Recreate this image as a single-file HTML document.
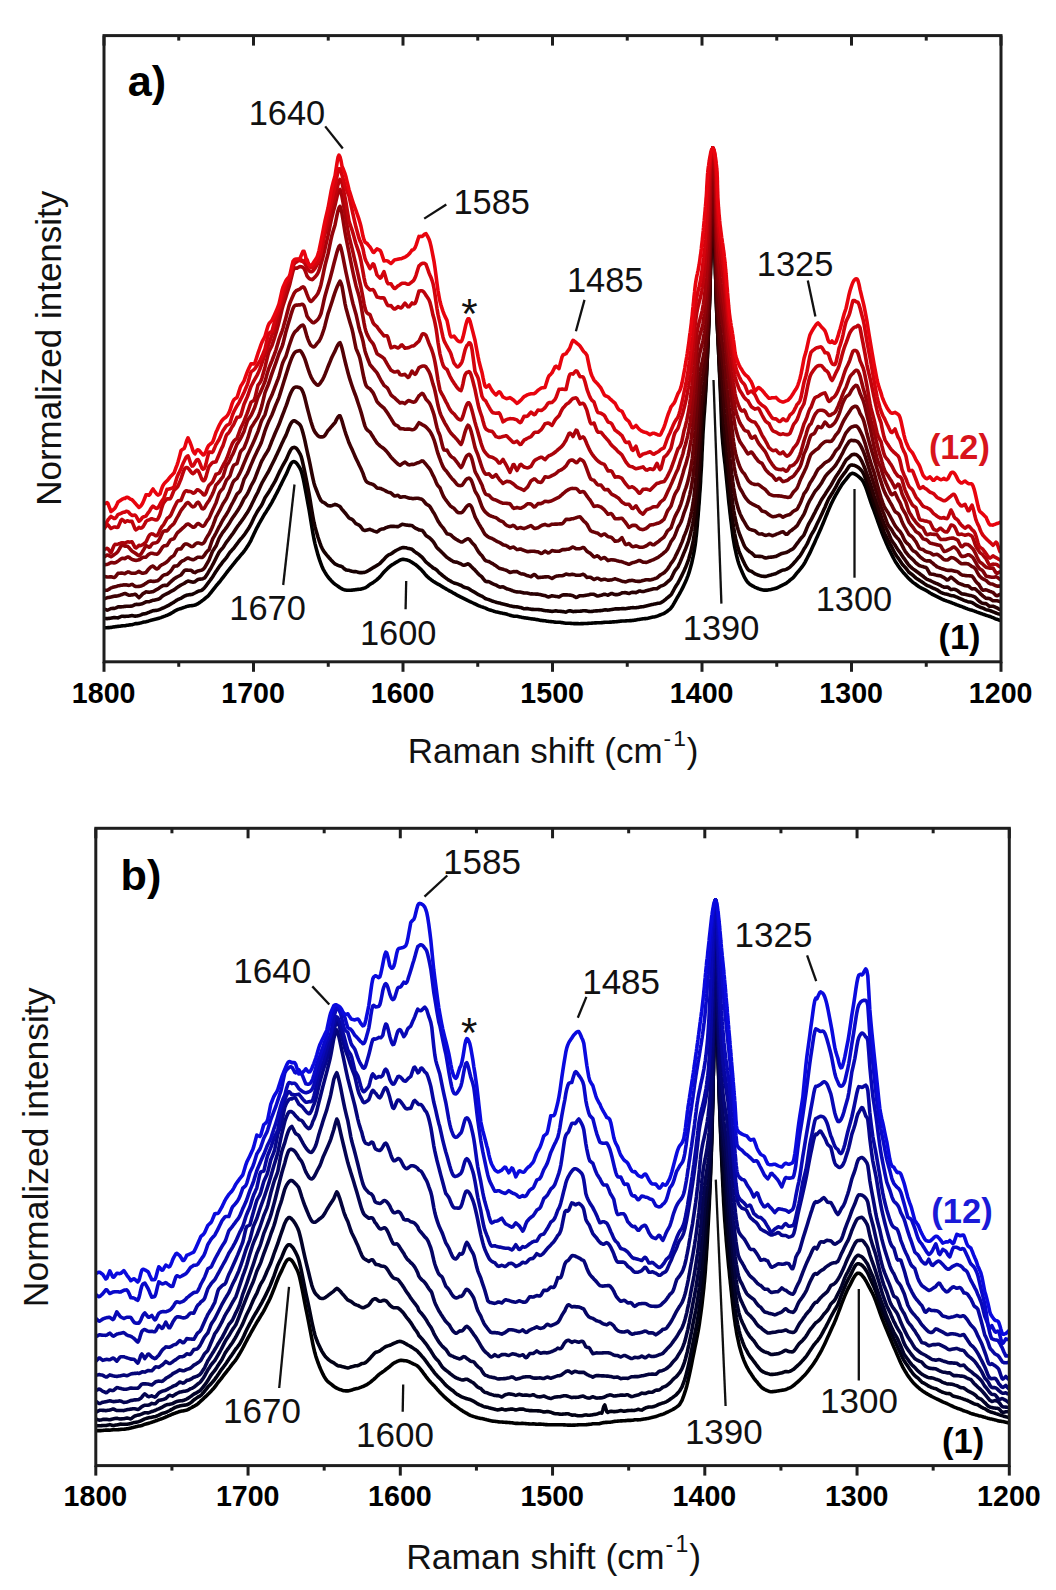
<!DOCTYPE html>
<html><head><meta charset="utf-8"><style>
html,body{margin:0;padding:0;background:#fff;}
svg{display:block;font-family:'Liberation Sans',sans-serif}
</style></head><body>
<svg width="1056" height="1590" viewBox="0 0 1056 1590">
<defs>
<clipPath id="ca"><rect x="104.0" y="35.6" width="897.0" height="626.2"/></clipPath>
<clipPath id="cb"><rect x="95.8" y="828.3" width="913.5" height="637.3"/></clipPath>
</defs>
<rect width="100%" height="100%" fill="#fff"/>
<g>
<g clip-path="url(#ca)" fill="none" stroke-width="3.60" stroke-linejoin="round" stroke-linecap="round">
<path d="M104.0 627.7L105.0 627.7L106.0 627.7L107.0 627.7L108.0 627.6L109.0 627.6L110.0 627.5L111.0 627.4L112.0 627.2L113.0 627.0L114.0 626.9L115.0 626.7L116.0 626.6L117.0 626.5L118.0 626.4L119.0 626.3L120.0 626.2L121.0 626.0L122.0 625.9L123.0 625.8L124.0 625.7L125.0 625.7L126.0 625.5L127.0 625.3L128.0 625.2L129.0 625.0L130.0 624.9L131.0 624.8L132.0 624.7L133.0 624.4L134.0 624.1L135.0 623.8L136.0 623.6L137.0 623.6L138.0 623.5L139.0 623.4L140.0 623.1L141.0 622.9L142.0 622.6L143.0 622.3L144.0 622.1L145.0 621.9L146.0 621.7L147.0 621.4L148.0 621.2L149.0 620.9L150.0 620.6L151.0 620.3L152.0 620.1L153.0 619.8L154.0 619.6L155.0 619.3L156.0 619.1L157.0 618.8L158.0 618.5L159.0 618.2L160.0 617.9L161.0 617.6L162.0 617.2L163.0 616.8L164.0 616.4L165.0 616.1L166.0 615.7L167.0 615.3L168.0 614.9L169.0 614.4L170.0 614.0L171.0 613.4L172.0 612.8L173.0 612.2L174.0 611.5L175.0 610.9L176.0 610.4L177.0 609.9L178.0 609.4L179.0 609.1L180.0 608.8L181.0 608.5L182.0 608.1L183.0 607.8L184.0 607.4L185.0 607.1L186.0 606.7L187.0 606.4L188.0 606.1L189.0 606.0L190.0 605.8L191.0 605.7L192.0 605.6L193.0 605.5L194.0 605.3L195.0 605.0L196.0 604.7L197.0 604.2L198.0 603.6L199.0 603.0L200.0 602.3L201.0 601.6L202.0 600.8L203.0 600.1L204.0 599.3L205.0 598.5L206.0 597.7L207.0 596.9L208.0 595.9L209.0 594.9L210.0 593.7L211.0 592.5L212.0 591.2L213.0 589.9L214.0 588.6L215.0 587.3L216.0 586.0L217.0 584.8L218.0 583.7L219.0 582.5L220.0 581.3L221.0 580.0L222.0 578.7L223.0 577.5L224.0 576.2L225.0 574.8L226.0 573.5L227.0 572.2L228.0 570.9L229.0 569.7L230.0 568.4L231.0 567.1L232.0 565.9L233.0 564.6L234.0 563.4L235.0 562.1L236.0 560.9L237.0 559.7L238.0 558.5L239.0 557.3L240.0 556.1L241.0 554.9L242.0 553.8L243.0 552.6L244.0 551.3L245.0 550.0L246.0 548.6L247.0 547.1L248.0 545.6L249.0 543.9L250.0 542.2L251.0 540.3L252.0 538.1L253.0 536.0L254.0 533.8L255.0 531.7L256.0 529.6L257.0 527.7L258.0 525.8L259.0 523.9L260.0 522.2L261.0 520.4L262.0 518.7L263.0 516.9L264.0 515.2L265.0 513.5L266.0 512.0L267.0 510.4L268.0 508.8L269.0 507.2L270.0 505.5L271.0 503.8L272.0 502.1L273.0 500.2L274.0 498.4L275.0 496.4L276.0 494.5L277.0 492.6L278.0 490.7L279.0 488.7L280.0 486.6L281.0 484.6L282.0 482.5L283.0 480.5L284.0 478.5L285.0 476.5L286.0 474.6L287.0 472.4L288.0 470.1L289.0 467.7L290.0 465.6L291.0 463.7L292.0 462.4L293.0 461.7L294.0 461.6L295.0 462.0L296.0 462.6L297.0 463.7L298.0 465.1L299.0 466.7L300.0 468.4L301.0 470.4L302.0 473.6L303.0 477.7L304.0 482.4L305.0 487.6L306.0 493.0L307.0 498.4L308.0 503.8L309.0 509.2L310.0 515.2L311.0 521.5L312.0 527.7L313.0 533.7L314.0 539.0L315.0 543.6L316.0 547.6L317.0 551.3L318.0 554.9L319.0 558.1L320.0 561.2L321.0 563.9L322.0 566.5L323.0 568.8L324.0 570.7L325.0 572.4L326.0 574.0L327.0 575.5L328.0 576.9L329.0 578.2L330.0 579.3L331.0 580.4L332.0 581.4L333.0 582.5L334.0 583.4L335.0 584.2L336.0 584.9L337.0 585.6L338.0 586.3L339.0 587.0L340.0 587.7L341.0 588.3L342.0 588.9L343.0 589.3L344.0 589.7L345.0 589.9L346.0 590.1L347.0 590.2L348.0 590.3L349.0 590.3L350.0 590.3L351.0 590.2L352.0 590.1L353.0 590.0L354.0 589.9L355.0 589.7L356.0 589.6L357.0 589.5L358.0 589.4L359.0 589.3L360.0 589.2L361.0 589.1L362.0 588.8L363.0 588.6L364.0 588.2L365.0 587.8L366.0 587.3L367.0 586.7L368.0 586.0L369.0 585.2L370.0 584.4L371.0 583.8L372.0 583.2L373.0 582.6L374.0 581.9L375.0 581.1L376.0 580.4L377.0 579.6L378.0 578.7L379.0 577.8L380.0 576.7L381.0 575.6L382.0 574.4L383.0 573.2L384.0 572.0L385.0 571.0L386.0 570.0L387.0 569.1L388.0 568.1L389.0 567.2L390.0 566.3L391.0 565.5L392.0 564.9L393.0 564.3L394.0 563.7L395.0 563.0L396.0 562.4L397.0 561.9L398.0 561.3L399.0 560.7L400.0 560.2L401.0 559.7L402.0 559.4L403.0 559.4L404.0 559.4L405.0 559.6L406.0 559.7L407.0 559.9L408.0 560.3L409.0 560.7L410.0 561.2L411.0 561.8L412.0 562.4L413.0 563.0L414.0 563.7L415.0 564.3L416.0 565.0L417.0 565.8L418.0 566.7L419.0 567.7L420.0 568.6L421.0 569.6L422.0 570.6L423.0 571.7L424.0 572.9L425.0 574.1L426.0 575.2L427.0 576.3L428.0 577.2L429.0 578.1L430.0 578.9L431.0 579.7L432.0 580.4L433.0 581.2L434.0 581.8L435.0 582.4L436.0 583.0L437.0 583.6L438.0 584.1L439.0 584.7L440.0 585.2L441.0 585.9L442.0 586.5L443.0 587.1L444.0 587.7L445.0 588.3L446.0 588.9L447.0 589.5L448.0 590.0L449.0 590.6L450.0 591.2L451.0 591.7L452.0 592.2L453.0 592.8L454.0 593.3L455.0 593.9L456.0 594.5L457.0 595.1L458.0 595.6L459.0 596.1L460.0 596.6L461.0 597.2L462.0 597.7L463.0 598.2L464.0 598.7L465.0 599.2L466.0 599.7L467.0 600.2L468.0 600.7L469.0 601.1L470.0 601.6L471.0 602.0L472.0 602.5L473.0 603.0L474.0 603.5L475.0 603.9L476.0 604.4L477.0 604.9L478.0 605.4L479.0 605.8L480.0 606.2L481.0 606.6L482.0 606.9L483.0 607.2L484.0 607.6L485.0 607.9L486.0 608.3L487.0 608.8L488.0 609.3L489.0 609.7L490.0 610.0L491.0 610.3L492.0 610.6L493.0 610.9L494.0 611.3L495.0 611.6L496.0 611.9L497.0 612.1L498.0 612.3L499.0 612.5L500.0 612.7L501.0 612.9L502.0 613.1L503.0 613.4L504.0 613.6L505.0 613.8L506.0 613.9L507.0 614.2L508.0 614.6L509.0 614.9L510.0 615.2L511.0 615.5L512.0 615.8L513.0 616.0L514.0 616.2L515.0 616.2L516.0 616.3L517.0 616.3L518.0 616.5L519.0 616.7L520.0 616.9L521.0 617.1L522.0 617.4L523.0 617.6L524.0 617.8L525.0 617.9L526.0 618.0L527.0 618.1L528.0 618.2L529.0 618.4L530.0 618.6L531.0 618.7L532.0 618.9L533.0 619.0L534.0 619.1L535.0 619.3L536.0 619.5L537.0 619.6L538.0 619.8L539.0 620.0L540.0 620.2L541.0 620.4L542.0 620.5L543.0 620.6L544.0 620.7L545.0 620.8L546.0 621.0L547.0 621.2L548.0 621.3L549.0 621.5L550.0 621.5L551.0 621.6L552.0 621.7L553.0 621.8L554.0 622.0L555.0 622.1L556.0 622.2L557.0 622.2L558.0 622.2L559.0 622.2L560.0 622.3L561.0 622.5L562.0 622.6L563.0 622.7L564.0 622.9L565.0 623.1L566.0 623.2L567.0 623.3L568.0 623.3L569.0 623.2L570.0 623.3L571.0 623.4L572.0 623.5L573.0 623.5L574.0 623.6L575.0 623.6L576.0 623.6L577.0 623.6L578.0 623.6L579.0 623.7L580.0 623.7L581.0 623.6L582.0 623.6L583.0 623.6L584.0 623.5L585.0 623.5L586.0 623.5L587.0 623.5L588.0 623.4L589.0 623.3L590.0 623.3L591.0 623.2L592.0 623.1L593.0 623.0L594.0 623.0L595.0 622.9L596.0 622.9L597.0 622.8L598.0 622.8L599.0 622.7L600.0 622.7L601.0 622.7L602.0 622.6L603.0 622.5L604.0 622.4L605.0 622.3L606.0 622.3L607.0 622.2L608.0 622.2L609.0 622.2L610.0 622.1L611.0 622.1L612.0 622.0L613.0 621.9L614.0 621.9L615.0 621.8L616.0 621.7L617.0 621.6L618.0 621.5L619.0 621.4L620.0 621.3L621.0 621.1L622.0 621.0L623.0 621.0L624.0 621.0L625.0 621.0L626.0 620.9L627.0 620.8L628.0 620.8L629.0 620.7L630.0 620.6L631.0 620.6L632.0 620.5L633.0 620.4L634.0 620.2L635.0 620.1L636.0 620.0L637.0 619.8L638.0 619.6L639.0 619.4L640.0 619.2L641.0 619.1L642.0 618.9L643.0 618.7L644.0 618.7L645.0 618.6L646.0 618.6L647.0 618.4L648.0 618.2L649.0 617.9L650.0 617.7L651.0 617.5L652.0 617.3L653.0 617.1L654.0 616.9L655.0 616.7L656.0 616.4L657.0 616.2L658.0 615.8L659.0 615.4L660.0 615.0L661.0 614.6L662.0 614.2L663.0 613.8L664.0 613.3L665.0 612.8L666.0 612.1L667.0 611.5L668.0 610.7L669.0 609.9L670.0 609.1L671.0 608.0L672.0 606.7L673.0 605.1L674.0 603.4L675.0 601.6L676.0 599.8L677.0 598.0L678.0 596.3L679.0 594.6L680.0 592.8L681.0 591.0L682.0 589.1L683.0 587.1L684.0 585.0L685.4 581.9L686.8 578.7L688.0 575.6L689.1 572.4L690.0 569.3L690.9 566.1L691.7 563.0L692.4 559.8L693.1 556.7L693.7 553.6L694.3 550.4L694.8 547.3L695.3 544.1L695.7 541.0L696.0 537.8L696.4 534.7L696.7 531.6L697.0 528.4L697.3 525.3L697.5 522.1L697.8 519.0L698.1 515.8L698.3 512.7L698.6 509.5L698.8 506.4L699.1 503.3L699.3 500.1L699.5 497.0L699.7 493.8L700.0 490.7L700.2 487.5L700.4 484.4L700.6 481.3L700.7 478.1L700.9 475.0L701.1 471.8L701.3 468.7L701.5 465.5L701.6 462.4L701.8 459.2L701.9 456.1L702.0 453.0L702.2 449.8L702.3 446.7L702.5 443.5L702.6 440.4L702.8 437.2L702.9 434.1L703.1 430.9L703.3 427.8L703.5 424.7L703.7 421.5L703.9 418.4L704.1 415.2L704.4 412.1L704.6 408.9L704.8 405.8L705.0 402.7L705.2 399.5L705.4 396.4L705.6 393.2L705.8 390.1L705.9 386.9L706.1 383.8L706.3 380.6L706.4 377.5L706.6 374.4L706.7 371.2L706.9 368.1L707.0 364.9L707.2 361.8L707.3 358.6L707.5 355.5L707.6 352.4L707.7 349.2L707.9 346.1L708.0 342.9L708.1 339.8L708.3 336.6L708.4 333.5L708.5 330.3L708.6 327.2L708.8 324.1L708.9 320.9L709.0 317.8L709.1 314.6L709.2 311.5L709.3 308.3L709.4 305.2L709.5 302.1L709.6 298.9L709.7 295.8L709.8 292.6L709.9 289.5L710.0 286.3L710.1 283.2L710.2 280.0L710.3 276.9L710.4 273.8L710.4 270.6L710.5 267.5L710.6 264.3L710.7 261.2L710.8 258.0L710.8 254.9L710.9 251.7L711.0 248.6L711.1 245.5L711.1 242.3L711.2 239.2L711.3 236.0L711.4 232.9L711.4 229.7L711.5 226.6L711.6 223.5L711.6 220.3L711.7 217.2L711.8 214.0L711.8 210.9L711.9 207.7L711.9 204.6L712.0 201.4L712.1 198.3L712.1 195.2L712.2 192.0L712.2 188.9L712.3 185.7L712.3 182.6L712.3 179.4L712.4 176.3L712.4 173.2L712.4 170.0L712.5 166.9L712.5 163.7L712.5 160.6L712.6 157.4L712.6 154.3L712.7 151.1L712.8 148.0L713.0 151.0L713.0 154.0L713.1 157.0L713.1 160.1L713.2 163.1L713.2 166.1L713.3 169.1L713.3 172.1L713.4 175.1L713.4 178.1L713.4 181.2L713.5 184.2L713.5 187.2L713.6 190.2L713.7 193.2L713.7 196.2L713.8 199.2L713.9 202.3L713.9 205.3L714.0 208.3L714.1 211.3L714.2 214.3L714.2 217.3L714.3 220.3L714.4 223.4L714.5 226.4L714.5 229.4L714.6 232.4L714.7 235.4L714.8 238.4L714.8 241.4L714.9 244.5L715.0 247.5L715.0 250.5L715.1 253.5L715.2 256.5L715.3 259.5L715.3 262.5L715.4 265.6L715.5 268.6L715.5 271.6L715.6 274.6L715.7 277.6L715.8 280.6L715.8 283.6L715.9 286.7L716.0 289.7L716.1 292.7L716.2 295.7L716.3 298.7L716.4 301.7L716.5 304.7L716.6 307.8L716.7 310.8L716.8 313.8L716.9 316.8L717.1 319.8L717.2 322.8L717.4 325.8L717.5 328.9L717.6 331.9L717.8 334.9L717.9 337.9L718.1 340.9L718.2 343.9L718.4 346.9L718.5 350.0L718.6 353.0L718.8 356.0L718.9 359.0L719.0 362.0L719.2 365.0L719.3 368.1L719.4 371.1L719.6 374.1L719.7 377.1L719.9 380.1L720.0 383.1L720.1 386.1L720.3 389.2L720.4 392.2L720.5 395.2L720.6 398.2L720.7 401.2L720.9 404.2L721.0 407.2L721.1 410.3L721.2 413.3L721.3 416.3L721.4 419.3L721.5 422.3L721.6 425.3L721.8 428.3L721.9 431.4L722.1 434.4L722.3 437.4L722.6 440.4L722.8 443.4L723.1 446.4L723.4 449.4L723.7 452.5L724.0 455.5L724.4 458.5L724.7 461.5L725.1 464.5L725.4 467.5L725.7 470.5L726.0 473.6L726.3 476.6L726.6 479.6L726.9 482.6L727.2 485.6L727.5 488.6L727.8 491.6L728.1 494.7L728.4 497.7L728.7 500.7L729.0 503.7L729.4 506.7L729.7 509.7L730.0 512.7L730.4 515.8L730.7 518.8L731.1 521.8L731.5 524.8L731.8 527.8L732.2 530.8L732.6 533.8L733.0 536.9L733.5 539.9L734.0 542.9L734.5 545.9L735.1 548.9L735.8 551.9L736.4 554.9L737.2 558.0L738.0 561.0L738.9 564.0L740.0 567.0L741.0 569.4L742.0 571.8L743.0 574.1L744.0 576.2L745.0 578.2L746.0 579.9L747.0 581.3L748.0 582.6L749.0 583.6L750.0 584.4L751.0 585.0L752.0 585.6L753.0 586.2L754.0 586.7L755.0 587.3L756.0 587.7L757.0 588.1L758.0 588.5L759.0 588.9L760.0 589.2L761.0 589.6L762.0 589.8L763.0 590.0L764.0 590.1L765.0 590.1L766.0 590.1L767.0 590.1L768.0 590.0L769.0 589.8L770.0 589.7L771.0 589.5L772.0 589.2L773.0 589.0L774.0 588.8L775.0 588.5L776.0 588.3L777.0 587.8L778.0 587.3L779.0 586.9L780.0 586.4L781.0 585.8L782.0 585.3L783.0 584.8L784.0 584.4L785.0 583.9L786.0 583.4L787.0 582.7L788.0 581.9L789.0 581.1L790.0 580.2L791.0 579.4L792.0 578.6L793.0 577.8L794.0 576.7L795.0 575.5L796.0 574.2L797.0 572.9L798.0 571.8L799.0 570.6L800.0 569.4L801.0 568.2L802.0 566.9L803.0 565.5L804.0 564.0L805.0 562.3L806.0 560.4L807.0 558.5L808.0 556.5L809.0 554.6L810.0 552.6L811.0 550.5L812.0 548.3L813.0 546.1L814.0 543.9L815.0 541.7L816.0 539.4L817.0 537.2L818.0 535.0L819.0 532.8L820.0 530.6L821.0 528.2L822.0 525.9L823.0 523.5L824.0 521.1L825.0 518.6L826.0 516.1L827.0 513.7L828.0 511.2L829.0 508.9L830.0 506.6L831.0 504.3L832.0 502.2L833.0 500.2L834.0 498.2L835.0 496.3L836.0 494.5L837.0 492.8L838.0 491.1L839.0 489.4L840.0 487.7L841.0 486.1L842.0 484.5L843.0 483.1L844.0 481.8L845.0 480.6L846.0 479.5L847.0 478.2L848.0 476.9L849.0 475.6L850.0 474.5L851.0 473.8L852.0 473.4L853.0 473.4L854.0 473.7L855.0 474.1L856.0 474.7L857.0 475.4L858.0 476.1L859.0 477.0L860.0 477.9L861.0 478.8L862.0 479.9L863.0 481.3L864.0 483.2L865.0 485.4L866.0 487.9L867.0 490.6L868.0 493.6L869.0 496.7L870.0 499.7L871.0 502.7L872.0 505.5L873.0 508.1L874.0 510.6L875.0 513.4L876.0 516.1L877.0 519.0L878.0 521.8L879.0 524.6L880.0 527.4L881.0 530.2L882.0 532.8L883.0 535.3L884.0 537.7L885.0 540.1L886.0 542.5L887.0 544.8L888.0 547.1L889.0 549.1L890.0 551.2L891.0 553.1L892.0 555.1L893.0 557.1L894.0 559.0L895.0 560.8L896.0 562.5L897.0 564.1L898.0 565.6L899.0 567.0L900.0 568.4L901.0 569.7L902.0 570.9L903.0 572.1L904.0 573.3L905.0 574.4L906.0 575.5L907.0 576.6L908.0 577.7L909.0 578.7L910.0 579.7L911.0 580.6L912.0 581.5L913.0 582.4L914.0 583.1L915.0 583.8L916.0 584.5L917.0 585.3L918.0 586.0L919.0 586.7L920.0 587.3L921.0 587.9L922.0 588.4L923.0 588.9L924.0 589.4L925.0 589.9L926.0 590.4L927.0 591.0L928.0 591.6L929.0 592.3L930.0 593.0L931.0 593.5L932.0 594.1L933.0 594.7L934.0 595.2L935.0 595.7L936.0 596.2L937.0 596.7L938.0 597.2L939.0 597.7L940.0 598.2L941.0 598.7L942.0 599.2L943.0 599.6L944.0 600.0L945.0 600.4L946.0 600.7L947.0 601.1L948.0 601.4L949.0 601.8L950.0 602.1L951.0 602.5L952.0 602.9L953.0 603.3L954.0 603.7L955.0 604.1L956.0 604.5L957.0 604.9L958.0 605.2L959.0 605.6L960.0 606.0L961.0 606.3L962.0 606.7L963.0 607.1L964.0 607.5L965.0 607.9L966.0 608.3L967.0 608.7L968.0 609.1L969.0 609.4L970.0 609.7L971.0 609.9L972.0 610.2L973.0 610.6L974.0 610.9L975.0 611.3L976.0 611.7L977.0 612.1L978.0 612.4L979.0 612.8L980.0 613.1L981.0 613.5L982.0 613.8L983.0 614.2L984.0 614.5L985.0 614.9L986.0 615.3L987.0 615.6L988.0 615.9L989.0 616.2L990.0 616.5L991.0 616.9L992.0 617.3L993.0 617.7L994.0 618.1L995.0 618.6L996.0 619.0L997.0 619.3L998.0 619.6L999.0 620.0L1000.0 620.3L1001.0 620.6" stroke="#000000"/>
<path d="M104.0 618.4L105.0 618.5L106.0 618.5L107.0 618.6L108.0 618.5L109.0 618.4L110.0 618.2L111.0 618.1L112.0 617.9L113.0 617.8L114.0 617.6L115.0 617.6L116.0 617.7L117.0 617.8L118.0 617.9L119.0 617.4L120.0 617.0L121.0 616.5L122.0 616.3L123.0 616.3L124.0 616.4L125.0 616.5L126.0 616.3L127.0 616.2L128.0 616.2L129.0 616.1L130.0 615.9L131.0 615.8L132.0 615.6L133.0 615.8L134.0 616.0L135.0 616.1L136.0 616.1L137.0 615.9L138.0 615.7L139.0 615.5L140.0 615.2L141.0 614.8L142.0 614.3L143.0 614.0L144.0 613.9L145.0 613.8L146.0 613.6L147.0 613.2L148.0 612.7L149.0 612.3L150.0 611.9L151.0 611.5L152.0 611.1L153.0 610.7L154.0 610.6L155.0 610.5L156.0 610.4L157.0 610.2L158.0 610.0L159.0 609.7L160.0 609.3L161.0 608.9L162.0 608.4L163.0 608.0L164.0 607.6L165.0 607.1L166.0 606.7L167.0 606.2L168.0 605.7L169.0 605.1L170.0 604.5L171.0 603.9L172.0 603.3L173.0 602.7L174.0 602.1L175.0 601.4L176.0 600.7L177.0 600.0L178.0 599.5L179.0 599.1L180.0 598.7L181.0 598.3L182.0 597.6L183.0 597.0L184.0 596.4L185.0 595.9L186.0 595.5L187.0 595.1L188.0 594.9L189.0 594.7L190.0 594.6L191.0 594.6L192.0 594.4L193.0 594.0L194.0 593.5L195.0 593.0L196.0 592.5L197.0 591.9L198.0 591.4L199.0 591.0L200.0 590.8L201.0 590.5L202.0 590.1L203.0 589.2L204.0 588.2L205.0 587.1L206.0 585.9L207.0 584.5L208.0 583.2L209.0 581.8L210.0 580.5L211.0 579.1L212.0 577.7L213.0 576.2L214.0 574.6L215.0 573.0L216.0 571.4L217.0 570.0L218.0 568.5L219.0 567.0L220.0 565.7L221.0 564.4L222.0 563.0L223.0 561.6L224.0 560.5L225.0 559.3L226.0 558.1L227.0 556.8L228.0 555.3L229.0 553.8L230.0 552.3L231.0 551.2L232.0 550.1L233.0 549.1L234.0 547.9L235.0 546.5L236.0 545.2L237.0 543.8L238.0 542.5L239.0 541.2L240.0 539.9L241.0 538.7L242.0 537.6L243.0 536.4L244.0 535.2L245.0 533.8L246.0 532.3L247.0 530.8L248.0 529.3L249.0 527.7L250.0 526.0L251.0 524.1L252.0 522.1L253.0 519.9L254.0 517.8L255.0 515.8L256.0 514.0L257.0 512.2L258.0 510.5L259.0 509.0L260.0 507.5L261.0 506.2L262.0 504.4L263.0 502.2L264.0 500.0L265.0 497.8L266.0 496.3L267.0 494.8L268.0 493.3L269.0 491.8L270.0 490.0L271.0 488.3L272.0 486.5L273.0 484.8L274.0 483.1L275.0 481.4L276.0 479.4L277.0 477.3L278.0 475.1L279.0 472.9L280.0 470.9L281.0 469.0L282.0 467.0L283.0 465.2L284.0 463.4L285.0 461.6L286.0 459.9L287.0 457.7L288.0 455.4L289.0 453.1L290.0 451.1L291.0 449.4L292.0 448.2L293.0 447.7L294.0 447.4L295.0 447.5L296.0 448.1L297.0 449.1L298.0 450.5L299.0 452.1L300.0 453.8L301.0 456.1L302.0 459.5L303.0 463.8L304.0 468.3L305.0 473.1L306.0 478.1L307.0 483.2L308.0 488.4L309.0 493.6L310.0 499.4L311.0 505.5L312.0 511.6L313.0 517.3L314.0 522.5L315.0 526.7L316.0 530.4L317.0 533.8L318.0 537.2L319.0 540.3L320.0 543.2L321.0 545.9L322.0 548.1L323.0 550.0L324.0 551.6L325.0 552.9L326.0 554.2L327.0 555.4L328.0 556.5L329.0 557.7L330.0 558.8L331.0 559.9L332.0 560.9L333.0 562.0L334.0 563.0L335.0 563.9L336.0 564.4L337.0 564.8L338.0 565.3L339.0 565.7L340.0 566.0L341.0 566.3L342.0 566.6L343.0 567.6L344.0 568.5L345.0 569.3L346.0 569.9L347.0 570.1L348.0 570.2L349.0 570.3L350.0 570.7L351.0 571.0L352.0 571.3L353.0 571.5L354.0 571.6L355.0 571.6L356.0 571.6L357.0 571.9L358.0 572.2L359.0 572.5L360.0 572.6L361.0 572.6L362.0 572.6L363.0 572.5L364.0 572.4L365.0 572.2L366.0 571.8L367.0 571.4L368.0 570.8L369.0 570.2L370.0 569.6L371.0 569.0L372.0 568.4L373.0 567.7L374.0 567.1L375.0 566.6L376.0 566.0L377.0 565.4L378.0 564.8L379.0 564.1L380.0 563.3L381.0 562.4L382.0 561.3L383.0 560.2L384.0 559.2L385.0 558.1L386.0 557.0L387.0 556.1L388.0 555.3L389.0 554.7L390.0 554.3L391.0 553.9L392.0 553.2L393.0 552.5L394.0 551.8L395.0 551.1L396.0 550.5L397.0 550.0L398.0 549.5L399.0 549.0L400.0 548.5L401.0 548.1L402.0 547.8L403.0 547.6L404.0 547.6L405.0 547.7L406.0 547.8L407.0 548.1L408.0 548.4L409.0 548.6L410.0 548.8L411.0 549.0L412.0 549.3L413.0 550.2L414.0 551.1L415.0 551.9L416.0 552.6L417.0 553.2L418.0 553.9L419.0 554.7L420.0 555.5L421.0 556.3L422.0 557.2L423.0 558.3L424.0 559.5L425.0 560.8L426.0 562.0L427.0 562.9L428.0 563.7L429.0 564.5L430.0 565.3L431.0 566.1L432.0 566.9L433.0 567.8L434.0 568.3L435.0 568.9L436.0 569.5L437.0 570.3L438.0 571.4L439.0 572.4L440.0 573.4L441.0 574.2L442.0 575.0L443.0 575.8L444.0 576.6L445.0 577.4L446.0 578.1L447.0 578.9L448.0 579.6L449.0 580.2L450.0 580.8L451.0 581.4L452.0 582.0L453.0 582.5L454.0 583.0L455.0 583.3L456.0 583.6L457.0 583.8L458.0 584.2L459.0 584.6L460.0 585.0L461.0 585.3L462.0 586.0L463.0 586.6L464.0 587.2L465.0 587.6L466.0 587.8L467.0 588.0L468.0 588.3L469.0 588.9L470.0 589.5L471.0 590.2L472.0 590.8L473.0 591.4L474.0 591.9L475.0 592.5L476.0 593.1L477.0 593.8L478.0 594.4L479.0 594.9L480.0 595.3L481.0 595.8L482.0 596.2L483.0 596.9L484.0 597.6L485.0 598.3L486.0 598.8L487.0 599.1L488.0 599.4L489.0 599.7L490.0 600.1L491.0 600.5L492.0 601.0L493.0 601.3L494.0 601.6L495.0 601.9L496.0 602.2L497.0 602.5L498.0 602.7L499.0 602.9L500.0 603.1L501.0 603.5L502.0 603.8L503.0 604.1L504.0 604.3L505.0 604.5L506.0 604.7L507.0 605.0L508.0 605.3L509.0 605.6L510.0 605.9L511.0 606.1L512.0 606.3L513.0 606.5L514.0 606.6L515.0 606.7L516.0 606.8L517.0 606.9L518.0 607.0L519.0 607.2L520.0 607.4L521.0 607.6L522.0 608.0L523.0 608.4L524.0 608.8L525.0 608.7L526.0 608.6L527.0 608.6L528.0 608.6L529.0 608.9L530.0 609.1L531.0 609.3L532.0 609.4L533.0 609.4L534.0 609.5L535.0 609.5L536.0 609.5L537.0 609.5L538.0 609.5L539.0 609.6L540.0 609.7L541.0 609.8L542.0 610.0L543.0 610.2L544.0 610.4L545.0 610.6L546.0 610.7L547.0 610.8L548.0 610.9L549.0 611.0L550.0 611.1L551.0 611.3L552.0 611.4L553.0 611.2L554.0 611.1L555.0 610.9L556.0 610.9L557.0 611.0L558.0 611.2L559.0 611.3L560.0 611.3L561.0 611.4L562.0 611.5L563.0 611.6L564.0 611.8L565.0 612.0L566.0 612.1L567.0 611.7L568.0 611.2L569.0 610.8L570.0 610.7L571.0 611.0L572.0 611.3L573.0 611.6L574.0 611.5L575.0 611.4L576.0 611.4L577.0 611.3L578.0 611.3L579.0 611.3L580.0 611.3L581.0 611.1L582.0 611.0L583.0 610.8L584.0 610.7L585.0 610.8L586.0 610.9L587.0 611.0L588.0 611.2L589.0 611.4L590.0 611.5L591.0 611.5L592.0 611.4L593.0 611.2L594.0 611.0L595.0 611.0L596.0 610.9L597.0 610.9L598.0 610.8L599.0 610.7L600.0 610.6L601.0 610.6L602.0 610.4L603.0 610.2L604.0 610.0L605.0 609.9L606.0 609.9L607.0 610.0L608.0 610.1L609.0 609.9L610.0 609.7L611.0 609.6L612.0 609.4L613.0 609.2L614.0 609.1L615.0 608.9L616.0 608.9L617.0 608.9L618.0 608.9L619.0 608.9L620.0 608.8L621.0 608.7L622.0 608.6L623.0 608.6L624.0 608.6L625.0 608.7L626.0 608.6L627.0 608.4L628.0 608.3L629.0 608.1L630.0 608.0L631.0 607.8L632.0 607.7L633.0 607.6L634.0 607.7L635.0 607.8L636.0 607.8L637.0 607.6L638.0 607.4L639.0 607.2L640.0 607.0L641.0 606.9L642.0 606.8L643.0 606.7L644.0 606.5L645.0 606.3L646.0 606.1L647.0 605.8L648.0 605.6L649.0 605.3L650.0 605.1L651.0 604.8L652.0 604.6L653.0 604.4L654.0 604.1L655.0 603.9L656.0 603.7L657.0 603.5L658.0 603.3L659.0 603.2L660.0 603.0L661.0 602.6L662.0 602.0L663.0 601.4L664.0 600.7L665.0 599.9L666.0 599.1L667.0 598.1L668.0 597.3L669.0 596.5L670.0 595.8L671.0 594.8L672.0 593.2L673.0 591.4L674.0 589.5L675.0 587.7L676.0 586.0L677.0 584.4L678.0 582.9L679.0 581.0L680.0 579.1L681.0 577.1L682.0 575.1L683.0 573.0L684.0 570.9L685.4 567.8L686.6 564.8L687.8 561.7L688.8 558.7L689.7 555.6L690.6 552.6L691.3 549.6L692.0 546.5L692.7 543.5L693.3 540.4L693.8 537.4L694.3 534.4L694.8 531.3L695.2 528.3L695.5 525.2L695.8 522.2L696.1 519.1L696.4 516.1L696.7 513.1L697.0 510.0L697.2 507.0L697.5 503.9L697.7 500.9L698.0 497.8L698.2 494.8L698.5 491.8L698.7 488.7L698.9 485.7L699.2 482.6L699.4 479.6L699.6 476.6L699.8 473.5L700.0 470.5L700.2 467.4L700.3 464.4L700.5 461.3L700.7 458.3L700.9 455.3L701.0 452.2L701.2 449.2L701.3 446.1L701.4 443.1L701.6 440.1L701.7 437.2L701.9 434.4L702.1 431.6L702.2 428.9L702.4 426.2L702.6 423.5L702.8 420.8L703.1 418.2L703.3 415.5L703.5 412.9L703.8 410.2L704.1 407.5L704.3 404.8L704.6 402.1L704.8 399.3L705.0 396.5L705.2 393.7L705.4 390.8L705.6 388.0L705.8 385.1L706.0 382.1L706.2 379.2L706.3 376.2L706.5 373.2L706.7 370.2L706.8 367.2L707.0 364.2L707.1 361.1L707.3 358.1L707.4 355.0L707.6 351.9L707.7 348.8L707.8 345.7L708.0 342.6L708.1 339.5L708.2 336.4L708.4 333.3L708.5 330.2L708.6 327.0L708.7 323.9L708.9 320.8L709.0 317.6L709.1 314.5L709.2 311.4L709.3 308.2L709.4 305.1L709.5 302.0L709.6 298.8L709.7 295.7L709.8 292.6L709.9 289.4L710.0 286.3L710.1 283.1L710.2 280.0L710.3 276.8L710.4 273.7L710.4 270.6L710.5 267.4L710.6 264.3L710.7 261.1L710.8 258.0L710.8 254.8L710.9 251.7L711.0 248.6L711.1 245.4L711.1 242.3L711.2 239.1L711.3 236.0L711.4 232.8L711.4 229.7L711.5 226.6L711.6 223.4L711.6 220.3L711.7 217.1L711.8 214.0L711.8 210.9L711.9 207.7L711.9 204.6L712.0 201.4L712.1 198.3L712.1 195.1L712.2 192.0L712.2 188.9L712.3 185.7L712.3 182.6L712.3 179.4L712.4 176.3L712.4 173.1L712.4 170.0L712.5 166.9L712.5 163.7L712.5 160.6L712.6 157.4L712.6 154.3L712.7 151.1L712.8 148.0L713.0 151.0L713.0 154.0L713.1 157.0L713.1 160.1L713.2 163.1L713.2 166.1L713.3 169.1L713.3 172.1L713.4 175.1L713.4 178.1L713.4 181.1L713.5 184.2L713.5 187.2L713.6 190.2L713.7 193.2L713.7 196.2L713.8 199.2L713.9 202.2L713.9 205.2L714.0 208.3L714.1 211.3L714.2 214.3L714.2 217.3L714.3 220.3L714.4 223.3L714.5 226.3L714.5 229.4L714.6 232.4L714.7 235.4L714.8 238.4L714.8 241.4L714.9 244.4L715.0 247.4L715.1 250.4L715.1 253.5L715.2 256.5L715.3 259.5L715.3 262.5L715.4 265.5L715.5 268.5L715.5 271.5L715.6 274.6L715.7 277.6L715.8 280.6L715.8 283.6L715.9 286.6L716.0 289.6L716.1 292.6L716.2 295.6L716.3 298.6L716.4 301.6L716.5 304.7L716.6 307.7L716.7 310.7L716.8 313.7L717.0 316.7L717.1 319.7L717.2 322.7L717.4 325.7L717.5 328.6L717.7 331.6L717.8 334.6L718.0 337.6L718.1 340.6L718.2 343.5L718.4 346.5L718.5 349.4L718.7 352.4L718.8 355.3L718.9 358.2L719.1 361.1L719.2 364.0L719.4 366.9L719.5 369.7L719.7 372.5L719.8 375.4L720.0 378.1L720.1 380.9L720.2 383.6L720.4 386.4L720.5 389.0L720.7 391.7L720.8 394.3L720.9 396.9L721.1 399.5L721.2 402.1L721.3 404.7L721.5 407.2L721.6 409.8L721.7 412.3L721.8 414.9L722.0 417.5L722.1 420.1L722.3 422.8L722.5 425.5L722.7 428.3L722.9 431.2L723.2 434.1L723.4 437.0L723.7 439.9L724.0 442.8L724.3 445.8L724.7 448.7L725.0 451.6L725.4 454.5L725.7 457.4L726.0 460.4L726.3 463.3L726.6 466.2L726.9 469.1L727.2 472.0L727.4 475.0L727.7 477.9L728.0 480.8L728.3 483.7L728.6 486.6L728.9 489.5L729.2 492.5L729.6 495.4L729.9 498.3L730.3 501.2L730.6 504.1L730.9 507.1L731.3 510.0L731.6 512.9L732.0 515.8L732.4 518.7L732.8 521.7L733.2 524.6L733.6 527.5L734.1 530.4L734.6 533.3L735.2 536.3L735.8 539.2L736.5 542.1L737.2 545.0L738.0 547.9L738.9 550.8L740.0 553.8L741.0 556.0L742.0 558.3L743.0 560.5L744.0 562.6L745.0 564.6L746.0 566.4L747.0 568.1L748.0 569.5L749.0 570.3L750.0 570.8L751.0 571.2L752.0 571.7L753.0 572.4L754.0 573.1L755.0 573.8L756.0 574.2L757.0 574.6L758.0 575.0L759.0 575.3L760.0 575.7L761.0 575.9L762.0 576.2L763.0 576.3L764.0 576.4L765.0 576.5L766.0 576.4L767.0 576.1L768.0 575.8L769.0 575.4L770.0 575.2L771.0 575.0L772.0 574.6L773.0 574.4L774.0 574.1L775.0 573.9L776.0 573.5L777.0 573.0L778.0 572.4L779.0 571.8L780.0 571.3L781.0 570.8L782.0 570.4L783.0 570.1L784.0 569.9L785.0 569.7L786.0 569.4L787.0 569.0L788.0 568.4L789.0 567.8L790.0 567.1L791.0 566.1L792.0 565.1L793.0 564.0L794.0 562.8L795.0 561.7L796.0 560.6L797.0 559.4L798.0 558.2L799.0 557.0L800.0 555.8L801.0 554.3L802.0 552.6L803.0 550.9L804.0 549.0L805.0 547.5L806.0 545.9L807.0 544.1L808.0 542.1L809.0 539.8L810.0 537.6L811.0 535.4L812.0 533.7L813.0 532.0L814.0 530.4L815.0 528.4L816.0 526.2L817.0 524.1L818.0 522.0L819.0 520.0L820.0 517.9L821.0 515.8L822.0 513.7L823.0 511.5L824.0 509.3L825.0 507.2L826.0 504.8L827.0 502.5L828.0 500.3L829.0 498.3L830.0 496.7L831.0 495.1L832.0 493.6L833.0 491.8L834.0 490.1L835.0 488.4L836.0 486.6L837.0 484.7L838.0 482.7L839.0 480.8L840.0 479.3L841.0 477.8L842.0 476.4L843.0 475.0L844.0 473.6L845.0 472.3L846.0 471.1L847.0 469.6L848.0 468.1L849.0 466.6L850.0 465.6L851.0 465.1L852.0 464.9L853.0 465.2L854.0 465.3L855.0 465.6L856.0 466.1L857.0 466.6L858.0 467.2L859.0 468.0L860.0 468.9L861.0 470.0L862.0 471.1L863.0 472.7L864.0 474.8L865.0 477.3L866.0 480.1L867.0 483.2L868.0 486.0L869.0 488.8L870.0 491.7L871.0 494.7L872.0 497.8L873.0 500.7L874.0 503.6L875.0 506.5L876.0 509.4L877.0 512.4L878.0 515.2L879.0 517.9L880.0 520.5L881.0 523.0L882.0 526.0L883.0 528.8L884.0 531.6L885.0 534.0L886.0 536.1L887.0 538.1L888.0 540.1L889.0 541.9L890.0 543.8L891.0 545.6L892.0 547.5L893.0 549.6L894.0 551.5L895.0 553.5L896.0 555.0L897.0 556.5L898.0 557.8L899.0 559.3L900.0 560.8L901.0 562.3L902.0 563.8L903.0 565.0L904.0 566.1L905.0 567.2L906.0 568.4L907.0 569.7L908.0 571.0L909.0 572.3L910.0 573.0L911.0 573.8L912.0 574.5L913.0 575.3L914.0 576.3L915.0 577.2L916.0 578.1L917.0 578.8L918.0 579.4L919.0 580.0L920.0 580.7L921.0 581.3L922.0 582.0L923.0 582.6L924.0 583.4L925.0 584.1L926.0 584.8L927.0 585.4L928.0 585.8L929.0 586.2L930.0 586.7L931.0 587.1L932.0 587.6L933.0 588.1L934.0 588.5L935.0 588.9L936.0 589.3L937.0 589.8L938.0 590.5L939.0 591.2L940.0 592.0L941.0 592.5L942.0 592.9L943.0 593.3L944.0 593.6L945.0 593.9L946.0 594.1L947.0 594.3L948.0 594.5L949.0 594.9L950.0 595.2L951.0 595.5L952.0 595.7L953.0 595.8L954.0 596.0L955.0 596.4L956.0 596.8L957.0 597.2L958.0 597.6L959.0 598.1L960.0 598.5L961.0 599.0L962.0 599.4L963.0 599.8L964.0 600.3L965.0 600.7L966.0 601.0L967.0 601.4L968.0 601.7L969.0 601.9L970.0 602.1L971.0 602.3L972.0 602.5L973.0 603.1L974.0 603.7L975.0 604.4L976.0 605.1L977.0 605.6L978.0 606.2L979.0 606.7L980.0 607.1L981.0 607.5L982.0 607.8L983.0 608.2L984.0 608.7L985.0 609.2L986.0 609.6L987.0 609.9L988.0 610.1L989.0 610.3L990.0 610.6L991.0 611.0L992.0 611.4L993.0 611.8L994.0 612.2L995.0 612.6L996.0 613.0L997.0 613.4L998.0 613.7L999.0 613.9L1000.0 614.2L1001.0 614.7" stroke="#150001"/>
<path d="M104.0 608.9L105.0 609.3L106.0 609.7L107.0 610.1L108.0 610.0L109.0 609.5L110.0 609.0L111.0 608.5L112.0 608.5L113.0 608.4L114.0 608.4L115.0 608.2L116.0 607.8L117.0 607.3L118.0 606.9L119.0 606.9L120.0 606.9L121.0 606.9L122.0 606.8L123.0 606.7L124.0 606.5L125.0 606.4L126.0 606.2L127.0 606.2L128.0 606.2L129.0 606.2L130.0 606.2L131.0 606.1L132.0 606.0L133.0 605.6L134.0 605.1L135.0 604.6L136.0 604.4L137.0 604.4L138.0 604.5L139.0 604.4L140.0 604.3L141.0 604.1L142.0 603.8L143.0 603.4L144.0 602.9L145.0 602.4L146.0 601.9L147.0 601.8L148.0 601.7L149.0 601.7L150.0 601.4L151.0 601.0L152.0 600.6L153.0 600.3L154.0 600.2L155.0 600.0L156.0 599.8L157.0 599.6L158.0 599.3L159.0 598.8L160.0 598.3L161.0 597.4L162.0 596.5L163.0 595.7L164.0 595.1L165.0 594.7L166.0 594.2L167.0 593.7L168.0 593.2L169.0 592.6L170.0 592.0L171.0 591.4L172.0 590.9L173.0 590.4L174.0 589.9L175.0 589.1L176.0 588.3L177.0 587.6L178.0 586.9L179.0 586.3L180.0 585.6L181.0 585.0L182.0 584.5L183.0 584.0L184.0 583.5L185.0 582.9L186.0 582.1L187.0 581.5L188.0 581.0L189.0 581.2L190.0 581.4L191.0 581.8L192.0 582.0L193.0 582.1L194.0 582.0L195.0 581.7L196.0 580.9L197.0 580.1L198.0 579.5L199.0 579.2L200.0 579.1L201.0 579.1L202.0 578.9L203.0 578.7L204.0 578.2L205.0 577.6L206.0 576.1L207.0 574.5L208.0 572.9L209.0 571.2L210.0 569.5L211.0 567.8L212.0 566.0L213.0 564.2L214.0 562.2L215.0 560.2L216.0 558.2L217.0 556.2L218.0 554.3L219.0 552.4L220.0 551.0L221.0 549.8L222.0 548.7L223.0 547.6L224.0 546.0L225.0 544.4L226.0 542.8L227.0 541.4L228.0 540.2L229.0 538.8L230.0 537.4L231.0 536.0L232.0 534.6L233.0 533.3L234.0 531.9L235.0 530.3L236.0 528.7L237.0 527.2L238.0 525.8L239.0 524.5L240.0 523.1L241.0 521.8L242.0 520.4L243.0 519.0L244.0 517.6L245.0 516.1L246.0 514.6L247.0 513.1L248.0 511.5L249.0 509.7L250.0 507.8L251.0 505.9L252.0 503.8L253.0 501.8L254.0 499.7L255.0 497.6L256.0 495.7L257.0 493.7L258.0 491.8L259.0 489.6L260.0 487.3L261.0 485.0L262.0 482.9L263.0 481.2L264.0 479.4L265.0 477.6L266.0 475.9L267.0 474.2L268.0 472.5L269.0 470.6L270.0 468.6L271.0 466.5L272.0 464.5L273.0 462.5L274.0 460.5L275.0 458.4L276.0 456.3L277.0 454.2L278.0 452.1L279.0 449.9L280.0 447.7L281.0 445.5L282.0 443.3L283.0 441.2L284.0 439.1L285.0 437.1L286.0 435.1L287.0 432.6L288.0 430.0L289.0 427.4L290.0 425.2L291.0 423.3L292.0 421.9L293.0 420.9L294.0 420.7L295.0 421.0L296.0 421.6L297.0 422.4L298.0 423.0L299.0 423.9L300.0 424.8L301.0 426.7L302.0 429.5L303.0 433.0L304.0 436.9L305.0 441.2L306.0 445.8L307.0 450.5L308.0 455.0L309.0 459.4L310.0 464.1L311.0 469.1L312.0 474.2L313.0 478.9L314.0 483.2L315.0 486.4L316.0 489.0L317.0 491.5L318.0 494.1L319.0 496.6L320.0 498.7L321.0 500.6L322.0 501.6L323.0 502.2L324.0 502.6L325.0 503.2L326.0 504.1L327.0 504.9L328.0 505.7L329.0 505.8L330.0 505.9L331.0 505.9L332.0 505.6L333.0 505.2L334.0 504.8L335.0 504.4L336.0 504.7L337.0 505.0L338.0 505.5L339.0 506.0L340.0 506.6L341.0 507.9L342.0 509.4L343.0 510.5L344.0 511.7L345.0 512.8L346.0 514.0L347.0 515.3L348.0 516.7L349.0 518.0L350.0 518.5L351.0 518.9L352.0 519.4L353.0 520.2L354.0 521.4L355.0 522.6L356.0 523.7L357.0 524.2L358.0 524.6L359.0 525.1L360.0 525.9L361.0 527.2L362.0 528.5L363.0 529.8L364.0 530.2L365.0 530.5L366.0 530.3L367.0 530.1L368.0 529.8L369.0 529.6L370.0 529.3L371.0 529.8L372.0 530.2L373.0 530.7L374.0 531.1L375.0 531.4L376.0 531.7L377.0 531.9L378.0 531.3L379.0 530.5L380.0 529.7L381.0 529.3L382.0 529.1L383.0 528.9L384.0 528.8L385.0 528.2L386.0 527.7L387.0 527.3L388.0 526.9L389.0 526.7L390.0 526.5L391.0 526.3L392.0 526.4L393.0 526.4L394.0 526.4L395.0 526.5L396.0 526.5L397.0 526.6L398.0 526.6L399.0 526.1L400.0 525.7L401.0 524.8L402.0 524.4L403.0 524.4L404.0 524.6L405.0 524.9L406.0 525.0L407.0 525.1L408.0 525.3L409.0 525.4L410.0 525.4L411.0 525.5L412.0 525.5L413.0 526.4L414.0 527.2L415.0 527.9L416.0 528.5L417.0 528.8L418.0 529.3L419.0 529.9L420.0 530.0L421.0 530.2L422.0 530.3L423.0 531.2L424.0 532.6L425.0 534.1L426.0 535.5L427.0 536.2L428.0 536.9L429.0 537.5L430.0 538.2L431.0 539.2L432.0 540.3L433.0 541.4L434.0 542.8L435.0 544.4L436.0 546.2L437.0 547.6L438.0 548.7L439.0 549.6L440.0 550.5L441.0 551.5L442.0 552.5L443.0 553.4L444.0 554.4L445.0 555.4L446.0 556.4L447.0 557.4L448.0 558.1L449.0 558.8L450.0 559.5L451.0 560.1L452.0 560.7L453.0 561.3L454.0 561.8L455.0 562.0L456.0 562.1L457.0 562.3L458.0 562.6L459.0 563.1L460.0 563.5L461.0 563.9L462.0 564.6L463.0 565.0L464.0 565.3L465.0 565.1L466.0 564.6L467.0 564.1L468.0 563.8L469.0 564.3L470.0 565.2L471.0 566.3L472.0 567.3L473.0 568.3L474.0 569.2L475.0 570.1L476.0 571.3L477.0 572.4L478.0 573.6L479.0 574.6L480.0 575.4L481.0 576.2L482.0 577.0L483.0 578.4L484.0 579.7L485.0 580.9L486.0 581.5L487.0 581.6L488.0 581.6L489.0 581.7L490.0 582.3L491.0 582.9L492.0 583.4L493.0 583.9L494.0 584.3L495.0 584.7L496.0 585.0L497.0 585.6L498.0 586.2L499.0 586.8L500.0 587.1L501.0 587.0L502.0 586.9L503.0 586.7L504.0 587.3L505.0 587.9L506.0 588.4L507.0 588.9L508.0 589.1L509.0 589.4L510.0 589.7L511.0 590.1L512.0 590.5L513.0 590.9L514.0 591.2L515.0 591.5L516.0 591.7L517.0 591.9L518.0 592.0L519.0 592.0L520.0 592.0L521.0 592.2L522.0 592.4L523.0 592.7L524.0 593.0L525.0 593.0L526.0 593.0L527.0 593.0L528.0 593.2L529.0 593.4L530.0 593.7L531.0 593.9L532.0 593.9L533.0 594.0L534.0 594.0L535.0 594.0L536.0 594.1L537.0 594.1L538.0 594.1L539.0 594.4L540.0 594.6L541.0 594.8L542.0 595.1L543.0 595.2L544.0 595.4L545.0 595.6L546.0 596.0L547.0 596.5L548.0 596.9L549.0 596.9L550.0 596.5L551.0 596.1L552.0 595.7L553.0 595.9L554.0 596.1L555.0 596.2L556.0 596.4L557.0 596.6L558.0 596.8L559.0 597.0L560.0 596.4L561.0 595.8L562.0 595.2L563.0 594.9L564.0 594.9L565.0 594.9L566.0 594.9L567.0 594.9L568.0 595.0L569.0 595.0L570.0 595.1L571.0 595.3L572.0 595.5L573.0 595.7L574.0 596.3L575.0 596.8L576.0 597.4L577.0 597.3L578.0 596.7L579.0 596.2L580.0 595.7L581.0 595.7L582.0 595.7L583.0 595.7L584.0 595.6L585.0 595.4L586.0 595.2L587.0 595.1L588.0 594.9L589.0 594.7L590.0 594.4L591.0 594.3L592.0 594.3L593.0 594.3L594.0 594.3L595.0 594.8L596.0 595.4L597.0 595.9L598.0 596.0L599.0 595.8L600.0 595.5L601.0 595.3L602.0 595.0L603.0 594.6L604.0 594.3L605.0 594.3L606.0 594.6L607.0 594.9L608.0 595.3L609.0 594.7L610.0 594.2L611.0 593.6L612.0 593.5L613.0 593.9L614.0 594.3L615.0 594.6L616.0 594.6L617.0 594.6L618.0 594.5L619.0 594.3L620.0 593.8L621.0 593.4L622.0 592.9L623.0 592.8L624.0 592.7L625.0 592.6L626.0 592.7L627.0 593.0L628.0 593.3L629.0 593.5L630.0 593.1L631.0 592.7L632.0 592.3L633.0 592.2L634.0 592.4L635.0 592.5L636.0 592.7L637.0 592.2L638.0 591.6L639.0 591.1L640.0 590.9L641.0 591.2L642.0 591.4L643.0 591.6L644.0 591.4L645.0 591.1L646.0 590.8L647.0 590.6L648.0 590.3L649.0 590.0L650.0 589.8L651.0 589.5L652.0 589.2L653.0 588.9L654.0 588.8L655.0 588.7L656.0 588.7L657.0 588.6L658.0 588.0L659.0 587.3L660.0 586.5L661.0 586.0L662.0 585.7L663.0 585.3L664.0 584.9L665.0 584.2L666.0 583.3L667.0 582.4L668.0 581.5L669.0 580.7L670.0 579.7L671.0 578.6L672.0 576.7L673.0 574.6L674.0 572.4L675.0 570.6L676.0 569.3L677.0 568.0L678.0 566.8L679.0 564.6L680.0 562.4L681.0 560.0L682.0 557.6L683.0 555.2L684.0 552.7L685.3 549.8L686.4 546.9L687.5 544.0L688.5 541.1L689.3 538.2L690.1 535.3L690.8 532.4L691.5 529.4L692.1 526.5L692.7 523.6L693.2 520.7L693.7 517.8L694.1 514.9L694.5 512.0L694.8 509.1L695.1 506.1L695.4 503.2L695.7 500.3L696.0 497.4L696.3 494.5L696.5 491.6L696.8 488.7L697.0 485.8L697.3 482.9L697.5 479.9L697.7 477.0L698.0 474.1L698.2 471.2L698.4 468.3L698.6 465.4L698.8 462.5L699.0 459.6L699.2 456.6L699.4 453.7L699.6 450.8L699.8 447.9L699.9 445.0L700.1 442.1L700.3 439.2L700.4 436.3L700.6 433.4L700.7 430.4L700.8 427.6L701.0 424.9L701.2 422.4L701.3 419.9L701.5 417.5L701.7 415.1L701.9 412.8L702.2 410.6L702.4 408.3L702.7 406.1L702.9 403.9L703.2 401.7L703.5 399.5L703.8 397.2L704.1 394.9L704.3 392.6L704.6 390.2L704.8 387.8L705.1 385.4L705.3 382.9L705.5 380.4L705.7 377.8L705.9 375.2L706.1 372.5L706.3 369.8L706.5 367.1L706.6 364.3L706.8 361.5L707.0 358.7L707.1 355.8L707.3 352.9L707.4 350.0L707.6 347.1L707.7 344.1L707.9 341.2L708.0 338.2L708.2 335.2L708.3 332.1L708.4 329.1L708.6 326.1L708.7 323.0L708.8 319.9L708.9 316.9L709.0 313.8L709.2 310.7L709.3 307.6L709.4 304.5L709.5 301.4L709.6 298.3L709.7 295.2L709.8 292.1L709.9 288.9L710.0 285.8L710.1 282.7L710.2 279.6L710.2 276.4L710.3 273.3L710.4 270.2L710.5 267.0L710.6 263.9L710.7 260.8L710.7 257.6L710.8 254.5L710.9 251.4L711.0 248.2L711.0 245.1L711.1 242.0L711.2 238.8L711.3 235.7L711.3 232.6L711.4 229.4L711.5 226.3L711.5 223.2L711.6 220.0L711.7 216.9L711.7 213.8L711.8 210.6L711.8 207.5L711.9 204.4L712.0 201.3L712.0 198.1L712.1 195.0L712.1 191.9L712.2 188.7L712.2 185.6L712.3 182.5L712.3 179.3L712.3 176.2L712.4 173.1L712.4 169.9L712.5 166.8L712.5 163.7L712.5 160.5L712.6 157.4L712.6 154.3L712.7 151.1L712.8 148.0L713.0 151.0L713.0 154.0L713.1 157.0L713.1 160.0L713.2 163.0L713.2 166.0L713.3 169.0L713.3 172.0L713.4 175.0L713.4 178.0L713.5 181.0L713.5 184.0L713.6 187.0L713.6 190.0L713.7 193.0L713.8 196.0L713.8 199.0L713.9 202.0L714.0 205.0L714.0 208.0L714.1 211.1L714.2 214.1L714.3 217.1L714.3 220.1L714.4 223.1L714.5 226.1L714.6 229.1L714.6 232.1L714.7 235.1L714.8 238.1L714.9 241.1L714.9 244.1L715.0 247.1L715.1 250.1L715.1 253.1L715.2 256.1L715.3 259.1L715.4 262.1L715.4 265.1L715.5 268.1L715.6 271.1L715.6 274.1L715.7 277.1L715.8 280.1L715.9 283.1L715.9 286.1L716.0 289.1L716.1 292.1L716.2 295.0L716.3 298.0L716.4 301.0L716.5 303.9L716.6 306.9L716.7 309.8L716.9 312.8L717.0 315.7L717.1 318.6L717.3 321.6L717.4 324.5L717.6 327.3L717.7 330.2L717.9 333.1L718.0 335.9L718.2 338.8L718.4 341.6L718.5 344.3L718.7 347.1L718.8 349.8L719.0 352.5L719.1 355.2L719.3 357.8L719.4 360.5L719.6 363.0L719.7 365.6L719.9 368.1L720.1 370.5L720.2 372.9L720.4 375.3L720.6 377.6L720.7 379.9L720.9 382.2L721.0 384.4L721.2 386.5L721.3 388.7L721.5 390.8L721.6 392.9L721.8 395.1L721.9 397.2L722.1 399.3L722.2 401.5L722.4 403.6L722.5 405.9L722.7 408.2L722.8 410.6L723.0 413.0L723.2 415.6L723.5 418.3L723.7 421.1L723.9 423.9L724.2 426.7L724.5 429.4L724.8 432.2L725.1 435.0L725.4 437.8L725.8 440.6L726.1 443.4L726.4 446.2L726.7 448.9L726.9 451.7L727.2 454.5L727.5 457.3L727.8 460.1L728.1 462.9L728.4 465.7L728.7 468.4L729.0 471.2L729.3 474.0L729.6 476.8L729.9 479.6L730.2 482.4L730.6 485.2L730.9 488.0L731.2 490.7L731.5 493.5L731.9 496.3L732.2 499.1L732.6 501.9L732.9 504.7L733.3 507.5L733.7 510.2L734.2 513.0L734.7 515.8L735.3 518.6L735.9 521.4L736.6 524.2L737.3 527.0L738.1 529.8L739.0 532.5L740.0 535.3L741.0 537.7L742.0 540.1L743.0 542.6L744.0 545.2L745.0 547.0L746.0 548.3L747.0 549.4L748.0 550.3L749.0 551.3L750.0 552.0L751.0 552.5L752.0 553.3L753.0 554.3L754.0 555.2L755.0 556.2L756.0 556.2L757.0 556.3L758.0 556.3L759.0 556.4L760.0 556.4L761.0 556.5L762.0 556.5L763.0 557.0L764.0 557.5L765.0 557.9L766.0 558.0L767.0 557.8L768.0 557.5L769.0 557.2L770.0 557.2L771.0 557.1L772.0 557.1L773.0 556.9L774.0 556.8L775.0 556.6L776.0 556.4L777.0 555.9L778.0 555.4L779.0 554.9L780.0 554.3L781.0 553.8L782.0 553.5L783.0 553.2L784.0 553.0L785.0 552.8L786.0 552.5L787.0 552.2L788.0 551.7L789.0 551.1L790.0 550.4L791.0 549.9L792.0 549.4L793.0 548.8L794.0 547.8L795.0 546.4L796.0 545.0L797.0 543.6L798.0 542.3L799.0 541.0L800.0 539.6L801.0 538.3L802.0 537.2L803.0 536.1L804.0 534.8L805.0 532.6L806.0 530.2L807.0 527.7L808.0 525.4L809.0 523.4L810.0 521.6L811.0 520.0L812.0 518.1L813.0 516.1L814.0 514.2L815.0 512.3L816.0 510.2L817.0 508.3L818.0 506.4L819.0 504.6L820.0 502.7L821.0 500.7L822.0 499.0L823.0 497.5L824.0 496.0L825.0 494.5L826.0 492.8L827.0 491.3L828.0 489.7L829.0 488.2L830.0 486.7L831.0 485.2L832.0 483.5L833.0 481.7L834.0 479.9L835.0 478.1L836.0 476.5L837.0 475.0L838.0 473.6L839.0 472.1L840.0 470.5L841.0 468.8L842.0 467.2L843.0 465.4L844.0 463.5L845.0 461.8L846.0 460.1L847.0 459.2L848.0 458.3L849.0 457.5L850.0 456.5L851.0 455.5L852.0 454.8L853.0 454.5L854.0 454.4L855.0 454.4L856.0 454.6L857.0 455.1L858.0 455.9L859.0 456.9L860.0 458.2L861.0 459.9L862.0 461.7L863.0 463.9L864.0 466.3L865.0 468.7L866.0 471.5L867.0 474.4L868.0 477.2L869.0 480.0L870.0 482.7L871.0 485.8L872.0 489.2L873.0 492.4L874.0 495.6L875.0 498.4L876.0 501.3L877.0 504.3L878.0 507.2L879.0 510.2L880.0 513.1L881.0 516.0L882.0 518.7L883.0 521.2L884.0 523.7L885.0 525.9L886.0 528.0L887.0 530.0L888.0 531.9L889.0 534.3L890.0 536.7L891.0 539.0L892.0 540.9L893.0 542.3L894.0 543.7L895.0 545.0L896.0 546.7L897.0 548.3L898.0 549.8L899.0 551.1L900.0 552.5L901.0 553.9L902.0 555.4L903.0 556.9L904.0 558.4L905.0 559.8L906.0 561.2L907.0 562.6L908.0 564.0L909.0 565.3L910.0 566.3L911.0 567.2L912.0 568.1L913.0 568.9L914.0 569.6L915.0 570.3L916.0 571.0L917.0 571.8L918.0 572.5L919.0 573.2L920.0 574.0L921.0 574.8L922.0 575.5L923.0 576.2L924.0 577.1L925.0 577.9L926.0 578.7L927.0 579.3L928.0 579.7L929.0 580.1L930.0 580.4L931.0 581.0L932.0 581.5L933.0 582.0L934.0 582.5L935.0 582.9L936.0 583.3L937.0 583.7L938.0 584.2L939.0 584.7L940.0 585.2L941.0 585.7L942.0 586.3L943.0 586.7L944.0 587.2L945.0 587.2L946.0 587.1L947.0 587.0L948.0 587.3L949.0 588.0L950.0 588.8L951.0 589.6L952.0 589.4L953.0 589.2L954.0 589.2L955.0 589.4L956.0 589.9L957.0 590.4L958.0 591.0L959.0 591.8L960.0 592.6L961.0 593.4L962.0 593.9L963.0 594.0L964.0 594.1L965.0 594.2L966.0 594.5L967.0 594.8L968.0 595.0L969.0 595.2L970.0 595.4L971.0 595.6L972.0 595.9L973.0 596.2L974.0 596.6L975.0 597.1L976.0 598.0L977.0 599.0L978.0 600.1L979.0 601.0L980.0 601.8L981.0 602.5L982.0 603.1L983.0 603.4L984.0 603.5L985.0 603.6L986.0 603.6L987.0 604.4L988.0 605.2L989.0 606.0L990.0 606.3L991.0 606.3L992.0 606.2L993.0 606.2L994.0 606.6L995.0 607.0L996.0 607.5L997.0 607.9L998.0 608.5L999.0 609.1L1000.0 609.6L1001.0 609.8" stroke="#2a0103"/>
<path d="M104.0 598.9L105.0 598.6L106.0 598.2L107.0 597.8L108.0 597.6L109.0 597.4L110.0 597.3L111.0 597.1L112.0 596.8L113.0 596.5L114.0 596.2L115.0 596.1L116.0 596.1L117.0 596.0L118.0 595.8L119.0 595.5L120.0 595.2L121.0 594.8L122.0 594.5L123.0 594.1L124.0 593.7L125.0 593.5L126.0 593.8L127.0 594.3L128.0 594.9L129.0 595.2L130.0 595.2L131.0 595.0L132.0 594.9L133.0 594.7L134.0 594.5L135.0 594.2L136.0 594.6L137.0 595.7L138.0 596.7L139.0 597.6L140.0 596.7L141.0 595.7L142.0 594.6L143.0 593.7L144.0 593.2L145.0 592.5L146.0 591.9L147.0 592.0L148.0 592.1L149.0 592.2L150.0 592.1L151.0 591.9L152.0 591.7L153.0 591.6L154.0 591.1L155.0 590.5L156.0 589.9L157.0 589.4L158.0 588.9L159.0 588.2L160.0 587.4L161.0 586.7L162.0 586.1L163.0 585.6L164.0 585.4L165.0 585.4L166.0 585.4L167.0 585.4L168.0 584.5L169.0 583.5L170.0 582.5L171.0 581.6L172.0 580.7L173.0 579.8L174.0 578.9L175.0 578.2L176.0 577.6L177.0 577.0L178.0 576.5L179.0 576.0L180.0 575.5L181.0 575.0L182.0 573.6L183.0 572.3L184.0 571.0L185.0 570.3L186.0 570.1L187.0 570.1L188.0 570.3L189.0 570.3L190.0 570.3L191.0 570.4L192.0 570.9L193.0 571.8L194.0 572.3L195.0 572.6L196.0 572.0L197.0 571.3L198.0 570.9L199.0 570.7L200.0 570.5L201.0 570.3L202.0 570.0L203.0 569.4L204.0 568.5L205.0 567.2L206.0 565.4L207.0 563.6L208.0 561.9L209.0 560.2L210.0 557.7L211.0 555.1L212.0 552.5L213.0 550.5L214.0 549.1L215.0 547.6L216.0 546.1L217.0 543.6L218.0 541.1L219.0 538.6L220.0 536.8L221.0 535.2L222.0 533.6L223.0 532.1L224.0 530.8L225.0 529.5L226.0 528.1L227.0 526.8L228.0 525.3L229.0 523.8L230.0 522.1L231.0 520.4L232.0 518.8L233.0 517.3L234.0 515.9L235.0 514.4L236.0 513.0L237.0 511.5L238.0 510.0L239.0 508.4L240.0 506.7L241.0 504.9L242.0 502.9L243.0 500.9L244.0 498.8L245.0 497.4L246.0 495.9L247.0 494.4L248.0 492.6L249.0 490.5L250.0 488.3L251.0 486.0L252.0 484.2L253.0 482.4L254.0 480.6L255.0 478.3L256.0 475.7L257.0 473.0L258.0 470.4L259.0 467.9L260.0 465.3L261.0 462.7L262.0 460.5L263.0 458.8L264.0 457.0L265.0 455.3L266.0 453.7L267.0 452.1L268.0 450.5L269.0 448.4L270.0 445.9L271.0 443.3L272.0 440.7L273.0 438.4L274.0 436.0L275.0 433.5L276.0 431.2L277.0 429.1L278.0 426.8L279.0 424.6L280.0 421.9L281.0 419.2L282.0 416.5L283.0 413.9L284.0 411.3L285.0 408.7L286.0 406.2L287.0 403.3L288.0 400.4L289.0 397.4L290.0 394.8L291.0 392.5L292.0 390.5L293.0 388.9L294.0 387.8L295.0 387.2L296.0 387.0L297.0 387.0L298.0 387.2L299.0 387.5L300.0 387.8L301.0 388.6L302.0 390.1L303.0 392.2L304.0 395.0L305.0 398.6L306.0 402.6L307.0 406.7L308.0 410.6L309.0 414.4L310.0 418.2L311.0 421.7L312.0 424.9L313.0 427.8L314.0 430.3L315.0 432.1L316.0 433.5L317.0 434.7L318.0 435.8L319.0 436.5L320.0 436.9L321.0 436.8L322.0 437.0L323.0 436.8L324.0 436.4L325.0 435.3L326.0 433.7L327.0 432.1L328.0 430.5L329.0 429.5L330.0 428.3L331.0 427.1L332.0 426.0L333.0 424.8L334.0 423.7L335.0 422.6L336.0 420.6L337.0 418.7L338.0 417.0L339.0 415.9L340.0 415.8L341.0 418.1L342.0 421.0L343.0 424.4L344.0 427.9L345.0 431.3L346.0 434.4L347.0 437.2L348.0 440.0L349.0 442.8L350.0 445.0L351.0 447.2L352.0 449.3L353.0 451.6L354.0 453.9L355.0 456.2L356.0 458.4L357.0 460.5L358.0 462.6L359.0 464.7L360.0 466.7L361.0 468.8L362.0 471.1L363.0 473.4L364.0 476.4L365.0 479.0L366.0 481.0L367.0 482.1L368.0 482.6L369.0 483.1L370.0 483.5L371.0 483.8L372.0 484.1L373.0 484.5L374.0 485.1L375.0 486.1L376.0 487.1L377.0 488.1L378.0 488.3L379.0 488.3L380.0 488.4L381.0 488.6L382.0 489.1L383.0 489.5L384.0 490.0L385.0 490.5L386.0 491.1L387.0 491.7L388.0 492.1L389.0 492.4L390.0 492.6L391.0 493.0L392.0 493.9L393.0 494.8L394.0 495.7L395.0 496.0L396.0 495.8L397.0 495.5L398.0 495.4L399.0 496.2L400.0 497.1L401.0 497.1L402.0 497.0L403.0 496.8L404.0 496.8L405.0 496.8L406.0 497.1L407.0 497.4L408.0 497.8L409.0 498.1L410.0 498.2L411.0 498.3L412.0 498.5L413.0 498.6L414.0 498.5L415.0 498.4L416.0 498.2L417.0 498.2L418.0 498.3L419.0 498.5L420.0 498.8L421.0 499.0L422.0 499.4L423.0 500.1L424.0 501.3L425.0 502.6L426.0 503.9L427.0 504.5L428.0 505.1L429.0 505.6L430.0 506.7L431.0 508.3L432.0 510.0L433.0 511.8L434.0 513.2L435.0 515.0L436.0 517.0L437.0 519.0L438.0 521.0L439.0 522.6L440.0 524.1L441.0 525.4L442.0 526.6L443.0 527.7L444.0 529.1L445.0 530.7L446.0 532.3L447.0 533.8L448.0 534.1L449.0 534.3L450.0 534.5L451.0 535.1L452.0 536.1L453.0 537.0L454.0 537.9L455.0 538.5L456.0 539.2L457.0 539.8L458.0 540.4L459.0 541.0L460.0 541.5L461.0 542.0L462.0 542.0L463.0 541.6L464.0 540.9L465.0 540.2L466.0 539.5L467.0 539.0L468.0 538.8L469.0 539.1L470.0 540.1L471.0 541.4L472.0 542.7L473.0 543.7L474.0 544.7L475.0 545.8L476.0 547.6L477.0 549.3L478.0 551.0L479.0 552.5L480.0 553.7L481.0 554.8L482.0 555.8L483.0 557.4L484.0 558.8L485.0 560.0L486.0 560.8L487.0 561.1L488.0 561.4L489.0 561.6L490.0 562.2L491.0 562.8L492.0 563.3L493.0 563.9L494.0 564.6L495.0 565.2L496.0 565.8L497.0 566.6L498.0 567.4L499.0 568.1L500.0 568.6L501.0 568.8L502.0 569.0L503.0 569.2L504.0 569.6L505.0 569.9L506.0 570.2L507.0 570.6L508.0 571.3L509.0 571.9L510.0 572.5L511.0 572.2L512.0 572.0L513.0 571.8L514.0 571.6L515.0 571.7L516.0 571.6L517.0 571.6L518.0 572.2L519.0 572.8L520.0 573.4L521.0 573.7L522.0 573.9L523.0 574.0L524.0 574.2L525.0 574.6L526.0 575.1L527.0 575.5L528.0 575.8L529.0 576.1L530.0 576.4L531.0 576.7L532.0 576.0L533.0 575.2L534.0 574.5L535.0 574.7L536.0 575.7L537.0 576.7L538.0 577.6L539.0 577.5L540.0 577.4L541.0 577.3L542.0 577.2L543.0 577.1L544.0 577.0L545.0 576.9L546.0 576.9L547.0 576.8L548.0 576.8L549.0 577.0L550.0 577.5L551.0 578.0L552.0 578.5L553.0 577.9L554.0 577.3L555.0 576.7L556.0 576.3L557.0 576.1L558.0 575.9L559.0 575.7L560.0 575.7L561.0 575.8L562.0 575.8L563.0 575.6L564.0 575.1L565.0 574.5L566.0 574.0L567.0 574.2L568.0 574.4L569.0 574.7L570.0 574.7L571.0 574.5L572.0 574.4L573.0 574.4L574.0 574.6L575.0 574.9L576.0 575.2L577.0 575.2L578.0 575.2L579.0 575.2L580.0 575.2L581.0 574.9L582.0 574.6L583.0 574.3L584.0 574.6L585.0 575.4L586.0 576.4L587.0 577.4L588.0 577.3L589.0 577.3L590.0 577.2L591.0 577.5L592.0 578.2L593.0 578.9L594.0 579.5L595.0 579.1L596.0 578.6L597.0 578.2L598.0 578.2L599.0 578.8L600.0 579.3L601.0 579.9L602.0 579.7L603.0 579.5L604.0 579.3L605.0 579.3L606.0 579.6L607.0 579.9L608.0 580.2L609.0 580.1L610.0 580.0L611.0 579.9L612.0 579.7L613.0 579.4L614.0 579.1L615.0 578.8L616.0 579.1L617.0 579.4L618.0 579.8L619.0 580.1L620.0 580.4L621.0 580.8L622.0 581.2L623.0 581.4L624.0 581.6L625.0 581.9L626.0 581.8L627.0 581.4L628.0 581.0L629.0 580.6L630.0 580.6L631.0 580.5L632.0 580.4L633.0 580.5L634.0 580.7L635.0 581.0L636.0 581.2L637.0 581.3L638.0 581.4L639.0 581.4L640.0 581.4L641.0 581.1L642.0 580.8L643.0 580.5L644.0 580.3L645.0 580.0L646.0 579.8L647.0 579.7L648.0 579.8L649.0 579.9L650.0 580.0L651.0 579.8L652.0 579.5L653.0 579.2L654.0 578.9L655.0 578.5L656.0 578.2L657.0 577.8L658.0 577.0L659.0 576.1L660.0 575.2L661.0 574.5L662.0 574.0L663.0 573.4L664.0 572.8L665.0 571.9L666.0 570.8L667.0 569.6L668.0 568.3L669.0 566.7L670.0 565.1L671.0 563.4L672.0 562.1L673.0 560.7L674.0 559.1L675.0 557.3L676.0 555.1L677.0 553.1L678.0 551.0L679.0 549.0L680.0 546.8L681.0 544.4L682.0 542.1L683.0 539.4L684.0 536.4L685.2 533.6L686.3 530.8L687.3 528.0L688.2 525.2L689.0 522.4L689.7 519.6L690.4 516.9L691.0 514.1L691.6 511.3L692.1 508.5L692.6 505.7L693.1 502.9L693.5 500.1L693.9 497.3L694.2 494.5L694.5 491.7L694.8 488.9L695.1 486.1L695.3 483.3L695.6 480.5L695.9 477.7L696.1 474.9L696.4 472.1L696.6 469.4L696.8 466.6L697.1 463.8L697.3 461.0L697.5 458.2L697.7 455.4L697.9 452.6L698.1 449.8L698.3 447.0L698.5 444.2L698.7 441.4L698.9 438.6L699.1 435.8L699.3 433.0L699.4 430.2L699.6 427.4L699.7 424.6L699.9 421.8L700.0 419.1L700.2 416.4L700.3 413.9L700.5 411.4L700.7 409.2L700.9 407.0L701.1 404.8L701.3 402.8L701.6 400.8L701.8 398.9L702.1 396.9L702.4 395.0L702.6 393.1L702.9 391.2L703.2 389.3L703.5 387.3L703.8 385.3L704.1 383.3L704.4 381.2L704.6 379.1L704.9 376.9L705.1 374.7L705.3 372.4L705.6 370.1L705.8 367.7L706.0 365.3L706.2 362.8L706.4 360.3L706.5 357.7L706.7 355.1L706.9 352.5L707.1 349.8L707.2 347.1L707.4 344.3L707.6 341.6L707.7 338.7L707.9 335.9L708.0 333.0L708.1 330.1L708.3 327.2L708.4 324.3L708.6 321.3L708.7 318.4L708.8 315.4L708.9 312.4L709.1 309.4L709.2 306.3L709.3 303.3L709.4 300.2L709.5 297.2L709.6 294.1L709.7 291.0L709.8 288.0L709.9 284.9L710.0 281.8L710.1 278.7L710.2 275.5L710.2 272.4L710.3 269.3L710.4 266.2L710.5 263.1L710.6 260.0L710.7 256.9L710.7 253.8L710.8 250.7L710.9 247.5L711.0 244.4L711.0 241.3L711.1 238.2L711.2 235.1L711.3 232.0L711.3 228.9L711.4 225.8L711.5 222.7L711.5 219.5L711.6 216.4L711.7 213.3L711.7 210.2L711.8 207.1L711.8 204.0L711.9 200.9L712.0 197.8L712.0 194.7L712.1 191.6L712.1 188.4L712.2 185.3L712.2 182.2L712.3 179.1L712.3 176.0L712.3 172.9L712.4 169.8L712.4 166.7L712.5 163.6L712.5 160.4L712.5 157.3L712.6 154.2L712.7 151.1L712.8 148.0L713.0 151.0L713.1 153.9L713.1 156.9L713.2 159.9L713.2 162.8L713.3 165.8L713.3 168.8L713.4 171.7L713.4 174.7L713.5 177.7L713.5 180.6L713.6 183.6L713.6 186.6L713.7 189.6L713.8 192.5L713.8 195.5L713.9 198.5L714.0 201.4L714.1 204.4L714.1 207.4L714.2 210.3L714.3 213.3L714.3 216.3L714.4 219.2L714.5 222.2L714.6 225.2L714.6 228.1L714.7 231.1L714.8 234.1L714.9 237.0L714.9 240.0L715.0 243.0L715.1 245.9L715.1 248.9L715.2 251.9L715.3 254.8L715.4 257.8L715.4 260.8L715.5 263.8L715.6 266.7L715.6 269.7L715.7 272.7L715.8 275.6L715.9 278.6L716.0 281.5L716.0 284.4L716.1 287.4L716.2 290.3L716.3 293.2L716.4 296.1L716.5 299.0L716.6 301.8L716.8 304.7L716.9 307.5L717.0 310.3L717.2 313.1L717.3 315.9L717.4 318.7L717.6 321.4L717.8 324.1L717.9 326.8L718.1 329.4L718.3 332.1L718.4 334.7L718.6 337.2L718.8 339.7L718.9 342.2L719.1 344.6L719.3 347.0L719.4 349.4L719.6 351.7L719.8 354.0L720.0 356.2L720.1 358.3L720.3 360.4L720.5 362.5L720.7 364.5L720.8 366.5L721.0 368.4L721.2 370.3L721.4 372.1L721.5 373.9L721.7 375.7L721.9 377.4L722.0 379.2L722.2 380.9L722.4 382.6L722.5 384.4L722.7 386.2L722.8 388.0L723.0 389.9L723.1 391.8L723.3 393.9L723.5 396.0L723.7 398.3L723.9 400.6L724.1 403.1L724.3 405.8L724.5 408.4L724.8 411.0L725.0 413.7L725.3 416.3L725.6 418.9L725.9 421.6L726.2 424.2L726.5 426.8L726.8 429.4L727.1 432.1L727.4 434.7L727.6 437.3L727.9 440.0L728.2 442.6L728.5 445.2L728.8 447.9L729.1 450.5L729.3 453.1L729.6 455.7L729.9 458.4L730.3 461.0L730.6 463.6L730.9 466.3L731.2 468.9L731.5 471.5L731.8 474.2L732.2 476.8L732.5 479.4L732.8 482.0L733.2 484.7L733.5 487.3L733.9 489.9L734.4 492.6L734.8 495.2L735.4 497.8L736.0 500.5L736.7 503.1L737.4 505.7L738.1 508.4L739.0 511.0L740.0 513.6L741.0 515.9L742.0 517.9L743.0 519.8L744.0 521.4L745.0 523.1L746.0 524.9L747.0 526.6L748.0 528.1L749.0 528.8L750.0 529.3L751.0 529.7L752.0 530.1L753.0 530.3L754.0 530.5L755.0 530.7L756.0 531.7L757.0 532.6L758.0 533.5L759.0 534.0L760.0 534.0L761.0 534.0L762.0 533.9L763.0 534.4L764.0 534.9L765.0 535.3L766.0 535.4L767.0 535.1L768.0 534.8L769.0 534.4L770.0 534.8L771.0 535.2L772.0 535.6L773.0 535.6L774.0 535.2L775.0 534.8L776.0 534.3L777.0 533.9L778.0 533.6L779.0 533.2L780.0 532.8L781.0 532.2L782.0 531.9L783.0 531.7L784.0 532.6L785.0 533.5L786.0 534.3L787.0 534.3L788.0 533.5L789.0 532.4L790.0 531.3L791.0 530.7L792.0 530.0L793.0 529.2L794.0 528.4L795.0 527.6L796.0 526.7L797.0 525.8L798.0 524.2L799.0 522.5L800.0 520.6L801.0 518.9L802.0 517.4L803.0 515.8L804.0 514.1L805.0 511.7L806.0 509.2L807.0 506.5L808.0 504.0L809.0 501.9L810.0 500.0L811.0 498.5L812.0 496.6L813.0 494.8L814.0 493.1L815.0 491.5L816.0 490.2L817.0 489.1L818.0 488.0L819.0 486.6L820.0 485.2L821.0 483.8L822.0 482.2L823.0 480.4L824.0 478.6L825.0 476.8L826.0 475.5L827.0 474.3L828.0 473.2L829.0 472.2L830.0 471.3L831.0 470.3L832.0 469.2L833.0 468.2L834.0 467.1L835.0 466.0L836.0 464.6L837.0 462.9L838.0 461.3L839.0 459.6L840.0 457.8L841.0 456.0L842.0 454.2L843.0 452.2L844.0 450.1L845.0 448.1L846.0 446.3L847.0 444.8L848.0 443.2L849.0 441.7L850.0 440.8L851.0 440.4L852.0 440.3L853.0 440.7L854.0 440.5L855.0 440.6L856.0 440.9L857.0 441.3L858.0 442.0L859.0 443.2L860.0 444.6L861.0 446.4L862.0 448.4L863.0 450.6L864.0 453.1L865.0 455.8L866.0 458.9L867.0 462.1L868.0 465.3L869.0 468.5L870.0 471.6L871.0 474.9L872.0 478.2L873.0 481.3L874.0 484.4L875.0 487.7L876.0 491.0L877.0 494.3L878.0 497.5L879.0 500.6L880.0 503.6L881.0 506.6L882.0 509.3L883.0 511.9L884.0 514.3L885.0 517.0L886.0 519.7L887.0 522.4L888.0 524.9L889.0 526.3L890.0 527.6L891.0 528.9L892.0 530.3L893.0 532.1L894.0 533.8L895.0 535.4L896.0 536.5L897.0 537.7L898.0 538.7L899.0 539.9L900.0 541.5L901.0 543.2L902.0 545.1L903.0 547.1L904.0 549.1L905.0 550.9L906.0 552.4L907.0 553.7L908.0 554.9L909.0 556.1L910.0 557.0L911.0 557.9L912.0 558.8L913.0 559.8L914.0 560.8L915.0 561.9L916.0 562.9L917.0 563.8L918.0 564.5L919.0 565.3L920.0 565.8L921.0 566.1L922.0 566.4L923.0 566.6L924.0 567.0L925.0 567.2L926.0 567.5L927.0 568.5L928.0 570.3L929.0 572.1L930.0 573.9L931.0 574.0L932.0 574.2L933.0 574.3L934.0 574.5L935.0 574.8L936.0 575.1L937.0 575.4L938.0 575.5L939.0 575.6L940.0 575.7L941.0 576.0L942.0 576.6L943.0 577.1L944.0 577.6L945.0 578.4L946.0 579.2L947.0 580.0L948.0 579.8L949.0 578.9L950.0 578.0L951.0 577.1L952.0 577.8L953.0 578.6L954.0 579.5L955.0 580.3L956.0 581.2L957.0 582.0L958.0 582.9L959.0 583.4L960.0 583.8L961.0 584.1L962.0 584.5L963.0 584.9L964.0 585.3L965.0 585.7L966.0 585.8L967.0 585.9L968.0 585.9L969.0 586.4L970.0 587.3L971.0 588.1L972.0 589.0L973.0 588.8L974.0 588.8L975.0 588.9L976.0 589.5L977.0 590.5L978.0 591.4L979.0 592.2L980.0 593.4L981.0 594.3L982.0 595.2L983.0 596.1L984.0 596.8L985.0 597.6L986.0 598.3L987.0 598.4L988.0 598.4L989.0 598.5L990.0 598.8L991.0 599.5L992.0 600.1L993.0 600.8L994.0 600.8L995.0 600.8L996.0 600.8L997.0 600.8L998.0 601.0L999.0 601.2L1000.0 601.4L1001.0 602.3" stroke="#3f0104"/>
<path d="M104.0 590.4L105.0 590.4L106.0 590.3L107.0 590.3L108.0 589.9L109.0 589.2L110.0 588.6L111.0 587.9L112.0 587.6L113.0 587.2L114.0 586.9L115.0 586.7L116.0 586.5L117.0 586.2L118.0 585.8L119.0 585.7L120.0 585.5L121.0 585.3L122.0 585.2L123.0 585.0L124.0 584.9L125.0 585.0L126.0 584.9L127.0 585.0L128.0 585.3L129.0 585.4L130.0 585.1L131.0 584.7L132.0 584.3L133.0 584.9L134.0 585.6L135.0 586.2L136.0 586.5L137.0 586.5L138.0 586.5L139.0 586.4L140.0 586.3L141.0 586.1L142.0 585.7L143.0 585.2L144.0 584.6L145.0 583.9L146.0 583.3L147.0 582.6L148.0 581.9L149.0 581.4L150.0 581.1L151.0 581.1L152.0 581.2L153.0 581.4L154.0 581.4L155.0 581.3L156.0 581.1L157.0 580.9L158.0 580.5L159.0 579.7L160.0 578.9L161.0 577.6L162.0 576.5L163.0 575.5L164.0 575.0L165.0 574.7L166.0 574.5L167.0 574.3L168.0 573.5L169.0 572.7L170.0 571.9L171.0 570.7L172.0 569.3L173.0 567.8L174.0 566.3L175.0 566.1L176.0 566.0L177.0 565.9L178.0 565.3L179.0 564.2L180.0 563.0L181.0 561.8L182.0 561.2L183.0 560.7L184.0 560.3L185.0 559.6L186.0 558.8L187.0 558.3L188.0 558.0L189.0 558.3L190.0 558.8L191.0 559.2L192.0 559.6L193.0 559.8L194.0 559.5L195.0 559.0L196.0 558.3L197.0 557.6L198.0 557.2L199.0 557.2L200.0 557.3L201.0 557.5L202.0 557.5L203.0 556.9L204.0 555.8L205.0 554.4L206.0 552.7L207.0 551.6L208.0 550.6L209.0 549.7L210.0 546.7L211.0 543.7L212.0 540.7L213.0 538.3L214.0 536.6L215.0 534.8L216.0 533.0L217.0 531.0L218.0 529.0L219.0 527.0L220.0 525.3L221.0 523.4L222.0 521.5L223.0 519.7L224.0 518.1L225.0 516.6L226.0 515.0L227.0 513.3L228.0 511.6L229.0 509.8L230.0 507.8L231.0 505.8L232.0 503.8L233.0 502.0L234.0 500.1L235.0 498.1L236.0 496.1L237.0 494.1L238.0 493.2L239.0 492.2L240.0 491.2L241.0 489.1L242.0 485.9L243.0 482.7L244.0 479.4L245.0 477.7L246.0 475.9L247.0 474.1L248.0 472.1L249.0 469.7L250.0 467.3L251.0 464.9L252.0 462.6L253.0 460.3L254.0 457.9L255.0 455.7L256.0 453.7L257.0 451.6L258.0 449.5L259.0 447.5L260.0 445.4L261.0 443.3L262.0 440.5L263.0 437.3L264.0 434.1L265.0 430.8L266.0 428.2L267.0 425.6L268.0 423.1L269.0 420.8L270.0 418.8L271.0 416.7L272.0 414.7L273.0 412.1L274.0 409.5L275.0 406.9L276.0 404.4L277.0 402.1L278.0 399.8L279.0 397.3L280.0 394.1L281.0 390.9L282.0 387.7L283.0 384.4L284.0 381.2L285.0 378.1L286.0 374.9L287.0 371.8L288.0 368.6L289.0 365.5L290.0 362.6L291.0 359.9L292.0 357.4L293.0 355.3L294.0 353.5L295.0 352.3L296.0 351.6L297.0 351.2L298.0 350.9L299.0 350.7L300.0 350.6L301.0 351.4L302.0 352.9L303.0 354.8L304.0 356.9L305.0 359.4L306.0 362.4L307.0 365.6L308.0 368.7L309.0 371.6L310.0 374.4L311.0 376.8L312.0 378.7L313.0 380.5L314.0 381.8L315.0 383.1L316.0 384.1L317.0 385.0L318.0 385.2L319.0 384.6L320.0 383.5L321.0 382.0L322.0 380.5L323.0 378.8L324.0 376.8L325.0 374.4L326.0 371.8L327.0 369.3L328.0 366.7L329.0 364.3L330.0 361.8L331.0 359.3L332.0 357.0L333.0 355.0L334.0 353.0L335.0 351.1L336.0 348.8L337.0 346.6L338.0 344.7L339.0 343.3L340.0 342.6L341.0 345.0L342.0 348.3L343.0 352.4L344.0 356.8L345.0 361.0L346.0 365.0L347.0 368.9L348.0 372.7L349.0 376.4L350.0 379.6L351.0 382.8L352.0 385.8L353.0 388.7L354.0 391.4L355.0 394.0L356.0 396.6L357.0 399.6L358.0 402.7L359.0 405.8L360.0 408.8L361.0 412.0L362.0 415.6L363.0 419.2L364.0 422.9L365.0 426.1L366.0 428.4L367.0 429.7L368.0 430.6L369.0 431.3L370.0 432.1L371.0 433.6L372.0 435.2L373.0 436.8L374.0 438.4L375.0 439.9L376.0 441.5L377.0 443.0L378.0 444.0L379.0 444.9L380.0 445.8L381.0 446.6L382.0 447.3L383.0 448.0L384.0 448.7L385.0 449.7L386.0 450.8L387.0 451.9L388.0 453.1L389.0 454.4L390.0 455.8L391.0 457.1L392.0 458.2L393.0 459.3L394.0 460.3L395.0 461.3L396.0 462.2L397.0 463.2L398.0 464.1L399.0 464.7L400.0 465.4L401.0 464.6L402.0 463.8L403.0 463.2L404.0 462.6L405.0 462.1L406.0 462.9L407.0 463.7L408.0 464.6L409.0 464.9L410.0 464.7L411.0 464.5L412.0 464.3L413.0 464.4L414.0 464.2L415.0 463.9L416.0 463.5L417.0 463.0L418.0 462.7L419.0 462.5L420.0 462.0L421.0 461.4L422.0 460.9L423.0 461.1L424.0 462.1L425.0 463.2L426.0 464.4L427.0 465.6L428.0 466.8L429.0 468.0L430.0 469.4L431.0 471.2L432.0 473.2L433.0 475.4L434.0 477.2L435.0 479.4L436.0 482.0L437.0 484.3L438.0 485.8L439.0 486.9L440.0 487.8L441.0 490.5L442.0 493.0L443.0 495.4L444.0 497.3L445.0 498.8L446.0 500.2L447.0 501.5L448.0 502.8L449.0 504.2L450.0 505.4L451.0 506.4L452.0 507.1L453.0 507.7L454.0 508.3L455.0 509.5L456.0 510.6L457.0 511.8L458.0 512.5L459.0 512.7L460.0 512.8L461.0 512.7L462.0 512.4L463.0 511.5L464.0 510.2L465.0 508.8L466.0 507.3L467.0 506.1L468.0 505.3L469.0 504.7L470.0 505.0L471.0 506.0L472.0 507.9L473.0 510.8L474.0 513.8L475.0 516.7L476.0 518.6L477.0 520.4L478.0 522.3L479.0 524.1L480.0 525.8L481.0 527.4L482.0 528.9L483.0 530.9L484.0 532.7L485.0 534.2L486.0 535.2L487.0 536.0L488.0 536.7L489.0 537.4L490.0 537.8L491.0 538.1L492.0 538.5L493.0 539.0L494.0 539.6L495.0 540.2L496.0 540.8L497.0 541.3L498.0 541.8L499.0 542.2L500.0 542.8L501.0 543.4L502.0 544.0L503.0 544.7L504.0 545.0L505.0 545.2L506.0 545.5L507.0 546.0L508.0 546.7L509.0 547.4L510.0 548.1L511.0 547.8L512.0 547.4L513.0 547.1L514.0 547.3L515.0 548.1L516.0 548.9L517.0 549.6L518.0 549.4L519.0 549.2L520.0 549.0L521.0 549.1L522.0 549.6L523.0 550.0L524.0 550.4L525.0 550.8L526.0 551.1L527.0 551.5L528.0 551.6L529.0 551.5L530.0 551.4L531.0 551.3L532.0 551.3L533.0 551.3L534.0 551.3L535.0 551.4L536.0 551.6L537.0 551.7L538.0 551.8L539.0 552.4L540.0 552.9L541.0 553.4L542.0 553.3L543.0 552.6L544.0 551.8L545.0 551.1L546.0 551.7L547.0 552.3L548.0 552.9L549.0 552.8L550.0 552.1L551.0 551.4L552.0 550.6L553.0 550.8L554.0 551.0L555.0 551.1L556.0 551.2L557.0 551.2L558.0 551.3L559.0 551.3L560.0 550.8L561.0 550.3L562.0 549.8L563.0 549.6L564.0 549.6L565.0 549.6L566.0 549.5L567.0 549.3L568.0 549.2L569.0 549.1L570.0 548.7L571.0 548.0L572.0 547.4L573.0 547.0L574.0 547.5L575.0 548.1L576.0 548.7L577.0 548.8L578.0 548.8L579.0 548.7L580.0 548.7L581.0 548.3L582.0 547.9L583.0 547.5L584.0 547.8L585.0 548.9L586.0 550.1L587.0 551.3L588.0 552.0L589.0 552.6L590.0 553.1L591.0 554.0L592.0 555.1L593.0 556.1L594.0 557.0L595.0 556.7L596.0 556.3L597.0 555.8L598.0 556.1L599.0 557.1L600.0 558.0L601.0 559.0L602.0 558.5L603.0 558.0L604.0 557.6L605.0 557.8L606.0 558.7L607.0 559.7L608.0 560.6L609.0 560.3L610.0 560.1L611.0 559.8L612.0 559.7L613.0 559.9L614.0 560.0L615.0 560.1L616.0 560.4L617.0 560.7L618.0 560.9L619.0 561.2L620.0 561.4L621.0 561.6L622.0 561.8L623.0 562.2L624.0 562.6L625.0 562.9L626.0 563.3L627.0 563.6L628.0 564.0L629.0 564.3L630.0 563.9L631.0 563.4L632.0 562.9L633.0 562.6L634.0 562.4L635.0 562.1L636.0 561.8L637.0 561.4L638.0 560.9L639.0 560.5L640.0 560.5L641.0 561.1L642.0 561.6L643.0 562.1L644.0 562.2L645.0 562.3L646.0 562.4L647.0 562.2L648.0 561.8L649.0 561.4L650.0 561.0L651.0 560.6L652.0 560.2L653.0 559.8L654.0 559.3L655.0 558.9L656.0 558.4L657.0 557.9L658.0 557.4L659.0 556.7L660.0 555.9L661.0 555.2L662.0 554.4L663.0 553.6L664.0 552.7L665.0 551.9L666.0 550.9L667.0 549.8L668.0 548.2L669.0 546.1L670.0 543.9L671.0 541.6L672.0 540.3L673.0 538.9L674.0 537.4L675.0 535.3L676.0 532.6L677.0 530.0L678.0 527.4L679.0 525.8L680.0 524.0L681.0 522.0L682.0 519.3L683.0 516.2L684.0 512.9L685.0 510.3L686.0 507.7L686.9 505.1L687.7 502.4L688.5 499.8L689.1 497.2L689.8 494.6L690.3 491.9L690.9 489.3L691.4 486.7L691.8 484.0L692.3 481.4L692.6 478.8L693.0 476.2L693.3 473.5L693.6 470.9L693.9 468.3L694.2 465.7L694.4 463.0L694.7 460.4L694.9 457.8L695.2 455.2L695.4 452.5L695.6 449.9L695.9 447.3L696.1 444.7L696.3 442.0L696.6 439.4L696.8 436.8L697.0 434.2L697.2 431.5L697.4 428.9L697.6 426.3L697.7 423.7L697.9 421.0L698.1 418.4L698.3 415.8L698.4 413.2L698.6 410.5L698.7 407.9L698.9 405.3L699.0 402.7L699.2 400.2L699.4 397.8L699.5 395.6L699.7 393.6L699.9 391.6L700.1 389.7L700.4 387.9L700.6 386.2L700.9 384.6L701.1 382.9L701.4 381.3L701.7 379.7L702.0 378.1L702.3 376.6L702.6 374.9L703.0 373.3L703.3 371.6L703.6 369.9L703.8 368.2L704.1 366.4L704.4 364.6L704.7 362.7L704.9 360.7L705.2 358.7L705.4 356.7L705.6 354.6L705.8 352.4L706.0 350.2L706.2 347.9L706.4 345.6L706.6 343.2L706.8 340.8L707.0 338.4L707.2 335.8L707.3 333.3L707.5 330.7L707.7 328.1L707.8 325.4L708.0 322.7L708.1 320.0L708.3 317.2L708.4 314.4L708.5 311.6L708.7 308.8L708.8 305.9L708.9 303.0L709.0 300.1L709.1 297.2L709.3 294.2L709.4 291.2L709.5 288.3L709.6 285.3L709.7 282.2L709.8 279.2L709.9 276.2L709.9 273.1L710.0 270.1L710.1 267.0L710.2 264.0L710.3 260.9L710.4 257.9L710.5 254.8L710.5 251.8L710.6 248.7L710.7 245.7L710.8 242.6L710.9 239.6L710.9 236.5L711.0 233.5L711.1 230.4L711.1 227.3L711.2 224.3L711.3 221.2L711.3 218.2L711.4 215.1L711.5 212.1L711.5 209.0L711.6 206.0L711.7 202.9L711.7 199.9L711.8 196.8L711.8 193.8L711.9 190.7L712.0 187.7L712.0 184.6L712.1 181.6L712.1 178.5L712.2 175.5L712.2 172.4L712.3 169.4L712.3 166.3L712.4 163.3L712.4 160.2L712.5 157.2L712.5 154.1L712.6 151.1L712.8 148.0L713.0 150.9L713.1 153.8L713.2 156.7L713.3 159.5L713.4 162.4L713.4 165.3L713.5 168.2L713.5 171.1L713.6 174.0L713.7 176.9L713.7 179.8L713.8 182.6L713.8 185.5L713.9 188.4L714.0 191.3L714.0 194.2L714.1 197.1L714.2 200.0L714.2 202.9L714.3 205.7L714.4 208.6L714.4 211.5L714.5 214.4L714.6 217.3L714.7 220.2L714.7 223.1L714.8 225.9L714.9 228.8L715.0 231.7L715.0 234.6L715.1 237.5L715.2 240.4L715.2 243.3L715.3 246.2L715.4 249.0L715.5 251.9L715.5 254.8L715.6 257.7L715.7 260.6L715.8 263.5L715.8 266.4L715.9 269.3L716.0 272.1L716.1 275.0L716.2 277.8L716.2 280.7L716.3 283.5L716.4 286.2L716.5 289.0L716.6 291.8L716.8 294.5L716.9 297.2L717.0 299.8L717.2 302.5L717.3 305.1L717.5 307.7L717.6 310.2L717.8 312.8L718.0 315.3L718.1 317.7L718.3 320.1L718.5 322.5L718.7 324.8L718.9 327.1L719.1 329.3L719.2 331.5L719.4 333.7L719.6 335.8L719.8 337.8L720.0 339.8L720.2 341.8L720.3 343.7L720.5 345.5L720.7 347.3L720.9 349.0L721.1 350.7L721.3 352.3L721.5 353.9L721.7 355.5L721.9 357.0L722.0 358.5L722.2 360.0L722.4 361.4L722.6 362.8L722.8 364.3L722.9 365.7L723.1 367.2L723.2 368.7L723.4 370.2L723.6 371.8L723.7 373.4L723.9 375.2L724.0 377.0L724.2 378.9L724.4 381.0L724.6 383.1L724.8 385.5L725.0 387.9L725.2 390.3L725.4 392.8L725.7 395.2L726.0 397.7L726.2 400.1L726.5 402.6L726.8 405.0L727.1 407.5L727.3 409.9L727.6 412.4L727.9 414.8L728.1 417.3L728.4 419.7L728.7 422.2L728.9 424.6L729.2 427.1L729.5 429.5L729.8 432.0L730.1 434.4L730.4 436.9L730.7 439.3L731.0 441.8L731.3 444.2L731.6 446.6L731.9 449.1L732.2 451.5L732.5 454.0L732.8 456.4L733.1 458.9L733.4 461.3L733.8 463.8L734.1 466.2L734.5 468.7L735.0 471.1L735.5 473.6L736.1 476.0L736.8 478.5L737.5 480.9L738.2 483.4L739.0 485.8L740.0 488.3L741.0 490.0L742.0 491.7L743.0 493.5L744.0 495.3L745.0 497.0L746.0 498.4L747.0 499.7L748.0 500.9L749.0 501.8L750.0 502.6L751.0 503.2L752.0 503.8L753.0 504.3L754.0 504.8L755.0 505.3L756.0 505.8L757.0 506.3L758.0 506.7L759.0 507.5L760.0 508.7L761.0 509.9L762.0 511.1L763.0 511.3L764.0 511.6L765.0 511.8L766.0 512.4L767.0 513.2L768.0 514.0L769.0 514.8L770.0 515.4L771.0 516.0L772.0 516.5L773.0 516.7L774.0 516.6L775.0 516.4L776.0 516.2L777.0 515.9L778.0 515.6L779.0 515.3L780.0 515.4L781.0 515.9L782.0 516.6L783.0 517.2L784.0 516.7L785.0 516.2L786.0 515.7L787.0 515.3L788.0 515.1L789.0 514.8L790.0 514.3L791.0 513.5L792.0 512.6L793.0 511.6L794.0 510.9L795.0 510.4L796.0 509.9L797.0 509.3L798.0 507.6L799.0 505.7L800.0 503.7L801.0 501.5L802.0 498.9L803.0 496.4L804.0 493.7L805.0 492.5L806.0 491.1L807.0 489.5L808.0 487.4L809.0 485.1L810.0 483.1L811.0 481.6L812.0 480.0L813.0 478.3L814.0 476.7L815.0 474.9L816.0 472.9L817.0 471.0L818.0 469.3L819.0 468.4L820.0 467.6L821.0 466.7L822.0 465.8L823.0 464.8L824.0 463.8L825.0 462.8L826.0 462.2L827.0 461.6L828.0 461.2L829.0 460.5L830.0 459.6L831.0 458.5L832.0 457.2L833.0 455.5L834.0 453.8L835.0 452.0L836.0 450.6L837.0 449.6L838.0 448.6L839.0 447.4L840.0 445.5L841.0 443.5L842.0 441.5L843.0 439.3L844.0 436.9L845.0 434.8L846.0 432.8L847.0 431.6L848.0 430.4L849.0 429.2L850.0 428.1L851.0 427.3L852.0 426.8L853.0 426.7L854.0 426.2L855.0 426.0L856.0 426.0L857.0 426.4L858.0 427.4L859.0 428.9L860.0 430.8L861.0 432.8L862.0 434.9L863.0 437.3L864.0 440.1L865.0 443.1L866.0 446.4L867.0 449.9L868.0 453.4L869.0 456.9L870.0 460.3L871.0 463.5L872.0 466.5L873.0 469.4L874.0 472.2L875.0 476.0L876.0 479.8L877.0 483.6L878.0 487.3L879.0 490.8L880.0 494.2L881.0 497.5L882.0 500.5L883.0 503.3L884.0 505.9L885.0 508.0L886.0 509.6L887.0 511.1L888.0 512.5L889.0 514.4L890.0 516.2L891.0 518.0L892.0 519.8L893.0 521.8L894.0 523.7L895.0 525.5L896.0 526.9L897.0 528.1L898.0 529.4L899.0 530.4L900.0 531.5L901.0 533.0L902.0 534.6L903.0 536.8L904.0 538.9L905.0 540.9L906.0 542.2L907.0 543.2L908.0 544.1L909.0 544.9L910.0 546.5L911.0 548.0L912.0 549.5L913.0 550.6L914.0 551.2L915.0 551.8L916.0 552.4L917.0 553.5L918.0 554.7L919.0 555.8L920.0 556.8L921.0 557.6L922.0 558.4L923.0 559.2L924.0 559.8L925.0 560.3L926.0 560.7L927.0 560.9L928.0 560.9L929.0 560.9L930.0 560.9L931.0 561.8L932.0 562.6L933.0 563.4L934.0 564.3L935.0 565.1L936.0 565.9L937.0 566.8L938.0 567.2L939.0 567.6L940.0 568.0L941.0 568.4L942.0 568.7L943.0 569.0L944.0 569.3L945.0 569.7L946.0 570.1L947.0 570.3L948.0 570.4L949.0 570.4L950.0 570.3L951.0 570.4L952.0 570.4L953.0 570.7L954.0 571.0L955.0 571.3L956.0 571.4L957.0 571.6L958.0 571.9L959.0 572.8L960.0 573.7L961.0 574.5L962.0 575.0L963.0 575.2L964.0 575.3L965.0 575.5L966.0 575.6L967.0 575.7L968.0 575.7L969.0 575.8L970.0 575.9L971.0 575.9L972.0 576.1L973.0 577.2L974.0 578.6L975.0 580.2L976.0 581.6L977.0 582.7L978.0 583.7L979.0 584.6L980.0 586.4L981.0 588.0L982.0 589.5L983.0 590.2L984.0 590.1L985.0 589.9L986.0 589.8L987.0 590.2L988.0 590.6L989.0 591.0L990.0 591.4L991.0 591.7L992.0 592.1L993.0 592.4L994.0 593.5L995.0 594.5L996.0 595.6L997.0 595.8L998.0 595.3L999.0 594.8L1000.0 594.3L1001.0 594.8" stroke="#540105"/>
<path d="M104.0 576.4L105.0 576.6L106.0 576.8L107.0 577.0L108.0 577.0L109.0 577.0L110.0 576.9L111.0 576.8L112.0 577.0L113.0 577.3L114.0 577.5L115.0 577.1L116.0 576.0L117.0 574.7L118.0 573.3L119.0 573.2L120.0 573.2L121.0 573.1L122.0 573.1L123.0 573.2L124.0 573.4L125.0 573.7L126.0 572.8L127.0 572.3L128.0 571.9L129.0 572.1L130.0 572.6L131.0 573.0L132.0 573.3L133.0 573.3L134.0 573.3L135.0 573.2L136.0 573.0L137.0 572.5L138.0 571.9L139.0 571.3L140.0 572.1L141.0 572.7L142.0 573.2L143.0 573.3L144.0 573.1L145.0 572.8L146.0 572.5L147.0 571.1L148.0 569.8L149.0 568.7L150.0 567.7L151.0 566.9L152.0 566.4L153.0 566.0L154.0 566.9L155.0 567.8L156.0 568.7L157.0 568.9L158.0 568.4L159.0 567.4L160.0 566.2L161.0 565.4L162.0 564.7L163.0 564.3L164.0 563.7L165.0 563.1L166.0 562.5L167.0 561.8L168.0 560.8L169.0 559.6L170.0 558.4L171.0 557.5L172.0 556.8L173.0 556.1L174.0 555.3L175.0 553.5L176.0 551.7L177.0 549.9L178.0 549.0L179.0 549.0L180.0 548.9L181.0 548.9L182.0 547.4L183.0 546.1L184.0 544.8L185.0 544.1L186.0 543.9L187.0 544.1L188.0 544.5L189.0 545.0L190.0 545.7L191.0 546.4L192.0 546.6L193.0 546.3L194.0 545.5L195.0 544.3L196.0 543.6L197.0 543.1L198.0 542.9L199.0 543.1L200.0 543.4L201.0 543.8L202.0 544.0L203.0 543.5L204.0 542.5L205.0 541.0L206.0 538.8L207.0 537.1L208.0 535.5L209.0 534.0L210.0 531.9L211.0 529.9L212.0 527.8L213.0 525.4L214.0 522.7L215.0 520.0L216.0 517.2L217.0 515.4L218.0 513.5L219.0 511.6L220.0 509.9L221.0 507.7L222.0 505.7L223.0 503.8L224.0 502.3L225.0 500.7L226.0 499.2L227.0 497.3L228.0 495.1L229.0 492.8L230.0 490.2L231.0 487.5L232.0 484.8L233.0 482.4L234.0 480.8L235.0 479.9L236.0 479.1L237.0 478.3L238.0 476.5L239.0 474.7L240.0 472.7L241.0 470.6L242.0 468.2L243.0 465.8L244.0 463.3L245.0 461.0L246.0 458.6L247.0 456.3L248.0 454.0L249.0 451.9L250.0 449.7L251.0 447.6L252.0 445.4L253.0 443.2L254.0 441.0L255.0 438.7L256.0 436.3L257.0 433.8L258.0 431.3L259.0 428.4L260.0 425.4L261.0 422.2L262.0 419.8L263.0 418.1L264.0 416.3L265.0 414.6L266.0 411.0L267.0 407.5L268.0 404.0L269.0 401.2L270.0 399.1L271.0 396.9L272.0 394.8L273.0 392.2L274.0 389.6L275.0 386.9L276.0 384.3L277.0 381.7L278.0 379.1L279.0 376.3L280.0 372.6L281.0 368.9L282.0 365.1L283.0 362.2L284.0 360.1L285.0 358.1L286.0 356.1L287.0 352.8L288.0 349.5L289.0 346.3L290.0 343.2L291.0 340.3L292.0 337.5L293.0 335.1L294.0 333.3L295.0 331.8L296.0 330.9L297.0 330.1L298.0 328.8L299.0 327.7L300.0 326.7L301.0 325.8L302.0 325.2L303.0 325.1L304.0 326.4L305.0 329.4L306.0 332.9L307.0 336.6L308.0 339.3L309.0 341.8L310.0 344.0L311.0 345.4L312.0 346.1L313.0 346.8L314.0 347.0L315.0 346.1L316.0 344.9L317.0 343.5L318.0 342.4L319.0 341.3L320.0 339.5L321.0 337.4L322.0 334.9L323.0 332.0L324.0 329.0L325.0 325.4L326.0 321.4L327.0 317.6L328.0 313.7L329.0 310.8L330.0 307.8L331.0 304.8L332.0 301.7L333.0 298.4L334.0 295.4L335.0 292.3L336.0 289.7L337.0 287.1L338.0 284.9L339.0 282.8L340.0 281.1L341.0 283.1L342.0 286.3L343.0 291.9L344.0 297.7L345.0 303.6L346.0 308.2L347.0 311.8L348.0 315.4L349.0 318.9L350.0 322.4L351.0 325.8L352.0 329.1L353.0 333.4L354.0 338.5L355.0 343.5L356.0 348.4L357.0 350.7L358.0 353.1L359.0 355.5L360.0 358.8L361.0 363.4L362.0 368.5L363.0 373.6L364.0 378.3L365.0 382.4L366.0 385.3L367.0 386.8L368.0 387.6L369.0 388.3L370.0 388.9L371.0 390.1L372.0 391.4L373.0 392.7L374.0 394.6L375.0 396.9L376.0 399.3L377.0 401.6L378.0 402.7L379.0 403.8L380.0 404.8L381.0 405.7L382.0 406.5L383.0 407.3L384.0 408.2L385.0 409.5L386.0 410.9L387.0 412.3L388.0 413.8L389.0 415.4L390.0 417.0L391.0 418.5L392.0 420.3L393.0 421.9L394.0 423.5L395.0 424.6L396.0 425.1L397.0 425.6L398.0 426.1L399.0 427.4L400.0 428.7L401.0 428.6L402.0 428.7L403.0 428.8L404.0 429.0L405.0 429.3L406.0 429.2L407.0 429.1L408.0 429.1L409.0 429.1L410.0 429.3L411.0 429.5L412.0 429.7L413.0 429.7L414.0 429.3L415.0 428.7L416.0 427.5L417.0 425.8L418.0 424.2L419.0 422.7L420.0 423.3L421.0 423.9L422.0 424.5L423.0 425.1L424.0 425.5L425.0 426.2L426.0 427.0L427.0 428.0L428.0 429.1L429.0 430.2L430.0 431.5L431.0 433.1L432.0 435.1L433.0 437.3L434.0 439.8L435.0 443.0L436.0 446.5L437.0 450.3L438.0 453.7L439.0 456.5L440.0 459.1L441.0 461.8L442.0 464.3L443.0 466.7L444.0 468.5L445.0 469.7L446.0 470.8L447.0 471.9L448.0 473.4L449.0 474.8L450.0 476.2L451.0 477.4L452.0 478.6L453.0 479.7L454.0 480.6L455.0 481.9L456.0 483.2L457.0 484.4L458.0 485.2L459.0 485.4L460.0 485.6L461.0 485.5L462.0 485.2L463.0 484.1L464.0 482.5L465.0 481.0L466.0 479.7L467.0 478.8L468.0 478.5L469.0 478.0L470.0 478.5L471.0 479.8L472.0 482.0L473.0 484.9L474.0 488.0L475.0 491.0L476.0 492.8L477.0 494.4L478.0 496.1L479.0 498.5L480.0 501.4L481.0 504.2L482.0 506.9L483.0 508.8L484.0 510.4L485.0 511.7L486.0 512.6L487.0 513.5L488.0 514.3L489.0 515.1L490.0 515.6L491.0 516.0L492.0 516.4L493.0 516.7L494.0 517.1L495.0 517.4L496.0 517.7L497.0 518.4L498.0 519.2L499.0 520.0L500.0 520.6L501.0 521.0L502.0 521.4L503.0 521.8L504.0 522.9L505.0 523.9L506.0 524.9L507.0 525.6L508.0 525.9L509.0 526.3L510.0 526.6L511.0 526.3L512.0 525.9L513.0 525.4L514.0 525.7L515.0 526.6L516.0 527.5L517.0 528.4L518.0 528.2L519.0 527.9L520.0 527.6L521.0 527.6L522.0 528.0L523.0 528.3L524.0 528.6L525.0 528.2L526.0 527.8L527.0 527.4L528.0 526.9L529.0 526.5L530.0 526.0L531.0 525.6L532.0 526.4L533.0 527.3L534.0 528.2L535.0 528.5L536.0 528.2L537.0 528.0L538.0 527.8L539.0 527.1L540.0 526.5L541.0 525.8L542.0 525.3L543.0 525.0L544.0 524.7L545.0 524.4L546.0 524.8L547.0 525.2L548.0 525.5L549.0 525.5L550.0 525.1L551.0 524.7L552.0 524.2L553.0 524.2L554.0 524.2L555.0 524.1L556.0 524.1L557.0 524.1L558.0 524.0L559.0 524.0L560.0 523.9L561.0 523.9L562.0 523.8L563.0 523.1L564.0 521.9L565.0 520.6L566.0 519.3L567.0 519.3L568.0 519.4L569.0 519.5L570.0 519.4L571.0 519.0L572.0 518.8L573.0 518.8L574.0 518.4L575.0 518.1L576.0 517.8L577.0 517.4L578.0 517.1L579.0 516.9L580.0 516.7L581.0 517.8L582.0 519.0L583.0 520.2L584.0 521.3L585.0 522.1L586.0 523.1L587.0 524.2L588.0 526.1L589.0 528.0L590.0 529.8L591.0 531.0L592.0 531.5L593.0 531.8L594.0 532.1L595.0 532.4L596.0 532.7L597.0 532.9L598.0 533.4L599.0 534.2L600.0 534.9L601.0 535.7L602.0 535.1L603.0 534.5L604.0 534.0L605.0 534.1L606.0 535.0L607.0 535.8L608.0 536.6L609.0 536.9L610.0 537.1L611.0 537.3L612.0 537.9L613.0 539.0L614.0 540.1L615.0 541.2L616.0 541.1L617.0 541.0L618.0 541.0L619.0 540.5L620.0 539.5L621.0 538.6L622.0 537.7L623.0 539.7L624.0 541.8L625.0 543.8L626.0 544.7L627.0 544.3L628.0 543.9L629.0 543.5L630.0 544.5L631.0 545.5L632.0 546.4L633.0 546.7L634.0 546.5L635.0 546.2L636.0 545.9L637.0 546.2L638.0 546.6L639.0 547.0L640.0 547.3L641.0 547.2L642.0 547.2L643.0 547.2L644.0 546.8L645.0 546.4L646.0 546.0L647.0 545.4L648.0 544.7L649.0 543.9L650.0 543.2L651.0 543.7L652.0 544.3L653.0 544.8L654.0 544.7L655.0 544.0L656.0 543.2L657.0 542.5L658.0 541.9L659.0 541.1L660.0 540.2L661.0 539.4L662.0 538.6L663.0 537.8L664.0 537.0L665.0 535.4L666.0 533.6L667.0 531.7L668.0 530.4L669.0 529.6L670.0 528.8L671.0 527.8L672.0 525.0L673.0 522.1L674.0 519.1L675.0 516.6L676.0 514.6L677.0 512.7L678.0 510.8L679.0 508.7L680.0 506.3L681.0 503.6L682.0 500.3L683.0 496.7L684.0 493.0L684.9 490.5L685.8 488.1L686.6 485.6L687.4 483.1L688.0 480.6L688.6 478.1L689.2 475.6L689.8 473.2L690.2 470.7L690.7 468.2L691.1 465.7L691.5 463.2L691.9 460.7L692.3 458.3L692.6 455.8L692.8 453.3L693.1 450.8L693.4 448.3L693.6 445.9L693.9 443.4L694.1 440.9L694.4 438.4L694.6 435.9L694.8 433.4L695.1 431.0L695.3 428.5L695.5 426.0L695.7 423.5L695.9 421.0L696.1 418.6L696.3 416.1L696.5 413.6L696.7 411.1L696.9 408.6L697.1 406.1L697.3 403.7L697.4 401.2L697.6 398.7L697.8 396.2L697.9 393.7L698.1 391.2L698.2 388.8L698.4 386.4L698.5 384.2L698.7 382.2L698.9 380.2L699.1 378.4L699.3 376.7L699.6 375.0L699.8 373.5L700.1 372.0L700.3 370.5L700.6 369.1L700.9 367.7L701.2 366.3L701.5 364.9L701.8 363.5L702.2 362.0L702.5 360.6L702.8 359.1L703.1 357.6L703.4 356.1L703.7 354.5L704.0 352.9L704.3 351.2L704.5 349.4L704.8 347.7L705.0 345.8L705.3 343.9L705.5 342.0L705.7 340.0L705.9 337.9L706.1 335.8L706.3 333.6L706.5 331.4L706.7 329.1L706.9 326.8L707.0 324.4L707.2 322.0L707.4 319.6L707.6 317.1L707.7 314.5L707.9 311.9L708.0 309.3L708.2 306.7L708.3 304.0L708.4 301.3L708.6 298.6L708.7 295.8L708.8 293.0L708.9 290.2L709.0 287.3L709.2 284.4L709.3 281.6L709.4 278.6L709.5 275.7L709.6 272.8L709.7 269.8L709.7 266.8L709.8 263.8L709.9 260.9L710.0 257.9L710.1 254.9L710.2 252.0L710.3 249.0L710.4 246.0L710.4 243.0L710.5 240.1L710.6 237.1L710.7 234.1L710.7 231.2L710.8 228.2L710.9 225.2L711.0 222.3L711.0 219.3L711.1 216.3L711.2 213.3L711.2 210.4L711.3 207.4L711.4 204.4L711.4 201.5L711.5 198.5L711.6 195.5L711.6 192.6L711.7 189.6L711.8 186.6L711.8 183.6L711.9 180.7L711.9 177.7L712.0 174.7L712.1 171.8L712.1 168.8L712.2 165.8L712.2 162.9L712.3 159.9L712.4 156.9L712.5 153.9L712.6 151.0L712.8 148.0L713.1 150.8L713.2 153.6L713.3 156.3L713.4 159.1L713.5 161.9L713.6 164.7L713.7 167.5L713.7 170.2L713.8 173.0L713.9 175.8L713.9 178.6L714.0 181.3L714.1 184.1L714.1 186.9L714.2 189.7L714.3 192.5L714.4 195.2L714.4 198.0L714.5 200.8L714.6 203.6L714.6 206.4L714.7 209.1L714.8 211.9L714.8 214.7L714.9 217.5L715.0 220.2L715.0 223.0L715.1 225.8L715.2 228.6L715.3 231.4L715.3 234.1L715.4 236.9L715.5 239.7L715.5 242.5L715.6 245.3L715.7 248.0L715.8 250.8L715.9 253.6L715.9 256.4L716.0 259.2L716.1 261.9L716.2 264.7L716.3 267.5L716.3 270.2L716.4 272.9L716.5 275.6L716.6 278.3L716.7 280.9L716.8 283.5L717.0 286.1L717.1 288.7L717.2 291.2L717.4 293.7L717.5 296.2L717.7 298.6L717.8 301.0L718.0 303.3L718.2 305.6L718.4 307.9L718.6 310.1L718.8 312.3L719.0 314.4L719.2 316.5L719.4 318.6L719.6 320.6L719.8 322.5L719.9 324.4L720.1 326.2L720.3 328.0L720.5 329.8L720.7 331.5L720.9 333.1L721.1 334.7L721.3 336.3L721.5 337.8L721.7 339.2L721.9 340.7L722.1 342.0L722.3 343.4L722.5 344.7L722.7 346.0L722.8 347.3L723.0 348.6L723.2 349.9L723.4 351.2L723.5 352.5L723.7 353.8L723.9 355.2L724.0 356.6L724.2 358.0L724.3 359.5L724.5 361.2L724.7 362.9L724.8 364.7L725.0 366.6L725.2 368.6L725.4 370.8L725.6 373.1L725.8 375.4L726.0 377.7L726.2 380.0L726.5 382.3L726.7 384.6L727.0 386.9L727.2 389.2L727.5 391.5L727.8 393.8L728.0 396.1L728.3 398.4L728.5 400.6L728.8 402.9L729.1 405.2L729.3 407.5L729.6 409.8L729.9 412.1L730.2 414.4L730.5 416.7L730.8 419.0L731.0 421.3L731.3 423.6L731.6 425.9L731.9 428.2L732.2 430.5L732.5 432.8L732.8 435.1L733.0 437.4L733.3 439.7L733.6 442.0L734.0 444.3L734.3 446.6L734.7 448.9L735.1 451.2L735.6 453.5L736.2 455.8L736.8 458.1L737.5 460.4L738.3 462.7L739.1 465.0L740.0 467.3L741.0 469.4L742.0 471.2L743.0 472.5L744.0 473.4L745.0 474.8L746.0 476.7L747.0 478.4L748.0 480.1L749.0 481.2L750.0 482.2L751.0 483.0L752.0 483.6L753.0 483.9L754.0 484.2L755.0 484.5L756.0 484.5L757.0 484.5L758.0 484.4L759.0 484.8L760.0 485.6L761.0 486.4L762.0 487.2L763.0 487.9L764.0 488.6L765.0 489.3L766.0 490.3L767.0 491.5L768.0 492.7L769.0 493.9L770.0 494.4L771.0 494.8L772.0 495.2L773.0 495.5L774.0 495.7L775.0 495.7L776.0 495.7L777.0 495.8L778.0 495.9L779.0 495.9L780.0 496.0L781.0 496.1L782.0 496.3L783.0 496.6L784.0 496.8L785.0 496.9L786.0 497.0L787.0 497.2L788.0 497.4L789.0 497.3L790.0 497.1L791.0 495.8L792.0 494.3L793.0 492.7L794.0 491.4L795.0 490.4L796.0 489.4L797.0 488.2L798.0 485.9L799.0 483.4L800.0 480.7L801.0 478.4L802.0 476.4L803.0 474.3L804.0 472.2L805.0 470.1L806.0 467.9L807.0 465.3L808.0 462.2L809.0 459.1L810.0 456.3L811.0 454.2L812.0 453.2L813.0 452.3L814.0 451.5L815.0 450.6L816.0 449.8L817.0 449.2L818.0 448.7L819.0 447.5L820.0 446.2L821.0 444.9L822.0 443.9L823.0 443.2L824.0 442.4L825.0 441.7L826.0 441.4L827.0 441.3L828.0 441.3L829.0 441.4L830.0 441.5L831.0 441.3L832.0 440.8L833.0 439.4L834.0 437.9L835.0 436.3L836.0 434.8L837.0 433.7L838.0 432.5L839.0 431.0L840.0 428.8L841.0 426.6L842.0 424.3L843.0 422.1L844.0 420.2L845.0 418.5L846.0 416.9L847.0 415.3L848.0 413.8L849.0 412.2L850.0 410.7L851.0 409.1L852.0 408.0L853.0 407.2L854.0 406.6L855.0 406.3L856.0 406.3L857.0 406.9L858.0 408.4L859.0 410.6L860.0 413.3L861.0 415.0L862.0 416.8L863.0 418.8L864.0 421.7L865.0 425.5L866.0 429.6L867.0 433.8L868.0 437.5L869.0 441.2L870.0 444.8L871.0 448.3L872.0 451.8L873.0 455.1L874.0 458.4L875.0 461.9L876.0 465.3L877.0 468.7L878.0 472.1L879.0 475.4L880.0 478.6L881.0 481.6L882.0 484.9L883.0 487.8L884.0 490.5L885.0 492.9L886.0 494.8L887.0 496.6L888.0 498.4L889.0 500.3L890.0 502.1L891.0 503.8L892.0 505.7L893.0 507.7L894.0 509.6L895.0 511.5L896.0 512.2L897.0 512.9L898.0 513.5L899.0 514.6L900.0 516.6L901.0 519.0L902.0 521.8L903.0 523.9L904.0 525.9L905.0 527.7L906.0 529.4L907.0 531.2L908.0 532.9L909.0 534.5L910.0 535.3L911.0 536.0L912.0 536.7L913.0 537.7L914.0 539.1L915.0 540.5L916.0 541.8L917.0 543.8L918.0 545.8L919.0 547.7L920.0 548.8L921.0 549.1L922.0 549.4L923.0 549.5L924.0 550.3L925.0 551.1L926.0 551.7L927.0 552.1L928.0 552.3L929.0 552.5L930.0 552.7L931.0 553.3L932.0 554.0L933.0 554.7L934.0 554.9L935.0 554.6L936.0 554.4L937.0 554.2L938.0 554.8L939.0 555.5L940.0 556.2L941.0 557.0L942.0 557.9L943.0 558.8L944.0 559.6L945.0 559.9L946.0 560.0L947.0 560.0L948.0 559.7L949.0 559.0L950.0 558.3L951.0 557.6L952.0 557.7L953.0 557.8L954.0 558.2L955.0 558.8L956.0 559.5L957.0 560.2L958.0 561.1L959.0 562.0L960.0 562.8L961.0 563.5L962.0 563.8L963.0 563.7L964.0 563.6L965.0 563.5L966.0 563.6L967.0 563.8L968.0 563.9L969.0 564.4L970.0 565.1L971.0 565.8L972.0 566.6L973.0 566.9L974.0 567.5L975.0 568.4L976.0 569.8L977.0 571.8L978.0 573.6L979.0 575.3L980.0 576.5L981.0 577.4L982.0 578.3L983.0 578.9L984.0 579.4L985.0 579.9L986.0 580.3L987.0 581.3L988.0 582.2L989.0 583.2L990.0 583.7L991.0 583.9L992.0 584.1L993.0 584.3L994.0 584.8L995.0 585.3L996.0 585.8L997.0 586.1L998.0 586.1L999.0 586.1L1000.0 586.1L1001.0 586.4" stroke="#690206"/>
<path d="M104.0 564.9L105.0 564.8L106.0 564.6L107.0 564.4L108.0 564.1L109.0 563.6L110.0 563.0L111.0 562.5L112.0 562.6L113.0 562.8L114.0 562.9L115.0 562.8L116.0 562.4L117.0 561.8L118.0 561.1L119.0 560.4L120.0 559.6L121.0 558.8L122.0 558.4L123.0 558.4L124.0 558.5L125.0 558.7L126.0 557.8L127.0 557.2L128.0 556.9L129.0 557.2L130.0 558.1L131.0 558.7L132.0 559.4L133.0 559.7L134.0 560.0L135.0 560.3L136.0 560.4L137.0 560.3L138.0 560.1L139.0 559.8L140.0 559.3L141.0 558.7L142.0 557.8L143.0 557.3L144.0 557.3L145.0 557.2L146.0 557.1L147.0 556.0L148.0 555.0L149.0 554.2L150.0 553.6L151.0 553.3L152.0 553.2L153.0 553.4L154.0 553.7L155.0 553.9L156.0 554.1L157.0 554.1L158.0 553.6L159.0 552.5L160.0 551.2L161.0 549.5L162.0 547.9L163.0 546.6L164.0 545.9L165.0 545.8L166.0 545.6L167.0 545.5L168.0 543.9L169.0 542.3L170.0 540.6L171.0 539.6L172.0 539.3L173.0 539.0L174.0 538.6L175.0 536.9L176.0 535.1L177.0 533.4L178.0 532.2L179.0 531.5L180.0 530.6L181.0 529.7L182.0 528.7L183.0 527.8L184.0 527.1L185.0 526.1L186.0 525.0L187.0 524.2L188.0 524.0L189.0 524.4L190.0 525.2L191.0 525.9L192.0 526.6L193.0 527.2L194.0 527.1L195.0 526.6L196.0 525.2L197.0 524.1L198.0 523.5L199.0 523.8L200.0 524.6L201.0 525.4L202.0 526.1L203.0 526.3L204.0 525.6L205.0 524.4L206.0 522.5L207.0 520.9L208.0 519.5L209.0 518.4L210.0 516.1L211.0 513.8L212.0 511.5L213.0 509.3L214.0 507.2L215.0 505.1L216.0 502.9L217.0 499.9L218.0 496.9L219.0 493.8L220.0 491.8L221.0 490.6L222.0 489.6L223.0 488.6L224.0 486.1L225.0 483.7L226.0 481.2L227.0 479.4L228.0 478.4L229.0 477.2L230.0 475.7L231.0 472.5L232.0 469.4L233.0 466.6L234.0 465.0L235.0 464.5L236.0 464.0L237.0 463.6L238.0 460.3L239.0 456.9L240.0 453.3L241.0 451.1L242.0 450.1L243.0 449.1L244.0 448.0L245.0 445.5L246.0 443.0L247.0 440.5L248.0 437.7L249.0 434.3L250.0 431.1L251.0 427.8L252.0 426.2L253.0 424.7L254.0 423.1L255.0 421.6L256.0 420.0L257.0 418.5L258.0 416.8L259.0 414.3L260.0 411.6L261.0 408.7L262.0 405.1L263.0 401.0L264.0 396.8L265.0 392.6L266.0 390.1L267.0 387.6L268.0 385.2L269.0 382.5L270.0 379.5L271.0 376.4L272.0 373.4L273.0 370.6L274.0 367.9L275.0 365.1L276.0 362.3L277.0 359.4L278.0 356.5L279.0 353.5L280.0 351.3L281.0 349.1L282.0 346.8L283.0 343.6L284.0 339.5L285.0 335.5L286.0 331.4L287.0 328.0L288.0 324.6L289.0 321.2L290.0 317.9L291.0 314.6L292.0 311.4L293.0 308.5L294.0 306.5L295.0 305.5L296.0 305.1L297.0 305.1L298.0 305.0L299.0 304.9L300.0 305.0L301.0 304.5L302.0 304.3L303.0 304.5L304.0 305.8L305.0 308.8L306.0 312.3L307.0 316.0L308.0 317.6L309.0 318.9L310.0 319.9L311.0 320.9L312.0 322.1L313.0 322.6L314.0 322.6L315.0 322.0L316.0 321.2L317.0 320.2L318.0 319.2L319.0 317.8L320.0 315.9L321.0 313.5L322.0 309.3L323.0 304.8L324.0 300.2L325.0 296.0L326.0 292.4L327.0 289.0L328.0 285.6L329.0 282.2L330.0 278.7L331.0 275.1L332.0 271.3L333.0 267.2L334.0 263.3L335.0 259.5L336.0 255.7L337.0 252.1L338.0 248.9L339.0 246.5L340.0 245.3L341.0 248.2L342.0 252.4L343.0 257.2L344.0 262.3L345.0 267.4L346.0 272.3L347.0 276.9L348.0 281.6L349.0 286.2L350.0 290.7L351.0 295.2L352.0 299.6L353.0 303.7L354.0 307.3L355.0 310.8L356.0 314.2L357.0 318.7L358.0 323.2L359.0 327.8L360.0 331.3L361.0 334.2L362.0 337.6L363.0 341.2L364.0 346.4L365.0 350.9L366.0 354.2L367.0 356.8L368.0 359.5L369.0 362.1L370.0 364.7L371.0 365.8L372.0 367.0L373.0 368.2L374.0 369.3L375.0 370.5L376.0 371.6L377.0 372.8L378.0 374.7L379.0 376.7L380.0 378.5L381.0 380.3L382.0 382.0L383.0 383.7L384.0 385.4L385.0 386.1L386.0 386.9L387.0 387.6L388.0 389.0L389.0 391.0L390.0 393.0L391.0 394.9L392.0 395.8L393.0 396.7L394.0 397.4L395.0 398.2L396.0 399.2L397.0 400.2L398.0 401.1L399.0 402.0L400.0 403.0L401.0 402.6L402.0 402.5L403.0 402.8L404.0 403.1L405.0 403.6L406.0 402.6L407.0 401.7L408.0 400.8L409.0 400.6L410.0 401.0L411.0 401.4L412.0 401.8L413.0 402.1L414.0 402.1L415.0 401.8L416.0 400.7L417.0 399.0L418.0 397.4L419.0 395.8L420.0 395.1L421.0 394.1L422.0 393.3L423.0 393.8L424.0 395.4L425.0 397.2L426.0 399.3L427.0 400.3L428.0 401.4L429.0 402.5L430.0 404.0L431.0 406.2L432.0 408.8L433.0 411.6L434.0 414.8L435.0 418.8L436.0 423.3L437.0 427.5L438.0 430.8L439.0 433.3L440.0 435.6L441.0 439.9L442.0 444.0L443.0 447.9L444.0 449.9L445.0 450.1L446.0 450.2L447.0 450.1L448.0 451.9L449.0 453.6L450.0 455.2L451.0 456.4L452.0 457.2L453.0 457.8L454.0 458.4L455.0 459.7L456.0 461.0L457.0 462.2L458.0 463.6L459.0 465.1L460.0 466.4L461.0 467.5L462.0 466.3L463.0 464.2L464.0 461.5L465.0 459.1L466.0 457.1L467.0 455.6L468.0 454.8L469.0 454.3L470.0 455.0L471.0 456.5L472.0 459.4L473.0 463.3L474.0 467.4L475.0 471.4L476.0 473.3L477.0 475.1L478.0 477.0L479.0 479.0L480.0 481.1L481.0 483.1L482.0 485.0L483.0 488.1L484.0 490.8L485.0 493.1L486.0 494.3L487.0 494.7L488.0 495.0L489.0 495.3L490.0 496.4L491.0 497.5L492.0 498.5L493.0 499.1L494.0 499.5L495.0 499.8L496.0 500.1L497.0 500.6L498.0 501.1L499.0 501.6L500.0 502.1L501.0 502.5L502.0 502.9L503.0 503.3L504.0 503.3L505.0 503.3L506.0 503.3L507.0 503.4L508.0 503.5L509.0 503.6L510.0 503.7L511.0 505.1L512.0 506.5L513.0 507.8L514.0 508.4L515.0 508.1L516.0 507.9L517.0 507.5L518.0 507.8L519.0 508.0L520.0 508.2L521.0 508.1L522.0 507.6L523.0 507.2L524.0 506.7L525.0 505.9L526.0 505.0L527.0 504.1L528.0 503.7L529.0 503.8L530.0 503.9L531.0 504.0L532.0 504.9L533.0 505.9L534.0 506.9L535.0 506.8L536.0 505.7L537.0 504.7L538.0 503.6L539.0 503.6L540.0 503.6L541.0 503.6L542.0 503.2L543.0 502.6L544.0 501.9L545.0 501.2L546.0 501.4L547.0 501.5L548.0 501.6L549.0 501.6L550.0 501.3L551.0 501.0L552.0 500.6L553.0 500.2L554.0 499.7L555.0 499.2L556.0 498.7L557.0 498.2L558.0 497.7L559.0 497.1L560.0 496.3L561.0 495.4L562.0 494.6L563.0 493.7L564.0 492.9L565.0 492.0L566.0 491.1L567.0 490.5L568.0 489.9L569.0 489.3L570.0 488.9L571.0 488.6L572.0 488.4L573.0 488.5L574.0 488.5L575.0 488.5L576.0 488.5L577.0 489.0L578.0 490.1L579.0 491.2L580.0 492.3L581.0 492.0L582.0 491.8L583.0 491.6L584.0 492.0L585.0 493.2L586.0 494.6L587.0 496.2L588.0 497.5L589.0 498.8L590.0 500.0L591.0 501.6L592.0 503.3L593.0 504.9L594.0 506.4L595.0 506.3L596.0 506.1L597.0 505.9L598.0 506.0L599.0 506.3L600.0 506.7L601.0 507.0L602.0 507.8L603.0 508.7L604.0 509.5L605.0 510.6L606.0 511.8L607.0 513.0L608.0 514.3L609.0 514.0L610.0 513.8L611.0 513.6L612.0 514.2L613.0 515.8L614.0 517.3L615.0 518.8L616.0 518.8L617.0 518.7L618.0 518.7L619.0 518.6L620.0 518.5L621.0 518.4L622.0 518.3L623.0 519.4L624.0 520.6L625.0 521.7L626.0 523.1L627.0 524.5L628.0 526.0L629.0 527.4L630.0 526.8L631.0 526.2L632.0 525.5L633.0 525.3L634.0 525.4L635.0 525.4L636.0 525.5L637.0 526.5L638.0 527.4L639.0 528.4L640.0 529.1L641.0 529.3L642.0 529.5L643.0 529.6L644.0 529.3L645.0 528.9L646.0 528.5L647.0 527.8L648.0 526.9L649.0 526.0L650.0 525.1L651.0 524.9L652.0 524.8L653.0 524.7L654.0 524.4L655.0 524.1L656.0 523.8L657.0 523.4L658.0 523.3L659.0 522.9L660.0 522.4L661.0 521.8L662.0 521.0L663.0 520.2L664.0 519.4L665.0 517.1L666.0 514.7L667.0 512.1L668.0 510.1L669.0 508.9L670.0 507.6L671.0 506.1L672.0 503.0L673.0 499.8L674.0 496.6L675.0 494.1L676.0 492.3L677.0 490.7L678.0 489.1L679.0 486.3L680.0 483.2L681.0 479.9L682.0 476.7L683.0 473.3L684.0 469.5L684.8 467.2L685.6 464.9L686.3 462.6L686.9 460.3L687.5 458.0L688.1 455.6L688.6 453.3L689.1 451.0L689.5 448.7L689.9 446.4L690.3 444.1L690.7 441.8L691.1 439.5L691.4 437.1L691.7 434.8L691.9 432.5L692.2 430.2L692.5 427.9L692.7 425.6L693.0 423.3L693.2 421.0L693.4 418.6L693.7 416.3L693.9 414.0L694.1 411.7L694.3 409.4L694.5 407.1L694.8 404.8L695.0 402.4L695.2 400.1L695.4 397.8L695.6 395.5L695.8 393.2L695.9 390.9L696.1 388.6L696.3 386.3L696.5 383.9L696.6 381.6L696.8 379.3L696.9 377.0L697.1 374.7L697.2 372.4L697.4 370.2L697.6 368.1L697.8 366.2L697.9 364.4L698.1 362.7L698.3 361.1L698.6 359.5L698.8 358.1L699.1 356.7L699.3 355.3L699.6 354.0L699.9 352.7L700.2 351.5L700.5 350.2L700.8 348.9L701.1 347.7L701.5 346.4L701.8 345.1L702.1 343.8L702.5 342.4L702.8 341.1L703.1 339.6L703.4 338.2L703.7 336.7L703.9 335.1L704.2 333.5L704.4 331.9L704.7 330.2L704.9 328.4L705.1 326.6L705.4 324.8L705.6 322.8L705.8 320.9L706.0 318.9L706.2 316.8L706.4 314.7L706.5 312.5L706.7 310.3L706.9 308.1L707.1 305.8L707.2 303.4L707.4 301.1L707.6 298.6L707.7 296.2L707.8 293.7L708.0 291.1L708.1 288.6L708.3 286.0L708.4 283.3L708.5 280.7L708.6 278.0L708.7 275.2L708.8 272.5L709.0 269.7L709.1 266.9L709.2 264.0L709.2 261.2L709.3 258.4L709.4 255.6L709.5 252.7L709.6 249.9L709.7 247.1L709.8 244.2L709.9 241.4L710.0 238.6L710.1 235.7L710.1 232.9L710.2 230.1L710.3 227.2L710.4 224.4L710.4 221.6L710.5 218.8L710.6 215.9L710.7 213.1L710.7 210.3L710.8 207.4L710.9 204.6L710.9 201.8L711.0 198.9L711.1 196.1L711.1 193.3L711.2 190.5L711.3 187.6L711.4 184.8L711.5 182.0L711.5 179.1L711.6 176.3L711.7 173.5L711.8 170.6L711.8 167.8L711.9 165.0L712.0 162.2L712.1 159.3L712.2 156.5L712.3 153.7L712.5 150.8L712.8 148.0L713.2 150.6L713.4 153.2L713.5 155.8L713.7 158.4L713.8 160.9L713.9 163.5L714.0 166.1L714.1 168.7L714.2 171.3L714.2 173.9L714.3 176.5L714.4 179.1L714.5 181.7L714.6 184.3L714.7 186.8L714.7 189.4L714.8 192.0L714.9 194.6L714.9 197.2L715.0 199.8L715.1 202.4L715.1 205.0L715.2 207.6L715.2 210.2L715.3 212.7L715.4 215.3L715.4 217.9L715.5 220.5L715.6 223.1L715.7 225.7L715.7 228.3L715.8 230.9L715.9 233.5L715.9 236.1L716.0 238.6L716.1 241.2L716.2 243.8L716.3 246.4L716.4 249.0L716.4 251.6L716.5 254.2L716.6 256.8L716.7 259.3L716.8 261.9L716.9 264.4L717.0 266.9L717.1 269.3L717.2 271.8L717.4 274.2L717.5 276.5L717.6 278.8L717.8 281.1L717.9 283.4L718.1 285.6L718.3 287.8L718.5 289.9L718.7 292.0L718.8 294.1L719.0 296.1L719.3 298.0L719.5 300.0L719.7 301.9L719.9 303.7L720.1 305.5L720.3 307.2L720.5 308.9L720.7 310.6L720.9 312.2L721.1 313.8L721.3 315.3L721.5 316.8L721.7 318.2L721.9 319.6L722.1 321.0L722.3 322.3L722.5 323.6L722.7 324.9L722.9 326.2L723.1 327.4L723.3 328.6L723.5 329.8L723.6 331.0L723.8 332.2L724.0 333.4L724.2 334.6L724.3 335.8L724.5 337.1L724.6 338.4L724.8 339.7L725.0 341.1L725.1 342.6L725.3 344.1L725.4 345.7L725.6 347.4L725.7 349.2L725.9 351.1L726.1 353.1L726.3 355.2L726.4 357.3L726.6 359.4L726.9 361.6L727.1 363.7L727.3 365.8L727.6 367.9L727.8 370.0L728.0 372.1L728.3 374.2L728.5 376.4L728.8 378.5L729.0 380.6L729.3 382.7L729.5 384.8L729.8 386.9L730.1 389.0L730.4 391.2L730.6 393.3L730.9 395.4L731.2 397.5L731.5 399.6L731.8 401.7L732.0 403.8L732.3 406.0L732.6 408.1L732.8 410.2L733.1 412.3L733.4 414.4L733.6 416.5L733.9 418.6L734.2 420.8L734.5 422.9L734.9 425.0L735.3 427.1L735.8 429.2L736.3 431.3L737.0 433.4L737.6 435.6L738.3 437.7L739.1 439.8L740.0 441.9L741.0 443.3L742.0 444.8L743.0 446.2L744.0 447.7L745.0 449.4L746.0 451.0L747.0 452.6L748.0 454.0L749.0 453.5L750.0 452.8L751.0 452.0L752.0 452.4L753.0 453.9L754.0 455.3L755.0 456.8L756.0 458.1L757.0 459.4L758.0 460.8L759.0 461.7L760.0 462.3L761.0 462.8L762.0 463.4L763.0 465.1L764.0 466.9L765.0 468.7L766.0 470.1L767.0 471.2L768.0 472.3L769.0 473.4L770.0 474.1L771.0 474.8L772.0 475.5L773.0 476.5L774.0 477.8L775.0 479.1L776.0 480.2L777.0 479.6L778.0 478.9L779.0 478.2L780.0 478.5L781.0 479.7L782.0 480.7L783.0 481.6L784.0 481.4L785.0 481.1L786.0 480.8L787.0 480.5L788.0 479.9L789.0 479.1L790.0 478.1L791.0 477.7L792.0 477.1L793.0 476.4L794.0 475.4L795.0 474.1L796.0 472.8L797.0 471.3L798.0 470.1L799.0 468.6L800.0 466.9L801.0 464.4L802.0 460.9L803.0 457.4L804.0 453.8L805.0 451.8L806.0 449.6L807.0 447.0L808.0 443.8L809.0 440.3L810.0 437.4L811.0 435.2L812.0 434.6L813.0 434.1L814.0 433.6L815.0 432.3L816.0 430.2L817.0 428.3L818.0 426.5L819.0 426.9L820.0 427.3L821.0 427.7L822.0 427.0L823.0 425.3L824.0 423.6L825.0 422.1L826.0 423.0L827.0 424.2L828.0 425.6L829.0 426.4L830.0 426.4L831.0 426.1L832.0 425.3L833.0 424.5L834.0 423.5L835.0 422.4L836.0 420.7L837.0 418.7L838.0 416.6L839.0 414.1L840.0 411.3L841.0 408.2L842.0 405.2L843.0 402.5L844.0 400.4L845.0 398.6L846.0 396.9L847.0 396.2L848.0 395.4L849.0 394.7L850.0 393.2L851.0 391.2L852.0 389.5L853.0 388.2L854.0 386.9L855.0 386.0L856.0 385.3L857.0 385.7L858.0 387.4L859.0 390.1L860.0 393.3L861.0 395.4L862.0 397.7L863.0 400.0L864.0 403.1L865.0 406.9L866.0 411.0L867.0 415.3L868.0 419.4L869.0 423.5L870.0 427.4L871.0 431.8L872.0 436.8L873.0 441.5L874.0 446.3L875.0 450.3L876.0 454.2L877.0 458.2L878.0 461.4L879.0 463.7L880.0 466.0L881.0 468.1L882.0 471.7L883.0 474.9L884.0 477.8L885.0 480.5L886.0 483.0L887.0 485.3L888.0 487.5L889.0 489.8L890.0 492.0L891.0 494.1L892.0 494.8L893.0 494.2L894.0 493.4L895.0 492.7L896.0 494.8L897.0 497.0L898.0 499.1L899.0 500.8L900.0 502.6L901.0 505.0L902.0 507.8L903.0 509.7L904.0 511.5L905.0 513.0L906.0 514.9L907.0 517.4L908.0 519.8L909.0 522.1L910.0 523.5L911.0 524.8L912.0 526.0L913.0 527.3L914.0 528.8L915.0 530.2L916.0 531.6L917.0 532.3L918.0 532.9L919.0 533.5L920.0 534.6L921.0 536.0L922.0 537.4L923.0 538.8L924.0 539.1L925.0 539.4L926.0 539.6L927.0 540.1L928.0 541.1L929.0 542.1L930.0 543.0L931.0 543.3L932.0 543.5L933.0 543.8L934.0 544.0L935.0 544.2L936.0 544.5L937.0 544.9L938.0 545.0L939.0 545.2L940.0 545.3L941.0 546.3L942.0 548.1L943.0 549.8L944.0 551.4L945.0 551.4L946.0 551.1L947.0 550.6L948.0 550.1L949.0 549.6L950.0 549.1L951.0 548.7L952.0 547.9L953.0 547.3L954.0 547.0L955.0 547.4L956.0 548.4L957.0 549.5L958.0 550.6L959.0 552.5L960.0 554.2L961.0 555.8L962.0 556.5L963.0 556.4L964.0 556.2L965.0 556.1L966.0 555.6L967.0 555.2L968.0 554.7L969.0 554.8L970.0 555.4L971.0 556.0L972.0 556.8L973.0 557.8L974.0 559.3L975.0 561.1L976.0 562.9L977.0 564.8L978.0 566.5L979.0 568.0L980.0 569.0L981.0 569.6L982.0 570.1L983.0 571.2L984.0 572.8L985.0 574.4L986.0 576.0L987.0 576.3L988.0 576.5L989.0 576.8L990.0 576.9L991.0 577.1L992.0 577.2L993.0 577.3L994.0 577.2L995.0 577.0L996.0 576.8L997.0 577.1L998.0 577.9L999.0 578.7L1000.0 579.4L1001.0 579.9" stroke="#7f0208"/>
<path d="M104.0 557.0L105.0 556.4L106.0 555.7L107.0 555.0L108.0 555.0L109.0 555.6L110.0 556.2L111.0 556.7L112.0 556.1L113.0 555.5L114.0 554.8L115.0 554.1L116.0 553.4L117.0 552.5L118.0 551.4L119.0 549.7L120.0 547.9L121.0 546.1L122.0 545.3L123.0 545.4L124.0 545.7L125.0 546.2L126.0 546.0L127.0 546.2L128.0 546.7L129.0 547.7L130.0 548.9L131.0 550.0L132.0 551.1L133.0 551.8L134.0 552.4L135.0 553.0L136.0 553.7L137.0 554.5L138.0 555.2L139.0 555.8L140.0 555.0L141.0 553.9L142.0 552.4L143.0 550.8L144.0 549.1L145.0 547.3L146.0 545.5L147.0 546.0L148.0 546.6L149.0 547.3L150.0 546.9L151.0 545.4L152.0 544.2L153.0 543.2L154.0 543.1L155.0 542.9L156.0 542.7L157.0 542.3L158.0 541.4L159.0 540.0L160.0 538.2L161.0 535.9L162.0 533.7L163.0 531.9L164.0 531.0L165.0 530.9L166.0 530.9L167.0 530.9L168.0 529.8L169.0 528.5L170.0 527.2L171.0 526.1L172.0 525.3L173.0 524.4L174.0 523.4L175.0 521.6L176.0 519.7L177.0 517.9L178.0 516.2L179.0 514.3L180.0 512.3L181.0 510.5L182.0 509.1L183.0 507.8L184.0 506.6L185.0 505.3L186.0 503.8L187.0 502.9L188.0 502.5L189.0 503.3L190.0 504.4L191.0 505.5L192.0 506.4L193.0 506.9L194.0 506.6L195.0 505.8L196.0 504.1L197.0 502.8L198.0 502.2L199.0 503.0L200.0 504.8L201.0 506.8L202.0 508.5L203.0 508.9L204.0 508.4L205.0 507.0L206.0 505.1L207.0 503.4L208.0 501.9L209.0 500.8L210.0 498.8L211.0 496.9L212.0 495.0L213.0 492.8L214.0 490.3L215.0 487.7L216.0 484.9L217.0 483.9L218.0 482.9L219.0 481.8L220.0 480.5L221.0 479.1L222.0 477.9L223.0 476.8L224.0 473.5L225.0 470.3L226.0 467.0L227.0 464.7L228.0 463.4L229.0 461.9L230.0 460.0L231.0 457.8L232.0 455.6L233.0 453.8L234.0 451.6L235.0 449.1L236.0 446.6L237.0 444.1L238.0 442.7L239.0 441.1L240.0 439.5L241.0 437.6L242.0 435.6L243.0 433.5L244.0 431.4L245.0 428.3L246.0 425.2L247.0 422.1L248.0 419.8L249.0 418.4L250.0 416.9L251.0 415.5L252.0 413.4L253.0 411.2L254.0 409.1L255.0 406.5L256.0 403.4L257.0 400.3L258.0 397.1L259.0 395.3L260.0 393.3L261.0 391.1L262.0 388.8L263.0 386.4L264.0 383.9L265.0 381.4L266.0 377.9L267.0 374.3L268.0 370.9L269.0 367.9L270.0 365.5L271.0 363.0L272.0 360.6L273.0 358.0L274.0 355.4L275.0 352.7L276.0 349.7L277.0 346.3L278.0 342.9L279.0 339.3L280.0 336.7L281.0 334.0L282.0 331.3L283.0 328.2L284.0 324.6L285.0 321.0L286.0 317.4L287.0 313.5L288.0 309.7L289.0 305.9L290.0 302.8L291.0 300.4L292.0 298.0L293.0 295.8L294.0 293.5L295.0 291.9L296.0 290.9L297.0 290.3L298.0 289.8L299.0 289.3L300.0 288.9L301.0 288.0L302.0 287.3L303.0 286.8L304.0 287.3L305.0 289.2L306.0 291.7L307.0 294.4L308.0 296.9L309.0 299.2L310.0 300.9L311.0 301.5L312.0 300.8L313.0 299.8L314.0 298.3L315.0 297.4L316.0 296.2L317.0 294.8L318.0 293.2L319.0 290.8L320.0 287.9L321.0 284.4L322.0 279.9L323.0 275.1L324.0 270.1L325.0 265.5L326.0 261.5L327.0 257.7L328.0 253.9L329.0 249.1L330.0 244.2L331.0 239.3L332.0 235.0L333.0 231.5L334.0 228.2L335.0 224.9L336.0 220.0L337.0 215.1L338.0 210.8L339.0 207.7L340.0 206.3L341.0 209.2L342.0 213.7L343.0 219.6L344.0 225.9L345.0 232.1L346.0 237.7L347.0 242.6L348.0 247.6L349.0 252.5L350.0 257.7L351.0 262.7L352.0 267.7L353.0 272.5L354.0 277.0L355.0 281.4L356.0 285.7L357.0 289.2L358.0 292.6L359.0 296.1L360.0 300.3L361.0 305.4L362.0 311.2L363.0 317.1L364.0 322.9L365.0 327.9L366.0 331.6L367.0 334.1L368.0 336.1L369.0 338.0L370.0 339.9L371.0 341.1L372.0 342.3L373.0 343.6L374.0 345.6L375.0 348.3L376.0 351.0L377.0 353.7L378.0 354.4L379.0 355.0L380.0 355.6L381.0 356.2L382.0 356.9L383.0 357.7L384.0 358.4L385.0 360.2L386.0 361.9L387.0 363.7L388.0 365.4L389.0 367.0L390.0 368.6L391.0 370.2L392.0 370.8L393.0 371.4L394.0 371.9L395.0 372.0L396.0 371.8L397.0 371.5L398.0 371.2L399.0 372.8L400.0 374.5L401.0 374.9L402.0 375.0L403.0 374.7L404.0 374.5L405.0 374.4L406.0 375.4L407.0 376.4L408.0 377.4L409.0 376.9L410.0 375.0L411.0 373.1L412.0 371.1L413.0 372.6L414.0 373.6L415.0 374.3L416.0 373.5L417.0 371.5L418.0 369.5L419.0 367.6L420.0 367.2L421.0 366.6L422.0 366.2L423.0 366.0L424.0 366.0L425.0 366.3L426.0 366.9L427.0 368.4L428.0 370.0L429.0 371.7L430.0 373.9L431.0 376.9L432.0 380.4L433.0 384.1L434.0 387.1L435.0 391.0L436.0 395.5L437.0 400.5L438.0 405.3L439.0 409.2L440.0 412.8L441.0 415.2L442.0 417.4L443.0 419.4L444.0 421.4L445.0 423.3L446.0 425.0L447.0 426.7L448.0 428.5L449.0 430.2L450.0 431.8L451.0 433.2L452.0 434.3L453.0 435.4L454.0 436.3L455.0 437.4L456.0 438.5L457.0 439.5L458.0 440.8L459.0 442.2L460.0 443.4L461.0 444.4L462.0 442.4L463.0 439.3L464.0 435.6L465.0 432.1L466.0 429.2L467.0 426.8L468.0 425.2L469.0 425.9L470.0 428.0L471.0 431.0L472.0 434.7L473.0 438.9L474.0 443.2L475.0 447.4L476.0 450.2L477.0 452.6L478.0 455.2L479.0 458.2L480.0 461.4L481.0 464.5L482.0 467.4L483.0 469.9L484.0 472.0L485.0 473.6L486.0 474.2L487.0 474.1L488.0 474.0L489.0 473.8L490.0 475.0L491.0 476.0L492.0 477.1L493.0 477.1L494.0 476.3L495.0 475.5L496.0 474.6L497.0 476.1L498.0 477.5L499.0 479.0L500.0 480.3L501.0 481.3L502.0 482.4L503.0 483.4L504.0 482.8L505.0 482.2L506.0 481.6L507.0 481.3L508.0 481.5L509.0 481.6L510.0 481.7L511.0 482.4L512.0 483.0L513.0 483.7L514.0 484.5L515.0 485.4L516.0 486.3L517.0 487.1L518.0 487.6L519.0 488.1L520.0 488.4L521.0 488.9L522.0 489.4L523.0 489.8L524.0 490.3L525.0 489.4L526.0 488.5L527.0 487.6L528.0 486.3L529.0 484.5L530.0 482.7L531.0 480.9L532.0 480.2L533.0 479.6L534.0 478.9L535.0 479.1L536.0 480.0L537.0 481.0L538.0 481.9L539.0 482.1L540.0 482.2L541.0 482.4L542.0 481.7L543.0 480.0L544.0 478.4L545.0 476.8L546.0 476.9L547.0 477.1L548.0 477.2L549.0 477.0L550.0 476.6L551.0 476.1L552.0 475.5L553.0 475.1L554.0 474.6L555.0 474.1L556.0 473.4L557.0 472.5L558.0 471.6L559.0 470.7L560.0 470.3L561.0 469.8L562.0 469.3L563.0 468.6L564.0 467.8L565.0 466.9L566.0 466.0L567.0 464.4L568.0 462.8L569.0 461.3L570.0 460.4L571.0 460.1L572.0 460.0L573.0 460.3L574.0 461.0L575.0 461.8L576.0 462.6L577.0 462.5L578.0 461.3L579.0 460.3L580.0 459.2L581.0 459.7L582.0 460.2L583.0 460.8L584.0 462.1L585.0 464.4L586.0 466.9L587.0 469.6L588.0 472.3L589.0 475.0L590.0 477.6L591.0 479.2L592.0 479.7L593.0 480.0L594.0 480.2L595.0 481.6L596.0 482.9L597.0 484.2L598.0 484.9L599.0 485.0L600.0 485.0L601.0 485.1L602.0 486.4L603.0 487.7L604.0 489.0L605.0 489.7L606.0 489.7L607.0 489.6L608.0 489.6L609.0 490.9L610.0 492.2L611.0 493.5L612.0 494.4L613.0 494.9L614.0 495.4L615.0 495.9L616.0 496.5L617.0 497.2L618.0 497.8L619.0 498.7L620.0 499.9L621.0 501.0L622.0 502.2L623.0 502.8L624.0 503.4L625.0 504.1L626.0 504.4L627.0 504.3L628.0 504.3L629.0 504.2L630.0 505.6L631.0 507.0L632.0 508.3L633.0 508.5L634.0 507.7L635.0 506.8L636.0 505.8L637.0 507.4L638.0 509.0L639.0 510.6L640.0 512.0L641.0 512.7L642.0 513.5L643.0 514.2L644.0 513.0L645.0 511.7L646.0 510.3L647.0 509.5L648.0 509.2L649.0 508.9L650.0 508.6L651.0 508.0L652.0 507.5L653.0 506.9L654.0 506.7L655.0 506.7L656.0 506.7L657.0 506.8L658.0 505.6L659.0 504.3L660.0 502.7L661.0 501.6L662.0 500.9L663.0 500.1L664.0 499.4L665.0 497.5L666.0 495.4L667.0 493.2L668.0 491.1L669.0 489.0L670.0 486.9L671.0 484.6L672.0 482.4L673.0 480.0L674.0 477.7L675.0 475.4L676.0 473.1L677.0 471.0L678.0 468.9L679.0 465.9L680.0 462.5L681.0 459.3L682.0 456.6L683.0 453.5L684.0 449.0L684.7 446.9L685.4 444.7L686.0 442.6L686.5 440.4L687.1 438.2L687.6 436.1L688.0 433.9L688.5 431.7L688.9 429.6L689.3 427.4L689.6 425.2L690.0 423.1L690.3 420.9L690.6 418.7L690.9 416.6L691.2 414.4L691.4 412.2L691.7 410.1L691.9 407.9L692.1 405.7L692.4 403.6L692.6 401.4L692.8 399.2L693.1 397.1L693.3 394.9L693.5 392.7L693.7 390.6L693.9 388.4L694.1 386.2L694.3 384.1L694.5 381.9L694.7 379.7L694.9 377.6L695.1 375.4L695.3 373.2L695.4 371.1L695.6 368.9L695.8 366.7L695.9 364.6L696.1 362.4L696.2 360.2L696.4 358.1L696.6 356.0L696.7 354.1L696.9 352.2L697.1 350.5L697.3 348.9L697.5 347.3L697.7 345.8L697.9 344.4L698.2 343.0L698.4 341.7L698.7 340.4L699.0 339.2L699.3 338.0L699.6 336.7L699.9 335.5L700.2 334.3L700.5 333.1L700.9 331.9L701.2 330.6L701.6 329.4L701.9 328.1L702.2 326.8L702.5 325.4L702.8 324.1L703.1 322.6L703.4 321.2L703.6 319.7L703.9 318.1L704.1 316.5L704.3 314.9L704.6 313.2L704.8 311.5L705.0 309.7L705.2 307.9L705.4 306.0L705.6 304.1L705.8 302.2L706.0 300.2L706.2 298.1L706.4 296.0L706.5 293.9L706.7 291.7L706.9 289.5L707.0 287.2L707.2 284.9L707.3 282.6L707.5 280.2L707.6 277.8L707.7 275.3L707.9 272.8L708.0 270.3L708.1 267.7L708.2 265.2L708.3 262.6L708.4 259.9L708.6 257.2L708.7 254.6L708.8 251.9L708.9 249.3L709.0 246.6L709.1 243.9L709.2 241.3L709.2 238.6L709.3 235.9L709.4 233.3L709.5 230.6L709.6 227.9L709.7 225.3L709.8 222.6L709.9 219.9L709.9 217.3L710.0 214.6L710.1 211.9L710.2 209.3L710.2 206.6L710.3 204.0L710.4 201.3L710.4 198.6L710.5 196.0L710.6 193.3L710.7 190.6L710.7 188.0L710.8 185.3L710.9 182.6L711.0 180.0L711.1 177.3L711.2 174.6L711.3 172.0L711.4 169.3L711.5 166.7L711.6 164.0L711.7 161.3L711.9 158.7L712.0 156.0L712.2 153.3L712.4 150.7L712.8 148.0L713.3 150.4L713.6 152.8L713.8 155.2L713.9 157.6L714.0 160.0L714.2 162.4L714.3 164.8L714.4 167.2L714.5 169.6L714.6 172.0L714.7 174.4L714.8 176.8L714.9 179.2L715.0 181.6L715.1 184.0L715.2 186.4L715.2 188.8L715.3 191.2L715.4 193.6L715.4 196.0L715.5 198.4L715.5 200.8L715.6 203.3L715.7 205.7L715.7 208.1L715.8 210.5L715.9 212.9L715.9 215.3L716.0 217.7L716.0 220.1L716.1 222.5L716.2 224.9L716.3 227.3L716.3 229.7L716.4 232.1L716.5 234.5L716.6 236.9L716.7 239.3L716.8 241.7L716.9 244.1L717.0 246.5L717.1 248.9L717.2 251.3L717.3 253.6L717.4 256.0L717.5 258.3L717.6 260.5L717.8 262.8L717.9 265.0L718.0 267.1L718.2 269.3L718.3 271.4L718.5 273.4L718.7 275.5L718.9 277.5L719.1 279.4L719.3 281.4L719.5 283.2L719.7 285.1L719.9 286.9L720.1 288.7L720.3 290.4L720.6 292.1L720.8 293.7L721.0 295.3L721.2 296.9L721.4 298.5L721.6 300.0L721.8 301.4L722.0 302.9L722.2 304.3L722.4 305.6L722.6 307.0L722.8 308.3L723.0 309.6L723.2 310.8L723.4 312.1L723.6 313.3L723.8 314.5L723.9 315.7L724.1 316.9L724.3 318.1L724.4 319.3L724.6 320.5L724.8 321.8L724.9 323.0L725.1 324.3L725.2 325.6L725.4 326.9L725.5 328.3L725.7 329.8L725.8 331.3L726.0 332.8L726.1 334.5L726.3 336.2L726.5 338.0L726.6 339.9L726.8 341.9L727.0 343.9L727.1 345.8L727.3 347.8L727.5 349.8L727.8 351.8L728.0 353.8L728.2 355.7L728.4 357.7L728.7 359.7L728.9 361.7L729.1 363.6L729.4 365.6L729.6 367.6L729.9 369.6L730.2 371.6L730.4 373.5L730.7 375.5L731.0 377.5L731.3 379.5L731.5 381.4L731.8 383.4L732.1 385.4L732.3 387.4L732.6 389.4L732.8 391.3L733.1 393.3L733.3 395.3L733.6 397.3L733.8 399.3L734.1 401.2L734.4 403.2L734.7 405.2L735.0 407.2L735.4 409.1L735.9 411.1L736.4 413.1L737.0 415.1L737.7 417.1L738.4 419.0L739.1 421.0L740.0 423.0L741.0 424.7L742.0 426.3L743.0 427.9L744.0 429.5L745.0 430.5L746.0 430.9L747.0 431.2L748.0 431.5L749.0 433.6L750.0 435.6L751.0 437.6L752.0 438.2L753.0 437.5L754.0 436.9L755.0 436.1L756.0 438.2L757.0 440.2L758.0 442.2L759.0 443.8L760.0 445.1L761.0 446.4L762.0 447.6L763.0 448.9L764.0 450.1L765.0 451.4L766.0 453.1L767.0 455.2L768.0 457.3L769.0 459.4L770.0 461.0L771.0 462.6L772.0 464.1L773.0 465.4L774.0 466.7L775.0 467.7L776.0 468.7L777.0 468.9L778.0 469.2L779.0 469.4L780.0 469.6L781.0 469.8L782.0 469.4L783.0 469.0L784.0 469.8L785.0 470.5L786.0 471.2L787.0 470.9L788.0 469.6L789.0 468.0L790.0 466.1L791.0 466.0L792.0 465.7L793.0 465.2L794.0 464.5L795.0 463.4L796.0 462.3L797.0 461.0L798.0 459.1L799.0 457.0L800.0 454.6L801.0 451.6L802.0 448.1L803.0 444.5L804.0 440.8L805.0 437.8L806.0 434.7L807.0 431.1L808.0 428.0L809.0 426.0L810.0 424.5L811.0 423.9L812.0 421.4L813.0 418.9L814.0 416.5L815.0 414.6L816.0 413.1L817.0 411.9L818.0 410.8L819.0 410.6L820.0 410.3L821.0 410.2L822.0 410.2L823.0 410.5L824.0 410.8L825.0 411.3L826.0 412.2L827.0 413.4L828.0 414.7L829.0 415.5L830.0 415.4L831.0 415.0L832.0 414.0L833.0 413.7L834.0 413.1L835.0 412.3L836.0 410.7L837.0 408.6L838.0 406.4L839.0 403.8L840.0 401.4L841.0 398.8L842.0 396.1L843.0 393.6L844.0 391.3L845.0 389.3L846.0 387.5L847.0 384.7L848.0 381.8L849.0 379.0L850.0 376.8L851.0 375.3L852.0 374.1L853.0 373.3L854.0 372.0L855.0 371.0L856.0 370.4L857.0 370.3L858.0 371.2L859.0 373.2L860.0 375.8L861.0 379.6L862.0 383.5L863.0 387.5L864.0 391.1L865.0 394.5L866.0 398.2L867.0 402.0L868.0 407.0L869.0 411.9L870.0 416.7L871.0 420.9L872.0 424.6L873.0 428.2L874.0 431.6L875.0 435.8L876.0 439.9L877.0 444.0L878.0 447.9L879.0 451.5L880.0 454.9L881.0 458.1L882.0 462.0L883.0 465.5L884.0 468.7L885.0 471.1L886.0 472.7L887.0 474.2L888.0 475.6L889.0 477.4L890.0 479.0L891.0 480.5L892.0 482.2L893.0 484.2L894.0 486.0L895.0 487.8L896.0 486.6L897.0 485.3L898.0 484.1L899.0 484.4L900.0 486.9L901.0 490.1L902.0 493.8L903.0 496.0L904.0 498.2L905.0 500.1L906.0 502.4L907.0 505.6L908.0 508.7L909.0 511.6L910.0 513.4L911.0 515.0L912.0 516.7L913.0 518.2L914.0 519.6L915.0 521.0L916.0 522.3L917.0 523.5L918.0 524.5L919.0 525.6L920.0 526.4L921.0 527.0L922.0 527.5L923.0 527.9L924.0 530.0L925.0 532.0L926.0 533.9L927.0 534.7L928.0 534.5L929.0 534.2L930.0 533.9L931.0 534.0L932.0 534.2L933.0 534.3L934.0 534.4L935.0 534.4L936.0 534.5L937.0 534.7L938.0 536.0L939.0 537.4L940.0 538.7L941.0 539.5L942.0 539.5L943.0 539.5L944.0 539.4L945.0 539.5L946.0 539.4L947.0 539.0L948.0 538.7L949.0 538.5L950.0 538.3L951.0 538.3L952.0 538.0L953.0 538.0L954.0 538.4L955.0 538.8L956.0 539.2L957.0 539.8L958.0 540.4L959.0 542.5L960.0 544.6L961.0 546.4L962.0 546.8L963.0 546.0L964.0 545.1L965.0 544.2L966.0 544.3L967.0 544.5L968.0 544.6L969.0 545.2L970.0 546.1L971.0 547.0L972.0 548.1L973.0 549.1L974.0 550.6L975.0 552.5L976.0 554.6L977.0 556.9L978.0 559.0L979.0 560.9L980.0 562.1L981.0 562.9L982.0 563.5L983.0 564.4L984.0 565.4L985.0 566.3L986.0 567.2L987.0 567.5L988.0 567.8L989.0 568.0L990.0 568.1L991.0 568.1L992.0 568.0L993.0 568.0L994.0 569.6L995.0 571.2L996.0 572.8L997.0 573.3L998.0 572.8L999.0 572.3L1000.0 571.8L1001.0 572.4" stroke="#940309"/>
<path d="M104.0 549.6L105.0 549.2L106.0 548.8L107.0 548.3L108.0 548.8L109.0 550.2L110.0 551.6L111.0 552.9L112.0 550.5L113.0 548.0L114.0 545.6L115.0 544.4L116.0 544.5L117.0 544.4L118.0 544.1L119.0 543.7L120.0 543.4L121.0 543.0L122.0 542.8L123.0 542.8L124.0 543.0L125.0 543.4L126.0 542.5L127.0 542.0L128.0 541.9L129.0 542.0L130.0 542.1L131.0 541.9L132.0 541.8L133.0 543.7L134.0 545.6L135.0 547.5L136.0 548.0L137.0 547.2L138.0 546.3L139.0 545.3L140.0 545.6L141.0 545.5L142.0 545.0L143.0 544.4L144.0 543.7L145.0 542.9L146.0 542.1L147.0 539.9L148.0 537.7L149.0 535.8L150.0 534.5L151.0 534.0L152.0 533.9L153.0 534.1L154.0 534.7L155.0 535.3L156.0 535.8L157.0 535.6L158.0 534.3L159.0 532.3L160.0 529.9L161.0 528.1L162.0 526.5L163.0 525.4L164.0 523.9L165.0 522.1L166.0 520.3L167.0 518.5L168.0 517.8L169.0 517.1L170.0 516.2L171.0 514.7L172.0 512.5L173.0 510.3L174.0 508.1L175.0 506.0L176.0 504.0L177.0 501.9L178.0 500.9L179.0 500.8L180.0 500.5L181.0 500.4L182.0 497.8L183.0 495.3L184.0 493.0L185.0 491.5L186.0 490.9L187.0 490.9L188.0 491.4L189.0 491.3L190.0 491.5L191.0 491.7L192.0 492.4L193.0 493.2L194.0 493.0L195.0 492.4L196.0 491.0L197.0 489.9L198.0 489.8L199.0 490.3L200.0 491.1L201.0 492.1L202.0 492.8L203.0 494.4L204.0 495.0L205.0 494.7L206.0 492.9L207.0 490.1L208.0 487.6L209.0 485.5L210.0 484.4L211.0 483.4L212.0 482.4L213.0 480.9L214.0 478.8L215.0 476.6L216.0 474.3L217.0 474.0L218.0 473.6L219.0 473.2L220.0 471.7L221.0 469.5L222.0 467.5L223.0 465.6L224.0 463.7L225.0 461.9L226.0 460.0L227.0 457.8L228.0 455.2L229.0 452.5L230.0 449.3L231.0 446.9L232.0 444.4L233.0 442.4L234.0 440.9L235.0 440.0L236.0 439.2L237.0 438.4L238.0 435.7L239.0 432.9L240.0 430.0L241.0 427.5L242.0 425.5L243.0 423.4L244.0 421.2L245.0 418.7L246.0 416.2L247.0 413.7L248.0 411.0L249.0 408.0L250.0 405.1L251.0 402.3L252.0 401.6L253.0 400.9L254.0 400.2L255.0 397.8L256.0 393.6L257.0 389.4L258.0 385.1L259.0 383.9L260.0 382.5L261.0 380.6L262.0 377.8L263.0 374.3L264.0 370.7L265.0 367.2L266.0 362.9L267.0 358.8L268.0 354.7L269.0 351.6L270.0 349.5L271.0 347.5L272.0 345.5L273.0 342.4L274.0 339.4L275.0 336.3L276.0 333.0L277.0 329.4L278.0 325.7L279.0 322.0L280.0 317.8L281.0 313.6L282.0 309.4L283.0 305.7L284.0 302.7L285.0 299.6L286.0 296.6L287.0 293.3L288.0 290.1L289.0 287.0L290.0 283.4L291.0 279.2L292.0 275.0L293.0 271.0L294.0 268.7L295.0 268.0L296.0 268.1L297.0 268.1L298.0 267.5L299.0 267.0L300.0 266.6L301.0 266.7L302.0 267.0L303.0 267.4L304.0 268.4L305.0 270.4L306.0 273.0L307.0 275.9L308.0 277.3L309.0 278.4L310.0 279.0L311.0 279.3L312.0 279.7L313.0 279.1L314.0 278.0L315.0 277.1L316.0 275.9L317.0 274.6L318.0 272.9L319.0 270.5L320.0 267.4L321.0 263.8L322.0 260.4L323.0 256.7L324.0 252.9L325.0 248.7L326.0 244.2L327.0 239.9L328.0 235.7L329.0 230.9L330.0 226.0L331.0 221.2L332.0 216.7L333.0 212.7L334.0 209.0L335.0 205.3L336.0 200.9L337.0 196.6L338.0 192.9L339.0 190.3L340.0 189.4L341.0 192.3L342.0 196.7L343.0 202.1L344.0 208.0L345.0 213.8L346.0 219.5L347.0 225.1L348.0 230.7L349.0 236.3L350.0 240.3L351.0 244.2L352.0 248.1L353.0 252.3L354.0 256.8L355.0 261.1L356.0 265.3L357.0 269.7L358.0 274.1L359.0 278.6L360.0 282.9L361.0 287.4L362.0 292.5L363.0 297.9L364.0 303.4L365.0 308.1L366.0 311.3L367.0 312.8L368.0 313.6L369.0 314.2L370.0 314.7L371.0 317.3L372.0 319.9L373.0 322.5L374.0 324.2L375.0 325.0L376.0 325.9L377.0 326.7L378.0 328.2L379.0 329.6L380.0 331.0L381.0 332.2L382.0 333.4L383.0 334.6L384.0 335.9L385.0 335.8L386.0 335.8L387.0 335.7L388.0 337.4L389.0 340.9L390.0 344.4L391.0 347.8L392.0 347.5L393.0 347.1L394.0 346.6L395.0 346.6L396.0 347.1L397.0 347.6L398.0 348.0L399.0 347.3L400.0 346.7L401.0 345.2L402.0 344.9L403.0 346.0L404.0 347.1L405.0 348.3L406.0 348.1L407.0 347.9L408.0 347.8L409.0 347.5L410.0 347.0L411.0 346.5L412.0 346.0L413.0 346.0L414.0 345.6L415.0 344.8L416.0 343.8L417.0 342.9L418.0 342.0L419.0 341.2L420.0 339.1L421.0 336.7L422.0 334.6L423.0 333.7L424.0 333.9L425.0 334.5L426.0 335.3L427.0 337.9L428.0 340.6L429.0 343.4L430.0 345.8L431.0 348.0L432.0 350.7L433.0 353.8L434.0 357.5L435.0 362.2L436.0 367.6L437.0 373.8L438.0 380.1L439.0 385.3L440.0 390.2L441.0 392.4L442.0 394.3L443.0 395.9L444.0 397.8L445.0 399.9L446.0 401.8L447.0 403.6L448.0 405.7L449.0 407.7L450.0 409.6L451.0 411.1L452.0 412.2L453.0 413.1L454.0 413.9L455.0 415.2L456.0 416.5L457.0 417.7L458.0 418.7L459.0 419.4L460.0 419.8L461.0 420.0L462.0 418.6L463.0 416.0L464.0 412.7L465.0 409.3L466.0 406.4L467.0 404.1L468.0 402.7L469.0 402.8L470.0 404.5L471.0 407.2L472.0 410.6L473.0 414.4L474.0 418.4L475.0 422.3L476.0 425.8L477.0 429.0L478.0 432.4L479.0 435.9L480.0 439.5L481.0 443.0L482.0 446.2L483.0 448.7L484.0 450.8L485.0 452.2L486.0 453.4L487.0 454.5L488.0 455.6L489.0 456.6L490.0 456.8L491.0 457.0L492.0 457.2L493.0 457.6L494.0 458.2L495.0 458.8L496.0 459.3L497.0 460.5L498.0 461.8L499.0 463.0L500.0 463.0L501.0 461.8L502.0 460.6L503.0 459.4L504.0 461.2L505.0 462.9L506.0 464.7L507.0 466.5L508.0 468.5L509.0 470.4L510.0 472.3L511.0 469.8L512.0 467.3L513.0 464.8L514.0 464.6L515.0 466.6L516.0 468.6L517.0 470.5L518.0 468.7L519.0 466.9L520.0 464.9L521.0 464.4L522.0 465.3L523.0 466.2L524.0 467.0L525.0 467.3L526.0 467.6L527.0 467.9L528.0 467.8L529.0 467.3L530.0 466.8L531.0 466.3L532.0 464.6L533.0 462.9L534.0 461.2L535.0 460.1L536.0 459.6L537.0 459.0L538.0 458.5L539.0 458.0L540.0 457.6L541.0 457.2L542.0 457.3L543.0 458.1L544.0 458.9L545.0 459.7L546.0 458.6L547.0 457.5L548.0 456.4L549.0 455.7L550.0 455.3L551.0 454.9L552.0 454.3L553.0 453.7L554.0 453.0L555.0 452.3L556.0 451.4L557.0 450.6L558.0 449.7L559.0 448.8L560.0 448.0L561.0 447.1L562.0 446.2L563.0 444.9L564.0 443.4L565.0 441.8L566.0 440.2L567.0 437.9L568.0 435.7L569.0 433.6L570.0 433.0L571.0 433.9L572.0 435.1L573.0 436.6L574.0 434.4L575.0 432.3L576.0 430.2L577.0 430.5L578.0 433.0L579.0 435.6L580.0 438.3L581.0 437.8L582.0 437.3L583.0 436.9L584.0 437.7L585.0 439.5L586.0 441.8L587.0 444.2L588.0 446.4L589.0 448.6L590.0 450.6L591.0 452.4L592.0 454.0L593.0 455.3L594.0 456.6L595.0 457.8L596.0 459.0L597.0 460.1L598.0 461.0L599.0 461.8L600.0 462.5L601.0 463.1L602.0 463.5L603.0 463.9L604.0 464.2L605.0 465.4L606.0 467.3L607.0 469.1L608.0 471.0L609.0 470.9L610.0 470.9L611.0 470.9L612.0 471.7L613.0 473.5L614.0 475.3L615.0 477.1L616.0 477.0L617.0 476.9L618.0 476.8L619.0 477.0L620.0 477.4L621.0 477.9L622.0 478.4L623.0 479.9L624.0 481.4L625.0 482.9L626.0 484.3L627.0 485.4L628.0 486.5L629.0 487.6L630.0 487.4L631.0 487.1L632.0 486.8L633.0 487.1L634.0 487.9L635.0 488.7L636.0 489.4L637.0 490.6L638.0 491.9L639.0 493.2L640.0 493.2L641.0 491.9L642.0 490.6L643.0 489.2L644.0 489.2L645.0 489.2L646.0 489.1L647.0 489.2L648.0 489.6L649.0 489.9L650.0 490.2L651.0 489.2L652.0 488.2L653.0 487.2L654.0 486.2L655.0 485.2L656.0 484.3L657.0 483.3L658.0 483.3L659.0 483.0L660.0 482.5L661.0 482.1L662.0 482.0L663.0 481.8L664.0 481.6L665.0 480.3L666.0 478.8L667.0 477.1L668.0 475.2L669.0 473.1L670.0 471.0L671.0 468.7L672.0 466.0L673.0 463.1L674.0 460.4L675.0 457.5L676.0 454.5L677.0 451.7L678.0 448.8L679.0 447.7L680.0 446.2L681.0 443.9L682.0 440.4L683.0 435.8L684.0 430.8L684.6 428.7L685.2 426.7L685.7 424.7L686.2 422.6L686.7 420.6L687.1 418.6L687.5 416.5L687.9 414.5L688.3 412.5L688.7 410.4L689.0 408.4L689.3 406.3L689.7 404.3L689.9 402.3L690.2 400.2L690.5 398.2L690.7 396.2L691.0 394.1L691.2 392.1L691.4 390.1L691.6 388.0L691.9 386.0L692.1 384.0L692.3 381.9L692.5 379.9L692.7 377.9L692.9 375.8L693.2 373.8L693.4 371.8L693.6 369.7L693.8 367.7L694.0 365.7L694.1 363.6L694.3 361.6L694.5 359.6L694.7 357.5L694.8 355.5L695.0 353.5L695.2 351.4L695.3 349.4L695.5 347.4L695.6 345.3L695.8 343.4L696.0 341.5L696.1 339.8L696.3 338.1L696.5 336.5L696.7 334.9L696.9 333.5L697.1 332.0L697.4 330.7L697.6 329.3L697.9 328.0L698.1 326.8L698.4 325.5L698.7 324.3L699.0 323.0L699.3 321.8L699.7 320.6L700.0 319.4L700.3 318.1L700.7 316.9L701.0 315.6L701.4 314.3L701.7 313.0L702.0 311.7L702.3 310.3L702.5 308.9L702.8 307.5L703.0 306.0L703.3 304.5L703.5 303.0L703.8 301.4L704.0 299.8L704.2 298.2L704.4 296.5L704.6 294.8L704.8 293.0L705.0 291.2L705.2 289.3L705.4 287.4L705.6 285.5L705.8 283.5L705.9 281.5L706.1 279.5L706.3 277.4L706.4 275.2L706.6 273.1L706.7 270.9L706.9 268.6L707.0 266.4L707.2 264.1L707.3 261.7L707.4 259.4L707.5 257.0L707.7 254.5L707.8 252.1L707.9 249.6L708.0 247.1L708.1 244.7L708.2 242.2L708.3 239.7L708.4 237.2L708.5 234.7L708.6 232.3L708.7 229.8L708.8 227.3L708.9 224.8L709.0 222.4L709.1 219.9L709.2 217.4L709.3 214.9L709.3 212.4L709.4 210.0L709.5 207.5L709.6 205.0L709.7 202.5L709.7 200.0L709.8 197.6L709.9 195.1L710.0 192.6L710.0 190.1L710.1 187.7L710.2 185.2L710.3 182.7L710.4 180.2L710.6 177.7L710.7 175.3L710.8 172.8L710.9 170.3L711.0 167.8L711.2 165.3L711.3 162.9L711.5 160.4L711.6 157.9L711.8 155.4L712.0 153.0L712.2 150.5L712.8 148.0L713.4 150.2L713.7 152.5L713.9 154.7L714.1 156.9L714.3 159.2L714.4 161.4L714.6 163.6L714.7 165.9L714.8 168.1L714.9 170.3L715.1 172.6L715.2 174.8L715.3 177.0L715.4 179.3L715.5 181.5L715.6 183.7L715.6 186.0L715.7 188.2L715.7 190.4L715.8 192.7L715.9 194.9L715.9 197.1L716.0 199.3L716.0 201.6L716.1 203.8L716.2 206.0L716.2 208.3L716.3 210.5L716.3 212.7L716.4 215.0L716.5 217.2L716.5 219.4L716.6 221.7L716.7 223.9L716.8 226.1L716.9 228.4L717.0 230.6L717.1 232.8L717.2 235.1L717.3 237.3L717.4 239.5L717.5 241.8L717.6 244.0L717.7 246.2L717.8 248.3L717.9 250.5L718.1 252.6L718.2 254.7L718.3 256.7L718.5 258.7L718.7 260.7L718.8 262.7L719.0 264.6L719.2 266.5L719.4 268.4L719.6 270.2L719.8 272.0L720.0 273.8L720.2 275.6L720.4 277.3L720.7 278.9L720.9 280.6L721.1 282.2L721.3 283.8L721.6 285.3L721.8 286.8L722.0 288.3L722.2 289.8L722.4 291.2L722.6 292.6L722.8 294.0L723.0 295.4L723.2 296.7L723.4 298.0L723.6 299.3L723.7 300.6L723.9 301.9L724.1 303.1L724.3 304.4L724.4 305.6L724.6 306.9L724.8 308.1L724.9 309.4L725.1 310.6L725.2 311.9L725.4 313.2L725.5 314.5L725.7 315.9L725.8 317.2L726.0 318.6L726.1 320.1L726.3 321.6L726.4 323.2L726.6 324.8L726.7 326.4L726.9 328.2L727.0 330.0L727.2 331.9L727.3 333.7L727.5 335.6L727.7 337.5L727.9 339.4L728.1 341.2L728.3 343.1L728.5 345.0L728.7 346.9L729.0 348.7L729.2 350.6L729.4 352.5L729.7 354.4L729.9 356.2L730.2 358.1L730.4 360.0L730.7 361.9L731.0 363.8L731.2 365.6L731.5 367.5L731.8 369.4L732.0 371.3L732.3 373.1L732.6 375.0L732.8 376.9L733.0 378.8L733.3 380.6L733.5 382.5L733.8 384.4L734.0 386.3L734.2 388.1L734.5 390.0L734.8 391.9L735.1 393.8L735.5 395.6L735.9 397.5L736.5 399.4L737.1 401.3L737.7 403.2L738.4 405.0L739.2 406.9L740.0 408.8L741.0 410.3L742.0 411.0L743.0 410.9L744.0 410.0L745.0 411.1L746.0 413.6L747.0 416.1L748.0 418.4L749.0 419.3L750.0 420.2L751.0 420.9L752.0 421.5L753.0 421.8L754.0 422.1L755.0 422.3L756.0 423.8L757.0 425.3L758.0 426.7L759.0 428.5L760.0 430.7L761.0 432.9L762.0 435.1L763.0 436.7L764.0 438.3L765.0 440.0L766.0 441.8L767.0 443.7L768.0 445.7L769.0 447.6L770.0 448.5L771.0 449.4L772.0 450.2L773.0 450.6L774.0 450.5L775.0 450.3L776.0 450.0L777.0 451.1L778.0 452.3L779.0 453.4L780.0 453.8L781.0 453.5L782.0 452.7L783.0 452.0L784.0 453.2L785.0 454.5L786.0 455.7L787.0 456.2L788.0 455.7L789.0 455.0L790.0 454.0L791.0 452.5L792.0 450.8L793.0 449.0L794.0 447.5L795.0 446.4L796.0 445.2L797.0 443.8L798.0 441.7L799.0 439.2L800.0 436.5L801.0 433.5L802.0 430.4L803.0 427.1L804.0 423.7L805.0 421.7L806.0 419.6L807.0 416.9L808.0 413.8L809.0 410.9L810.0 408.6L811.0 407.3L812.0 404.6L813.0 401.9L814.0 399.4L815.0 397.8L816.0 397.1L817.0 396.7L818.0 396.4L819.0 395.7L820.0 395.0L821.0 394.3L822.0 393.8L823.0 393.4L824.0 393.1L825.0 392.9L826.0 395.0L827.0 397.5L828.0 400.1L829.0 401.3L830.0 400.8L831.0 399.9L832.0 398.2L833.0 397.9L834.0 397.1L835.0 396.1L836.0 394.6L837.0 392.6L838.0 390.6L839.0 388.0L840.0 385.6L841.0 383.0L842.0 380.3L843.0 377.2L844.0 374.0L845.0 371.2L846.0 368.5L847.0 366.5L848.0 364.4L849.0 362.3L850.0 359.6L851.0 356.5L852.0 353.7L853.0 351.2L854.0 350.6L855.0 350.4L856.0 350.7L857.0 351.5L858.0 353.4L859.0 356.6L860.0 360.6L861.0 362.9L862.0 365.2L863.0 367.6L864.0 371.0L865.0 375.7L866.0 380.7L867.0 385.8L868.0 391.8L869.0 397.7L870.0 403.4L871.0 408.2L872.0 412.0L873.0 415.8L874.0 419.4L875.0 423.8L876.0 428.2L877.0 432.5L878.0 435.8L879.0 437.9L880.0 439.9L881.0 441.7L882.0 446.2L883.0 450.2L884.0 453.9L885.0 456.4L886.0 457.8L887.0 459.0L888.0 460.1L889.0 461.7L890.0 463.2L891.0 464.6L892.0 466.3L893.0 468.3L894.0 470.3L895.0 472.2L896.0 473.5L897.0 474.8L898.0 476.1L899.0 476.5L900.0 476.7L901.0 477.8L902.0 479.4L903.0 483.0L904.0 486.6L905.0 489.8L906.0 492.3L907.0 494.6L908.0 496.7L909.0 498.8L910.0 500.7L911.0 502.5L912.0 504.3L913.0 505.5L914.0 506.3L915.0 507.0L916.0 507.7L917.0 511.1L918.0 514.5L919.0 517.8L920.0 519.7L921.0 520.0L922.0 520.2L923.0 520.3L924.0 520.7L925.0 521.0L926.0 521.1L927.0 521.3L928.0 521.7L929.0 522.0L930.0 522.3L931.0 524.3L932.0 526.3L933.0 528.3L934.0 529.5L935.0 529.9L936.0 530.3L937.0 530.9L938.0 530.0L939.0 529.2L940.0 528.3L941.0 528.4L942.0 529.4L943.0 530.3L944.0 531.1L945.0 531.7L946.0 531.9L947.0 532.0L948.0 530.9L949.0 528.9L950.0 527.0L951.0 525.1L952.0 525.1L953.0 525.4L954.0 526.1L955.0 527.5L956.0 529.6L957.0 531.9L958.0 534.3L959.0 534.4L960.0 534.4L961.0 534.1L962.0 534.2L963.0 534.6L964.0 534.9L965.0 535.3L966.0 535.0L967.0 534.7L968.0 534.4L969.0 534.5L970.0 535.0L971.0 535.6L972.0 536.3L973.0 538.3L974.0 540.9L975.0 544.0L976.0 546.5L977.0 548.3L978.0 549.9L979.0 551.2L980.0 552.6L981.0 553.4L982.0 554.1L983.0 555.1L984.0 556.3L985.0 557.5L986.0 558.6L987.0 560.6L988.0 562.6L989.0 564.5L990.0 565.2L991.0 564.9L992.0 564.5L993.0 564.1L994.0 564.2L995.0 564.3L996.0 564.3L997.0 564.7L998.0 565.5L999.0 566.2L1000.0 566.9L1001.0 567.3" stroke="#a9030a"/>
<path d="M104.0 528.5L105.0 527.3L106.0 526.1L107.0 524.9L108.0 524.9L109.0 526.1L110.0 527.3L111.0 528.5L112.0 528.0L113.0 527.5L114.0 527.0L115.0 527.0L116.0 527.3L117.0 527.4L118.0 527.3L119.0 525.0L120.0 522.7L121.0 520.3L122.0 519.4L123.0 520.1L124.0 521.0L125.0 522.2L126.0 521.3L127.0 520.9L128.0 520.9L129.0 521.2L130.0 521.4L131.0 521.3L132.0 521.3L133.0 523.8L134.0 526.4L135.0 528.9L136.0 529.8L137.0 529.1L138.0 528.3L139.0 527.4L140.0 528.0L141.0 528.1L142.0 527.8L143.0 526.8L144.0 525.1L145.0 523.3L146.0 521.4L147.0 520.7L148.0 520.2L149.0 519.8L150.0 519.3L151.0 518.9L152.0 518.8L153.0 519.1L154.0 519.4L155.0 519.8L156.0 520.0L157.0 519.8L158.0 518.6L159.0 516.7L160.0 514.3L161.0 510.6L162.0 507.1L163.0 504.2L164.0 502.3L165.0 501.1L166.0 500.0L167.0 498.9L168.0 498.9L169.0 498.9L170.0 498.8L171.0 497.5L172.0 495.2L173.0 492.8L174.0 490.3L175.0 489.4L176.0 488.5L177.0 487.5L178.0 486.1L179.0 483.8L180.0 481.4L181.0 479.0L182.0 475.9L183.0 472.9L184.0 470.1L185.0 468.3L186.0 467.6L187.0 467.5L188.0 468.1L189.0 469.2L190.0 470.6L191.0 472.0L192.0 473.1L193.0 473.6L194.0 473.0L195.0 471.8L196.0 470.7L197.0 470.1L198.0 470.6L199.0 472.2L200.0 474.6L201.0 477.2L202.0 479.4L203.0 480.6L204.0 480.6L205.0 479.4L206.0 476.7L207.0 472.9L208.0 469.5L209.0 466.5L210.0 465.3L211.0 464.1L212.0 463.0L213.0 462.4L214.0 462.3L215.0 462.0L216.0 461.7L217.0 459.4L218.0 457.0L219.0 454.6L220.0 452.1L221.0 449.8L222.0 447.6L223.0 445.6L224.0 442.5L225.0 439.4L226.0 436.3L227.0 434.3L228.0 433.5L229.0 432.4L230.0 430.8L231.0 428.9L232.0 427.0L233.0 425.6L234.0 423.8L235.0 421.6L236.0 419.4L237.0 417.3L238.0 417.2L239.0 417.0L240.0 416.6L241.0 414.7L242.0 411.3L243.0 407.8L244.0 404.2L245.0 402.0L246.0 399.7L247.0 397.5L248.0 395.0L249.0 392.0L250.0 389.2L251.0 386.4L252.0 384.5L253.0 382.6L254.0 380.7L255.0 378.9L256.0 377.1L257.0 375.3L258.0 373.4L259.0 371.1L260.0 368.7L261.0 365.8L262.0 362.9L263.0 360.1L264.0 357.2L265.0 354.3L266.0 351.6L267.0 348.9L268.0 346.3L269.0 343.5L270.0 340.6L271.0 337.7L272.0 334.8L273.0 332.5L274.0 330.2L275.0 327.8L276.0 324.4L277.0 319.9L278.0 315.4L279.0 310.7L280.0 308.4L281.0 306.0L282.0 303.5L283.0 300.6L284.0 297.1L285.0 293.7L286.0 290.4L287.0 287.9L288.0 285.5L289.0 283.2L290.0 279.9L291.0 275.5L292.0 271.0L293.0 266.7L294.0 264.2L295.0 262.9L296.0 262.3L297.0 261.7L298.0 260.7L299.0 259.7L300.0 258.9L301.0 259.6L302.0 260.4L303.0 261.4L304.0 262.3L305.0 263.7L306.0 265.6L307.0 267.9L308.0 269.5L309.0 270.8L310.0 271.5L311.0 271.7L312.0 271.7L313.0 270.9L314.0 269.7L315.0 268.3L316.0 266.6L317.0 264.8L318.0 263.1L319.0 260.8L320.0 257.9L321.0 254.5L322.0 249.3L323.0 243.8L324.0 238.2L325.0 233.8L326.0 230.6L327.0 227.6L328.0 224.7L329.0 219.5L330.0 214.3L331.0 209.1L332.0 205.1L333.0 202.3L334.0 199.8L335.0 197.4L336.0 192.9L337.0 188.4L338.0 184.6L339.0 181.4L340.0 179.4L341.0 180.3L342.0 182.8L343.0 187.3L344.0 192.4L345.0 197.4L346.0 202.9L347.0 209.0L348.0 215.0L349.0 221.1L350.0 224.1L351.0 227.0L352.0 229.9L353.0 233.2L354.0 236.9L355.0 240.5L356.0 244.0L357.0 246.9L358.0 249.8L359.0 252.9L360.0 256.5L361.0 261.0L362.0 266.4L363.0 271.9L364.0 277.6L365.0 282.2L366.0 285.4L367.0 287.0L368.0 288.1L369.0 289.1L370.0 290.0L371.0 289.8L372.0 289.7L373.0 289.6L374.0 290.7L375.0 292.8L376.0 294.9L377.0 297.1L378.0 297.3L379.0 297.5L380.0 297.7L381.0 297.9L382.0 297.9L383.0 297.9L384.0 298.0L385.0 300.1L386.0 302.2L387.0 304.3L388.0 305.5L389.0 305.6L390.0 305.7L391.0 305.6L392.0 306.9L393.0 307.9L394.0 308.9L395.0 309.0L396.0 308.3L397.0 307.5L398.0 306.6L399.0 307.2L400.0 307.7L401.0 307.9L402.0 307.3L403.0 305.8L404.0 304.4L405.0 303.1L406.0 304.3L407.0 305.6L408.0 306.8L409.0 306.8L410.0 305.6L411.0 304.3L412.0 303.0L413.0 303.7L414.0 303.8L415.0 303.4L416.0 301.4L417.0 297.9L418.0 294.4L419.0 291.1L420.0 291.1L421.0 290.7L422.0 290.7L423.0 291.3L424.0 292.3L425.0 293.7L426.0 295.4L427.0 296.8L428.0 298.3L429.0 299.9L430.0 302.5L431.0 306.2L432.0 310.5L433.0 315.3L434.0 318.4L435.0 322.9L436.0 328.1L437.0 334.8L438.0 342.2L439.0 348.3L440.0 354.1L441.0 358.0L442.0 361.7L443.0 365.0L444.0 367.1L445.0 368.1L446.0 368.8L447.0 369.3L448.0 371.7L449.0 374.0L450.0 376.2L451.0 378.2L452.0 380.0L453.0 381.6L454.0 383.1L455.0 384.5L456.0 386.0L457.0 387.4L458.0 388.6L459.0 389.5L460.0 390.2L461.0 390.6L462.0 387.8L463.0 383.7L464.0 378.6L465.0 375.0L466.0 373.3L467.0 372.2L468.0 372.3L469.0 371.5L470.0 372.4L471.0 374.6L472.0 377.7L473.0 381.5L474.0 385.5L475.0 389.4L476.0 394.4L477.0 399.1L478.0 404.0L479.0 408.1L480.0 411.2L481.0 414.2L482.0 417.0L483.0 421.0L484.0 424.6L485.0 427.5L486.0 429.0L487.0 429.8L488.0 430.4L489.0 430.9L490.0 431.1L491.0 431.3L492.0 431.4L493.0 432.3L494.0 433.7L495.0 435.2L496.0 436.6L497.0 436.9L498.0 437.2L499.0 437.4L500.0 437.4L501.0 437.1L502.0 436.8L503.0 436.4L504.0 436.2L505.0 436.0L506.0 435.7L507.0 436.1L508.0 437.2L509.0 438.2L510.0 439.2L511.0 440.2L512.0 441.2L513.0 442.2L514.0 442.5L515.0 442.1L516.0 441.6L517.0 441.2L518.0 442.3L519.0 443.4L520.0 444.4L521.0 444.3L522.0 443.0L523.0 441.6L524.0 440.2L525.0 439.7L526.0 439.1L527.0 438.5L528.0 438.0L529.0 437.5L530.0 437.1L531.0 436.7L532.0 435.4L533.0 434.1L534.0 432.8L535.0 432.2L536.0 432.2L537.0 432.3L538.0 432.3L539.0 431.5L540.0 430.6L541.0 429.8L542.0 428.6L543.0 427.0L544.0 425.4L545.0 423.8L546.0 423.6L547.0 423.3L548.0 423.0L549.0 423.2L550.0 424.1L551.0 424.8L552.0 425.4L553.0 423.7L554.0 421.9L555.0 420.1L556.0 418.7L557.0 417.7L558.0 416.7L559.0 415.7L560.0 413.7L561.0 411.6L562.0 409.6L563.0 408.0L564.0 407.0L565.0 405.9L566.0 404.7L567.0 403.9L568.0 403.2L569.0 402.6L570.0 401.6L571.0 400.2L572.0 399.2L573.0 398.5L574.0 398.2L575.0 398.0L576.0 397.9L577.0 398.7L578.0 400.5L579.0 402.3L580.0 404.1L581.0 403.8L582.0 403.5L583.0 403.3L584.0 404.1L585.0 405.9L586.0 408.2L587.0 410.7L588.0 414.5L589.0 418.2L590.0 421.8L591.0 423.6L592.0 423.7L593.0 423.4L594.0 423.0L595.0 425.7L596.0 428.4L597.0 430.9L598.0 432.2L599.0 432.3L600.0 432.2L601.0 432.2L602.0 433.4L603.0 434.7L604.0 435.9L605.0 437.0L606.0 438.1L607.0 439.2L608.0 440.2L609.0 441.6L610.0 443.1L611.0 444.5L612.0 445.7L613.0 446.5L614.0 447.4L615.0 448.3L616.0 449.3L617.0 450.4L618.0 451.4L619.0 452.4L620.0 453.2L621.0 454.1L622.0 455.1L623.0 456.9L624.0 458.7L625.0 460.5L626.0 462.1L627.0 463.4L628.0 464.6L629.0 465.8L630.0 466.2L631.0 466.5L632.0 466.7L633.0 467.2L634.0 467.8L635.0 468.4L636.0 468.8L637.0 468.6L638.0 468.3L639.0 468.0L640.0 467.8L641.0 467.5L642.0 467.2L643.0 466.8L644.0 467.9L645.0 468.9L646.0 469.9L647.0 470.1L648.0 469.6L649.0 469.1L650.0 468.7L651.0 469.0L652.0 469.3L653.0 469.7L654.0 468.9L655.0 467.1L656.0 465.2L657.0 463.3L658.0 465.7L659.0 467.8L660.0 469.6L661.0 468.6L662.0 464.9L663.0 461.1L664.0 457.2L665.0 456.5L666.0 455.6L667.0 454.5L668.0 453.1L669.0 451.6L670.0 450.0L671.0 448.1L672.0 444.0L673.0 439.7L674.0 435.6L675.0 432.7L676.0 431.1L677.0 429.8L678.0 428.3L679.0 425.3L680.0 421.8L681.0 418.7L682.0 415.7L683.0 412.4L684.0 408.4L684.5 406.6L684.9 404.7L685.4 402.8L685.8 400.9L686.2 399.1L686.6 397.2L686.9 395.3L687.3 393.4L687.6 391.6L687.9 389.7L688.3 387.8L688.6 386.0L688.8 384.1L689.1 382.2L689.4 380.3L689.6 378.5L689.8 376.6L690.1 374.7L690.3 372.8L690.5 371.0L690.8 369.1L691.0 367.2L691.2 365.3L691.4 363.5L691.6 361.6L691.8 359.7L692.0 357.8L692.2 356.0L692.4 354.1L692.6 352.2L692.8 350.4L693.0 348.5L693.2 346.6L693.4 344.7L693.6 342.9L693.7 341.0L693.9 339.1L694.1 337.2L694.2 335.4L694.4 333.5L694.6 331.6L694.7 329.7L694.9 327.9L695.0 326.2L695.2 324.5L695.4 322.8L695.6 321.3L695.8 319.7L696.0 318.2L696.2 316.7L696.4 315.3L696.6 313.9L696.8 312.5L697.1 311.2L697.3 309.8L697.6 308.5L697.9 307.2L698.2 305.9L698.5 304.6L698.9 303.3L699.2 301.9L699.6 300.6L699.9 299.3L700.3 298.0L700.6 296.6L700.9 295.2L701.2 293.9L701.4 292.5L701.7 291.0L701.9 289.6L702.2 288.1L702.4 286.6L702.6 285.1L702.9 283.6L703.1 282.0L703.3 280.4L703.5 278.8L703.7 277.2L703.9 275.5L704.1 273.8L704.3 272.0L704.5 270.3L704.7 268.5L704.8 266.6L705.0 264.8L705.2 262.9L705.3 261.0L705.5 259.0L705.6 257.1L705.8 255.1L705.9 253.0L706.1 251.0L706.2 248.9L706.4 246.8L706.5 244.7L706.6 242.5L706.8 240.3L706.9 238.1L707.0 235.9L707.1 233.7L707.2 231.5L707.4 229.3L707.5 227.1L707.6 224.9L707.7 222.7L707.8 220.5L707.9 218.3L708.0 216.1L708.1 213.9L708.2 211.7L708.3 209.5L708.4 207.3L708.5 205.2L708.6 203.0L708.6 200.8L708.7 198.6L708.8 196.4L708.9 194.2L709.0 192.0L709.0 189.8L709.1 187.6L709.2 185.4L709.3 183.2L709.4 181.0L709.5 178.8L709.7 176.6L709.8 174.4L710.0 172.2L710.1 170.0L710.3 167.8L710.5 165.6L710.6 163.4L710.8 161.2L711.0 159.0L711.2 156.8L711.4 154.6L711.7 152.4L712.0 150.2L712.8 148.0L713.6 150.0L714.0 152.0L714.2 153.9L714.4 155.9L714.6 157.9L714.8 159.9L715.0 161.9L715.2 163.8L715.3 165.8L715.4 167.8L715.6 169.8L715.7 171.8L715.8 173.7L716.0 175.7L716.1 177.7L716.1 179.7L716.2 181.7L716.3 183.6L716.3 185.6L716.4 187.6L716.4 189.6L716.5 191.5L716.5 193.5L716.6 195.5L716.7 197.5L716.7 199.5L716.8 201.4L716.8 203.4L716.9 205.4L716.9 207.4L717.0 209.4L717.1 211.3L717.1 213.3L717.2 215.3L717.3 217.3L717.4 219.3L717.5 221.2L717.6 223.2L717.7 225.2L717.9 227.2L718.0 229.2L718.1 231.1L718.2 233.1L718.3 235.1L718.5 237.0L718.6 238.9L718.7 240.8L718.9 242.7L719.0 244.5L719.2 246.3L719.4 248.1L719.5 249.9L719.7 251.7L719.9 253.5L720.1 255.2L720.3 256.9L720.6 258.6L720.8 260.2L721.0 261.9L721.2 263.5L721.5 265.1L721.7 266.7L721.9 268.2L722.1 269.8L722.4 271.3L722.6 272.8L722.8 274.3L723.0 275.7L723.2 277.2L723.4 278.6L723.6 280.0L723.8 281.4L723.9 282.8L724.1 284.2L724.3 285.6L724.5 286.9L724.6 288.3L724.8 289.7L724.9 291.0L725.1 292.4L725.3 293.7L725.4 295.1L725.6 296.4L725.7 297.8L725.8 299.2L726.0 300.5L726.1 301.9L726.3 303.4L726.4 304.8L726.5 306.3L726.7 307.8L726.8 309.3L726.9 310.8L727.1 312.4L727.2 314.0L727.4 315.7L727.5 317.4L727.7 319.2L727.8 320.9L728.0 322.6L728.2 324.4L728.3 326.1L728.5 327.9L728.7 329.6L728.9 331.4L729.1 333.1L729.3 334.9L729.5 336.6L729.8 338.4L730.0 340.1L730.3 341.9L730.5 343.6L730.8 345.4L731.0 347.1L731.3 348.8L731.6 350.6L731.8 352.3L732.1 354.1L732.4 355.8L732.6 357.6L732.8 359.3L733.1 361.1L733.3 362.8L733.5 364.6L733.7 366.3L734.0 368.1L734.2 369.8L734.4 371.6L734.7 373.3L734.9 375.0L735.2 376.8L735.6 378.5L736.0 380.3L736.6 382.0L737.2 383.8L737.8 385.5L738.5 387.3L739.2 389.0L740.0 390.8L741.0 392.3L742.0 393.8L743.0 395.5L744.0 397.2L745.0 398.4L746.0 399.3L747.0 400.1L748.0 400.8L749.0 402.7L750.0 404.5L751.0 406.2L752.0 407.3L753.0 407.9L754.0 408.5L755.0 409.1L756.0 408.8L757.0 408.5L758.0 408.1L759.0 409.0L760.0 411.0L761.0 413.0L762.0 415.0L763.0 416.8L764.0 418.6L765.0 420.4L766.0 421.6L767.0 422.3L768.0 423.0L769.0 423.6L770.0 425.7L771.0 427.7L772.0 429.6L773.0 430.9L774.0 431.4L775.0 431.8L776.0 432.1L777.0 432.7L778.0 433.4L779.0 434.0L780.0 434.4L781.0 434.4L782.0 434.1L783.0 433.8L784.0 434.1L785.0 434.4L786.0 434.6L787.0 434.8L788.0 434.6L789.0 434.1L790.0 433.4L791.0 431.0L792.0 428.5L793.0 425.8L794.0 423.8L795.0 422.6L796.0 421.3L797.0 419.7L798.0 417.3L799.0 414.5L800.0 411.5L801.0 409.0L802.0 407.3L803.0 405.5L804.0 403.6L805.0 399.2L806.0 394.7L807.0 389.5L808.0 384.5L809.0 380.1L810.0 376.5L811.0 374.1L812.0 372.5L813.0 371.0L814.0 369.6L815.0 368.4L816.0 367.2L817.0 366.4L818.0 365.8L819.0 365.6L820.0 365.5L821.0 365.5L822.0 366.1L823.0 367.3L824.0 368.5L825.0 370.0L826.0 370.4L827.0 371.3L828.0 372.4L829.0 374.4L830.0 377.1L831.0 379.2L832.0 380.5L833.0 379.0L834.0 377.0L835.0 374.7L836.0 372.6L837.0 370.7L838.0 368.7L839.0 366.1L840.0 362.8L841.0 359.2L842.0 355.4L843.0 351.7L844.0 348.5L845.0 345.7L846.0 343.2L847.0 340.4L848.0 337.6L849.0 334.8L850.0 332.5L851.0 330.9L852.0 329.5L853.0 328.5L854.0 327.5L855.0 327.0L856.0 327.0L857.0 326.2L858.0 325.3L859.0 326.0L860.0 327.6L861.0 332.8L862.0 338.1L863.0 343.2L864.0 348.4L865.0 353.7L866.0 359.4L867.0 365.1L868.0 369.6L869.0 373.8L870.0 377.8L871.0 382.3L872.0 387.2L873.0 392.1L874.0 396.8L875.0 401.4L876.0 405.8L877.0 410.2L878.0 414.0L879.0 417.0L880.0 420.0L881.0 422.6L882.0 427.8L883.0 432.5L884.0 436.8L885.0 439.9L886.0 441.6L887.0 443.2L888.0 444.6L889.0 446.3L890.0 447.8L891.0 449.1L892.0 450.3L893.0 451.4L894.0 452.3L895.0 453.2L896.0 454.1L897.0 455.0L898.0 455.9L899.0 457.5L900.0 460.6L901.0 464.8L902.0 469.6L903.0 472.2L904.0 474.7L905.0 476.8L906.0 478.9L907.0 481.6L908.0 484.1L909.0 486.4L910.0 487.5L911.0 488.4L912.0 489.3L913.0 490.8L914.0 492.9L915.0 495.0L916.0 497.1L917.0 498.3L918.0 499.5L919.0 500.6L920.0 501.9L921.0 503.4L922.0 504.9L923.0 506.1L924.0 506.7L925.0 507.1L926.0 507.4L927.0 507.7L928.0 508.3L929.0 508.8L930.0 509.3L931.0 510.5L932.0 511.7L933.0 513.0L934.0 513.9L935.0 514.6L936.0 515.3L937.0 516.2L938.0 516.8L939.0 517.3L940.0 517.9L941.0 518.1L942.0 518.0L943.0 517.9L944.0 517.5L945.0 518.2L946.0 518.5L947.0 518.6L948.0 517.3L949.0 514.8L950.0 512.3L951.0 510.0L952.0 511.8L953.0 513.9L954.0 516.5L955.0 518.1L956.0 518.7L957.0 519.5L958.0 520.4L959.0 522.0L960.0 523.5L961.0 524.7L962.0 525.7L963.0 526.6L964.0 527.4L965.0 528.2L966.0 527.5L967.0 526.7L968.0 526.0L969.0 526.2L970.0 527.3L971.0 528.4L972.0 529.8L973.0 530.3L974.0 531.5L975.0 533.2L976.0 536.0L977.0 539.5L978.0 543.0L979.0 546.0L980.0 547.3L981.0 548.0L982.0 548.5L983.0 549.5L984.0 550.9L985.0 552.2L986.0 553.5L987.0 555.0L988.0 556.4L989.0 557.8L990.0 558.1L991.0 557.4L992.0 556.7L993.0 555.9L994.0 556.5L995.0 557.1L996.0 557.6L997.0 558.2L998.0 558.8L999.0 559.3L1000.0 559.9L1001.0 560.5" stroke="#be030b"/>
<path d="M104.0 528.6L105.0 526.3L106.0 523.9L107.0 521.6L108.0 519.8L109.0 518.7L110.0 517.5L111.0 516.4L112.0 517.1L113.0 517.8L114.0 518.5L115.0 518.4L116.0 517.4L117.0 516.1L118.0 514.6L119.0 514.2L120.0 513.8L121.0 513.4L122.0 512.9L123.0 512.4L124.0 512.1L125.0 512.1L126.0 511.4L127.0 511.3L128.0 511.7L129.0 512.6L130.0 513.8L131.0 514.6L132.0 515.5L133.0 515.4L134.0 515.3L135.0 515.1L136.0 516.0L137.0 517.8L138.0 519.6L139.0 521.2L140.0 520.5L141.0 519.4L142.0 517.9L143.0 517.0L144.0 516.8L145.0 516.4L146.0 516.1L147.0 514.5L148.0 513.0L149.0 511.8L150.0 510.2L151.0 508.4L152.0 507.1L153.0 506.1L154.0 506.8L155.0 507.6L156.0 508.2L157.0 508.4L158.0 507.7L159.0 506.2L160.0 504.2L161.0 502.3L162.0 500.6L163.0 499.5L164.0 497.7L165.0 494.8L166.0 492.0L167.0 489.3L168.0 489.2L169.0 489.0L170.0 488.8L171.0 488.4L172.0 488.1L173.0 487.6L174.0 487.1L175.0 483.9L176.0 480.6L177.0 477.3L178.0 474.9L179.0 472.9L180.0 470.7L181.0 468.5L182.0 466.0L183.0 463.6L184.0 461.5L185.0 459.4L186.0 457.5L187.0 456.3L188.0 455.8L189.0 458.5L190.0 461.5L191.0 464.5L192.0 466.1L193.0 465.9L194.0 464.6L195.0 462.6L196.0 460.9L197.0 459.7L198.0 459.6L199.0 461.0L200.0 463.4L201.0 466.0L202.0 468.2L203.0 469.2L204.0 468.7L205.0 467.1L206.0 463.8L207.0 459.4L208.0 455.5L209.0 452.0L210.0 452.1L211.0 452.3L212.0 452.4L213.0 451.4L214.0 449.2L215.0 446.9L216.0 444.4L217.0 442.9L218.0 441.3L219.0 439.7L220.0 437.6L221.0 435.1L222.0 432.8L223.0 430.7L224.0 429.2L225.0 427.7L226.0 426.2L227.0 425.2L228.0 424.8L229.0 424.2L230.0 423.1L231.0 419.7L232.0 416.5L233.0 413.7L234.0 411.4L235.0 409.5L236.0 407.7L237.0 405.9L238.0 404.3L239.0 402.6L240.0 400.6L241.0 398.7L242.0 396.7L243.0 394.6L244.0 392.5L245.0 390.1L246.0 387.7L247.0 385.4L248.0 382.5L249.0 378.9L250.0 375.3L251.0 371.9L252.0 371.1L253.0 370.4L254.0 369.6L255.0 368.5L256.0 367.0L257.0 365.5L258.0 363.9L259.0 362.3L260.0 360.6L261.0 358.6L262.0 356.3L263.0 353.8L264.0 351.3L265.0 348.8L266.0 344.4L267.0 339.9L268.0 335.6L269.0 333.2L270.0 332.5L271.0 331.9L272.0 331.3L273.0 327.5L274.0 323.7L275.0 319.8L276.0 316.7L277.0 314.2L278.0 311.7L279.0 309.0L280.0 305.2L281.0 301.4L282.0 297.5L283.0 294.0L284.0 290.7L285.0 287.5L286.0 284.4L287.0 282.7L288.0 281.1L289.0 279.7L290.0 276.9L291.0 272.8L292.0 268.6L293.0 264.6L294.0 262.1L295.0 260.4L296.0 259.3L297.0 259.3L298.0 259.7L299.0 260.2L300.0 260.7L301.0 260.9L302.0 261.2L303.0 261.6L304.0 261.0L305.0 260.0L306.0 259.6L307.0 259.5L308.0 262.4L309.0 265.1L310.0 267.1L311.0 267.8L312.0 267.5L313.0 266.5L314.0 265.1L315.0 264.5L316.0 263.7L317.0 262.8L318.0 261.4L319.0 259.0L320.0 256.0L321.0 252.5L322.0 246.5L323.0 240.2L324.0 233.8L325.0 228.3L326.0 224.0L327.0 219.9L328.0 215.8L329.0 211.6L330.0 207.3L331.0 203.0L332.0 198.8L333.0 194.6L334.0 190.8L335.0 187.0L336.0 181.6L337.0 176.3L338.0 171.6L339.0 168.9L340.0 168.8L341.0 171.1L342.0 175.1L343.0 178.2L344.0 182.0L345.0 185.6L346.0 188.6L347.0 191.1L348.0 193.5L349.0 195.9L350.0 200.5L351.0 205.1L352.0 209.6L353.0 214.2L354.0 218.7L355.0 223.0L356.0 227.3L357.0 230.8L358.0 234.5L359.0 238.2L360.0 240.9L361.0 242.9L362.0 245.8L363.0 249.0L364.0 254.2L365.0 258.4L366.0 261.0L367.0 262.8L368.0 264.8L369.0 266.8L370.0 268.6L371.0 267.0L372.0 265.3L373.0 263.8L374.0 264.7L375.0 268.1L376.0 271.5L377.0 274.9L378.0 276.0L379.0 277.0L380.0 278.1L381.0 277.6L382.0 275.6L383.0 273.6L384.0 271.7L385.0 275.1L386.0 278.5L387.0 281.9L388.0 283.7L389.0 283.8L390.0 283.8L391.0 283.8L392.0 285.4L393.0 286.9L394.0 288.2L395.0 288.5L396.0 287.7L397.0 286.8L398.0 285.8L399.0 285.3L400.0 284.7L401.0 283.8L402.0 283.3L403.0 283.2L404.0 283.2L405.0 283.2L406.0 283.6L407.0 284.0L408.0 284.3L409.0 284.2L410.0 283.4L411.0 282.6L412.0 281.8L413.0 281.1L414.0 279.8L415.0 277.9L416.0 275.3L417.0 272.0L418.0 268.8L419.0 265.7L420.0 265.1L421.0 264.1L422.0 263.5L423.0 263.2L424.0 263.2L425.0 263.6L426.0 264.4L427.0 267.1L428.0 269.9L429.0 272.9L430.0 275.3L431.0 277.4L432.0 280.3L433.0 283.5L434.0 288.3L435.0 294.6L436.0 301.7L437.0 308.6L438.0 314.4L439.0 318.9L440.0 322.9L441.0 328.0L442.0 332.7L443.0 337.2L444.0 340.5L445.0 342.7L446.0 344.5L447.0 346.3L448.0 348.2L449.0 350.0L450.0 351.6L451.0 354.0L452.0 357.3L453.0 360.3L454.0 363.2L455.0 364.4L456.0 365.6L457.0 366.7L458.0 366.9L459.0 366.1L460.0 365.0L461.0 363.6L462.0 361.8L463.0 358.4L464.0 354.1L465.0 350.2L466.0 347.4L467.0 345.3L468.0 344.5L469.0 342.7L470.0 342.9L471.0 344.6L472.0 349.3L473.0 356.5L474.0 364.1L475.0 371.4L476.0 373.7L477.0 375.6L478.0 377.7L479.0 381.4L480.0 386.6L481.0 391.6L482.0 396.3L483.0 398.3L484.0 399.7L485.0 400.3L486.0 401.4L487.0 403.5L488.0 405.4L489.0 407.2L490.0 408.9L491.0 410.4L492.0 411.9L493.0 412.8L494.0 412.9L495.0 413.1L496.0 413.2L497.0 413.1L498.0 413.0L499.0 412.8L500.0 414.1L501.0 416.7L502.0 419.2L503.0 421.8L504.0 421.2L505.0 420.5L506.0 419.8L507.0 419.4L508.0 419.1L509.0 418.9L510.0 418.6L511.0 418.7L512.0 418.7L513.0 418.7L514.0 418.9L515.0 419.3L516.0 419.6L517.0 419.9L518.0 420.9L519.0 421.9L520.0 422.7L521.0 422.2L522.0 420.3L523.0 418.4L524.0 416.4L525.0 416.4L526.0 416.4L527.0 416.3L528.0 415.7L529.0 414.4L530.0 413.2L531.0 412.1L532.0 412.9L533.0 413.8L534.0 414.7L535.0 414.4L536.0 412.9L537.0 411.5L538.0 410.0L539.0 410.2L540.0 410.3L541.0 410.5L542.0 410.2L543.0 409.4L544.0 408.6L545.0 407.7L546.0 406.3L547.0 404.8L548.0 403.3L549.0 402.6L550.0 402.6L551.0 402.6L552.0 402.4L553.0 401.5L554.0 400.5L555.0 399.4L556.0 397.5L557.0 394.8L558.0 392.0L559.0 389.3L560.0 389.2L561.0 389.2L562.0 389.1L563.0 389.1L564.0 389.4L565.0 389.5L566.0 389.5L567.0 385.1L568.0 380.7L569.0 376.5L570.0 374.2L571.0 373.8L572.0 373.7L573.0 374.1L574.0 372.9L575.0 371.8L576.0 370.8L577.0 371.2L578.0 372.9L579.0 374.8L580.0 376.7L581.0 376.7L582.0 376.8L583.0 377.0L584.0 378.7L585.0 381.8L586.0 385.5L587.0 389.4L588.0 392.1L589.0 394.7L590.0 397.1L591.0 399.0L592.0 400.3L593.0 401.2L594.0 402.0L595.0 405.1L596.0 408.0L597.0 410.9L598.0 412.5L599.0 412.8L600.0 413.0L601.0 413.3L602.0 413.9L603.0 414.5L604.0 415.1L605.0 416.4L606.0 418.3L607.0 420.1L608.0 422.0L609.0 422.3L610.0 422.7L611.0 423.1L612.0 424.2L613.0 426.2L614.0 428.1L615.0 430.1L616.0 430.8L617.0 431.5L618.0 432.3L619.0 433.0L620.0 433.9L621.0 434.8L622.0 435.7L623.0 437.6L624.0 439.5L625.0 441.5L626.0 442.4L627.0 442.4L628.0 442.2L629.0 442.1L630.0 444.7L631.0 447.3L632.0 449.8L633.0 450.4L634.0 449.1L635.0 447.6L636.0 446.2L637.0 449.2L638.0 452.2L639.0 455.1L640.0 456.3L641.0 455.6L642.0 454.8L643.0 454.0L644.0 453.8L645.0 453.5L646.0 453.2L647.0 452.9L648.0 452.5L649.0 452.1L650.0 451.7L651.0 452.5L652.0 453.2L653.0 454.0L654.0 454.1L655.0 453.5L656.0 452.9L657.0 452.3L658.0 451.9L659.0 451.2L660.0 450.2L661.0 449.4L662.0 448.9L663.0 448.3L664.0 447.8L665.0 445.2L666.0 442.4L667.0 439.5L668.0 436.9L669.0 434.8L670.0 432.7L671.0 430.3L672.0 428.0L673.0 425.6L674.0 423.4L675.0 421.5L676.0 419.9L677.0 418.5L678.0 417.0L679.0 414.1L680.0 410.7L681.0 406.5L682.0 402.2L683.0 397.6L684.0 392.5L684.4 390.7L684.8 388.9L685.2 387.2L685.5 385.4L685.8 383.7L686.2 381.9L686.5 380.1L686.8 378.4L687.1 376.6L687.4 374.9L687.7 373.1L688.0 371.4L688.3 369.6L688.5 367.8L688.8 366.1L689.0 364.3L689.2 362.6L689.5 360.8L689.7 359.0L689.9 357.3L690.1 355.5L690.3 353.8L690.5 352.0L690.8 350.2L691.0 348.5L691.2 346.7L691.4 345.0L691.6 343.2L691.8 341.5L692.0 339.7L692.2 337.9L692.4 336.2L692.5 334.4L692.7 332.7L692.9 330.9L693.1 329.1L693.2 327.4L693.4 325.6L693.6 323.9L693.7 322.1L693.9 320.3L694.1 318.6L694.2 316.9L694.4 315.2L694.5 313.5L694.7 311.9L694.9 310.3L695.1 308.7L695.3 307.2L695.5 305.7L695.6 304.2L695.9 302.7L696.1 301.2L696.3 299.8L696.5 298.3L696.8 296.9L697.1 295.5L697.4 294.0L697.7 292.6L698.0 291.2L698.4 289.8L698.7 288.3L699.1 286.9L699.4 285.5L699.7 284.0L700.0 282.6L700.3 281.1L700.6 279.7L700.8 278.2L701.1 276.7L701.3 275.2L701.5 273.7L701.8 272.2L702.0 270.6L702.2 269.1L702.4 267.5L702.6 265.9L702.8 264.3L703.0 262.7L703.2 261.0L703.4 259.4L703.6 257.7L703.7 256.0L703.9 254.3L704.1 252.5L704.2 250.8L704.4 249.0L704.6 247.2L704.7 245.4L704.9 243.6L705.0 241.7L705.2 239.9L705.3 238.0L705.5 236.1L705.6 234.2L705.8 232.2L705.9 230.3L706.0 228.3L706.1 226.4L706.3 224.4L706.4 222.4L706.5 220.5L706.7 218.5L706.8 216.6L706.9 214.6L707.0 212.7L707.1 210.7L707.3 208.7L707.4 206.8L707.5 204.8L707.5 202.9L707.6 200.9L707.7 198.9L707.8 197.0L707.9 195.0L708.0 193.1L708.1 191.1L708.2 189.1L708.2 187.2L708.3 185.2L708.4 183.3L708.5 181.3L708.6 179.3L708.7 177.4L708.9 175.4L709.0 173.5L709.2 171.5L709.4 169.6L709.6 167.6L709.8 165.6L710.0 163.7L710.2 161.7L710.4 159.8L710.6 157.8L710.9 155.8L711.2 153.9L711.5 151.9L711.9 150.0L712.8 148.0L713.7 149.8L714.1 151.6L714.4 153.3L714.7 155.1L714.9 156.9L715.1 158.7L715.3 160.5L715.5 162.2L715.7 164.0L715.8 165.8L716.0 167.6L716.1 169.4L716.3 171.1L716.4 172.9L716.5 174.7L716.6 176.5L716.7 178.3L716.7 180.0L716.8 181.8L716.8 183.6L716.9 185.4L716.9 187.2L717.0 189.0L717.0 190.7L717.1 192.5L717.1 194.3L717.2 196.1L717.2 197.9L717.3 199.6L717.4 201.4L717.4 203.2L717.5 205.0L717.6 206.8L717.7 208.5L717.8 210.3L717.9 212.1L718.0 213.9L718.1 215.7L718.2 217.4L718.3 219.2L718.4 221.0L718.6 222.8L718.7 224.6L718.8 226.3L719.0 228.1L719.1 229.8L719.2 231.5L719.4 233.3L719.6 235.0L719.7 236.7L719.9 238.4L720.1 240.0L720.3 241.7L720.5 243.3L720.7 245.0L720.9 246.6L721.1 248.2L721.4 249.8L721.6 251.4L721.8 253.0L722.1 254.6L722.3 256.2L722.5 257.7L722.7 259.3L723.0 260.8L723.2 262.3L723.4 263.8L723.6 265.3L723.8 266.8L724.0 268.3L724.1 269.8L724.3 271.3L724.5 272.8L724.7 274.2L724.8 275.7L725.0 277.1L725.1 278.6L725.3 280.1L725.4 281.5L725.6 283.0L725.7 284.4L725.9 285.9L726.0 287.3L726.1 288.8L726.3 290.3L726.4 291.7L726.5 293.2L726.7 294.7L726.8 296.2L726.9 297.7L727.1 299.3L727.2 300.8L727.3 302.4L727.5 304.0L727.6 305.5L727.7 307.2L727.9 308.8L728.0 310.5L728.2 312.1L728.3 313.8L728.5 315.4L728.6 317.1L728.8 318.7L729.0 320.4L729.2 322.1L729.4 323.7L729.6 325.4L729.8 327.0L730.0 328.7L730.3 330.4L730.5 332.0L730.7 333.7L731.0 335.3L731.3 337.0L731.5 338.6L731.8 340.3L732.0 342.0L732.3 343.6L732.6 345.3L732.8 346.9L733.0 348.6L733.3 350.2L733.5 351.9L733.7 353.6L733.9 355.2L734.1 356.9L734.3 358.5L734.6 360.2L734.8 361.8L735.0 363.5L735.3 365.2L735.6 366.8L736.1 368.5L736.6 370.1L737.2 371.8L737.8 373.5L738.5 375.1L739.2 376.8L740.0 378.4L741.0 380.4L742.0 381.9L743.0 383.0L744.0 383.8L745.0 385.5L746.0 388.1L747.0 390.7L748.0 393.3L749.0 392.6L750.0 391.9L751.0 391.1L752.0 391.3L753.0 392.5L754.0 393.6L755.0 394.7L756.0 396.8L757.0 398.9L758.0 401.0L759.0 402.5L760.0 403.4L761.0 404.3L762.0 405.3L763.0 405.9L764.0 406.5L765.0 407.2L766.0 408.4L767.0 410.0L768.0 411.6L769.0 413.2L770.0 414.8L771.0 416.3L772.0 417.7L773.0 418.6L774.0 418.8L775.0 418.9L776.0 418.8L777.0 419.7L778.0 420.6L779.0 421.4L780.0 421.5L781.0 420.8L782.0 419.8L783.0 418.8L784.0 419.5L785.0 420.1L786.0 420.8L787.0 420.5L788.0 418.9L789.0 417.0L790.0 414.9L791.0 414.2L792.0 413.2L793.0 412.2L794.0 410.6L795.0 408.7L796.0 406.7L797.0 404.5L798.0 403.6L799.0 402.3L800.0 400.6L801.0 397.3L802.0 392.4L803.0 387.4L804.0 382.3L805.0 378.9L806.0 375.5L807.0 371.4L808.0 366.2L809.0 360.5L810.0 355.7L811.0 352.3L812.0 351.3L813.0 350.3L814.0 349.6L815.0 348.8L816.0 348.1L817.0 347.7L818.0 347.6L819.0 347.2L820.0 347.0L821.0 346.9L822.0 347.7L823.0 349.3L824.0 350.9L825.0 352.8L826.0 352.6L827.0 352.9L828.0 353.4L829.0 355.5L830.0 358.9L831.0 361.7L832.0 363.5L833.0 364.3L834.0 364.6L835.0 364.5L836.0 362.3L837.0 358.0L838.0 353.6L839.0 348.4L840.0 345.6L841.0 342.4L842.0 339.0L843.0 334.8L844.0 330.0L845.0 325.7L846.0 321.7L847.0 319.6L848.0 317.4L849.0 315.3L850.0 312.1L851.0 308.0L852.0 304.1L853.0 300.6L854.0 300.5L855.0 300.8L856.0 301.7L857.0 301.9L858.0 302.4L859.0 304.6L860.0 307.9L861.0 311.7L862.0 315.6L863.0 319.2L864.0 323.8L865.0 329.6L866.0 335.6L867.0 341.8L868.0 347.3L869.0 352.6L870.0 357.6L871.0 363.0L872.0 368.9L873.0 374.7L874.0 380.4L875.0 385.8L876.0 391.1L877.0 396.3L878.0 400.7L879.0 404.3L880.0 407.7L881.0 410.7L882.0 413.6L883.0 415.8L884.0 417.6L885.0 419.6L886.0 421.9L887.0 424.1L888.0 426.0L889.0 428.3L890.0 430.3L891.0 432.1L892.0 432.5L893.0 431.4L894.0 430.3L895.0 429.0L896.0 431.6L897.0 434.3L898.0 437.0L899.0 438.7L900.0 440.4L901.0 443.3L902.0 447.1L903.0 449.4L904.0 451.7L905.0 453.4L906.0 456.4L907.0 461.3L908.0 466.0L909.0 470.6L910.0 470.7L911.0 470.6L912.0 470.4L913.0 471.6L914.0 474.3L915.0 476.9L916.0 479.5L917.0 482.1L918.0 484.8L919.0 487.4L920.0 488.5L921.0 488.0L922.0 487.4L923.0 486.7L924.0 487.6L925.0 488.4L926.0 488.9L927.0 489.5L928.0 490.5L929.0 491.3L930.0 492.2L931.0 492.5L932.0 492.9L933.0 493.3L934.0 494.0L935.0 495.1L936.0 496.2L937.0 497.5L938.0 498.0L939.0 498.4L940.0 498.9L941.0 499.4L942.0 500.0L943.0 500.5L944.0 500.8L945.0 500.7L946.0 500.2L947.0 499.4L948.0 498.5L949.0 497.7L950.0 496.8L951.0 496.1L952.0 495.1L953.0 494.4L954.0 494.3L955.0 495.4L956.0 497.5L957.0 499.9L958.0 502.3L959.0 503.7L960.0 504.9L961.0 505.8L962.0 506.0L963.0 505.4L964.0 504.9L965.0 504.3L966.0 506.5L967.0 508.6L968.0 510.7L969.0 510.8L970.0 508.8L971.0 506.8L972.0 505.1L973.0 508.0L974.0 511.8L975.0 516.3L976.0 519.9L977.0 522.4L978.0 524.7L979.0 526.5L980.0 529.5L981.0 531.7L982.0 533.7L983.0 535.3L984.0 536.4L985.0 537.5L986.0 538.5L987.0 539.6L988.0 540.5L989.0 541.4L990.0 542.3L991.0 543.3L992.0 544.3L993.0 545.3L994.0 544.2L995.0 543.2L996.0 542.1L997.0 543.0L998.0 546.0L999.0 548.9L1000.0 551.7L1001.0 550.2" stroke="#d3040d"/>
<path d="M104.0 504.0L105.0 503.6L106.0 503.1L107.0 502.6L108.0 503.6L109.0 506.3L110.0 508.9L111.0 511.5L112.0 510.7L113.0 510.0L114.0 509.1L115.0 508.0L116.0 506.3L117.0 504.3L118.0 502.0L119.0 501.4L120.0 500.7L121.0 500.0L122.0 499.4L123.0 498.8L124.0 498.4L125.0 498.4L126.0 497.4L127.0 497.2L128.0 497.5L129.0 498.1L130.0 498.9L131.0 499.3L132.0 499.7L133.0 500.8L134.0 501.9L135.0 503.0L136.0 504.1L137.0 505.3L138.0 506.4L139.0 507.4L140.0 506.8L141.0 505.8L142.0 504.3L143.0 502.4L144.0 500.0L145.0 497.5L146.0 494.9L147.0 494.8L148.0 494.9L149.0 495.3L150.0 494.3L151.0 492.1L152.0 490.4L153.0 489.0L154.0 490.5L155.0 491.9L156.0 493.2L157.0 494.4L158.0 495.1L159.0 494.7L160.0 493.9L161.0 490.7L162.0 487.8L163.0 485.5L164.0 483.9L165.0 482.8L166.0 481.8L167.0 480.8L168.0 479.7L169.0 478.5L170.0 477.1L171.0 476.0L172.0 475.1L173.0 474.1L174.0 473.1L175.0 470.4L176.0 467.7L177.0 465.1L178.0 462.1L179.0 458.5L180.0 454.7L181.0 450.7L182.0 449.8L183.0 449.1L184.0 448.7L185.0 446.5L186.0 442.9L187.0 439.9L188.0 437.8L189.0 439.9L190.0 442.3L191.0 444.8L192.0 447.8L193.0 450.9L194.0 452.7L195.0 453.8L196.0 451.7L197.0 450.1L198.0 449.7L199.0 450.3L200.0 451.4L201.0 452.7L202.0 453.7L203.0 455.0L204.0 454.8L205.0 453.4L206.0 451.1L207.0 448.6L208.0 446.6L209.0 445.1L210.0 444.3L211.0 443.5L212.0 442.8L213.0 441.1L214.0 438.3L215.0 435.3L216.0 432.2L217.0 430.2L218.0 428.0L219.0 425.8L220.0 423.8L221.0 422.1L222.0 420.6L223.0 419.3L224.0 418.5L225.0 417.8L226.0 417.0L227.0 415.9L228.0 414.4L229.0 412.6L230.0 410.3L231.0 407.1L232.0 403.9L233.0 401.3L234.0 399.6L235.0 398.8L236.0 398.1L237.0 397.5L238.0 394.5L239.0 391.4L240.0 388.2L241.0 385.7L242.0 384.2L243.0 382.6L244.0 381.0L245.0 378.2L246.0 375.4L247.0 372.7L248.0 370.2L249.0 368.0L250.0 365.9L251.0 363.9L252.0 363.9L253.0 363.9L254.0 363.9L255.0 362.4L256.0 359.5L257.0 356.4L258.0 353.2L259.0 350.5L260.0 347.6L261.0 344.6L262.0 342.1L263.0 340.2L264.0 338.2L265.0 336.2L266.0 332.7L267.0 329.3L268.0 325.9L269.0 323.7L270.0 322.5L271.0 321.4L272.0 320.2L273.0 318.1L274.0 316.0L275.0 313.8L276.0 311.5L277.0 309.1L278.0 306.6L279.0 304.0L280.0 299.6L281.0 295.1L282.0 290.6L283.0 287.2L284.0 284.9L285.0 282.7L286.0 280.5L287.0 279.2L288.0 278.0L289.0 276.9L290.0 274.3L291.0 269.9L292.0 265.5L293.0 261.3L294.0 260.0L295.0 259.3L296.0 259.2L297.0 259.3L298.0 258.9L299.0 258.7L300.0 258.5L301.0 256.0L302.0 253.5L303.0 251.2L304.0 251.3L305.0 254.3L306.0 257.9L307.0 261.8L308.0 263.4L309.0 264.6L310.0 265.2L311.0 265.2L312.0 264.6L313.0 263.4L314.0 261.8L315.0 260.4L316.0 258.8L317.0 257.1L318.0 254.5L319.0 250.6L320.0 246.0L321.0 241.0L322.0 236.2L323.0 231.1L324.0 225.9L325.0 221.0L326.0 216.6L327.0 212.4L328.0 208.3L329.0 202.8L330.0 197.2L331.0 191.7L332.0 187.0L333.0 183.1L334.0 179.6L335.0 176.0L336.0 169.5L337.0 163.1L338.0 157.3L339.0 155.1L340.0 156.9L341.0 160.8L342.0 166.3L343.0 168.4L344.0 171.1L345.0 173.7L346.0 177.1L347.0 181.3L348.0 185.5L349.0 189.7L350.0 192.9L351.0 196.1L352.0 199.2L353.0 202.2L354.0 205.2L355.0 207.9L356.0 210.6L357.0 213.5L358.0 216.4L359.0 219.4L360.0 222.7L361.0 226.5L362.0 231.3L363.0 236.3L364.0 239.7L365.0 242.1L366.0 242.9L367.0 243.4L368.0 244.7L369.0 245.9L370.0 247.0L371.0 248.7L372.0 250.4L373.0 252.2L374.0 252.4L375.0 251.2L376.0 250.0L377.0 248.8L378.0 249.3L379.0 249.8L380.0 250.3L381.0 251.9L382.0 254.9L383.0 257.8L384.0 260.9L385.0 260.8L386.0 260.8L387.0 260.8L388.0 261.2L389.0 262.1L390.0 262.8L391.0 263.5L392.0 262.6L393.0 261.5L394.0 260.3L395.0 259.7L396.0 259.6L397.0 259.4L398.0 259.1L399.0 259.0L400.0 258.8L401.0 258.7L402.0 258.4L403.0 257.9L404.0 257.5L405.0 257.1L406.0 256.5L407.0 255.8L408.0 255.1L409.0 254.1L410.0 252.8L411.0 251.5L412.0 250.0L413.0 249.9L414.0 249.1L415.0 247.7L416.0 245.4L417.0 242.4L418.0 239.3L419.0 236.4L420.0 236.6L421.0 236.3L422.0 236.4L423.0 235.9L424.0 234.7L425.0 233.9L426.0 233.6L427.0 235.3L428.0 237.2L429.0 239.2L430.0 242.1L431.0 246.1L432.0 251.0L433.0 256.2L434.0 261.3L435.0 268.0L436.0 275.6L437.0 283.5L438.0 290.6L439.0 296.2L440.0 301.5L441.0 305.1L442.0 308.4L443.0 311.3L444.0 314.0L445.0 316.4L446.0 318.4L447.0 320.3L448.0 325.2L449.0 330.0L450.0 334.6L451.0 336.9L452.0 336.8L453.0 336.5L454.0 336.1L455.0 337.4L456.0 338.7L457.0 340.0L458.0 340.9L459.0 341.5L460.0 341.7L461.0 341.6L462.0 340.2L463.0 337.1L464.0 333.0L465.0 328.5L466.0 324.2L467.0 320.8L468.0 318.7L469.0 318.8L470.0 321.0L471.0 324.7L472.0 328.6L473.0 332.4L474.0 336.4L475.0 340.2L476.0 345.8L477.0 351.0L478.0 356.4L479.0 361.2L480.0 365.2L481.0 369.0L482.0 372.5L483.0 377.7L484.0 382.2L485.0 386.0L486.0 387.2L487.0 386.6L488.0 385.9L489.0 385.0L490.0 386.9L491.0 388.7L492.0 390.4L493.0 391.8L494.0 392.9L495.0 393.9L496.0 394.9L497.0 393.9L498.0 392.8L499.0 391.8L500.0 392.1L501.0 393.7L502.0 395.4L503.0 397.0L504.0 397.5L505.0 398.0L506.0 398.5L507.0 398.6L508.0 398.3L509.0 398.0L510.0 397.6L511.0 398.3L512.0 399.0L513.0 399.7L514.0 400.5L515.0 401.5L516.0 402.5L517.0 403.4L518.0 402.7L519.0 401.8L520.0 400.9L521.0 399.9L522.0 398.9L523.0 397.8L524.0 396.7L525.0 396.2L526.0 395.6L527.0 395.0L528.0 394.6L529.0 394.3L530.0 394.1L531.0 393.8L532.0 393.8L533.0 393.7L534.0 393.7L535.0 393.2L536.0 392.2L537.0 391.3L538.0 390.3L539.0 389.6L540.0 388.9L541.0 388.2L542.0 387.8L543.0 387.7L544.0 387.6L545.0 387.4L546.0 384.3L547.0 381.1L548.0 377.9L549.0 375.8L550.0 374.9L551.0 373.9L552.0 372.8L553.0 370.9L554.0 368.9L555.0 366.8L556.0 366.2L557.0 367.0L558.0 367.8L559.0 368.6L560.0 364.8L561.0 360.9L562.0 357.0L563.0 354.9L564.0 354.5L565.0 354.1L566.0 353.7L567.0 352.1L568.0 350.7L569.0 349.5L570.0 347.5L571.0 344.6L572.0 342.2L573.0 340.3L574.0 340.9L575.0 341.6L576.0 342.5L577.0 343.3L578.0 344.1L579.0 345.0L580.0 346.0L581.0 347.5L582.0 349.0L583.0 350.7L584.0 351.9L585.0 352.6L586.0 353.9L587.0 355.5L588.0 360.4L589.0 365.2L590.0 369.8L591.0 373.5L592.0 376.0L593.0 378.1L594.0 380.1L595.0 381.2L596.0 382.3L597.0 383.3L598.0 384.4L599.0 385.7L600.0 386.9L601.0 388.2L602.0 390.2L603.0 392.3L604.0 394.3L605.0 395.6L606.0 396.0L607.0 396.4L608.0 396.8L609.0 397.8L610.0 398.8L611.0 399.7L612.0 400.6L613.0 401.5L614.0 402.3L615.0 403.2L616.0 405.0L617.0 406.9L618.0 408.7L619.0 409.9L620.0 410.3L621.0 410.8L622.0 411.3L623.0 413.3L624.0 415.3L625.0 417.4L626.0 418.9L627.0 419.8L628.0 420.7L629.0 421.6L630.0 423.6L631.0 425.5L632.0 427.3L633.0 427.8L634.0 427.2L635.0 426.4L636.0 425.5L637.0 426.7L638.0 427.9L639.0 429.0L640.0 429.9L641.0 430.6L642.0 431.2L643.0 431.7L644.0 432.0L645.0 432.3L646.0 432.5L647.0 432.9L648.0 433.5L649.0 434.1L650.0 434.7L651.0 434.2L652.0 433.7L653.0 433.2L654.0 433.2L655.0 433.6L656.0 434.0L657.0 434.4L658.0 434.9L659.0 435.1L660.0 435.0L661.0 433.8L662.0 431.6L663.0 429.4L664.0 427.2L665.0 424.3L666.0 421.1L667.0 417.7L668.0 414.7L669.0 412.1L670.0 409.6L671.0 406.8L672.0 405.6L673.0 404.3L674.0 403.2L675.0 401.3L676.0 398.6L677.0 396.1L678.0 393.5L679.0 392.0L680.0 390.0L681.0 387.1L682.0 383.0L683.0 378.0L684.0 372.7L684.3 371.1L684.6 369.5L684.9 367.8L685.1 366.2L685.4 364.6L685.7 363.0L686.0 361.4L686.2 359.8L686.5 358.1L686.8 356.5L687.0 354.9L687.3 353.3L687.5 351.7L687.8 350.1L688.0 348.4L688.2 346.8L688.5 345.2L688.7 343.6L688.9 342.0L689.1 340.4L689.3 338.7L689.5 337.1L689.7 335.5L689.9 333.9L690.2 332.3L690.4 330.7L690.6 329.0L690.8 327.4L691.0 325.8L691.2 324.2L691.4 322.6L691.5 321.0L691.7 319.4L691.9 317.7L692.1 316.1L692.3 314.5L692.4 312.9L692.6 311.3L692.7 309.7L692.9 308.0L693.1 306.4L693.2 304.8L693.4 303.2L693.6 301.6L693.7 300.0L693.9 298.3L694.0 296.7L694.2 295.1L694.4 293.5L694.6 291.9L694.7 290.3L694.9 288.6L695.1 287.0L695.3 285.4L695.5 283.8L695.8 282.2L696.0 280.6L696.3 278.9L696.6 277.3L696.9 275.7L697.3 274.1L697.6 272.5L698.0 270.9L698.3 269.2L698.6 267.6L698.9 266.0L699.2 264.4L699.4 262.8L699.7 261.2L699.9 259.5L700.1 257.9L700.3 256.3L700.6 254.7L700.8 253.1L701.0 251.5L701.2 249.8L701.4 248.2L701.5 246.6L701.7 245.0L701.9 243.4L702.1 241.8L702.3 240.1L702.4 238.5L702.6 236.9L702.8 235.3L702.9 233.7L703.1 232.1L703.3 230.4L703.4 228.8L703.6 227.2L703.7 225.6L703.9 224.0L704.0 222.4L704.2 220.7L704.3 219.1L704.5 217.5L704.6 215.9L704.8 214.3L704.9 212.7L705.1 211.0L705.2 209.4L705.3 207.8L705.5 206.2L705.6 204.6L705.8 203.0L705.9 201.3L706.0 199.7L706.1 198.1L706.3 196.5L706.4 194.9L706.5 193.3L706.6 191.6L706.7 190.0L706.7 188.4L706.8 186.8L706.9 185.2L707.0 183.6L707.1 181.9L707.2 180.3L707.3 178.7L707.4 177.1L707.5 175.5L707.6 173.9L707.8 172.2L707.9 170.6L708.1 169.0L708.3 167.4L708.6 165.8L708.8 164.2L709.0 162.5L709.3 160.9L709.5 159.3L709.8 157.7L710.1 156.1L710.4 154.5L710.7 152.8L711.1 151.2L711.6 149.6L712.8 148.0L713.9 149.6L714.3 151.1L714.7 152.7L715.0 154.3L715.2 155.9L715.4 157.4L715.7 159.0L715.9 160.6L716.1 162.2L716.2 163.7L716.4 165.3L716.6 166.9L716.7 168.5L716.9 170.0L717.0 171.6L717.1 173.2L717.1 174.8L717.2 176.3L717.3 177.9L717.3 179.5L717.4 181.1L717.4 182.6L717.4 184.2L717.5 185.8L717.5 187.4L717.6 188.9L717.6 190.5L717.7 192.1L717.7 193.7L717.8 195.2L717.8 196.8L717.9 198.4L718.0 200.0L718.1 201.5L718.2 203.1L718.3 204.7L718.4 206.3L718.5 207.8L718.7 209.4L718.8 211.0L718.9 212.6L719.0 214.1L719.2 215.7L719.3 217.3L719.5 218.9L719.6 220.4L719.8 222.0L719.9 223.6L720.1 225.2L720.3 226.7L720.5 228.3L720.7 229.9L720.9 231.5L721.1 233.0L721.3 234.6L721.5 236.2L721.7 237.8L722.0 239.3L722.2 240.9L722.4 242.5L722.7 244.1L722.9 245.6L723.1 247.2L723.3 248.8L723.5 250.4L723.8 251.9L724.0 253.5L724.2 255.1L724.3 256.7L724.5 258.2L724.7 259.8L724.9 261.4L725.0 263.0L725.2 264.5L725.3 266.1L725.5 267.7L725.6 269.3L725.8 270.8L725.9 272.4L726.0 274.0L726.2 275.6L726.3 277.1L726.4 278.7L726.5 280.3L726.7 281.9L726.8 283.4L726.9 285.0L727.0 286.6L727.2 288.2L727.3 289.7L727.4 291.3L727.5 292.9L727.7 294.5L727.8 296.0L727.9 297.6L728.1 299.2L728.2 300.8L728.3 302.3L728.5 303.9L728.6 305.5L728.8 307.1L728.9 308.6L729.1 310.2L729.2 311.8L729.4 313.4L729.6 314.9L729.8 316.5L730.0 318.1L730.2 319.7L730.5 321.2L730.7 322.8L731.0 324.4L731.2 326.0L731.5 327.5L731.7 329.1L732.0 330.7L732.3 332.3L732.5 333.8L732.8 335.4L733.0 337.0L733.2 338.6L733.4 340.1L733.7 341.7L733.9 343.3L734.1 344.9L734.3 346.4L734.5 348.0L734.7 349.6L734.9 351.2L735.1 352.7L735.4 354.3L735.7 355.9L736.2 357.5L736.7 359.0L737.3 360.6L737.9 362.2L738.5 363.8L739.2 365.3L740.0 366.9L741.0 368.6L742.0 370.1L743.0 371.7L744.0 373.2L745.0 374.5L746.0 375.3L747.0 376.2L748.0 377.0L749.0 378.5L750.0 380.0L751.0 381.4L752.0 383.5L753.0 386.2L754.0 388.8L755.0 391.4L756.0 390.2L757.0 389.0L758.0 387.8L759.0 387.6L760.0 388.4L761.0 389.3L762.0 390.1L763.0 391.3L764.0 392.5L765.0 393.8L766.0 395.0L767.0 396.1L768.0 397.2L769.0 398.3L770.0 398.2L771.0 398.0L772.0 397.7L773.0 397.7L774.0 397.8L775.0 397.7L776.0 397.4L777.0 398.4L778.0 399.4L779.0 400.4L780.0 401.1L781.0 401.4L782.0 401.8L783.0 402.1L784.0 401.8L785.0 401.4L786.0 400.9L787.0 400.6L788.0 400.1L789.0 399.2L790.0 398.0L791.0 396.8L792.0 395.3L793.0 393.7L794.0 392.1L795.0 390.6L796.0 389.1L797.0 387.3L798.0 384.8L799.0 381.8L800.0 378.5L801.0 374.2L802.0 369.1L803.0 363.8L804.0 358.5L805.0 355.1L806.0 351.8L807.0 347.5L808.0 342.8L809.0 338.4L810.0 334.8L811.0 332.9L812.0 331.0L813.0 329.3L814.0 327.7L815.0 326.2L816.0 324.8L817.0 323.7L818.0 322.9L819.0 324.0L820.0 325.2L821.0 326.4L822.0 327.6L823.0 328.6L824.0 329.6L825.0 330.9L826.0 333.4L827.0 336.5L828.0 339.9L829.0 342.0L830.0 342.5L831.0 342.3L832.0 341.0L833.0 342.3L834.0 343.0L835.0 343.2L836.0 341.9L837.0 339.1L838.0 336.2L839.0 332.4L840.0 329.3L841.0 325.7L842.0 321.9L843.0 318.0L844.0 314.4L845.0 311.3L846.0 308.5L847.0 304.0L848.0 299.3L849.0 294.7L850.0 290.8L851.0 287.6L852.0 284.7L853.0 282.1L854.0 280.5L855.0 279.3L856.0 278.7L857.0 278.9L858.0 280.7L859.0 284.4L860.0 289.4L861.0 293.5L862.0 297.7L863.0 301.6L864.0 305.9L865.0 310.9L866.0 316.2L867.0 321.6L868.0 328.1L869.0 334.3L870.0 340.2L871.0 346.2L872.0 352.2L873.0 358.1L874.0 363.8L875.0 369.2L876.0 374.4L877.0 379.5L878.0 383.8L879.0 387.1L880.0 390.2L881.0 392.9L882.0 396.5L883.0 399.3L884.0 401.6L885.0 403.8L886.0 405.8L887.0 407.7L888.0 409.3L889.0 410.8L890.0 411.9L891.0 412.9L892.0 413.2L893.0 413.1L894.0 412.8L895.0 412.4L896.0 413.0L897.0 413.6L898.0 414.3L899.0 415.3L900.0 417.5L901.0 421.2L902.0 425.9L903.0 430.5L904.0 435.1L905.0 439.0L906.0 441.9L907.0 444.3L908.0 446.6L909.0 448.7L910.0 450.0L911.0 451.1L912.0 452.2L913.0 453.8L914.0 455.8L915.0 457.8L916.0 459.9L917.0 461.5L918.0 463.1L919.0 464.7L920.0 467.0L921.0 469.9L922.0 472.6L923.0 475.2L924.0 476.5L925.0 477.6L926.0 478.5L927.0 478.6L928.0 478.1L929.0 477.5L930.0 476.9L931.0 478.0L932.0 479.2L933.0 480.3L934.0 480.3L935.0 479.2L936.0 478.2L937.0 477.4L938.0 478.1L939.0 478.7L940.0 479.4L941.0 479.7L942.0 479.4L943.0 479.0L944.0 478.4L945.0 479.3L946.0 479.7L947.0 479.6L948.0 478.6L949.0 476.6L950.0 474.6L951.0 472.9L952.0 472.4L953.0 472.3L954.0 473.0L955.0 474.2L956.0 475.9L957.0 477.9L958.0 480.0L959.0 481.3L960.0 482.3L961.0 482.9L962.0 482.9L963.0 482.3L964.0 481.6L965.0 481.0L966.0 481.8L967.0 482.6L968.0 483.4L969.0 483.8L970.0 483.8L971.0 483.7L972.0 484.1L973.0 485.9L974.0 488.8L975.0 492.5L976.0 496.8L977.0 501.4L978.0 505.8L979.0 509.7L980.0 511.6L981.0 512.5L982.0 513.2L983.0 514.2L984.0 515.3L985.0 516.3L986.0 517.1L987.0 519.5L988.0 521.7L989.0 523.8L990.0 524.9L991.0 525.0L992.0 525.0L993.0 525.1L994.0 524.7L995.0 524.3L996.0 523.9L997.0 523.5L998.0 523.2L999.0 522.9L1000.0 522.4L1001.0 522.9" stroke="#e8040e"/>
</g>
<line x1="325.2" y1="126.4" x2="342.8" y2="148.5" stroke="#111" stroke-width="2.3"/>
<line x1="424.2" y1="218.6" x2="446.3" y2="204.5" stroke="#111" stroke-width="2.3"/>
<line x1="584.5" y1="299.9" x2="575.9" y2="331.3" stroke="#111" stroke-width="2.3"/>
<line x1="807.8" y1="280.6" x2="815.4" y2="316.6" stroke="#111" stroke-width="2.3"/>
<line x1="294.5" y1="484.5" x2="283.2" y2="585.0" stroke="#111" stroke-width="2.3"/>
<line x1="406.2" y1="580.9" x2="405.6" y2="609.2" stroke="#111" stroke-width="2.3"/>
<line x1="713.5" y1="380.0" x2="721.4" y2="603.6" stroke="#111" stroke-width="2.3"/>
<line x1="854.5" y1="489.0" x2="854.5" y2="577.7" stroke="#111" stroke-width="2.3"/>
<rect x="104.00" y="35.60" width="897.00" height="626.20" fill="none" stroke="#1e1e1e" stroke-width="3.00"/>
<line x1="104.00" y1="35.60" x2="104.00" y2="45.60" stroke="#1e1e1e" stroke-width="3.00"/>
<line x1="104.00" y1="661.80" x2="104.00" y2="671.80" stroke="#1e1e1e" stroke-width="3.00"/>
<line x1="178.75" y1="35.60" x2="178.75" y2="40.60" stroke="#1e1e1e" stroke-width="3.00"/>
<line x1="178.75" y1="661.80" x2="178.75" y2="666.80" stroke="#1e1e1e" stroke-width="3.00"/>
<line x1="253.50" y1="35.60" x2="253.50" y2="45.60" stroke="#1e1e1e" stroke-width="3.00"/>
<line x1="253.50" y1="661.80" x2="253.50" y2="671.80" stroke="#1e1e1e" stroke-width="3.00"/>
<line x1="328.25" y1="35.60" x2="328.25" y2="40.60" stroke="#1e1e1e" stroke-width="3.00"/>
<line x1="328.25" y1="661.80" x2="328.25" y2="666.80" stroke="#1e1e1e" stroke-width="3.00"/>
<line x1="403.00" y1="35.60" x2="403.00" y2="45.60" stroke="#1e1e1e" stroke-width="3.00"/>
<line x1="403.00" y1="661.80" x2="403.00" y2="671.80" stroke="#1e1e1e" stroke-width="3.00"/>
<line x1="477.75" y1="35.60" x2="477.75" y2="40.60" stroke="#1e1e1e" stroke-width="3.00"/>
<line x1="477.75" y1="661.80" x2="477.75" y2="666.80" stroke="#1e1e1e" stroke-width="3.00"/>
<line x1="552.50" y1="35.60" x2="552.50" y2="45.60" stroke="#1e1e1e" stroke-width="3.00"/>
<line x1="552.50" y1="661.80" x2="552.50" y2="671.80" stroke="#1e1e1e" stroke-width="3.00"/>
<line x1="627.25" y1="35.60" x2="627.25" y2="40.60" stroke="#1e1e1e" stroke-width="3.00"/>
<line x1="627.25" y1="661.80" x2="627.25" y2="666.80" stroke="#1e1e1e" stroke-width="3.00"/>
<line x1="702.00" y1="35.60" x2="702.00" y2="45.60" stroke="#1e1e1e" stroke-width="3.00"/>
<line x1="702.00" y1="661.80" x2="702.00" y2="671.80" stroke="#1e1e1e" stroke-width="3.00"/>
<line x1="776.75" y1="35.60" x2="776.75" y2="40.60" stroke="#1e1e1e" stroke-width="3.00"/>
<line x1="776.75" y1="661.80" x2="776.75" y2="666.80" stroke="#1e1e1e" stroke-width="3.00"/>
<line x1="851.50" y1="35.60" x2="851.50" y2="45.60" stroke="#1e1e1e" stroke-width="3.00"/>
<line x1="851.50" y1="661.80" x2="851.50" y2="671.80" stroke="#1e1e1e" stroke-width="3.00"/>
<line x1="926.25" y1="35.60" x2="926.25" y2="40.60" stroke="#1e1e1e" stroke-width="3.00"/>
<line x1="926.25" y1="661.80" x2="926.25" y2="666.80" stroke="#1e1e1e" stroke-width="3.00"/>
<line x1="1001.00" y1="35.60" x2="1001.00" y2="45.60" stroke="#1e1e1e" stroke-width="3.00"/>
<line x1="1001.00" y1="661.80" x2="1001.00" y2="671.80" stroke="#1e1e1e" stroke-width="3.00"/>
<text x="71.83" y="703.01" font-size="28.60" font-weight="bold" fill="#000">1800</text>
<text x="221.32" y="703.01" font-size="28.60" font-weight="bold" fill="#000">1700</text>
<text x="370.82" y="703.01" font-size="28.60" font-weight="bold" fill="#000">1600</text>
<text x="520.33" y="703.01" font-size="28.60" font-weight="bold" fill="#000">1500</text>
<text x="669.83" y="703.01" font-size="28.60" font-weight="bold" fill="#000">1400</text>
<text x="819.33" y="703.01" font-size="28.60" font-weight="bold" fill="#000">1300</text>
<text x="968.83" y="703.01" font-size="28.60" font-weight="bold" fill="#000">1200</text>
<text x="407.80" y="762.50" font-size="35.00" fill="#111">Raman shift (cm<tspan font-size="22.75" dy="-16.10" dx="1">-</tspan><tspan font-size="22.75" dx="2.10">1</tspan><tspan dy="16.10" dx="0.90">)</tspan></text>
<text transform="translate(61.20 505.80) rotate(-90)" font-size="35.00" fill="#111">Normalized intensity</text>
<text x="248.65" y="124.66" font-size="34.40" fill="#111">1640</text>
<text x="453.45" y="214.26" font-size="34.40" fill="#111">1585</text>
<text x="566.95" y="292.46" font-size="34.40" fill="#111">1485</text>
<text x="756.75" y="275.76" font-size="34.40" fill="#111">1325</text>
<text x="229.25" y="620.46" font-size="34.40" fill="#111">1670</text>
<text x="359.95" y="645.06" font-size="34.40" fill="#111">1600</text>
<text x="682.85" y="640.26" font-size="34.40" fill="#111">1390</text>
<text x="815.65" y="610.56" font-size="34.40" fill="#111">1300</text>
<text x="461.36" y="327.68" font-size="42.00" fill="#111">*</text>
<text x="928.88" y="458.60" font-size="34.30" font-weight="bold" fill="#d8141c">(12)</text>
<text x="938.49" y="649.20" font-size="34.30" font-weight="bold" fill="#000">(1)</text>
<text x="127.80" y="96.23" font-size="43.20" font-weight="bold" fill="#000">a)</text>
<g clip-path="url(#cb)" fill="none" stroke-width="3.60" stroke-linejoin="round" stroke-linecap="round">
<path d="M95.8 1430.7L96.8 1430.7L97.8 1430.6L98.8 1430.6L99.8 1430.6L100.8 1430.6L101.8 1430.5L102.8 1430.5L103.8 1430.3L104.8 1430.2L105.8 1430.1L106.8 1430.0L107.8 1430.1L108.8 1430.1L109.8 1430.2L110.8 1430.0L111.8 1429.9L112.8 1429.7L113.8 1429.6L114.8 1429.7L115.8 1429.7L116.8 1429.8L117.8 1429.7L118.8 1429.6L119.8 1429.5L120.8 1429.4L121.8 1429.3L122.8 1429.3L123.8 1429.2L124.8 1429.1L125.8 1429.0L126.8 1428.8L127.8 1428.7L128.8 1428.5L129.8 1428.3L130.8 1428.1L131.8 1427.8L132.8 1427.6L133.8 1427.3L134.8 1427.1L135.8 1426.8L136.8 1426.6L137.8 1426.3L138.8 1426.1L139.8 1425.9L140.8 1425.7L141.8 1425.5L142.8 1425.1L143.8 1424.7L144.8 1424.3L145.8 1424.1L146.8 1423.8L147.8 1423.5L148.8 1423.2L149.8 1422.9L150.8 1422.6L151.8 1422.2L152.8 1421.9L153.8 1421.5L154.8 1421.2L155.8 1420.8L156.8 1420.5L157.8 1420.1L158.8 1419.7L159.8 1419.4L160.8 1419.0L161.8 1418.7L162.8 1418.3L163.8 1417.9L164.8 1417.5L165.8 1417.0L166.8 1416.6L167.8 1416.2L168.8 1415.7L169.8 1415.3L170.8 1414.8L171.8 1414.4L172.8 1414.0L173.8 1413.6L174.8 1413.3L175.8 1412.9L176.8 1412.5L177.8 1412.2L178.8 1411.8L179.8 1411.5L180.8 1411.3L181.8 1411.1L182.8 1410.9L183.8 1410.7L184.8 1410.5L185.8 1410.3L186.8 1410.0L187.8 1409.6L188.8 1409.1L189.8 1408.5L190.8 1408.0L191.8 1407.5L192.8 1406.9L193.8 1406.3L194.8 1405.8L195.8 1405.2L196.8 1404.6L197.8 1403.8L198.8 1402.9L199.8 1402.0L200.8 1401.0L201.8 1400.2L202.8 1399.2L203.8 1398.3L204.8 1397.3L205.8 1396.4L206.8 1395.4L207.8 1394.4L208.8 1393.5L209.8 1392.5L210.8 1391.5L211.8 1390.4L212.8 1389.3L213.8 1388.2L214.8 1387.0L215.8 1385.6L216.8 1384.2L217.8 1382.8L218.8 1381.5L219.8 1380.3L220.8 1379.1L221.8 1377.8L222.8 1376.5L223.8 1375.2L224.8 1373.9L225.8 1372.6L226.8 1371.3L227.8 1370.0L228.8 1368.8L229.8 1367.5L230.8 1366.1L231.8 1364.8L232.8 1363.5L233.8 1362.3L234.8 1361.1L235.8 1359.8L236.8 1358.3L237.8 1356.7L238.8 1355.0L239.8 1353.3L240.8 1351.6L241.8 1349.9L242.8 1348.0L243.8 1346.1L244.8 1344.2L245.8 1342.2L246.8 1340.3L247.8 1338.4L248.8 1336.6L249.8 1334.8L250.8 1333.0L251.8 1331.2L252.8 1329.5L253.8 1327.7L254.8 1325.9L255.8 1324.2L256.8 1322.4L257.8 1320.8L258.8 1319.2L259.8 1317.5L260.8 1315.9L261.8 1314.2L262.8 1312.6L263.8 1310.9L264.8 1309.0L265.8 1307.0L266.8 1305.0L267.8 1303.0L268.8 1301.1L269.8 1299.0L270.8 1296.7L271.8 1294.4L272.8 1291.9L273.8 1289.4L274.8 1286.8L275.8 1284.1L276.8 1281.5L277.8 1279.0L278.8 1276.6L279.8 1274.4L280.8 1272.4L281.8 1270.4L282.8 1268.1L283.8 1265.9L284.8 1263.8L285.8 1262.0L286.8 1260.5L287.8 1259.5L288.8 1259.0L289.8 1259.1L290.8 1259.7L291.8 1260.6L292.8 1261.9L293.8 1263.5L294.8 1265.4L295.8 1267.3L296.8 1269.3L297.8 1271.4L298.8 1274.3L299.8 1278.1L300.8 1282.5L301.8 1287.3L302.8 1292.5L303.8 1297.7L304.8 1303.0L305.8 1308.1L306.8 1312.9L307.8 1317.8L308.8 1322.9L309.8 1328.2L310.8 1333.5L311.8 1338.7L312.8 1343.8L313.8 1348.4L314.8 1352.6L315.8 1356.1L316.8 1359.1L317.8 1362.0L318.8 1364.7L319.8 1367.3L320.8 1369.6L321.8 1371.8L322.8 1373.9L323.8 1375.8L324.8 1377.5L325.8 1379.1L326.8 1380.5L327.8 1381.5L328.8 1382.3L329.8 1383.1L330.8 1383.9L331.8 1384.7L332.8 1385.5L333.8 1386.3L334.8 1387.0L335.8 1387.6L336.8 1388.2L337.8 1388.7L338.8 1389.1L339.8 1389.5L340.8 1389.7L341.8 1390.1L342.8 1390.5L343.8 1390.7L344.8 1390.8L345.8 1390.9L346.8 1390.9L347.8 1390.9L348.8 1390.7L349.8 1390.5L350.8 1390.2L351.8 1390.0L352.8 1389.6L353.8 1389.3L354.8 1389.0L355.8 1388.8L356.8 1388.6L357.8 1388.4L358.8 1388.1L359.8 1387.7L360.8 1387.3L361.8 1386.9L362.8 1386.5L363.8 1386.2L364.8 1385.7L365.8 1385.2L366.8 1384.6L367.8 1384.0L368.8 1383.3L369.8 1382.6L370.8 1381.8L371.8 1381.0L372.8 1380.1L373.8 1379.3L374.8 1378.4L375.8 1377.6L376.8 1376.6L377.8 1375.6L378.8 1374.7L379.8 1373.9L380.8 1373.1L381.8 1372.5L382.8 1371.8L383.8 1371.1L384.8 1370.3L385.8 1369.5L386.8 1368.7L387.8 1368.0L388.8 1367.2L389.8 1366.5L390.8 1365.5L391.8 1364.7L392.8 1363.8L393.8 1363.1L394.8 1362.6L395.8 1362.1L396.8 1361.7L397.8 1361.2L398.8 1360.8L399.8 1360.5L400.8 1360.3L401.8 1360.4L402.8 1360.5L403.8 1360.6L404.8 1360.7L405.8 1360.8L406.8 1361.0L407.8 1361.3L408.8 1361.7L409.8 1362.2L410.8 1362.7L411.8 1363.1L412.8 1363.6L413.8 1364.1L414.8 1364.5L415.8 1365.0L416.8 1365.5L417.8 1366.3L418.8 1367.3L419.8 1368.4L420.8 1369.6L421.8 1370.9L422.8 1372.2L423.8 1373.6L424.8 1374.9L425.8 1376.3L426.8 1377.6L427.8 1378.9L428.8 1380.1L429.8 1381.3L430.8 1382.4L431.8 1383.4L432.8 1384.5L433.8 1385.6L434.8 1386.6L435.8 1387.7L436.8 1388.9L437.8 1390.0L438.8 1391.1L439.8 1392.2L440.8 1393.3L441.8 1394.3L442.8 1395.3L443.8 1396.3L444.8 1397.2L445.8 1398.1L446.8 1399.0L447.8 1399.8L448.8 1400.7L449.8 1401.5L450.8 1402.4L451.8 1403.3L452.8 1404.2L453.8 1404.8L454.8 1405.5L455.8 1406.2L456.8 1406.9L457.8 1407.7L458.8 1408.4L459.8 1409.1L460.8 1409.8L461.8 1410.4L462.8 1411.1L463.8 1411.7L464.8 1412.3L465.8 1412.9L466.8 1413.4L467.8 1414.0L468.8 1414.6L469.8 1415.1L470.8 1415.6L471.8 1415.9L472.8 1416.3L473.8 1416.6L474.8 1416.9L475.8 1417.2L476.8 1417.5L477.8 1417.8L478.8 1418.0L479.8 1418.2L480.8 1418.4L481.8 1418.6L482.8 1418.8L483.8 1419.0L484.8 1419.3L485.8 1419.5L486.8 1419.8L487.8 1420.0L488.8 1420.3L489.8 1420.6L490.8 1420.8L491.8 1421.0L492.8 1421.1L493.8 1421.2L494.8 1421.2L495.8 1421.4L496.8 1421.6L497.8 1421.8L498.8 1421.9L499.8 1422.0L500.8 1422.0L501.8 1422.0L502.8 1422.1L503.8 1422.2L504.8 1422.3L505.8 1422.4L506.8 1422.4L507.8 1422.5L508.8 1422.5L509.8 1422.6L510.8 1422.7L511.8 1422.8L512.8 1422.9L513.8 1423.1L514.8 1423.2L515.8 1423.4L516.8 1423.4L517.8 1423.4L518.8 1423.5L519.8 1423.5L520.8 1423.5L521.8 1423.4L522.8 1423.4L523.8 1423.5L524.8 1423.5L525.8 1423.6L526.8 1423.7L527.8 1423.8L528.8 1423.9L529.8 1424.0L530.8 1424.0L531.8 1424.0L532.8 1423.9L533.8 1423.9L534.8 1424.0L535.8 1424.1L536.8 1424.2L537.8 1424.2L538.8 1424.1L539.8 1424.1L540.8 1424.1L541.8 1424.2L542.8 1424.3L543.8 1424.4L544.8 1424.5L545.8 1424.6L546.8 1424.6L547.8 1424.7L548.8 1424.7L549.8 1424.7L550.8 1424.7L551.8 1424.7L552.8 1424.7L553.8 1424.7L554.8 1424.7L555.8 1424.7L556.8 1424.7L557.8 1424.8L558.8 1424.8L559.8 1424.8L560.8 1424.8L561.8 1424.8L562.8 1424.8L563.8 1424.9L564.8 1424.9L565.8 1425.0L566.8 1425.0L567.8 1425.1L568.8 1425.1L569.8 1425.1L570.8 1425.1L571.8 1425.2L572.8 1425.1L573.8 1425.1L574.8 1425.1L575.8 1425.0L576.8 1425.0L577.8 1424.9L578.8 1424.8L579.8 1424.8L580.8 1424.8L581.8 1424.8L582.8 1424.8L583.8 1424.8L584.8 1424.7L585.8 1424.7L586.8 1424.6L587.8 1424.5L588.8 1424.4L589.8 1424.3L590.8 1424.2L591.8 1424.0L592.8 1423.8L593.8 1423.8L594.8 1423.8L595.8 1423.8L596.8 1423.7L597.8 1423.7L598.8 1423.7L599.8 1423.6L600.8 1423.3L601.8 1423.0L602.8 1422.8L603.8 1422.6L604.8 1422.5L605.8 1422.4L606.8 1422.4L607.8 1422.3L608.8 1422.3L609.8 1422.2L610.8 1422.1L611.8 1421.9L612.8 1421.7L613.8 1421.5L614.8 1421.4L615.8 1421.3L616.8 1421.2L617.8 1421.1L618.8 1421.0L619.8 1421.0L620.8 1420.9L621.8 1420.9L622.8 1420.8L623.8 1420.8L624.8 1420.7L625.8 1420.6L626.8 1420.5L627.8 1420.4L628.8 1420.4L629.8 1420.4L630.8 1420.4L631.8 1420.3L632.8 1420.2L633.8 1420.0L634.8 1419.8L635.8 1419.8L636.8 1419.8L637.8 1419.9L638.8 1419.8L639.8 1419.7L640.8 1419.6L641.8 1419.4L642.8 1419.3L643.8 1419.1L644.8 1418.9L645.8 1418.7L646.8 1418.6L647.8 1418.4L648.8 1418.2L649.8 1417.9L650.8 1417.7L651.8 1417.4L652.8 1417.2L653.8 1417.0L654.8 1416.8L655.8 1416.5L656.8 1416.2L657.8 1415.8L658.8 1415.4L659.8 1415.1L660.8 1414.8L661.8 1414.5L662.8 1414.2L663.8 1413.8L664.8 1413.3L665.8 1412.9L666.8 1412.4L667.8 1412.0L668.8 1411.5L669.8 1411.0L670.8 1410.5L671.8 1410.0L672.8 1409.5L673.8 1408.9L674.8 1408.3L675.8 1407.6L676.8 1406.9L677.8 1406.1L678.8 1405.3L679.8 1404.2L682.0 1400.4L683.4 1396.7L684.6 1393.1L685.8 1389.5L686.8 1385.9L687.7 1382.2L688.5 1378.6L689.3 1375.0L690.1 1371.4L690.9 1367.7L691.6 1364.1L692.3 1360.5L693.0 1356.9L693.8 1353.2L694.5 1349.6L695.2 1346.0L696.0 1342.4L696.7 1338.7L697.4 1335.1L698.1 1331.5L698.7 1327.9L699.3 1324.2L699.8 1320.6L700.3 1317.0L700.8 1313.4L701.3 1309.7L701.8 1306.1L702.2 1302.5L702.6 1298.9L703.0 1295.2L703.4 1291.6L703.8 1288.0L704.1 1284.4L704.5 1280.7L704.8 1277.1L705.1 1273.5L705.4 1269.9L705.6 1266.2L705.9 1262.6L706.2 1259.0L706.4 1255.4L706.6 1251.7L706.9 1248.1L707.1 1244.5L707.3 1240.9L707.5 1237.2L707.7 1233.6L707.9 1230.0L708.1 1226.4L708.3 1222.7L708.5 1219.1L708.7 1215.5L708.9 1211.9L709.1 1208.2L709.3 1204.6L709.4 1201.0L709.6 1197.4L709.8 1193.7L709.9 1190.1L710.1 1186.5L710.2 1182.9L710.4 1179.2L710.5 1175.6L710.7 1172.0L710.8 1168.4L710.9 1164.7L711.1 1161.1L711.2 1157.5L711.3 1153.9L711.4 1150.2L711.5 1146.6L711.7 1143.0L711.8 1139.4L711.9 1135.7L712.0 1132.1L712.1 1128.5L712.2 1124.9L712.3 1121.2L712.3 1117.6L712.4 1114.0L712.5 1110.4L712.6 1106.7L712.7 1103.1L712.8 1099.5L712.9 1095.9L712.9 1092.2L713.0 1088.6L713.1 1085.0L713.2 1081.4L713.2 1077.7L713.3 1074.1L713.4 1070.5L713.5 1066.9L713.5 1063.2L713.6 1059.6L713.7 1056.0L713.8 1052.4L713.8 1048.7L713.9 1045.1L714.0 1041.5L714.0 1037.9L714.1 1034.2L714.1 1030.6L714.2 1027.0L714.2 1023.4L714.3 1019.7L714.4 1016.1L714.4 1012.5L714.5 1008.9L714.5 1005.2L714.5 1001.6L714.6 998.0L714.6 994.4L714.7 990.7L714.7 987.1L714.8 983.5L714.8 979.9L714.8 976.2L714.9 972.6L714.9 969.0L714.9 965.4L715.0 961.7L715.0 958.1L715.0 954.5L715.1 950.9L715.1 947.2L715.1 943.6L715.1 940.0L715.2 936.4L715.2 932.7L715.2 929.1L715.2 925.5L715.3 921.9L715.3 918.2L715.3 914.6L715.3 911.0L715.4 907.4L715.4 903.7L715.5 900.1L715.6 903.4L715.7 906.6L715.7 909.9L715.7 913.2L715.8 916.5L715.8 919.7L715.8 923.0L715.9 926.3L715.9 929.6L715.9 932.8L716.0 936.1L716.0 939.4L716.0 942.6L716.0 945.9L716.1 949.2L716.1 952.5L716.1 955.7L716.2 959.0L716.2 962.3L716.3 965.6L716.3 968.8L716.4 972.1L716.4 975.4L716.5 978.6L716.6 981.9L716.6 985.2L716.7 988.5L716.7 991.7L716.8 995.0L716.9 998.3L716.9 1001.6L717.0 1004.8L717.0 1008.1L717.1 1011.4L717.2 1014.6L717.3 1017.9L717.3 1021.2L717.4 1024.5L717.5 1027.7L717.5 1031.0L717.6 1034.3L717.7 1037.6L717.8 1040.8L717.8 1044.1L717.9 1047.4L718.0 1050.6L718.1 1053.9L718.2 1057.2L718.3 1060.5L718.3 1063.7L718.4 1067.0L718.5 1070.3L718.6 1073.6L718.7 1076.8L718.8 1080.1L718.9 1083.4L719.0 1086.6L719.1 1089.9L719.2 1093.2L719.3 1096.5L719.4 1099.7L719.5 1103.0L719.6 1106.3L719.7 1109.6L719.9 1112.8L720.0 1116.1L720.1 1119.4L720.2 1122.6L720.3 1125.9L720.5 1129.2L720.6 1132.5L720.7 1135.7L720.8 1139.0L721.0 1142.3L721.1 1145.5L721.2 1148.8L721.4 1152.1L721.5 1155.4L721.7 1158.6L721.8 1161.9L721.9 1165.2L722.1 1168.5L722.2 1171.7L722.4 1175.0L722.5 1178.3L722.7 1181.5L722.8 1184.8L723.0 1188.1L723.1 1191.4L723.3 1194.6L723.5 1197.9L723.6 1201.2L723.8 1204.5L724.0 1207.7L724.2 1211.0L724.4 1214.3L724.6 1217.5L724.8 1220.8L725.1 1224.1L725.3 1227.4L725.6 1230.6L725.8 1233.9L726.1 1237.2L726.3 1240.5L726.6 1243.7L726.9 1247.0L727.2 1250.3L727.5 1253.5L727.8 1256.8L728.1 1260.1L728.4 1263.4L728.7 1266.6L729.1 1269.9L729.4 1273.2L729.7 1276.5L730.1 1279.7L730.4 1283.0L730.8 1286.3L731.1 1289.5L731.5 1292.8L731.8 1296.1L732.2 1299.4L732.5 1302.6L732.9 1305.9L733.3 1309.2L733.7 1312.5L734.1 1315.7L734.5 1319.0L735.0 1322.3L735.4 1325.5L736.0 1328.8L736.5 1332.1L737.1 1335.4L737.8 1338.6L738.5 1341.9L739.2 1345.2L740.1 1348.5L741.0 1351.7L742.0 1355.0L742.8 1357.4L743.8 1360.1L744.8 1362.6L745.8 1364.8L746.8 1366.9L747.8 1368.7L748.8 1370.4L749.8 1371.9L750.8 1373.4L751.8 1375.0L752.8 1376.5L753.8 1378.1L754.8 1379.3L755.8 1380.6L756.8 1381.7L757.8 1383.0L758.8 1384.3L759.8 1385.4L760.8 1386.5L761.8 1387.5L762.8 1388.3L763.8 1388.9L764.8 1389.5L765.8 1390.0L766.8 1390.4L767.8 1390.8L768.8 1391.2L769.8 1391.5L770.8 1391.7L771.8 1391.7L772.8 1391.6L773.8 1391.5L774.8 1391.4L775.8 1391.2L776.8 1391.1L777.8 1390.9L778.8 1390.7L779.8 1390.6L780.8 1390.4L781.8 1390.2L782.8 1390.1L783.8 1390.0L784.8 1389.8L785.8 1389.5L786.8 1389.1L787.8 1388.7L788.8 1388.2L789.8 1387.8L790.8 1387.3L791.8 1386.7L792.8 1386.0L793.8 1385.3L794.8 1384.4L795.8 1383.5L796.8 1382.7L797.8 1381.8L798.8 1380.9L799.8 1379.9L800.8 1378.9L801.8 1377.9L802.8 1376.9L803.8 1376.0L804.8 1375.0L805.8 1373.9L806.8 1372.7L807.8 1371.4L808.8 1370.1L809.8 1368.7L810.8 1367.5L811.8 1366.2L812.8 1364.8L813.8 1363.4L814.8 1361.8L815.8 1360.2L816.8 1358.6L817.8 1356.9L818.8 1355.2L819.8 1353.5L820.8 1351.6L821.8 1349.8L822.8 1347.8L823.8 1345.8L824.8 1343.7L825.8 1341.5L826.8 1339.3L827.8 1337.1L828.8 1335.0L829.8 1332.8L830.8 1330.5L831.8 1328.3L832.8 1326.1L833.8 1323.9L834.8 1321.6L835.8 1319.2L836.8 1316.7L837.8 1314.1L838.8 1311.4L839.8 1308.8L840.8 1306.1L841.8 1303.4L842.8 1300.8L843.8 1298.3L844.8 1295.9L845.8 1293.5L846.8 1291.2L847.8 1289.1L848.8 1287.2L849.8 1285.3L850.8 1283.4L851.8 1281.4L852.8 1279.4L853.8 1277.6L854.8 1276.0L855.8 1274.7L856.8 1273.7L857.8 1273.2L858.8 1273.2L859.8 1273.5L860.8 1274.2L861.8 1275.1L862.8 1276.3L863.8 1277.6L864.8 1279.1L865.8 1280.7L866.8 1282.5L867.8 1284.4L868.8 1286.3L869.8 1288.2L870.8 1290.1L871.8 1292.0L872.8 1293.9L873.8 1296.1L874.8 1298.5L875.8 1301.1L876.8 1303.8L877.8 1306.6L878.8 1309.5L879.8 1312.4L880.8 1315.1L881.8 1317.8L882.8 1320.3L883.8 1322.8L884.8 1325.3L885.8 1327.7L886.8 1330.2L887.8 1332.6L888.8 1335.0L889.8 1337.3L890.8 1339.7L891.8 1342.1L892.8 1344.5L893.8 1346.9L894.8 1349.1L895.8 1351.4L896.8 1353.7L897.8 1356.0L898.8 1358.4L899.8 1360.7L900.8 1363.0L901.8 1365.1L902.8 1367.1L903.8 1368.9L904.8 1370.6L905.8 1372.3L906.8 1373.9L907.8 1375.4L908.8 1376.9L909.8 1378.3L910.8 1379.7L911.8 1380.9L912.8 1382.1L913.8 1383.2L914.8 1384.2L915.8 1385.2L916.8 1386.2L917.8 1387.1L918.8 1387.9L919.8 1388.8L920.8 1389.6L921.8 1390.3L922.8 1391.1L923.8 1391.8L924.8 1392.4L925.8 1393.1L926.8 1393.6L927.8 1394.2L928.8 1394.8L929.8 1395.4L930.8 1395.9L931.8 1396.5L932.8 1397.0L933.8 1397.5L934.8 1398.0L935.8 1398.5L936.8 1399.0L937.8 1399.4L938.8 1399.9L939.8 1400.4L940.8 1400.9L941.8 1401.4L942.8 1401.9L943.8 1402.3L944.8 1402.7L945.8 1403.1L946.8 1403.5L947.8 1404.0L948.8 1404.5L949.8 1405.0L950.8 1405.5L951.8 1405.9L952.8 1406.4L953.8 1406.9L954.8 1407.3L955.8 1407.7L956.8 1408.1L957.8 1408.5L958.8 1408.8L959.8 1409.1L960.8 1409.5L961.8 1409.9L962.8 1410.3L963.8 1410.8L964.8 1411.1L965.8 1411.4L966.8 1411.7L967.8 1412.1L968.8 1412.5L969.8 1413.0L970.8 1413.4L971.8 1413.7L972.8 1414.0L973.8 1414.3L974.8 1414.6L975.8 1414.9L976.8 1415.1L977.8 1415.4L978.8 1415.7L979.8 1415.9L980.8 1416.1L981.8 1416.4L982.8 1416.7L983.8 1417.0L984.8 1417.2L985.8 1417.6L986.8 1417.9L987.8 1418.2L988.8 1418.4L989.8 1418.7L990.8 1418.9L991.8 1419.1L992.8 1419.4L993.8 1419.6L994.8 1419.9L995.8 1420.1L996.8 1420.4L997.8 1420.7L998.8 1421.0L999.8 1421.1L1000.8 1421.3L1001.8 1421.4L1002.8 1421.6L1003.8 1421.8L1004.8 1422.0L1005.8 1422.2L1006.8 1422.4L1007.8 1422.7L1008.8 1422.9" stroke="#000000"/>
<path d="M95.8 1425.6L96.8 1425.7L97.8 1425.8L98.8 1425.8L99.8 1425.8L100.8 1425.7L101.8 1425.6L102.8 1425.5L103.8 1425.5L104.8 1425.5L105.8 1425.5L106.8 1425.4L107.8 1425.1L108.8 1424.9L109.8 1424.6L110.8 1424.9L111.8 1425.2L112.8 1425.5L113.8 1425.5L114.8 1425.3L115.8 1425.1L116.8 1424.9L117.8 1424.7L118.8 1424.5L119.8 1424.2L120.8 1424.1L121.8 1424.2L122.8 1424.2L123.8 1424.2L124.8 1424.2L125.8 1424.2L126.8 1424.2L127.8 1424.1L128.8 1423.9L129.8 1423.7L130.8 1423.5L131.8 1423.2L132.8 1422.9L133.8 1422.6L134.8 1422.4L135.8 1422.2L136.8 1422.1L137.8 1421.9L138.8 1421.6L139.8 1421.2L140.8 1420.9L141.8 1420.4L142.8 1419.9L143.8 1419.4L144.8 1418.9L145.8 1418.6L146.8 1418.3L147.8 1418.0L148.8 1417.8L149.8 1417.6L150.8 1417.4L151.8 1417.2L152.8 1417.0L153.8 1416.8L154.8 1416.7L155.8 1416.4L156.8 1416.0L157.8 1415.6L158.8 1415.2L159.8 1414.6L160.8 1414.1L161.8 1413.6L162.8 1413.2L163.8 1413.0L164.8 1412.7L165.8 1412.4L166.8 1412.0L167.8 1411.5L168.8 1411.0L169.8 1410.5L170.8 1409.9L171.8 1409.3L172.8 1408.8L173.8 1408.2L174.8 1407.7L175.8 1407.2L176.8 1406.8L177.8 1406.5L178.8 1406.2L179.8 1405.9L180.8 1405.8L181.8 1405.6L182.8 1405.4L183.8 1405.3L184.8 1405.1L185.8 1405.0L186.8 1404.8L187.8 1404.3L188.8 1403.8L189.8 1403.3L190.8 1402.6L191.8 1401.8L192.8 1400.9L193.8 1400.0L194.8 1399.3L195.8 1398.6L196.8 1397.9L197.8 1397.2L198.8 1396.7L199.8 1396.1L200.8 1395.4L201.8 1394.4L202.8 1393.3L203.8 1392.2L204.8 1391.0L205.8 1389.7L206.8 1388.5L207.8 1387.1L208.8 1386.1L209.8 1385.1L210.8 1384.0L211.8 1382.9L212.8 1381.8L213.8 1380.5L214.8 1379.3L215.8 1377.9L216.8 1376.5L217.8 1375.0L218.8 1373.6L219.8 1372.1L220.8 1370.6L221.8 1369.1L222.8 1367.8L223.8 1366.5L224.8 1365.2L225.8 1363.8L226.8 1362.3L227.8 1360.7L228.8 1359.2L229.8 1357.8L230.8 1356.4L231.8 1355.0L232.8 1353.5L233.8 1352.1L234.8 1350.6L235.8 1349.0L236.8 1347.8L237.8 1346.5L238.8 1345.2L239.8 1343.7L240.8 1341.9L241.8 1340.0L242.8 1338.1L243.8 1336.0L244.8 1333.7L245.8 1331.5L246.8 1329.4L247.8 1327.5L248.8 1325.6L249.8 1323.7L250.8 1321.9L251.8 1320.0L252.8 1318.2L253.8 1316.4L254.8 1314.7L255.8 1313.0L256.8 1311.3L257.8 1309.6L258.8 1307.9L259.8 1306.2L260.8 1304.4L261.8 1302.6L262.8 1300.7L263.8 1298.8L264.8 1296.9L265.8 1294.9L266.8 1292.8L267.8 1290.7L268.8 1288.6L269.8 1286.4L270.8 1284.0L271.8 1281.5L272.8 1278.9L273.8 1276.3L274.8 1273.5L275.8 1270.7L276.8 1267.9L277.8 1265.2L278.8 1263.0L279.8 1260.9L280.8 1259.0L281.8 1256.9L282.8 1254.5L283.8 1252.0L284.8 1249.7L285.8 1247.8L286.8 1246.3L287.8 1245.2L288.8 1244.7L289.8 1244.8L290.8 1245.4L291.8 1246.4L292.8 1247.6L293.8 1249.1L294.8 1250.8L295.8 1252.7L296.8 1254.8L297.8 1257.0L298.8 1260.0L299.8 1263.8L300.8 1268.1L301.8 1272.8L302.8 1277.8L303.8 1282.8L304.8 1287.9L305.8 1292.8L306.8 1297.3L307.8 1301.8L308.8 1306.6L309.8 1311.6L310.8 1316.6L311.8 1321.5L312.8 1326.1L313.8 1330.5L314.8 1334.4L315.8 1337.7L316.8 1340.3L317.8 1342.7L318.8 1344.9L319.8 1347.1L320.8 1349.2L321.8 1351.1L322.8 1352.8L323.8 1354.4L324.8 1355.8L325.8 1357.0L326.8 1358.0L327.8 1359.0L328.8 1359.8L329.8 1360.6L330.8 1361.3L331.8 1361.8L332.8 1362.4L333.8 1362.9L334.8 1363.7L335.8 1364.4L336.8 1365.2L337.8 1365.7L338.8 1365.9L339.8 1366.0L340.8 1366.1L341.8 1366.5L342.8 1366.7L343.8 1366.9L344.8 1367.2L345.8 1367.5L346.8 1367.7L347.8 1367.9L348.8 1367.7L349.8 1367.4L350.8 1367.0L351.8 1366.7L352.8 1366.5L353.8 1366.2L354.8 1365.9L355.8 1365.8L356.8 1365.7L357.8 1365.6L358.8 1365.3L359.8 1364.7L360.8 1364.1L361.8 1363.5L362.8 1363.5L363.8 1363.3L364.8 1363.0L365.8 1362.4L366.8 1361.5L367.8 1360.6L368.8 1359.6L369.8 1358.5L370.8 1357.4L371.8 1356.2L372.8 1355.1L373.8 1354.0L374.8 1353.0L375.8 1352.3L376.8 1352.0L377.8 1351.7L378.8 1351.3L379.8 1350.8L380.8 1350.1L381.8 1349.3L382.8 1348.6L383.8 1347.9L384.8 1347.2L385.8 1346.7L386.8 1346.2L387.8 1345.9L388.8 1345.6L389.8 1345.3L390.8 1344.8L391.8 1344.4L392.8 1343.9L393.8 1343.4L394.8 1343.0L395.8 1342.5L396.8 1342.2L397.8 1341.7L398.8 1341.5L399.8 1341.4L400.8 1341.5L401.8 1341.8L402.8 1342.2L403.8 1342.6L404.8 1343.2L405.8 1343.8L406.8 1344.4L407.8 1345.0L408.8 1345.5L409.8 1346.0L410.8 1346.6L411.8 1347.2L412.8 1347.9L413.8 1348.6L414.8 1349.3L415.8 1349.9L416.8 1350.6L417.8 1351.5L418.8 1352.8L419.8 1353.8L420.8 1354.9L421.8 1356.1L422.8 1357.2L423.8 1358.4L424.8 1359.6L425.8 1361.0L426.8 1362.4L427.8 1363.8L428.8 1365.2L429.8 1366.5L430.8 1367.7L431.8 1369.1L432.8 1370.4L433.8 1371.8L434.8 1373.1L435.8 1374.3L436.8 1375.4L437.8 1376.5L438.8 1377.6L439.8 1378.6L440.8 1379.6L441.8 1380.6L442.8 1381.7L443.8 1382.9L444.8 1384.0L445.8 1385.2L446.8 1386.0L447.8 1386.9L448.8 1387.7L449.8 1388.5L450.8 1389.2L451.8 1390.0L452.8 1390.6L453.8 1391.6L454.8 1392.5L455.8 1393.4L456.8 1394.1L457.8 1394.7L458.8 1395.2L459.8 1395.8L460.8 1396.4L461.8 1396.9L462.8 1397.3L463.8 1397.6L464.8 1398.0L465.8 1398.3L466.8 1398.8L467.8 1399.0L468.8 1399.2L469.8 1399.5L470.8 1399.9L471.8 1400.4L472.8 1400.9L473.8 1401.4L474.8 1402.0L475.8 1402.6L476.8 1403.3L477.8 1403.8L478.8 1404.3L479.8 1404.8L480.8 1405.2L481.8 1405.7L482.8 1406.2L483.8 1406.6L484.8 1406.9L485.8 1407.0L486.8 1407.2L487.8 1407.3L488.8 1407.7L489.8 1408.0L490.8 1408.3L491.8 1408.6L492.8 1408.8L493.8 1409.0L494.8 1409.2L495.8 1409.5L496.8 1409.7L497.8 1409.9L498.8 1409.8L499.8 1409.5L500.8 1409.2L501.8 1408.9L502.8 1409.2L503.8 1409.6L504.8 1409.9L505.8 1409.9L506.8 1409.7L507.8 1409.5L508.8 1409.4L509.8 1409.2L510.8 1409.1L511.8 1409.0L512.8 1409.1L513.8 1409.4L514.8 1409.7L515.8 1410.0L516.8 1409.7L517.8 1409.5L518.8 1409.2L519.8 1409.1L520.8 1409.1L521.8 1409.1L522.8 1409.1L523.8 1409.3L524.8 1409.7L525.8 1410.0L526.8 1410.2L527.8 1410.3L528.8 1410.5L529.8 1410.6L530.8 1410.6L531.8 1410.6L532.8 1410.7L533.8 1410.7L534.8 1410.7L535.8 1410.8L536.8 1410.8L537.8 1410.9L538.8 1410.9L539.8 1411.0L540.8 1411.1L541.8 1411.4L542.8 1411.7L543.8 1412.0L544.8 1411.9L545.8 1411.7L546.8 1411.6L547.8 1411.6L548.8 1411.8L549.8 1412.0L550.8 1412.2L551.8 1412.6L552.8 1413.0L553.8 1413.4L554.8 1413.6L555.8 1413.7L556.8 1413.8L557.8 1413.8L558.8 1414.0L559.8 1414.1L560.8 1414.2L561.8 1414.2L562.8 1414.1L563.8 1414.0L564.8 1414.0L565.8 1413.9L566.8 1413.8L567.8 1413.8L568.8 1414.0L569.8 1414.4L570.8 1414.7L571.8 1415.1L572.8 1415.1L573.8 1415.0L574.8 1415.0L575.8 1415.3L576.8 1415.5L577.8 1415.7L578.8 1415.8L579.8 1415.8L580.8 1415.8L581.8 1415.8L582.8 1415.6L583.8 1415.3L584.8 1415.1L585.8 1414.9L586.8 1415.0L587.8 1415.2L588.8 1415.3L589.8 1415.3L590.8 1415.1L591.8 1414.9L592.8 1414.7L593.8 1414.5L594.8 1414.4L595.8 1414.2L596.8 1414.0L597.8 1413.7L598.8 1413.3L599.8 1413.0L600.8 1413.0L601.8 1413.1L602.8 1410.0L603.8 1406.5L604.8 1405.0L605.8 1408.4L606.8 1411.8L607.8 1412.4L608.8 1411.9L609.8 1411.5L610.8 1411.4L611.8 1411.4L612.8 1411.5L613.8 1411.6L614.8 1411.6L615.8 1411.5L616.8 1411.4L617.8 1411.2L618.8 1411.0L619.8 1410.8L620.8 1410.6L621.8 1410.8L622.8 1411.0L623.8 1411.2L624.8 1411.1L625.8 1411.0L626.8 1410.8L627.8 1410.6L628.8 1410.5L629.8 1410.5L630.8 1410.5L631.8 1410.4L632.8 1410.5L633.8 1410.5L634.8 1410.4L635.8 1410.1L636.8 1409.8L637.8 1409.4L638.8 1409.4L639.8 1409.7L640.8 1409.9L641.8 1410.1L642.8 1409.5L643.8 1408.9L644.8 1408.3L645.8 1407.8L646.8 1407.6L647.8 1407.3L648.8 1407.0L649.8 1407.0L650.8 1407.0L651.8 1407.0L652.8 1406.8L653.8 1406.5L654.8 1406.2L655.8 1405.8L656.8 1405.4L657.8 1404.9L658.8 1404.4L659.8 1404.0L660.8 1403.7L661.8 1403.3L662.8 1402.9L663.8 1402.7L664.8 1402.4L665.8 1402.0L666.8 1401.5L667.8 1400.9L668.8 1400.2L669.8 1399.5L670.8 1398.8L671.8 1398.1L672.8 1397.4L673.8 1396.6L674.8 1395.9L675.8 1395.1L676.8 1394.2L677.8 1393.0L678.8 1391.9L679.8 1390.7L682.0 1386.9L683.3 1383.4L684.6 1379.9L685.7 1376.4L686.6 1372.8L687.5 1369.3L688.3 1365.8L689.1 1362.3L689.9 1358.7L690.6 1355.2L691.3 1351.7L692.0 1348.1L692.7 1344.6L693.4 1341.1L694.1 1337.6L694.8 1334.0L695.5 1330.5L696.2 1327.0L696.9 1323.4L697.5 1319.9L698.1 1316.4L698.7 1312.9L699.2 1309.3L699.7 1305.8L700.2 1302.3L700.7 1298.8L701.1 1295.2L701.6 1291.7L702.0 1288.2L702.4 1284.6L702.8 1281.1L703.1 1277.6L703.5 1274.1L703.8 1270.5L704.1 1267.0L704.4 1263.5L704.7 1259.9L705.0 1256.4L705.2 1252.9L705.5 1249.4L705.7 1245.8L705.9 1242.3L706.2 1238.8L706.4 1235.5L706.7 1232.1L706.9 1228.9L707.1 1225.7L707.4 1222.5L707.6 1219.4L707.8 1216.2L708.1 1213.1L708.3 1210.0L708.5 1206.8L708.7 1203.7L708.9 1200.5L709.1 1197.3L709.3 1194.0L709.5 1190.8L709.7 1187.5L709.9 1184.2L710.1 1180.8L710.2 1177.4L710.4 1174.0L710.5 1170.6L710.7 1167.2L710.8 1163.7L711.0 1160.2L711.1 1156.7L711.2 1153.2L711.4 1149.6L711.5 1146.1L711.6 1142.5L711.7 1139.0L711.8 1135.4L711.9 1131.8L712.0 1128.2L712.1 1124.6L712.2 1121.0L712.3 1117.4L712.4 1113.8L712.5 1110.2L712.6 1106.6L712.7 1103.0L712.8 1099.4L712.8 1095.8L712.9 1092.2L713.0 1088.5L713.1 1084.9L713.2 1081.3L713.2 1077.7L713.3 1074.1L713.4 1070.4L713.5 1066.8L713.5 1063.2L713.6 1059.6L713.7 1055.9L713.8 1052.3L713.8 1048.7L713.9 1045.1L714.0 1041.4L714.0 1037.8L714.1 1034.2L714.1 1030.6L714.2 1027.0L714.2 1023.3L714.3 1019.7L714.4 1016.1L714.4 1012.5L714.5 1008.8L714.5 1005.2L714.5 1001.6L714.6 998.0L714.6 994.3L714.7 990.7L714.7 987.1L714.8 983.5L714.8 979.8L714.8 976.2L714.9 972.6L714.9 969.0L714.9 965.3L715.0 961.7L715.0 958.1L715.0 954.5L715.1 950.8L715.1 947.2L715.1 943.6L715.1 940.0L715.2 936.3L715.2 932.7L715.2 929.1L715.2 925.5L715.3 921.8L715.3 918.2L715.3 914.6L715.3 911.0L715.4 907.3L715.4 903.7L715.5 900.1L715.6 903.4L715.7 906.6L715.7 909.9L715.7 913.2L715.8 916.5L715.8 919.7L715.8 923.0L715.9 926.3L715.9 929.5L715.9 932.8L716.0 936.1L716.0 939.4L716.0 942.6L716.0 945.9L716.1 949.2L716.1 952.4L716.1 955.7L716.2 959.0L716.2 962.3L716.3 965.5L716.3 968.8L716.4 972.1L716.4 975.3L716.5 978.6L716.6 981.9L716.6 985.2L716.7 988.4L716.7 991.7L716.8 995.0L716.9 998.2L716.9 1001.5L717.0 1004.8L717.1 1008.1L717.1 1011.3L717.2 1014.6L717.3 1017.9L717.3 1021.1L717.4 1024.4L717.5 1027.7L717.5 1030.9L717.6 1034.2L717.7 1037.5L717.8 1040.8L717.9 1044.0L717.9 1047.3L718.0 1050.6L718.1 1053.8L718.2 1057.1L718.3 1060.4L718.3 1063.6L718.4 1066.9L718.5 1070.2L718.6 1073.4L718.7 1076.7L718.8 1080.0L718.9 1083.2L719.0 1086.5L719.1 1089.7L719.2 1093.0L719.3 1096.2L719.4 1099.4L719.5 1102.7L719.7 1105.9L719.8 1109.1L719.9 1112.3L720.0 1115.6L720.1 1118.7L720.3 1121.9L720.4 1125.1L720.5 1128.3L720.6 1131.4L720.8 1134.5L720.9 1137.7L721.1 1140.7L721.2 1143.8L721.4 1146.8L721.5 1149.9L721.7 1152.9L721.8 1155.8L722.0 1158.7L722.1 1161.6L722.3 1164.5L722.5 1167.4L722.6 1170.2L722.8 1173.0L723.0 1175.8L723.2 1178.5L723.3 1181.3L723.5 1184.0L723.7 1186.8L723.9 1189.6L724.1 1192.4L724.3 1195.2L724.5 1198.1L724.7 1201.1L724.9 1204.1L725.1 1207.2L725.3 1210.3L725.5 1213.5L725.8 1216.7L726.0 1219.8L726.2 1223.0L726.5 1226.2L726.8 1229.3L727.0 1232.5L727.3 1235.7L727.6 1238.8L727.9 1242.0L728.1 1245.2L728.4 1248.3L728.7 1251.5L729.1 1254.7L729.4 1257.8L729.7 1261.0L730.0 1264.2L730.4 1267.3L730.7 1270.5L731.0 1273.6L731.4 1276.8L731.7 1280.0L732.0 1283.1L732.4 1286.3L732.7 1289.5L733.1 1292.6L733.4 1295.8L733.8 1299.0L734.2 1302.1L734.6 1305.3L735.0 1308.5L735.5 1311.6L736.0 1314.8L736.5 1318.0L737.1 1321.1L737.7 1324.3L738.4 1327.5L739.1 1330.6L739.9 1333.8L740.9 1337.0L742.0 1340.1L742.8 1342.4L743.8 1345.0L744.8 1347.2L745.8 1349.2L746.8 1350.9L747.8 1352.8L748.8 1354.5L749.8 1356.1L750.8 1357.5L751.8 1358.7L752.8 1360.0L753.8 1361.3L754.8 1362.6L755.8 1364.0L756.8 1365.3L757.8 1366.6L758.8 1367.9L759.8 1369.1L760.8 1370.2L761.8 1371.0L762.8 1371.6L763.8 1372.2L764.8 1372.6L765.8 1373.0L766.8 1373.3L767.8 1373.6L768.8 1373.9L769.8 1374.2L770.8 1374.4L771.8 1374.4L772.8 1374.4L773.8 1374.3L774.8 1374.3L775.8 1374.1L776.8 1373.9L777.8 1373.7L778.8 1373.5L779.8 1373.3L780.8 1373.1L781.8 1372.9L782.8 1372.5L783.8 1372.1L784.8 1371.8L785.8 1371.5L786.8 1371.6L787.8 1371.7L788.8 1371.7L789.8 1371.3L790.8 1370.8L791.8 1370.3L792.8 1369.7L793.8 1369.1L794.8 1368.2L795.8 1367.2L796.8 1366.3L797.8 1365.4L798.8 1364.5L799.8 1363.6L800.8 1362.5L801.8 1361.4L802.8 1360.3L803.8 1359.2L804.8 1358.0L805.8 1356.8L806.8 1355.5L807.8 1354.0L808.8 1352.5L809.8 1350.9L810.8 1349.4L811.8 1348.0L812.8 1346.5L813.8 1345.0L814.8 1343.8L815.8 1342.6L816.8 1341.6L817.8 1340.3L818.8 1338.9L819.8 1337.5L820.8 1336.0L821.8 1334.2L822.8 1332.3L823.8 1330.4L824.8 1328.6L825.8 1326.8L826.8 1324.9L827.8 1323.0L828.8 1321.0L829.8 1319.0L830.8 1317.0L831.8 1315.1L832.8 1313.3L833.8 1311.5L834.8 1309.8L835.8 1308.2L836.8 1306.5L837.8 1304.7L838.8 1302.0L839.8 1299.3L840.8 1296.5L841.8 1293.9L842.8 1291.5L843.8 1289.1L844.8 1286.7L845.8 1284.3L846.8 1282.1L847.8 1280.1L848.8 1278.2L849.8 1276.3L850.8 1274.4L851.8 1272.4L852.8 1270.3L853.8 1268.3L854.8 1266.4L855.8 1265.0L856.8 1264.1L857.8 1263.7L858.8 1263.8L859.8 1264.1L860.8 1264.5L861.8 1265.2L862.8 1266.1L863.8 1267.2L864.8 1268.5L865.8 1270.0L866.8 1271.5L867.8 1273.3L868.8 1275.5L869.8 1277.9L870.8 1280.1L871.8 1282.3L872.8 1284.4L873.8 1286.6L874.8 1289.0L875.8 1291.6L876.8 1294.5L877.8 1297.7L878.8 1301.0L879.8 1304.2L880.8 1307.0L881.8 1309.7L882.8 1312.2L883.8 1314.6L884.8 1317.0L885.8 1319.4L886.8 1321.7L887.8 1324.3L888.8 1326.8L889.8 1329.4L890.8 1331.8L891.8 1334.2L892.8 1336.4L893.8 1338.7L894.8 1340.8L895.8 1343.0L896.8 1345.2L897.8 1347.5L898.8 1349.7L899.8 1351.9L900.8 1354.1L901.8 1356.2L902.8 1358.2L903.8 1360.1L904.8 1361.8L905.8 1363.3L906.8 1364.7L907.8 1366.1L908.8 1367.7L909.8 1369.2L910.8 1370.7L911.8 1372.0L912.8 1373.3L913.8 1374.5L914.8 1375.6L915.8 1376.5L916.8 1377.3L917.8 1378.0L918.8 1378.9L919.8 1380.1L920.8 1381.1L921.8 1382.1L922.8 1382.7L923.8 1383.2L924.8 1383.7L925.8 1384.3L926.8 1384.9L927.8 1385.6L928.8 1386.2L929.8 1386.7L930.8 1387.1L931.8 1387.6L932.8 1387.9L933.8 1388.2L934.8 1388.4L935.8 1388.7L936.8 1389.2L937.8 1389.8L938.8 1390.4L939.8 1390.9L940.8 1391.4L941.8 1391.8L942.8 1392.3L943.8 1392.6L944.8 1392.9L945.8 1393.3L946.8 1393.5L947.8 1393.5L948.8 1393.6L949.8 1393.6L950.8 1394.3L951.8 1395.1L952.8 1395.9L953.8 1396.3L954.8 1396.5L955.8 1396.7L956.8 1396.9L957.8 1397.2L958.8 1397.5L959.8 1397.7L960.8 1398.1L961.8 1398.4L962.8 1398.8L963.8 1399.2L964.8 1399.5L965.8 1399.9L966.8 1400.2L967.8 1400.7L968.8 1401.2L969.8 1401.6L970.8 1402.1L971.8 1402.6L972.8 1403.1L973.8 1403.6L974.8 1404.0L975.8 1404.3L976.8 1404.5L977.8 1404.8L978.8 1405.5L979.8 1406.1L980.8 1406.8L981.8 1407.4L982.8 1407.8L983.8 1408.3L984.8 1408.7L985.8 1409.3L986.8 1410.0L987.8 1410.6L988.8 1411.2L989.8 1411.6L990.8 1412.0L991.8 1412.3L992.8 1412.6L993.8 1412.9L994.8 1413.2L995.8 1413.6L996.8 1413.9L997.8 1414.2L998.8 1414.6L999.8 1414.9L1000.8 1415.3L1001.8 1415.6L1002.8 1415.9L1003.8 1416.2L1004.8 1416.5L1005.8 1416.8L1006.8 1417.1L1007.8 1417.3L1008.8 1417.5" stroke="#010114"/>
<path d="M95.8 1419.0L96.8 1419.3L97.8 1419.7L98.8 1420.0L99.8 1420.1L100.8 1419.9L101.8 1419.7L102.8 1419.4L103.8 1419.4L104.8 1419.4L105.8 1419.3L106.8 1419.4L107.8 1419.5L108.8 1419.7L109.8 1419.8L110.8 1419.5L111.8 1419.2L112.8 1418.9L113.8 1418.7L114.8 1418.5L115.8 1418.4L116.8 1418.2L117.8 1418.5L118.8 1418.7L119.8 1418.9L120.8 1419.0L121.8 1418.9L122.8 1418.8L123.8 1418.7L124.8 1418.5L125.8 1418.3L126.8 1418.1L127.8 1418.1L128.8 1418.4L129.8 1418.7L130.8 1418.9L131.8 1418.2L132.8 1417.4L133.8 1416.6L134.8 1416.0L135.8 1415.7L136.8 1415.4L137.8 1415.1L138.8 1415.0L139.8 1414.7L140.8 1414.4L141.8 1414.0L142.8 1413.5L143.8 1413.1L144.8 1412.7L145.8 1412.8L146.8 1412.8L147.8 1412.9L148.8 1412.7L149.8 1412.3L150.8 1411.9L151.8 1411.5L152.8 1411.2L153.8 1410.9L154.8 1410.5L155.8 1410.1L156.8 1409.7L157.8 1409.2L158.8 1408.8L159.8 1408.3L160.8 1407.8L161.8 1407.3L162.8 1406.8L163.8 1406.2L164.8 1405.6L165.8 1405.1L166.8 1404.8L167.8 1404.6L168.8 1404.4L169.8 1404.2L170.8 1404.0L171.8 1403.8L172.8 1403.5L173.8 1402.9L174.8 1402.4L175.8 1401.9L176.8 1401.5L177.8 1401.3L178.8 1401.1L179.8 1400.9L180.8 1400.8L181.8 1400.7L182.8 1400.6L183.8 1400.3L184.8 1399.9L185.8 1399.5L186.8 1399.0L187.8 1398.4L188.8 1397.8L189.8 1397.1L190.8 1396.4L191.8 1395.7L192.8 1394.9L193.8 1394.2L194.8 1393.7L195.8 1393.1L196.8 1392.6L197.8 1392.0L198.8 1391.4L199.8 1390.8L200.8 1389.9L201.8 1388.7L202.8 1387.5L203.8 1386.2L204.8 1384.9L205.8 1383.5L206.8 1382.1L207.8 1380.6L208.8 1378.9L209.8 1377.2L210.8 1375.5L211.8 1374.1L212.8 1372.9L213.8 1371.7L214.8 1370.4L215.8 1368.9L216.8 1367.4L217.8 1365.8L218.8 1364.3L219.8 1362.8L220.8 1361.3L221.8 1359.8L222.8 1357.7L223.8 1355.7L224.8 1353.7L225.8 1352.0L226.8 1350.6L227.8 1349.1L228.8 1347.7L229.8 1346.3L230.8 1344.9L231.8 1343.5L232.8 1342.0L233.8 1340.3L234.8 1338.7L235.8 1337.0L236.8 1335.1L237.8 1333.2L238.8 1331.3L239.8 1329.3L240.8 1327.5L241.8 1325.6L242.8 1323.6L243.8 1321.3L244.8 1318.9L245.8 1316.5L246.8 1314.3L247.8 1312.3L248.8 1310.3L249.8 1308.4L250.8 1305.9L251.8 1303.6L252.8 1301.2L253.8 1299.0L254.8 1297.1L255.8 1295.2L256.8 1293.3L257.8 1290.9L258.8 1288.4L259.8 1286.0L260.8 1283.9L261.8 1282.3L262.8 1280.6L263.8 1278.8L264.8 1276.6L265.8 1274.2L266.8 1271.8L267.8 1269.6L268.8 1267.5L269.8 1265.3L270.8 1263.0L271.8 1260.2L272.8 1257.3L273.8 1254.3L274.8 1251.5L275.8 1248.9L276.8 1246.2L277.8 1243.5L278.8 1240.4L279.8 1237.4L280.8 1234.5L281.8 1231.6L282.8 1228.8L283.8 1225.9L284.8 1223.2L285.8 1221.2L286.8 1219.5L287.8 1218.3L288.8 1217.5L289.8 1217.6L290.8 1218.2L291.8 1219.1L292.8 1220.2L293.8 1221.4L294.8 1222.9L295.8 1224.6L296.8 1226.5L297.8 1228.5L298.8 1231.1L299.8 1234.7L300.8 1238.8L301.8 1243.2L302.8 1247.8L303.8 1252.3L304.8 1256.8L305.8 1261.2L306.8 1265.2L307.8 1269.2L308.8 1273.3L309.8 1277.5L310.8 1281.4L311.8 1285.3L312.8 1288.2L313.8 1290.6L314.8 1292.6L315.8 1294.0L316.8 1295.1L317.8 1296.1L318.8 1297.1L319.8 1298.0L320.8 1298.3L321.8 1298.5L322.8 1298.5L323.8 1298.2L324.8 1297.8L325.8 1297.2L326.8 1296.4L327.8 1295.7L328.8 1294.9L329.8 1294.1L330.8 1293.3L331.8 1292.6L332.8 1291.9L333.8 1291.1L334.8 1290.1L335.8 1289.2L336.8 1288.4L337.8 1288.9L338.8 1289.8L339.8 1290.8L340.8 1291.8L341.8 1293.1L342.8 1294.3L343.8 1295.4L344.8 1296.5L345.8 1297.8L346.8 1298.9L347.8 1299.9L348.8 1300.5L349.8 1300.9L350.8 1301.4L351.8 1302.0L352.8 1302.8L353.8 1303.6L354.8 1304.4L355.8 1304.7L356.8 1305.1L357.8 1305.4L358.8 1305.9L359.8 1306.5L360.8 1307.0L361.8 1307.5L362.8 1307.7L363.8 1307.6L364.8 1307.1L365.8 1306.6L366.8 1306.1L367.8 1305.6L368.8 1305.0L369.8 1303.7L370.8 1302.2L371.8 1300.9L372.8 1299.8L373.8 1299.1L374.8 1298.8L375.8 1298.8L376.8 1299.5L377.8 1300.3L378.8 1301.0L379.8 1301.3L380.8 1301.2L381.8 1300.9L382.8 1300.5L383.8 1300.4L384.8 1300.4L385.8 1300.7L386.8 1301.5L387.8 1302.6L388.8 1303.8L389.8 1305.1L390.8 1306.0L391.8 1306.8L392.8 1307.4L393.8 1307.8L394.8 1307.8L395.8 1307.7L396.8 1307.7L397.8 1307.9L398.8 1308.5L399.8 1309.3L400.8 1310.2L401.8 1311.2L402.8 1312.3L403.8 1313.4L404.8 1314.9L405.8 1316.3L406.8 1317.6L407.8 1318.8L408.8 1320.0L409.8 1321.4L410.8 1322.7L411.8 1324.3L412.8 1325.9L413.8 1327.6L414.8 1329.1L415.8 1330.3L416.8 1331.7L417.8 1333.3L418.8 1335.5L419.8 1336.7L420.8 1337.6L421.8 1338.7L422.8 1339.9L423.8 1341.2L424.8 1342.5L425.8 1343.7L426.8 1345.0L427.8 1346.4L428.8 1347.9L429.8 1349.4L430.8 1350.8L431.8 1352.5L432.8 1354.1L433.8 1355.7L434.8 1357.2L435.8 1358.5L436.8 1359.6L437.8 1360.6L438.8 1361.6L439.8 1363.2L440.8 1364.8L441.8 1366.3L442.8 1367.5L443.8 1368.5L444.8 1369.3L445.8 1370.2L446.8 1370.9L447.8 1371.7L448.8 1372.4L449.8 1373.3L450.8 1374.1L451.8 1374.9L452.8 1375.7L453.8 1376.4L454.8 1377.1L455.8 1377.6L456.8 1378.1L457.8 1378.5L458.8 1378.9L459.8 1379.2L460.8 1379.6L461.8 1379.9L462.8 1380.0L463.8 1379.9L464.8 1379.5L465.8 1379.2L466.8 1379.2L467.8 1379.7L468.8 1380.2L469.8 1380.8L470.8 1381.4L471.8 1382.0L472.8 1382.5L473.8 1383.2L474.8 1384.2L475.8 1385.2L476.8 1386.3L477.8 1387.1L478.8 1387.6L479.8 1388.1L480.8 1388.5L481.8 1389.6L482.8 1390.7L483.8 1391.6L484.8 1392.3L485.8 1392.6L486.8 1392.8L487.8 1393.1L488.8 1393.6L489.8 1394.0L490.8 1394.3L491.8 1394.6L492.8 1394.9L493.8 1395.2L494.8 1395.4L495.8 1395.5L496.8 1395.6L497.8 1395.6L498.8 1395.8L499.8 1396.2L500.8 1396.6L501.8 1397.0L502.8 1396.4L503.8 1395.7L504.8 1395.0L505.8 1394.6L506.8 1394.4L507.8 1394.1L508.8 1393.9L509.8 1394.0L510.8 1394.1L511.8 1394.2L512.8 1394.4L513.8 1394.7L514.8 1395.1L515.8 1395.4L516.8 1395.1L517.8 1394.7L518.8 1394.4L519.8 1394.4L520.8 1394.7L521.8 1395.0L522.8 1395.3L523.8 1395.2L524.8 1395.1L525.8 1395.0L526.8 1395.1L527.8 1395.2L528.8 1395.4L529.8 1395.6L530.8 1395.4L531.8 1395.1L532.8 1394.8L533.8 1394.9L534.8 1395.5L535.8 1396.0L536.8 1396.5L537.8 1396.7L538.8 1396.8L539.8 1396.9L540.8 1396.8L541.8 1396.5L542.8 1396.3L543.8 1396.0L544.8 1396.4L545.8 1396.9L546.8 1397.3L547.8 1397.7L548.8 1398.0L549.8 1398.3L550.8 1398.5L551.8 1398.2L552.8 1397.8L553.8 1397.4L554.8 1397.1L555.8 1397.0L556.8 1396.9L557.8 1396.7L558.8 1396.7L559.8 1396.7L560.8 1396.6L561.8 1396.3L562.8 1396.1L563.8 1395.8L564.8 1395.7L565.8 1395.7L566.8 1396.0L567.8 1396.3L568.8 1396.6L569.8 1396.9L570.8 1397.3L571.8 1397.6L572.8 1397.4L573.8 1397.3L574.8 1397.2L575.8 1397.4L576.8 1397.3L577.8 1397.2L578.8 1397.1L579.8 1396.8L580.8 1396.5L581.8 1396.2L582.8 1396.1L583.8 1396.3L584.8 1396.8L585.8 1397.3L586.8 1397.7L587.8 1397.9L588.8 1398.1L589.8 1398.0L590.8 1397.6L591.8 1397.1L592.8 1396.7L593.8 1397.1L594.8 1397.5L595.8 1397.9L596.8 1398.1L597.8 1398.0L598.8 1398.0L599.8 1397.9L600.8 1397.9L601.8 1397.7L602.8 1397.6L603.8 1397.3L604.8 1396.8L605.8 1396.3L606.8 1395.8L607.8 1395.5L608.8 1395.2L609.8 1394.9L610.8 1395.0L611.8 1395.3L612.8 1395.6L613.8 1396.0L614.8 1396.0L615.8 1395.9L616.8 1395.8L617.8 1395.6L618.8 1395.4L619.8 1395.2L620.8 1395.0L621.8 1395.1L622.8 1395.1L623.8 1395.2L624.8 1395.2L625.8 1395.0L626.8 1394.8L627.8 1394.7L628.8 1395.3L629.8 1395.8L630.8 1396.4L631.8 1396.6L632.8 1396.4L633.8 1396.1L634.8 1395.7L635.8 1395.5L636.8 1395.3L637.8 1395.1L638.8 1394.8L639.8 1394.2L640.8 1393.6L641.8 1393.1L642.8 1393.2L643.8 1393.4L644.8 1393.5L645.8 1393.4L646.8 1392.9L647.8 1392.5L648.8 1392.1L649.8 1392.2L650.8 1392.2L651.8 1392.3L652.8 1392.0L653.8 1391.4L654.8 1390.8L655.8 1390.2L656.8 1390.1L657.8 1390.1L658.8 1390.0L659.8 1389.6L660.8 1388.9L661.8 1388.1L662.8 1387.2L663.8 1386.9L664.8 1386.5L665.8 1386.1L666.8 1385.5L667.8 1384.7L668.8 1383.8L669.8 1383.0L670.8 1382.0L671.8 1380.9L672.8 1379.7L673.8 1378.7L674.8 1377.9L675.8 1377.1L676.8 1376.2L677.8 1375.0L678.8 1373.7L679.8 1372.5L681.9 1368.9L683.3 1365.5L684.5 1362.1L685.5 1358.7L686.4 1355.3L687.3 1351.9L688.0 1348.5L688.8 1345.1L689.5 1341.7L690.2 1338.3L690.9 1334.9L691.6 1331.5L692.2 1328.1L692.8 1324.7L693.5 1321.3L694.2 1317.9L694.9 1314.5L695.6 1311.1L696.2 1307.7L696.8 1304.3L697.4 1300.9L697.9 1297.5L698.4 1294.1L698.9 1290.7L699.4 1287.3L699.8 1283.9L700.3 1280.6L700.7 1277.2L701.1 1273.8L701.5 1270.4L701.8 1267.0L702.2 1263.6L702.5 1260.2L702.9 1256.8L703.2 1253.4L703.5 1250.0L703.8 1246.6L704.0 1243.2L704.3 1239.8L704.5 1236.4L704.8 1233.0L705.0 1229.6L705.3 1226.3L705.5 1223.2L705.8 1220.1L706.0 1217.2L706.3 1214.3L706.5 1211.6L706.8 1208.8L707.0 1206.1L707.3 1203.5L707.6 1200.8L707.8 1198.2L708.1 1195.5L708.3 1192.8L708.6 1190.1L708.8 1187.3L709.0 1184.5L709.2 1181.7L709.4 1178.8L709.7 1175.9L709.8 1172.9L710.0 1169.8L710.2 1166.8L710.4 1163.6L710.6 1160.5L710.7 1157.3L710.9 1154.0L711.0 1150.7L711.2 1147.4L711.3 1144.1L711.5 1140.7L711.6 1137.3L711.7 1133.9L711.8 1130.4L711.9 1127.0L712.0 1123.5L712.1 1120.0L712.2 1116.5L712.3 1113.0L712.4 1109.4L712.5 1105.9L712.6 1102.3L712.7 1098.8L712.8 1095.2L712.9 1091.6L713.0 1088.0L713.0 1084.5L713.1 1080.9L713.2 1077.3L713.3 1073.7L713.4 1070.1L713.4 1066.5L713.5 1062.9L713.6 1059.3L713.7 1055.6L713.7 1052.0L713.8 1048.4L713.9 1044.8L713.9 1041.2L714.0 1037.6L714.0 1033.9L714.1 1030.3L714.2 1026.7L714.2 1023.1L714.3 1019.5L714.3 1015.9L714.4 1012.2L714.4 1008.6L714.5 1005.0L714.5 1001.4L714.6 997.8L714.6 994.1L714.6 990.5L714.7 986.9L714.7 983.3L714.8 979.7L714.8 976.1L714.8 972.4L714.9 968.8L714.9 965.2L715.0 961.6L715.0 958.0L715.0 954.4L715.1 950.7L715.1 947.1L715.1 943.5L715.1 939.9L715.2 936.3L715.2 932.7L715.2 929.0L715.2 925.4L715.3 921.8L715.3 918.2L715.3 914.6L715.3 911.0L715.4 907.3L715.4 903.7L715.5 900.1L715.6 903.4L715.7 906.6L715.7 909.9L715.8 913.1L715.8 916.4L715.8 919.7L715.9 922.9L715.9 926.2L715.9 929.4L715.9 932.7L716.0 936.0L716.0 939.2L716.0 942.5L716.1 945.8L716.1 949.0L716.1 952.3L716.2 955.5L716.2 958.8L716.3 962.1L716.3 965.3L716.4 968.6L716.4 971.8L716.5 975.1L716.5 978.4L716.6 981.6L716.6 984.9L716.7 988.1L716.8 991.4L716.8 994.7L716.9 997.9L717.0 1001.2L717.0 1004.5L717.1 1007.7L717.2 1011.0L717.2 1014.2L717.3 1017.5L717.4 1020.8L717.4 1024.0L717.5 1027.3L717.6 1030.5L717.7 1033.8L717.7 1037.1L717.8 1040.3L717.9 1043.6L718.0 1046.8L718.1 1050.1L718.1 1053.3L718.2 1056.6L718.3 1059.8L718.4 1063.0L718.5 1066.3L718.6 1069.5L718.7 1072.7L718.8 1075.9L718.9 1079.1L719.0 1082.3L719.1 1085.5L719.2 1088.6L719.3 1091.8L719.4 1095.0L719.5 1098.1L719.7 1101.2L719.8 1104.3L719.9 1107.4L720.0 1110.4L720.2 1113.5L720.3 1116.5L720.4 1119.5L720.6 1122.4L720.7 1125.3L720.9 1128.2L721.0 1131.1L721.2 1133.9L721.3 1136.6L721.5 1139.4L721.7 1142.1L721.8 1144.7L722.0 1147.3L722.2 1149.8L722.4 1152.3L722.5 1154.8L722.7 1157.2L722.9 1159.6L723.1 1162.0L723.3 1164.3L723.5 1166.6L723.7 1168.9L723.9 1171.2L724.1 1173.6L724.3 1175.9L724.5 1178.3L724.7 1180.8L724.9 1183.3L725.1 1185.9L725.3 1188.6L725.5 1191.4L725.7 1194.3L725.9 1197.3L726.1 1200.3L726.3 1203.4L726.6 1206.4L726.8 1209.4L727.0 1212.5L727.3 1215.5L727.5 1218.5L727.8 1221.6L728.1 1224.6L728.3 1227.6L728.6 1230.7L728.9 1233.7L729.2 1236.7L729.5 1239.8L729.8 1242.8L730.1 1245.8L730.4 1248.9L730.7 1251.9L731.0 1254.9L731.3 1258.0L731.7 1261.0L732.0 1264.0L732.3 1267.1L732.6 1270.1L732.9 1273.1L733.3 1276.2L733.6 1279.2L734.0 1282.2L734.3 1285.3L734.7 1288.3L735.1 1291.3L735.5 1294.4L736.0 1297.4L736.5 1300.4L737.0 1303.5L737.6 1306.5L738.2 1309.5L738.9 1312.6L739.7 1315.6L740.7 1318.6L742.0 1321.7L742.8 1323.5L743.8 1325.6L744.8 1327.7L745.8 1329.7L746.8 1331.6L747.8 1333.3L748.8 1334.9L749.8 1336.3L750.8 1337.6L751.8 1338.6L752.8 1339.7L753.8 1340.7L754.8 1342.3L755.8 1343.8L756.8 1345.3L757.8 1346.6L758.8 1347.7L759.8 1348.6L760.8 1349.5L761.8 1350.3L762.8 1350.9L763.8 1351.5L764.8 1351.9L765.8 1352.2L766.8 1352.5L767.8 1352.7L768.8 1353.4L769.8 1353.9L770.8 1354.4L771.8 1354.5L772.8 1354.4L773.8 1354.2L774.8 1354.1L775.8 1354.0L776.8 1353.9L777.8 1353.8L778.8 1353.5L779.8 1353.1L780.8 1352.7L781.8 1352.3L782.8 1351.7L783.8 1351.1L784.8 1350.5L785.8 1350.2L786.8 1350.6L787.8 1351.1L788.8 1351.6L789.8 1351.8L790.8 1351.8L791.8 1351.9L792.8 1351.7L793.8 1351.0L794.8 1349.8L795.8 1348.5L796.8 1347.0L797.8 1345.5L798.8 1344.2L799.8 1343.0L800.8 1342.1L801.8 1341.2L802.8 1340.2L803.8 1339.0L804.8 1337.8L805.8 1336.6L806.8 1335.1L807.8 1333.4L808.8 1331.7L809.8 1330.1L810.8 1328.8L811.8 1327.7L812.8 1326.5L813.8 1325.2L814.8 1323.9L815.8 1322.8L816.8 1322.1L817.8 1321.4L818.8 1320.5L819.8 1319.7L820.8 1318.5L821.8 1317.2L822.8 1315.7L823.8 1314.3L824.8 1313.2L825.8 1312.1L826.8 1311.0L827.8 1309.6L828.8 1307.8L829.8 1305.9L830.8 1304.0L831.8 1303.1L832.8 1302.1L833.8 1301.2L834.8 1299.9L835.8 1298.1L836.8 1296.1L837.8 1294.0L838.8 1292.2L839.8 1290.2L840.8 1288.1L841.8 1285.7L842.8 1283.1L843.8 1280.4L844.8 1277.7L845.8 1275.6L846.8 1273.6L847.8 1271.8L848.8 1269.9L849.8 1267.9L850.8 1265.8L851.8 1263.7L852.8 1261.8L853.8 1260.0L854.8 1258.4L855.8 1257.0L856.8 1256.0L857.8 1255.4L858.8 1255.4L859.8 1255.9L860.8 1256.2L861.8 1256.8L862.8 1257.7L863.8 1258.8L864.8 1260.1L865.8 1261.6L866.8 1263.0L867.8 1264.7L868.8 1267.1L869.8 1269.8L870.8 1272.0L871.8 1274.2L872.8 1276.3L873.8 1279.2L874.8 1282.2L875.8 1285.4L876.8 1288.5L877.8 1291.4L878.8 1294.4L879.8 1297.3L880.8 1300.2L881.8 1302.9L882.8 1305.5L883.8 1308.1L884.8 1311.0L885.8 1313.8L886.8 1316.6L887.8 1318.8L888.8 1321.1L889.8 1323.3L890.8 1325.6L891.8 1327.9L892.8 1330.1L893.8 1332.3L894.8 1334.0L895.8 1335.6L896.8 1337.3L897.8 1339.3L898.8 1341.6L899.8 1343.9L900.8 1346.2L901.8 1348.7L902.8 1351.1L903.8 1353.5L904.8 1355.3L905.8 1356.7L906.8 1358.0L907.8 1359.3L908.8 1360.7L909.8 1362.2L910.8 1363.5L911.8 1364.7L912.8 1365.7L913.8 1366.6L914.8 1367.5L915.8 1368.6L916.8 1369.7L917.8 1370.7L918.8 1371.7L919.8 1372.5L920.8 1373.4L921.8 1374.1L922.8 1374.7L923.8 1375.3L924.8 1375.8L925.8 1376.3L926.8 1376.8L927.8 1377.3L928.8 1377.7L929.8 1377.8L930.8 1377.9L931.8 1377.9L932.8 1378.1L933.8 1378.4L934.8 1378.8L935.8 1379.2L936.8 1379.5L937.8 1379.8L938.8 1380.2L939.8 1380.7L940.8 1381.2L941.8 1381.8L942.8 1382.3L943.8 1382.7L944.8 1383.0L945.8 1383.4L946.8 1383.7L947.8 1383.9L948.8 1384.0L949.8 1384.0L950.8 1384.1L951.8 1384.3L952.8 1384.4L953.8 1384.7L954.8 1385.1L955.8 1385.4L956.8 1385.7L957.8 1386.2L958.8 1386.7L959.8 1387.3L960.8 1387.6L961.8 1387.7L962.8 1387.8L963.8 1388.0L964.8 1388.7L965.8 1389.4L966.8 1390.2L967.8 1390.8L968.8 1391.3L969.8 1391.8L970.8 1392.3L971.8 1392.9L972.8 1393.4L973.8 1394.0L974.8 1394.7L975.8 1395.6L976.8 1396.6L977.8 1397.7L978.8 1398.1L979.8 1398.6L980.8 1399.0L981.8 1399.7L982.8 1400.7L983.8 1401.7L984.8 1402.7L985.8 1403.6L986.8 1404.7L987.8 1405.7L988.8 1406.5L989.8 1407.0L990.8 1407.3L991.8 1407.5L992.8 1407.7L993.8 1407.9L994.8 1408.1L995.8 1408.3L996.8 1408.3L997.8 1408.4L998.8 1408.7L999.8 1409.7L1000.8 1410.9L1001.8 1411.9L1002.8 1412.4L1003.8 1412.2L1004.8 1412.0L1005.8 1411.7L1006.8 1411.7L1007.8 1411.7L1008.8 1411.7" stroke="#020228"/>
<path d="M95.8 1412.4L96.8 1411.8L97.8 1411.2L98.8 1410.6L99.8 1410.3L100.8 1410.3L101.8 1410.3L102.8 1410.4L103.8 1410.4L104.8 1410.5L105.8 1410.6L106.8 1410.5L107.8 1410.3L108.8 1410.2L109.8 1410.0L110.8 1409.7L111.8 1409.4L112.8 1409.0L113.8 1409.1L114.8 1409.6L115.8 1410.1L116.8 1410.5L117.8 1410.5L118.8 1410.5L119.8 1410.5L120.8 1410.5L121.8 1410.5L122.8 1410.5L123.8 1410.6L124.8 1410.3L125.8 1410.1L126.8 1409.8L127.8 1409.6L128.8 1409.4L129.8 1409.2L130.8 1409.1L131.8 1409.0L132.8 1408.8L133.8 1408.7L134.8 1408.8L135.8 1409.1L136.8 1409.3L137.8 1409.5L138.8 1409.1L139.8 1408.3L140.8 1407.5L141.8 1406.7L142.8 1406.1L143.8 1405.6L144.8 1405.2L145.8 1405.2L146.8 1405.3L147.8 1405.3L148.8 1405.1L149.8 1404.6L150.8 1404.0L151.8 1403.4L152.8 1403.6L153.8 1403.7L154.8 1403.8L155.8 1403.3L156.8 1402.3L157.8 1401.2L158.8 1400.3L159.8 1400.2L160.8 1400.0L161.8 1399.9L162.8 1399.6L163.8 1399.3L164.8 1398.9L165.8 1398.5L166.8 1397.5L167.8 1396.6L168.8 1395.6L169.8 1395.3L170.8 1395.6L171.8 1395.9L172.8 1396.2L173.8 1395.4L174.8 1394.7L175.8 1394.1L176.8 1393.5L177.8 1393.0L178.8 1392.5L179.8 1392.1L180.8 1391.9L181.8 1391.7L182.8 1391.5L183.8 1391.3L184.8 1391.2L185.8 1391.0L186.8 1390.8L187.8 1390.3L188.8 1389.8L189.8 1389.2L190.8 1388.7L191.8 1388.3L192.8 1387.8L193.8 1387.2L194.8 1386.5L195.8 1385.7L196.8 1384.8L197.8 1384.0L198.8 1383.3L199.8 1382.6L200.8 1381.5L201.8 1380.1L202.8 1378.7L203.8 1377.2L204.8 1375.6L205.8 1373.7L206.8 1371.9L207.8 1370.0L208.8 1368.4L209.8 1366.9L210.8 1365.3L211.8 1364.0L212.8 1362.8L213.8 1361.7L214.8 1360.5L215.8 1358.8L216.8 1357.1L217.8 1355.4L218.8 1353.6L219.8 1351.8L220.8 1350.0L221.8 1348.1L222.8 1346.1L223.8 1344.1L224.8 1342.1L225.8 1340.3L226.8 1338.8L227.8 1337.3L228.8 1335.8L229.8 1334.1L230.8 1332.4L231.8 1330.7L232.8 1329.1L233.8 1327.7L234.8 1326.3L235.8 1324.8L236.8 1322.4L237.8 1319.9L238.8 1317.3L239.8 1314.7L240.8 1312.1L241.8 1309.5L242.8 1306.8L243.8 1304.4L244.8 1301.8L245.8 1299.3L246.8 1296.8L247.8 1294.4L248.8 1292.0L249.8 1289.6L250.8 1287.3L251.8 1285.1L252.8 1282.8L253.8 1280.2L254.8 1277.2L255.8 1274.2L256.8 1271.2L257.8 1269.1L258.8 1266.9L259.8 1264.8L260.8 1262.3L261.8 1259.4L262.8 1256.5L263.8 1253.6L264.8 1251.0L265.8 1248.4L266.8 1245.7L267.8 1243.0L268.8 1240.2L269.8 1237.2L270.8 1234.2L271.8 1231.5L272.8 1228.8L273.8 1226.0L274.8 1222.9L275.8 1219.3L276.8 1215.6L277.8 1211.9L278.8 1208.8L279.8 1205.8L280.8 1202.9L281.8 1199.7L282.8 1196.1L283.8 1192.5L284.8 1189.1L285.8 1186.8L286.8 1184.8L287.8 1183.3L288.8 1181.9L289.8 1180.9L290.8 1180.5L291.8 1180.5L292.8 1181.1L293.8 1182.0L294.8 1183.0L295.8 1184.1L296.8 1185.1L297.8 1186.3L298.8 1187.8L299.8 1190.6L300.8 1193.7L301.8 1197.0L302.8 1200.0L303.8 1202.8L304.8 1205.5L305.8 1208.0L306.8 1210.5L307.8 1212.9L308.8 1215.3L309.8 1217.5L310.8 1219.4L311.8 1220.9L312.8 1221.9L313.8 1222.3L314.8 1222.3L315.8 1221.9L316.8 1221.1L317.8 1220.3L318.8 1219.5L319.8 1218.7L320.8 1218.0L321.8 1217.2L322.8 1216.3L323.8 1214.9L324.8 1213.3L325.8 1211.5L326.8 1209.6L327.8 1208.0L328.8 1206.4L329.8 1204.8L330.8 1203.3L331.8 1201.8L332.8 1200.2L333.8 1198.6L334.8 1196.1L335.8 1193.8L336.8 1191.8L337.8 1193.2L338.8 1195.8L339.8 1198.7L340.8 1201.8L341.8 1205.2L342.8 1208.6L343.8 1212.0L344.8 1214.8L345.8 1217.2L346.8 1219.4L347.8 1221.5L348.8 1224.5L349.8 1227.5L350.8 1230.5L351.8 1233.0L352.8 1235.0L353.8 1237.0L354.8 1239.1L355.8 1241.3L356.8 1243.4L357.8 1245.6L358.8 1248.0L359.8 1250.6L360.8 1253.0L361.8 1255.3L362.8 1257.1L363.8 1258.4L364.8 1259.1L365.8 1259.6L366.8 1260.2L367.8 1260.8L368.8 1261.4L369.8 1260.8L370.8 1260.1L371.8 1259.7L372.8 1260.0L373.8 1261.4L374.8 1263.1L375.8 1264.4L376.8 1264.6L377.8 1264.8L378.8 1264.9L379.8 1265.4L380.8 1265.9L381.8 1266.1L382.8 1266.2L383.8 1266.3L384.8 1266.7L385.8 1267.4L386.8 1268.6L387.8 1270.0L388.8 1271.6L389.8 1273.3L390.8 1274.9L391.8 1276.2L392.8 1277.3L393.8 1278.1L394.8 1278.5L395.8 1278.8L396.8 1279.1L397.8 1279.5L398.8 1280.5L399.8 1281.8L400.8 1283.2L401.8 1284.5L402.8 1285.9L403.8 1287.4L404.8 1289.1L405.8 1290.8L406.8 1292.2L407.8 1293.6L408.8 1295.1L409.8 1296.6L410.8 1298.2L411.8 1299.5L412.8 1300.8L413.8 1302.2L414.8 1303.5L415.8 1304.7L416.8 1306.1L417.8 1307.6L418.8 1310.3L419.8 1311.6L420.8 1312.7L421.8 1313.8L422.8 1315.1L423.8 1316.4L424.8 1317.8L425.8 1319.3L426.8 1320.8L427.8 1322.6L428.8 1324.2L429.8 1325.7L430.8 1327.1L431.8 1328.9L432.8 1331.1L433.8 1333.3L434.8 1335.2L435.8 1337.0L436.8 1338.6L437.8 1340.2L438.8 1341.8L439.8 1343.1L440.8 1344.4L441.8 1345.6L442.8 1346.7L443.8 1347.6L444.8 1348.5L445.8 1349.3L446.8 1350.8L447.8 1352.3L448.8 1353.9L449.8 1354.9L450.8 1355.5L451.8 1355.9L452.8 1356.2L453.8 1356.8L454.8 1357.3L455.8 1357.6L456.8 1358.0L457.8 1358.3L458.8 1358.7L459.8 1358.9L460.8 1358.5L461.8 1357.9L462.8 1356.9L463.8 1356.6L464.8 1356.9L465.8 1357.5L466.8 1358.5L467.8 1359.1L468.8 1359.8L469.8 1360.6L470.8 1361.2L471.8 1361.4L472.8 1361.6L473.8 1361.9L474.8 1363.0L475.8 1364.3L476.8 1365.6L477.8 1366.6L478.8 1367.4L479.8 1368.1L480.8 1368.9L481.8 1370.6L482.8 1372.2L483.8 1373.8L484.8 1374.8L485.8 1375.3L486.8 1375.7L487.8 1376.1L488.8 1376.6L489.8 1376.9L490.8 1377.1L491.8 1377.3L492.8 1377.5L493.8 1377.6L494.8 1377.8L495.8 1378.2L496.8 1378.6L497.8 1378.9L498.8 1379.0L499.8 1378.9L500.8 1378.8L501.8 1378.7L502.8 1378.7L503.8 1378.6L504.8 1378.6L505.8 1378.5L506.8 1378.3L507.8 1378.1L508.8 1377.9L509.8 1377.6L510.8 1377.2L511.8 1376.9L512.8 1377.1L513.8 1377.7L514.8 1378.4L515.8 1379.1L516.8 1379.0L517.8 1378.8L518.8 1378.6L519.8 1378.3L520.8 1377.9L521.8 1377.6L522.8 1377.2L523.8 1377.0L524.8 1377.0L525.8 1376.8L526.8 1376.7L527.8 1376.7L528.8 1376.7L529.8 1376.7L530.8 1377.1L531.8 1377.5L532.8 1377.9L533.8 1378.1L534.8 1378.1L535.8 1378.1L536.8 1378.1L537.8 1378.0L538.8 1378.0L539.8 1377.9L540.8 1378.0L541.8 1378.2L542.8 1378.4L543.8 1378.5L544.8 1378.1L545.8 1377.6L546.8 1377.2L547.8 1377.1L548.8 1377.5L549.8 1377.9L550.8 1378.3L551.8 1377.9L552.8 1377.5L553.8 1377.2L554.8 1376.8L555.8 1376.4L556.8 1376.1L557.8 1375.7L558.8 1375.7L559.8 1375.6L560.8 1375.3L561.8 1374.7L562.8 1373.9L563.8 1373.1L564.8 1372.4L565.8 1371.7L566.8 1371.2L567.8 1370.9L568.8 1371.1L569.8 1371.7L570.8 1372.4L571.8 1373.1L572.8 1372.4L573.8 1371.8L574.8 1371.3L575.8 1371.5L576.8 1371.8L577.8 1372.1L578.8 1372.4L579.8 1372.4L580.8 1372.4L581.8 1372.4L582.8 1372.4L583.8 1372.4L584.8 1373.0L585.8 1373.7L586.8 1374.4L587.8 1374.9L588.8 1375.3L589.8 1375.8L590.8 1376.2L591.8 1376.6L592.8 1377.1L593.8 1376.6L594.8 1376.1L595.8 1375.7L596.8 1375.5L597.8 1375.6L598.8 1375.6L599.8 1375.7L600.8 1375.8L601.8 1375.9L602.8 1375.9L603.8 1375.9L604.8 1376.0L605.8 1376.0L606.8 1376.1L607.8 1376.1L608.8 1376.2L609.8 1376.4L610.8 1376.6L611.8 1376.8L612.8 1377.1L613.8 1377.4L614.8 1377.3L615.8 1377.2L616.8 1377.0L617.8 1377.1L618.8 1377.6L619.8 1378.1L620.8 1378.6L621.8 1378.5L622.8 1378.3L623.8 1378.2L624.8 1378.2L625.8 1378.2L626.8 1378.3L627.8 1378.5L628.8 1378.0L629.8 1377.5L630.8 1377.0L631.8 1376.8L632.8 1376.8L633.8 1376.7L634.8 1376.5L635.8 1376.6L636.8 1376.6L637.8 1376.6L638.8 1376.5L639.8 1376.3L640.8 1376.1L641.8 1375.8L642.8 1375.7L643.8 1375.5L644.8 1375.3L645.8 1375.0L646.8 1374.7L647.8 1374.5L648.8 1374.2L649.8 1374.2L650.8 1374.2L651.8 1374.1L652.8 1374.0L653.8 1374.2L654.8 1374.2L655.8 1374.3L656.8 1373.5L657.8 1372.6L658.8 1371.6L659.8 1371.1L660.8 1370.9L661.8 1370.7L662.8 1370.4L663.8 1370.0L664.8 1369.5L665.8 1369.0L666.8 1368.3L667.8 1367.5L668.8 1366.6L669.8 1365.8L670.8 1364.7L671.8 1363.4L672.8 1362.1L673.8 1361.0L674.8 1360.0L675.8 1359.0L676.8 1357.7L677.8 1355.9L678.8 1354.2L679.8 1352.7L681.9 1349.1L683.2 1345.9L684.4 1342.6L685.4 1339.4L686.2 1336.1L687.0 1332.9L687.8 1329.6L688.5 1326.4L689.2 1323.1L689.8 1319.8L690.4 1316.6L691.1 1313.3L691.7 1310.1L692.3 1306.8L692.9 1303.6L693.5 1300.3L694.2 1297.1L694.8 1293.8L695.4 1290.6L696.0 1287.3L696.5 1284.1L697.0 1280.8L697.5 1277.5L698.0 1274.3L698.5 1271.0L698.9 1267.8L699.3 1264.5L699.7 1261.3L700.1 1258.0L700.5 1254.8L700.9 1251.5L701.2 1248.3L701.5 1245.0L701.9 1241.8L702.2 1238.5L702.5 1235.2L702.7 1232.0L703.0 1228.7L703.3 1225.5L703.5 1222.2L703.8 1219.0L704.0 1215.7L704.3 1212.6L704.5 1209.7L704.8 1206.9L705.0 1204.2L705.3 1201.6L705.6 1199.2L705.9 1196.8L706.1 1194.4L706.4 1192.2L706.7 1189.9L707.0 1187.6L707.3 1185.4L707.5 1183.1L707.8 1180.8L708.1 1178.5L708.3 1176.1L708.6 1173.7L708.8 1171.2L709.1 1168.7L709.3 1166.1L709.5 1163.5L709.7 1160.8L709.9 1158.0L710.1 1155.2L710.3 1152.4L710.5 1149.4L710.7 1146.5L710.8 1143.4L711.0 1140.3L711.2 1137.2L711.3 1134.1L711.4 1130.9L711.6 1127.6L711.7 1124.4L711.8 1121.1L711.9 1117.7L712.1 1114.4L712.2 1111.0L712.3 1107.6L712.4 1104.1L712.5 1100.7L712.6 1097.2L712.7 1093.8L712.7 1090.3L712.8 1086.8L712.9 1083.2L713.0 1079.7L713.1 1076.2L713.2 1072.6L713.3 1069.1L713.3 1065.5L713.4 1061.9L713.5 1058.4L713.6 1054.8L713.6 1051.2L713.7 1047.6L713.8 1044.0L713.8 1040.4L713.9 1036.8L714.0 1033.2L714.0 1029.6L714.1 1026.0L714.1 1022.4L714.2 1018.8L714.3 1015.2L714.3 1011.6L714.4 1008.0L714.4 1004.4L714.4 1000.8L714.5 997.2L714.5 993.6L714.6 990.0L714.6 986.4L714.7 982.8L714.7 979.2L714.8 975.6L714.8 972.0L714.8 968.4L714.9 964.8L714.9 961.2L714.9 957.7L715.0 954.1L715.0 950.5L715.0 946.9L715.1 943.3L715.1 939.7L715.1 936.1L715.1 932.5L715.2 928.9L715.2 925.3L715.2 921.7L715.3 918.1L715.3 914.5L715.3 910.9L715.3 907.3L715.4 903.7L715.5 900.1L715.6 903.3L715.7 906.6L715.7 909.8L715.8 913.0L715.8 916.3L715.9 919.5L715.9 922.7L715.9 926.0L716.0 929.2L716.0 932.4L716.0 935.7L716.1 938.9L716.1 942.2L716.1 945.4L716.2 948.6L716.2 951.9L716.2 955.1L716.3 958.3L716.3 961.6L716.4 964.8L716.4 968.0L716.5 971.3L716.5 974.5L716.6 977.7L716.7 981.0L716.7 984.2L716.8 987.4L716.8 990.7L716.9 993.9L717.0 997.1L717.0 1000.4L717.1 1003.6L717.2 1006.8L717.2 1010.1L717.3 1013.3L717.4 1016.5L717.5 1019.8L717.5 1023.0L717.6 1026.3L717.7 1029.5L717.8 1032.7L717.8 1036.0L717.9 1039.2L718.0 1042.4L718.1 1045.6L718.2 1048.8L718.3 1052.0L718.3 1055.2L718.4 1058.4L718.5 1061.6L718.6 1064.7L718.7 1067.8L718.8 1071.0L718.9 1074.1L719.0 1077.2L719.1 1080.3L719.3 1083.3L719.4 1086.4L719.5 1089.4L719.6 1092.4L719.7 1095.3L719.9 1098.3L720.0 1101.2L720.1 1104.1L720.3 1106.9L720.4 1109.7L720.6 1112.5L720.7 1115.2L720.9 1117.9L721.0 1120.5L721.2 1123.1L721.4 1125.7L721.5 1128.2L721.7 1130.6L721.9 1133.0L722.1 1135.3L722.3 1137.6L722.5 1139.8L722.6 1142.0L722.8 1144.1L723.0 1146.2L723.2 1148.2L723.4 1150.2L723.6 1152.2L723.8 1154.2L724.1 1156.1L724.3 1158.1L724.5 1160.1L724.7 1162.1L724.9 1164.1L725.1 1166.2L725.3 1168.4L725.5 1170.7L725.7 1173.0L725.9 1175.5L726.1 1178.1L726.3 1180.9L726.5 1183.8L726.7 1186.7L726.9 1189.6L727.1 1192.5L727.4 1195.4L727.6 1198.3L727.8 1201.2L728.1 1204.0L728.3 1206.9L728.6 1209.8L728.8 1212.7L729.1 1215.6L729.4 1218.5L729.6 1221.4L729.9 1224.3L730.2 1227.2L730.5 1230.1L730.8 1233.0L731.1 1235.9L731.4 1238.8L731.7 1241.7L732.0 1244.6L732.3 1247.5L732.6 1250.4L732.9 1253.3L733.2 1256.2L733.5 1259.0L733.8 1261.9L734.1 1264.8L734.5 1267.7L734.8 1270.6L735.2 1273.5L735.6 1276.4L736.0 1279.3L736.5 1282.2L736.9 1285.1L737.5 1288.0L738.0 1290.9L738.7 1293.8L739.5 1296.7L740.6 1299.6L742.0 1302.5L742.8 1304.3L743.8 1306.4L744.8 1308.5L745.8 1310.7L746.8 1312.6L747.8 1313.6L748.8 1314.6L749.8 1315.4L750.8 1316.3L751.8 1317.5L752.8 1318.6L753.8 1319.7L754.8 1321.2L755.8 1322.7L756.8 1324.2L757.8 1325.4L758.8 1326.3L759.8 1327.0L760.8 1327.6L761.8 1328.6L762.8 1329.5L763.8 1330.2L764.8 1331.0L765.8 1331.7L766.8 1332.4L767.8 1333.0L768.8 1333.0L769.8 1332.9L770.8 1332.7L771.8 1332.5L772.8 1332.4L773.8 1332.3L774.8 1332.2L775.8 1332.0L776.8 1331.7L777.8 1331.4L778.8 1331.2L779.8 1331.2L780.8 1331.2L781.8 1331.1L782.8 1330.9L783.8 1330.6L784.8 1330.3L785.8 1330.0L786.8 1330.4L787.8 1331.1L788.8 1331.6L789.8 1331.9L790.8 1332.1L791.8 1332.2L792.8 1332.5L793.8 1332.3L794.8 1331.6L795.8 1330.5L796.8 1328.5L797.8 1326.6L798.8 1324.8L799.8 1323.2L800.8 1321.9L801.8 1320.5L802.8 1319.1L803.8 1317.6L804.8 1316.2L805.8 1314.7L806.8 1313.5L807.8 1312.3L808.8 1311.2L809.8 1310.2L810.8 1308.6L811.8 1307.1L812.8 1305.5L813.8 1304.1L814.8 1303.0L815.8 1302.3L816.8 1302.2L817.8 1301.1L818.8 1299.9L819.8 1298.6L820.8 1297.5L821.8 1296.6L822.8 1295.6L823.8 1294.7L824.8 1293.8L825.8 1293.0L826.8 1292.2L827.8 1291.0L828.8 1289.2L829.8 1287.4L830.8 1285.6L831.8 1285.0L832.8 1284.6L833.8 1284.1L834.8 1283.4L835.8 1282.3L836.8 1281.0L837.8 1279.5L838.8 1277.9L839.8 1276.1L840.8 1274.2L841.8 1272.1L842.8 1269.9L843.8 1267.7L844.8 1265.4L845.8 1262.9L846.8 1260.5L847.8 1258.2L848.8 1256.2L849.8 1254.2L850.8 1252.0L851.8 1249.9L852.8 1247.7L853.8 1245.7L854.8 1243.8L855.8 1242.2L856.8 1241.1L857.8 1240.5L858.8 1240.5L859.8 1240.4L860.8 1240.2L861.8 1240.2L862.8 1240.8L863.8 1241.9L864.8 1243.2L865.8 1244.7L866.8 1246.0L867.8 1247.8L868.8 1251.0L869.8 1254.5L870.8 1257.5L871.8 1260.4L872.8 1263.1L873.8 1265.9L874.8 1268.8L875.8 1271.9L876.8 1275.1L877.8 1278.3L878.8 1281.6L879.8 1284.7L880.8 1288.3L881.8 1291.7L882.8 1294.9L883.8 1297.8L884.8 1300.6L885.8 1303.3L886.8 1306.0L887.8 1308.0L888.8 1310.1L889.8 1312.1L890.8 1314.3L891.8 1316.8L892.8 1319.1L893.8 1321.3L894.8 1323.2L895.8 1325.2L896.8 1327.2L897.8 1328.9L898.8 1330.5L899.8 1332.1L900.8 1333.7L901.8 1336.7L902.8 1339.7L903.8 1342.6L904.8 1344.8L905.8 1346.4L906.8 1347.9L907.8 1349.4L908.8 1350.9L909.8 1352.3L910.8 1353.7L911.8 1355.0L912.8 1356.2L913.8 1357.4L914.8 1358.5L915.8 1359.2L916.8 1359.8L917.8 1360.3L918.8 1360.8L919.8 1361.3L920.8 1361.7L921.8 1362.1L922.8 1363.3L923.8 1364.5L924.8 1365.6L925.8 1366.5L926.8 1367.0L927.8 1367.5L928.8 1368.0L929.8 1368.3L930.8 1368.4L931.8 1368.5L932.8 1368.6L933.8 1368.6L934.8 1368.7L935.8 1368.8L936.8 1369.3L937.8 1369.8L938.8 1370.5L939.8 1371.0L940.8 1371.3L941.8 1371.7L942.8 1372.0L943.8 1372.2L944.8 1372.3L945.8 1372.5L946.8 1372.7L947.8 1372.9L948.8 1372.9L949.8 1372.8L950.8 1373.6L951.8 1374.4L952.8 1375.2L953.8 1375.7L954.8 1375.6L955.8 1375.6L956.8 1375.5L957.8 1375.7L958.8 1375.8L959.8 1376.0L960.8 1376.1L961.8 1376.1L962.8 1376.2L963.8 1376.4L964.8 1376.9L965.8 1377.4L966.8 1378.0L967.8 1378.5L968.8 1378.8L969.8 1379.2L970.8 1379.5L971.8 1380.7L972.8 1381.9L973.8 1383.2L974.8 1384.2L975.8 1385.1L976.8 1386.0L977.8 1387.1L978.8 1387.9L979.8 1388.8L980.8 1389.7L981.8 1390.7L982.8 1391.8L983.8 1393.0L984.8 1394.2L985.8 1395.3L986.8 1396.6L987.8 1397.8L988.8 1399.1L989.8 1400.2L990.8 1400.9L991.8 1401.4L992.8 1401.2L993.8 1400.9L994.8 1400.6L995.8 1400.6L996.8 1401.0L997.8 1401.5L998.8 1402.2L999.8 1403.4L1000.8 1404.8L1001.8 1406.1L1002.8 1406.8L1003.8 1407.0L1004.8 1407.0L1005.8 1407.1L1006.8 1407.3L1007.8 1407.5L1008.8 1407.6" stroke="#03033d"/>
<path d="M95.8 1401.2L96.8 1401.9L97.8 1402.7L98.8 1403.4L99.8 1403.5L100.8 1403.1L101.8 1402.7L102.8 1402.2L103.8 1402.1L104.8 1401.9L105.8 1401.8L106.8 1401.6L107.8 1401.3L108.8 1401.1L109.8 1400.8L110.8 1401.0L111.8 1401.3L112.8 1401.5L113.8 1401.6L114.8 1401.5L115.8 1401.4L116.8 1401.3L117.8 1401.2L118.8 1401.0L119.8 1400.9L120.8 1401.1L121.8 1401.5L122.8 1402.0L123.8 1402.5L124.8 1402.3L125.8 1402.2L126.8 1402.0L127.8 1401.7L128.8 1401.3L129.8 1400.9L130.8 1400.5L131.8 1400.4L132.8 1400.2L133.8 1400.0L134.8 1399.9L135.8 1399.9L136.8 1399.8L137.8 1399.7L138.8 1399.5L139.8 1398.9L140.8 1398.2L141.8 1397.1L142.8 1395.8L143.8 1394.8L144.8 1393.8L145.8 1394.6L146.8 1395.5L147.8 1396.4L148.8 1396.7L149.8 1396.4L150.8 1396.1L151.8 1395.8L152.8 1396.3L153.8 1396.7L154.8 1397.1L155.8 1396.7L156.8 1395.4L157.8 1394.1L158.8 1393.0L159.8 1392.4L160.8 1391.9L161.8 1391.4L162.8 1391.0L163.8 1390.8L164.8 1390.5L165.8 1390.2L166.8 1389.7L167.8 1389.1L168.8 1388.5L169.8 1388.0L170.8 1387.5L171.8 1387.0L172.8 1386.4L173.8 1385.9L174.8 1385.5L175.8 1385.2L176.8 1384.5L177.8 1383.6L178.8 1382.8L179.8 1382.0L180.8 1382.3L181.8 1382.7L182.8 1383.1L183.8 1382.9L184.8 1382.1L185.8 1381.3L186.8 1380.4L187.8 1380.3L188.8 1380.0L189.8 1379.7L190.8 1379.2L191.8 1378.6L192.8 1377.9L193.8 1377.3L194.8 1377.0L195.8 1376.6L196.8 1376.3L197.8 1375.8L198.8 1375.2L199.8 1374.6L200.8 1373.5L201.8 1372.1L202.8 1370.6L203.8 1369.1L204.8 1367.3L205.8 1365.1L206.8 1362.9L207.8 1360.7L208.8 1359.2L209.8 1357.6L210.8 1356.0L211.8 1354.4L212.8 1352.8L213.8 1351.2L214.8 1349.5L215.8 1347.8L216.8 1346.1L217.8 1344.3L218.8 1342.7L219.8 1341.1L220.8 1339.6L221.8 1338.1L222.8 1336.1L223.8 1334.2L224.8 1332.3L225.8 1330.3L226.8 1328.4L227.8 1326.5L228.8 1324.5L229.8 1323.3L230.8 1322.2L231.8 1321.0L232.8 1319.3L233.8 1317.2L234.8 1315.0L235.8 1312.8L236.8 1310.9L237.8 1308.8L238.8 1306.6L239.8 1303.9L240.8 1300.7L241.8 1297.4L242.8 1294.1L243.8 1291.5L244.8 1288.8L245.8 1286.1L246.8 1283.3L247.8 1280.4L248.8 1277.4L249.8 1274.5L250.8 1271.6L251.8 1268.7L252.8 1265.9L253.8 1262.9L254.8 1259.7L255.8 1256.6L256.8 1253.5L257.8 1251.1L258.8 1248.7L259.8 1246.4L260.8 1243.5L261.8 1240.2L262.8 1236.8L263.8 1233.4L264.8 1231.0L265.8 1228.6L266.8 1226.1L267.8 1223.5L268.8 1220.8L269.8 1218.1L270.8 1215.2L271.8 1211.7L272.8 1208.1L273.8 1204.4L274.8 1200.7L275.8 1196.8L276.8 1192.8L277.8 1188.7L278.8 1184.7L279.8 1180.7L280.8 1176.7L281.8 1173.0L282.8 1169.6L283.8 1166.2L284.8 1162.9L285.8 1159.1L286.8 1155.7L287.8 1152.7L288.8 1150.5L289.8 1149.6L290.8 1149.3L291.8 1149.4L292.8 1149.8L293.8 1150.5L294.8 1151.3L295.8 1152.6L296.8 1154.2L297.8 1155.8L298.8 1157.8L299.8 1159.0L300.8 1160.3L301.8 1161.8L302.8 1163.9L303.8 1166.6L304.8 1169.3L305.8 1171.8L306.8 1173.6L307.8 1175.3L308.8 1177.0L309.8 1178.1L310.8 1178.7L311.8 1178.9L312.8 1178.3L313.8 1177.1L314.8 1175.5L315.8 1173.5L316.8 1171.4L317.8 1169.5L318.8 1167.6L319.8 1165.8L320.8 1163.3L321.8 1160.6L322.8 1157.8L323.8 1155.4L324.8 1153.2L325.8 1151.0L326.8 1148.8L327.8 1146.5L328.8 1144.1L329.8 1141.8L330.8 1139.1L331.8 1135.9L332.8 1132.7L333.8 1129.5L334.8 1125.6L335.8 1122.0L336.8 1119.0L337.8 1120.8L338.8 1124.8L339.8 1129.2L340.8 1133.7L341.8 1137.9L342.8 1142.1L343.8 1146.2L344.8 1150.4L345.8 1154.6L346.8 1158.6L347.8 1162.6L348.8 1165.9L349.8 1169.1L350.8 1172.4L351.8 1175.6L352.8 1178.8L353.8 1182.1L354.8 1185.4L355.8 1188.7L356.8 1192.1L357.8 1195.4L358.8 1198.9L359.8 1202.5L360.8 1205.9L361.8 1209.2L362.8 1211.9L363.8 1213.9L364.8 1215.1L365.8 1216.0L366.8 1216.7L367.8 1217.5L368.8 1218.2L369.8 1218.1L370.8 1217.8L371.8 1217.8L372.8 1218.4L373.8 1220.0L374.8 1222.2L375.8 1223.2L376.8 1224.7L377.8 1226.3L378.8 1227.8L379.8 1228.8L380.8 1229.0L381.8 1228.7L382.8 1228.3L383.8 1227.9L384.8 1227.9L385.8 1228.5L386.8 1229.9L387.8 1231.8L388.8 1234.0L389.8 1236.3L390.8 1238.8L391.8 1241.0L392.8 1242.9L393.8 1243.9L394.8 1244.1L395.8 1244.0L396.8 1243.9L397.8 1244.5L398.8 1245.8L399.8 1247.4L400.8 1249.0L401.8 1250.4L402.8 1251.9L403.8 1253.4L404.8 1255.3L405.8 1257.1L406.8 1258.6L407.8 1259.7L408.8 1260.6L409.8 1261.6L410.8 1262.7L411.8 1263.6L412.8 1264.6L413.8 1265.7L414.8 1267.2L415.8 1269.0L416.8 1270.9L417.8 1273.1L418.8 1276.1L419.8 1277.6L420.8 1278.7L421.8 1279.8L422.8 1280.6L423.8 1281.6L424.8 1282.6L425.8 1283.9L426.8 1285.3L427.8 1287.1L428.8 1288.6L429.8 1289.8L430.8 1291.0L431.8 1292.7L432.8 1296.1L433.8 1299.4L434.8 1302.3L435.8 1304.8L436.8 1306.8L437.8 1308.8L438.8 1310.7L439.8 1312.3L440.8 1313.9L441.8 1315.4L442.8 1317.0L443.8 1318.5L444.8 1320.1L445.8 1321.5L446.8 1322.4L447.8 1323.4L448.8 1324.4L449.8 1325.8L450.8 1327.6L451.8 1329.2L452.8 1330.7L453.8 1331.8L454.8 1332.6L455.8 1333.2L456.8 1333.1L457.8 1332.4L458.8 1331.6L459.8 1330.8L460.8 1331.1L461.8 1330.9L462.8 1330.4L463.8 1329.3L464.8 1327.9L465.8 1326.8L466.8 1326.3L467.8 1327.0L468.8 1327.8L469.8 1328.9L470.8 1330.2L471.8 1331.6L472.8 1333.0L473.8 1334.6L474.8 1335.8L475.8 1337.3L476.8 1338.8L477.8 1340.5L478.8 1342.2L479.8 1343.9L480.8 1345.6L481.8 1347.3L482.8 1348.9L483.8 1350.3L484.8 1351.4L485.8 1352.3L486.8 1353.1L487.8 1353.9L488.8 1355.1L489.8 1356.1L490.8 1356.9L491.8 1356.9L492.8 1356.2L493.8 1355.5L494.8 1354.7L495.8 1355.4L496.8 1356.0L497.8 1356.5L498.8 1356.4L499.8 1355.8L500.8 1355.2L501.8 1354.6L502.8 1354.6L503.8 1354.5L504.8 1354.5L505.8 1354.6L506.8 1355.0L507.8 1355.3L508.8 1355.5L509.8 1355.0L510.8 1354.5L511.8 1354.0L512.8 1353.9L513.8 1354.0L514.8 1354.2L515.8 1354.3L516.8 1354.8L517.8 1355.2L518.8 1355.7L519.8 1355.7L520.8 1355.4L521.8 1355.1L522.8 1354.7L523.8 1355.6L524.8 1356.8L525.8 1357.7L526.8 1357.4L527.8 1356.1L528.8 1354.8L529.8 1353.5L530.8 1353.5L531.8 1353.5L532.8 1353.5L533.8 1353.2L534.8 1352.4L535.8 1351.7L536.8 1350.9L537.8 1351.6L538.8 1352.3L539.8 1352.9L540.8 1353.2L541.8 1352.9L542.8 1352.7L543.8 1352.5L544.8 1352.6L545.8 1352.8L546.8 1352.9L547.8 1352.8L548.8 1352.5L549.8 1352.2L550.8 1351.9L551.8 1351.5L552.8 1351.1L553.8 1350.7L554.8 1350.2L555.8 1349.6L556.8 1348.9L557.8 1348.1L558.8 1348.5L559.8 1348.7L560.8 1348.5L561.8 1347.5L562.8 1345.8L563.8 1344.1L564.8 1342.6L565.8 1341.5L566.8 1340.7L567.8 1340.3L568.8 1340.4L569.8 1341.0L570.8 1341.7L571.8 1342.4L572.8 1341.9L573.8 1341.4L574.8 1341.1L575.8 1341.4L576.8 1341.7L577.8 1342.0L578.8 1342.3L579.8 1341.9L580.8 1341.5L581.8 1341.3L582.8 1341.5L583.8 1342.7L584.8 1344.7L585.8 1346.7L586.8 1347.2L587.8 1347.4L588.8 1347.6L589.8 1348.5L590.8 1350.3L591.8 1352.0L592.8 1353.7L593.8 1353.4L594.8 1353.2L595.8 1353.0L596.8 1352.9L597.8 1353.0L598.8 1353.0L599.8 1353.0L600.8 1353.0L601.8 1353.0L602.8 1352.9L603.8 1352.8L604.8 1352.8L605.8 1352.7L606.8 1352.8L607.8 1352.8L608.8 1352.9L609.8 1353.1L610.8 1353.5L611.8 1354.0L612.8 1354.5L613.8 1355.1L614.8 1355.4L615.8 1355.5L616.8 1355.5L617.8 1355.6L618.8 1356.1L619.8 1356.6L620.8 1357.0L621.8 1356.5L622.8 1356.0L623.8 1355.5L624.8 1355.5L625.8 1355.9L626.8 1356.4L627.8 1356.9L628.8 1357.4L629.8 1357.9L630.8 1358.4L631.8 1358.5L632.8 1358.2L633.8 1357.8L634.8 1357.2L635.8 1357.4L636.8 1357.6L637.8 1357.8L638.8 1357.6L639.8 1357.1L640.8 1356.6L641.8 1356.0L642.8 1356.6L643.8 1357.1L644.8 1357.7L645.8 1357.6L646.8 1356.8L647.8 1356.1L648.8 1355.4L649.8 1355.9L650.8 1356.2L651.8 1356.5L652.8 1356.5L653.8 1356.4L654.8 1356.2L655.8 1356.0L656.8 1355.7L657.8 1355.3L658.8 1354.9L659.8 1354.5L660.8 1354.2L661.8 1353.8L662.8 1353.3L663.8 1352.4L664.8 1351.3L665.8 1350.2L666.8 1349.1L667.8 1348.1L668.8 1347.0L669.8 1346.0L670.8 1344.8L671.8 1343.5L672.8 1342.1L673.8 1340.7L674.8 1339.4L675.8 1338.0L676.8 1336.5L677.8 1334.9L678.8 1333.2L679.8 1331.5L681.9 1328.1L683.2 1325.0L684.3 1321.9L685.2 1318.8L686.0 1315.7L686.8 1312.6L687.4 1309.5L688.1 1306.4L688.8 1303.3L689.4 1300.2L690.0 1297.1L690.5 1294.0L691.1 1290.9L691.7 1287.8L692.3 1284.7L692.9 1281.6L693.5 1278.5L694.1 1275.4L694.6 1272.3L695.2 1269.2L695.6 1266.1L696.1 1263.0L696.6 1259.9L697.0 1256.8L697.5 1253.7L697.9 1250.6L698.3 1247.5L698.7 1244.4L699.1 1241.3L699.4 1238.2L699.8 1235.1L700.1 1232.0L700.5 1228.9L700.8 1225.8L701.1 1222.7L701.4 1219.6L701.7 1216.5L701.9 1213.4L702.2 1210.2L702.5 1207.1L702.7 1204.0L702.9 1201.0L703.2 1198.0L703.5 1195.2L703.7 1192.6L704.0 1190.2L704.3 1187.9L704.6 1185.7L704.8 1183.5L705.1 1181.5L705.4 1179.5L705.7 1177.6L706.0 1175.6L706.3 1173.7L706.6 1171.8L706.9 1169.9L707.2 1167.9L707.5 1165.9L707.8 1163.9L708.0 1161.8L708.3 1159.6L708.6 1157.4L708.8 1155.1L709.0 1152.8L709.3 1150.4L709.5 1148.0L709.7 1145.4L709.9 1142.9L710.1 1140.2L710.3 1137.5L710.5 1134.7L710.7 1131.9L710.9 1129.0L711.0 1126.1L711.2 1123.1L711.3 1120.0L711.5 1117.0L711.6 1113.9L711.7 1110.7L711.8 1107.5L712.0 1104.3L712.1 1101.0L712.2 1097.7L712.3 1094.4L712.4 1091.1L712.5 1087.7L712.6 1084.3L712.7 1080.9L712.8 1077.5L712.9 1074.0L713.0 1070.6L713.1 1067.1L713.1 1063.6L713.2 1060.1L713.3 1056.5L713.4 1053.0L713.5 1049.5L713.5 1045.9L713.6 1042.4L713.7 1038.8L713.7 1035.2L713.8 1031.7L713.9 1028.1L713.9 1024.6L714.0 1021.0L714.0 1017.5L714.1 1013.9L714.2 1010.3L714.2 1006.8L714.3 1003.2L714.3 999.7L714.4 996.1L714.4 992.6L714.5 989.0L714.5 985.5L714.5 981.9L714.6 978.3L714.6 974.8L714.7 971.2L714.7 967.7L714.8 964.1L714.8 960.6L714.8 957.0L714.9 953.4L714.9 949.9L714.9 946.3L715.0 942.8L715.0 939.2L715.0 935.7L715.1 932.1L715.1 928.6L715.1 925.0L715.2 921.4L715.2 917.9L715.2 914.3L715.3 910.8L715.3 907.2L715.4 903.7L715.5 900.1L715.7 903.3L715.7 906.5L715.8 909.7L715.8 912.9L715.9 916.0L715.9 919.2L716.0 922.4L716.0 925.6L716.0 928.8L716.1 932.0L716.1 935.2L716.1 938.4L716.2 941.6L716.2 944.8L716.3 947.9L716.3 951.1L716.3 954.3L716.4 957.5L716.4 960.7L716.5 963.9L716.5 967.1L716.6 970.3L716.7 973.5L716.7 976.6L716.8 979.8L716.8 983.0L716.9 986.2L717.0 989.4L717.0 992.6L717.1 995.8L717.2 999.0L717.2 1002.2L717.3 1005.4L717.4 1008.5L717.5 1011.7L717.5 1014.9L717.6 1018.1L717.7 1021.3L717.8 1024.5L717.8 1027.7L717.9 1030.9L718.0 1034.1L718.1 1037.2L718.2 1040.4L718.3 1043.6L718.3 1046.7L718.4 1049.8L718.5 1052.9L718.6 1056.0L718.7 1059.1L718.8 1062.1L718.9 1065.2L719.0 1068.2L719.2 1071.2L719.3 1074.2L719.4 1077.1L719.5 1080.0L719.6 1082.9L719.8 1085.7L719.9 1088.6L720.0 1091.3L720.2 1094.1L720.3 1096.8L720.5 1099.4L720.6 1102.1L720.8 1104.6L720.9 1107.1L721.1 1109.6L721.3 1112.0L721.4 1114.4L721.6 1116.7L721.8 1119.0L722.0 1121.2L722.2 1123.3L722.4 1125.4L722.6 1127.4L722.8 1129.4L723.0 1131.3L723.2 1133.2L723.4 1135.0L723.6 1136.8L723.8 1138.5L724.0 1140.3L724.2 1142.0L724.4 1143.7L724.6 1145.4L724.9 1147.1L725.1 1148.8L725.3 1150.6L725.5 1152.4L725.7 1154.3L725.9 1156.3L726.1 1158.4L726.3 1160.6L726.5 1162.9L726.7 1165.4L726.9 1168.0L727.1 1170.7L727.3 1173.5L727.5 1176.3L727.7 1179.0L727.9 1181.8L728.1 1184.6L728.4 1187.3L728.6 1190.1L728.8 1192.8L729.1 1195.6L729.3 1198.4L729.6 1201.1L729.8 1203.9L730.1 1206.6L730.3 1209.4L730.6 1212.2L730.9 1214.9L731.2 1217.7L731.4 1220.5L731.7 1223.2L732.0 1226.0L732.3 1228.7L732.5 1231.5L732.8 1234.3L733.1 1237.0L733.4 1239.8L733.7 1242.5L734.0 1245.3L734.3 1248.1L734.6 1250.8L734.9 1253.6L735.2 1256.4L735.6 1259.1L736.0 1261.9L736.4 1264.6L736.9 1267.4L737.4 1270.2L737.9 1272.9L738.5 1275.7L739.3 1278.5L740.4 1281.2L742.0 1284.0L742.8 1285.7L743.8 1287.9L744.8 1290.0L745.8 1292.0L746.8 1293.7L747.8 1294.7L748.8 1295.7L749.8 1296.5L750.8 1297.3L751.8 1298.0L752.8 1298.7L753.8 1299.4L754.8 1300.8L755.8 1302.2L756.8 1303.7L757.8 1304.9L758.8 1305.8L759.8 1306.6L760.8 1307.3L761.8 1308.7L762.8 1310.0L763.8 1311.2L764.8 1312.0L765.8 1312.3L766.8 1312.6L767.8 1312.8L768.8 1313.2L769.8 1313.5L770.8 1313.6L771.8 1313.9L772.8 1314.2L773.8 1314.6L774.8 1314.9L775.8 1314.5L776.8 1314.1L777.8 1313.6L778.8 1313.2L779.8 1312.8L780.8 1312.3L781.8 1311.9L782.8 1311.0L783.8 1310.1L784.8 1309.1L785.8 1308.7L786.8 1309.4L787.8 1310.4L788.8 1311.3L789.8 1311.6L790.8 1311.9L791.8 1312.1L792.8 1312.4L793.8 1311.9L794.8 1310.7L795.8 1309.0L796.8 1306.6L797.8 1304.3L798.8 1302.2L799.8 1300.6L800.8 1299.3L801.8 1298.0L802.8 1296.7L803.8 1295.0L804.8 1293.4L805.8 1291.7L806.8 1289.7L807.8 1287.2L808.8 1284.7L809.8 1282.3L810.8 1280.2L811.8 1278.3L812.8 1276.3L813.8 1274.7L814.8 1273.8L815.8 1273.6L816.8 1274.2L817.8 1273.5L818.8 1272.5L819.8 1271.6L820.8 1270.8L821.8 1270.2L822.8 1269.6L823.8 1269.1L824.8 1268.0L825.8 1267.1L826.8 1266.4L827.8 1265.7L828.8 1265.1L829.8 1264.4L830.8 1263.8L831.8 1263.3L832.8 1263.1L833.8 1262.8L834.8 1262.7L835.8 1262.6L836.8 1262.0L837.8 1261.4L838.8 1259.5L839.8 1257.4L840.8 1255.0L841.8 1252.8L842.8 1250.9L843.8 1248.8L844.8 1246.6L845.8 1244.6L846.8 1242.7L847.8 1241.0L848.8 1238.8L849.8 1236.1L850.8 1233.4L851.8 1230.5L852.8 1228.1L853.8 1225.8L854.8 1223.5L855.8 1221.4L856.8 1219.6L857.8 1218.5L858.8 1218.0L859.8 1217.8L860.8 1217.5L861.8 1217.4L862.8 1218.0L863.8 1219.2L864.8 1220.6L865.8 1222.1L866.8 1223.8L867.8 1226.2L868.8 1230.8L869.8 1235.5L870.8 1239.2L871.8 1242.6L872.8 1245.9L873.8 1248.8L874.8 1251.8L875.8 1255.0L876.8 1258.8L877.8 1263.0L878.8 1267.2L879.8 1271.3L880.8 1275.1L881.8 1278.6L882.8 1281.9L883.8 1284.8L884.8 1287.4L885.8 1289.9L886.8 1292.3L887.8 1295.3L888.8 1298.4L889.8 1301.3L890.8 1303.8L891.8 1305.6L892.8 1307.2L893.8 1308.7L894.8 1310.0L895.8 1311.4L896.8 1312.8L897.8 1314.7L898.8 1317.1L899.8 1319.7L900.8 1322.3L901.8 1324.5L902.8 1326.7L903.8 1328.9L904.8 1330.9L905.8 1332.9L906.8 1334.8L907.8 1336.7L908.8 1338.3L909.8 1339.9L910.8 1341.3L911.8 1342.9L912.8 1344.6L913.8 1346.3L914.8 1347.9L915.8 1348.8L916.8 1349.7L917.8 1350.5L918.8 1351.3L919.8 1352.2L920.8 1352.9L921.8 1353.5L922.8 1354.0L923.8 1354.5L924.8 1355.0L925.8 1355.5L926.8 1356.2L927.8 1356.8L928.8 1357.3L929.8 1358.1L930.8 1358.7L931.8 1359.3L932.8 1359.7L933.8 1359.8L934.8 1360.0L935.8 1360.3L936.8 1359.9L937.8 1359.7L938.8 1359.6L939.8 1359.7L940.8 1360.1L941.8 1360.5L942.8 1360.9L943.8 1361.2L944.8 1361.5L945.8 1361.8L946.8 1362.1L947.8 1362.5L948.8 1362.8L949.8 1362.9L950.8 1362.9L951.8 1362.9L952.8 1363.0L953.8 1363.1L954.8 1363.1L955.8 1363.2L956.8 1363.3L957.8 1364.0L958.8 1364.7L959.8 1365.4L960.8 1365.6L961.8 1365.4L962.8 1365.2L963.8 1365.1L964.8 1366.1L965.8 1367.2L966.8 1368.3L967.8 1369.2L968.8 1369.9L969.8 1370.7L970.8 1371.4L971.8 1372.2L972.8 1373.1L973.8 1374.0L974.8 1374.8L975.8 1375.4L976.8 1376.2L977.8 1377.1L978.8 1378.0L979.8 1379.0L980.8 1380.0L981.8 1381.3L982.8 1382.9L983.8 1384.6L984.8 1386.2L985.8 1387.3L986.8 1388.5L987.8 1389.8L988.8 1391.2L989.8 1392.6L990.8 1393.6L991.8 1394.2L992.8 1394.4L993.8 1394.6L994.8 1394.8L995.8 1395.5L996.8 1396.8L997.8 1398.1L998.8 1399.7L999.8 1399.3L1000.8 1399.0L1001.8 1398.6L1002.8 1398.7L1003.8 1399.3L1004.8 1399.8L1005.8 1400.3L1006.8 1401.1L1007.8 1401.9L1008.8 1402.7" stroke="#040451"/>
<path d="M95.8 1390.5L96.8 1390.1L97.8 1389.6L98.8 1389.1L99.8 1389.3L100.8 1389.9L101.8 1390.6L102.8 1391.3L103.8 1391.7L104.8 1392.2L105.8 1392.7L106.8 1392.5L107.8 1391.7L108.8 1390.8L109.8 1390.0L110.8 1390.2L111.8 1390.4L112.8 1390.6L113.8 1390.3L114.8 1389.3L115.8 1388.4L116.8 1387.6L117.8 1387.7L118.8 1388.0L119.8 1388.2L120.8 1388.4L121.8 1388.7L122.8 1388.9L123.8 1389.2L124.8 1389.2L125.8 1389.2L126.8 1389.1L127.8 1388.9L128.8 1388.6L129.8 1388.3L130.8 1388.0L131.8 1388.1L132.8 1388.2L133.8 1388.3L134.8 1388.3L135.8 1388.3L136.8 1388.2L137.8 1388.1L138.8 1387.5L139.8 1386.4L140.8 1385.1L141.8 1384.2L142.8 1383.9L143.8 1383.8L144.8 1383.9L145.8 1383.9L146.8 1384.0L147.8 1384.0L148.8 1384.2L149.8 1384.6L150.8 1384.8L151.8 1385.0L152.8 1384.2L153.8 1383.4L154.8 1382.4L155.8 1381.8L156.8 1381.5L157.8 1381.2L158.8 1381.1L159.8 1381.2L160.8 1381.3L161.8 1381.4L162.8 1381.0L163.8 1380.1L164.8 1379.3L165.8 1378.4L166.8 1377.8L167.8 1377.2L168.8 1376.6L169.8 1376.0L170.8 1375.4L171.8 1374.6L172.8 1373.7L173.8 1373.2L174.8 1372.6L175.8 1372.1L176.8 1371.6L177.8 1371.0L178.8 1370.4L179.8 1369.9L180.8 1370.2L181.8 1370.5L182.8 1370.8L183.8 1370.8L184.8 1370.4L185.8 1369.9L186.8 1369.4L187.8 1369.1L188.8 1368.8L189.8 1368.5L190.8 1367.9L191.8 1367.0L192.8 1366.1L193.8 1365.2L194.8 1364.7L195.8 1364.1L196.8 1363.4L197.8 1362.8L198.8 1362.1L199.8 1361.4L200.8 1360.3L201.8 1358.6L202.8 1356.9L203.8 1355.1L204.8 1353.6L205.8 1352.6L206.8 1351.5L207.8 1350.3L208.8 1348.0L209.8 1345.7L210.8 1343.3L211.8 1341.0L212.8 1338.6L213.8 1336.2L214.8 1333.8L215.8 1332.4L216.8 1330.9L217.8 1329.4L218.8 1327.7L219.8 1325.9L220.8 1324.0L221.8 1322.2L222.8 1320.0L223.8 1317.9L224.8 1315.8L225.8 1314.0L226.8 1312.4L227.8 1310.8L228.8 1309.2L229.8 1307.4L230.8 1305.5L231.8 1303.6L232.8 1301.8L233.8 1300.2L234.8 1298.5L235.8 1296.9L236.8 1294.0L237.8 1291.1L238.8 1288.1L239.8 1285.1L240.8 1282.2L241.8 1279.1L242.8 1276.0L243.8 1273.4L244.8 1270.6L245.8 1267.9L246.8 1264.8L247.8 1261.3L248.8 1257.8L249.8 1254.3L250.8 1251.1L251.8 1248.0L252.8 1244.8L253.8 1242.1L254.8 1239.8L255.8 1237.5L256.8 1235.3L257.8 1232.6L258.8 1230.0L259.8 1227.3L260.8 1224.5L261.8 1221.5L262.8 1218.5L263.8 1215.5L264.8 1213.1L265.8 1210.8L266.8 1208.4L267.8 1205.2L268.8 1201.2L269.8 1197.1L270.8 1193.0L271.8 1189.6L272.8 1186.1L273.8 1182.5L274.8 1179.5L275.8 1177.0L276.8 1174.3L277.8 1171.5L278.8 1166.2L279.8 1160.9L280.8 1155.7L281.8 1151.5L282.8 1148.4L283.8 1145.4L284.8 1142.6L285.8 1138.9L286.8 1135.6L287.8 1132.7L288.8 1130.1L289.8 1128.3L290.8 1127.1L291.8 1126.4L292.8 1128.1L293.8 1130.0L294.8 1132.2L295.8 1133.6L296.8 1134.2L297.8 1134.8L298.8 1135.7L299.8 1137.4L300.8 1139.2L301.8 1141.0L302.8 1142.9L303.8 1144.6L304.8 1146.2L305.8 1147.7L306.8 1149.1L307.8 1150.3L308.8 1151.4L309.8 1152.1L310.8 1152.4L311.8 1152.2L312.8 1151.0L313.8 1149.4L314.8 1147.5L315.8 1145.2L316.8 1142.1L317.8 1138.4L318.8 1134.8L319.8 1131.4L320.8 1128.3L321.8 1125.1L322.8 1121.8L323.8 1118.6L324.8 1115.7L325.8 1112.7L326.8 1109.6L327.8 1105.9L328.8 1102.2L329.8 1098.6L330.8 1094.4L331.8 1089.4L332.8 1084.3L333.8 1079.3L334.8 1076.6L335.8 1074.4L336.8 1072.7L337.8 1075.5L338.8 1079.4L339.8 1083.7L340.8 1088.3L341.8 1093.5L342.8 1098.6L343.8 1103.7L344.8 1108.4L345.8 1112.7L346.8 1116.7L347.8 1120.6L348.8 1126.0L349.8 1131.4L350.8 1136.8L351.8 1141.3L352.8 1144.9L353.8 1148.5L354.8 1152.2L355.8 1156.1L356.8 1160.1L357.8 1164.0L358.8 1168.1L359.8 1172.2L360.8 1176.2L361.8 1179.9L362.8 1183.5L363.8 1186.2L364.8 1188.1L365.8 1189.4L366.8 1190.5L367.8 1191.6L368.8 1192.7L369.8 1193.3L370.8 1193.7L371.8 1194.5L372.8 1195.8L373.8 1198.2L374.8 1201.2L375.8 1202.3L376.8 1202.7L377.8 1203.0L378.8 1203.3L379.8 1203.5L380.8 1203.2L381.8 1202.4L382.8 1201.4L383.8 1200.8L384.8 1200.5L385.8 1201.0L386.8 1201.9L387.8 1203.0L388.8 1204.4L389.8 1206.0L390.8 1208.3L391.8 1210.3L392.8 1211.8L393.8 1212.7L394.8 1212.8L395.8 1212.4L396.8 1212.1L397.8 1211.5L398.8 1211.8L399.8 1212.5L400.8 1213.7L401.8 1215.5L402.8 1217.4L403.8 1219.3L404.8 1219.7L405.8 1220.0L406.8 1219.8L407.8 1219.9L408.8 1220.4L409.8 1221.1L410.8 1221.8L411.8 1222.0L412.8 1222.3L413.8 1222.7L414.8 1223.4L415.8 1224.5L416.8 1225.6L417.8 1227.0L418.8 1229.5L419.8 1230.8L420.8 1232.0L421.8 1233.2L422.8 1234.3L423.8 1235.6L424.8 1236.9L425.8 1237.8L426.8 1238.9L427.8 1240.6L428.8 1242.8L429.8 1245.3L430.8 1248.0L431.8 1251.4L432.8 1255.8L433.8 1260.2L434.8 1264.0L435.8 1267.0L436.8 1269.5L437.8 1271.9L438.8 1274.1L439.8 1275.1L440.8 1275.9L441.8 1276.7L442.8 1278.4L443.8 1281.1L444.8 1283.7L445.8 1286.2L446.8 1287.2L447.8 1288.3L448.8 1289.4L449.8 1290.9L450.8 1292.7L451.8 1294.3L452.8 1295.7L453.8 1296.8L454.8 1297.5L455.8 1297.9L456.8 1297.9L457.8 1297.5L458.8 1297.0L459.8 1296.4L460.8 1296.5L461.8 1296.1L462.8 1295.1L463.8 1293.4L464.8 1291.4L465.8 1289.9L466.8 1289.3L467.8 1289.8L468.8 1290.7L469.8 1291.9L470.8 1293.3L471.8 1294.8L472.8 1296.3L473.8 1298.2L474.8 1301.2L475.8 1304.5L476.8 1307.9L477.8 1310.6L478.8 1312.5L479.8 1314.3L480.8 1316.1L481.8 1318.6L482.8 1320.9L483.8 1323.1L484.8 1324.8L485.8 1326.2L486.8 1327.5L487.8 1328.8L488.8 1330.2L489.8 1331.4L490.8 1332.3L491.8 1332.6L492.8 1332.7L493.8 1332.6L494.8 1332.5L495.8 1332.7L496.8 1332.9L497.8 1332.9L498.8 1333.1L499.8 1333.5L500.8 1333.8L501.8 1334.2L502.8 1333.7L503.8 1333.2L504.8 1332.6L505.8 1332.0L506.8 1331.2L507.8 1330.5L508.8 1329.7L509.8 1329.7L510.8 1329.7L511.8 1329.7L512.8 1329.9L513.8 1330.1L514.8 1330.4L515.8 1330.6L516.8 1331.0L517.8 1331.3L518.8 1331.6L519.8 1331.5L520.8 1331.0L521.8 1330.5L522.8 1329.9L523.8 1330.8L524.8 1331.7L525.8 1332.4L526.8 1332.3L527.8 1331.5L528.8 1330.7L529.8 1330.0L530.8 1329.6L531.8 1329.1L532.8 1328.7L533.8 1328.3L534.8 1327.8L535.8 1327.3L536.8 1326.8L537.8 1327.3L538.8 1327.8L539.8 1328.3L540.8 1328.4L541.8 1328.1L542.8 1327.8L543.8 1327.5L544.8 1326.5L545.8 1325.5L546.8 1324.5L547.8 1324.3L548.8 1324.8L549.8 1325.3L550.8 1325.8L551.8 1325.4L552.8 1324.9L553.8 1324.5L554.8 1324.0L555.8 1323.6L556.8 1323.0L557.8 1322.4L558.8 1321.1L559.8 1319.5L560.8 1317.5L561.8 1315.5L562.8 1313.9L563.8 1312.3L564.8 1310.9L565.8 1308.4L566.8 1306.6L567.8 1305.1L568.8 1304.7L569.8 1305.4L570.8 1306.1L571.8 1306.9L572.8 1306.7L573.8 1306.5L574.8 1306.5L575.8 1306.9L576.8 1306.9L577.8 1306.9L578.8 1307.0L579.8 1307.3L580.8 1307.7L581.8 1308.2L582.8 1308.5L583.8 1309.1L584.8 1310.9L585.8 1312.8L586.8 1314.4L587.8 1315.6L588.8 1316.7L589.8 1317.4L590.8 1317.8L591.8 1318.1L592.8 1318.4L593.8 1319.0L594.8 1319.6L595.8 1320.3L596.8 1320.8L597.8 1321.1L598.8 1321.4L599.8 1321.6L600.8 1322.4L601.8 1323.0L602.8 1323.6L603.8 1324.0L604.8 1324.3L605.8 1324.6L606.8 1324.9L607.8 1324.2L608.8 1323.5L609.8 1323.1L610.8 1323.4L611.8 1324.1L612.8 1325.0L613.8 1325.9L614.8 1327.5L615.8 1328.8L616.8 1329.9L617.8 1330.6L618.8 1331.1L619.8 1331.5L620.8 1331.8L621.8 1331.9L622.8 1332.0L623.8 1332.0L624.8 1331.9L625.8 1331.5L626.8 1331.2L627.8 1331.0L628.8 1331.9L629.8 1332.8L630.8 1333.7L631.8 1334.1L632.8 1334.1L633.8 1333.9L634.8 1333.4L635.8 1333.3L636.8 1333.2L637.8 1333.0L638.8 1332.9L639.8 1332.7L640.8 1332.5L641.8 1332.3L642.8 1331.9L643.8 1331.5L644.8 1331.1L645.8 1331.2L646.8 1331.7L647.8 1332.3L648.8 1332.9L649.8 1332.9L650.8 1332.9L651.8 1332.7L652.8 1332.9L653.8 1333.5L654.8 1334.1L655.8 1334.8L656.8 1334.1L657.8 1333.5L658.8 1332.7L659.8 1332.0L660.8 1331.3L661.8 1330.4L662.8 1329.3L663.8 1329.3L664.8 1329.0L665.8 1328.6L666.8 1327.8L667.8 1326.4L668.8 1325.0L669.8 1323.6L670.8 1322.0L671.8 1320.3L672.8 1318.5L673.8 1316.6L674.8 1314.7L675.8 1312.7L676.8 1310.9L677.8 1309.2L678.8 1307.6L679.8 1306.1L681.8 1302.9L683.1 1300.0L684.1 1297.1L685.0 1294.2L685.8 1291.2L686.4 1288.3L687.1 1285.4L687.7 1282.5L688.3 1279.6L688.8 1276.6L689.4 1273.7L689.9 1270.8L690.4 1267.9L690.9 1265.0L691.5 1262.0L692.0 1259.1L692.6 1256.2L693.1 1253.3L693.6 1250.4L694.1 1247.4L694.6 1244.5L695.0 1241.6L695.5 1238.7L695.9 1235.8L696.3 1232.9L696.7 1229.9L697.1 1227.0L697.5 1224.1L697.8 1221.2L698.2 1218.3L698.5 1215.3L698.9 1212.4L699.2 1209.5L699.5 1206.6L699.8 1203.7L700.1 1200.7L700.4 1197.8L700.6 1194.9L700.9 1192.0L701.2 1189.1L701.4 1186.2L701.7 1183.2L701.9 1180.5L702.2 1177.9L702.4 1175.5L702.7 1173.3L703.0 1171.2L703.3 1169.2L703.6 1167.3L703.9 1165.5L704.2 1163.7L704.5 1162.1L704.8 1160.4L705.2 1158.8L705.5 1157.2L705.8 1155.6L706.1 1153.9L706.4 1152.3L706.7 1150.6L707.0 1148.8L707.3 1147.1L707.5 1145.2L707.8 1143.3L708.1 1141.4L708.3 1139.3L708.6 1137.3L708.8 1135.1L709.1 1132.9L709.3 1130.6L709.5 1128.3L709.7 1125.8L709.9 1123.3L710.1 1120.8L710.3 1118.2L710.5 1115.5L710.7 1112.8L710.8 1110.0L711.0 1107.2L711.1 1104.3L711.3 1101.4L711.4 1098.4L711.6 1095.3L711.7 1092.3L711.8 1089.2L711.9 1086.0L712.1 1082.9L712.2 1079.6L712.3 1076.4L712.4 1073.1L712.5 1069.8L712.6 1066.5L712.7 1063.2L712.8 1059.8L712.8 1056.4L712.9 1053.0L713.0 1049.5L713.1 1046.1L713.2 1042.6L713.2 1039.1L713.3 1035.6L713.4 1032.2L713.5 1028.7L713.5 1025.2L713.6 1021.7L713.7 1018.3L713.7 1014.8L713.8 1011.3L713.9 1007.8L713.9 1004.4L714.0 1000.9L714.0 997.4L714.1 993.9L714.1 990.5L714.2 987.0L714.2 983.5L714.3 980.0L714.3 976.6L714.4 973.1L714.4 969.6L714.5 966.1L714.5 962.7L714.6 959.2L714.6 955.7L714.7 952.2L714.7 948.8L714.8 945.3L714.8 941.8L714.8 938.3L714.9 934.9L714.9 931.4L715.0 927.9L715.0 924.4L715.0 921.0L715.1 917.5L715.1 914.0L715.2 910.5L715.3 907.1L715.3 903.6L715.5 900.1L715.7 903.2L715.8 906.3L715.9 909.4L715.9 912.5L716.0 915.6L716.0 918.7L716.1 921.9L716.1 925.0L716.2 928.1L716.2 931.2L716.2 934.3L716.3 937.4L716.3 940.5L716.4 943.6L716.4 946.7L716.5 949.8L716.5 952.9L716.6 956.0L716.6 959.2L716.7 962.3L716.8 965.4L716.8 968.5L716.9 971.6L716.9 974.7L717.0 977.8L717.1 980.9L717.1 984.0L717.2 987.1L717.3 990.2L717.4 993.3L717.4 996.5L717.5 999.6L717.6 1002.7L717.7 1005.8L717.7 1008.9L717.8 1012.0L717.9 1015.1L718.0 1018.2L718.1 1021.3L718.1 1024.4L718.2 1027.5L718.3 1030.6L718.4 1033.7L718.5 1036.8L718.6 1039.9L718.7 1042.9L718.8 1045.9L718.9 1048.9L719.0 1051.9L719.1 1054.8L719.2 1057.7L719.3 1060.6L719.4 1063.4L719.6 1066.3L719.7 1069.0L719.8 1071.8L719.9 1074.5L720.1 1077.2L720.2 1079.8L720.4 1082.4L720.5 1085.0L720.7 1087.5L720.8 1089.9L721.0 1092.3L721.1 1094.7L721.3 1097.0L721.5 1099.2L721.7 1101.4L721.8 1103.5L722.0 1105.6L722.2 1107.6L722.4 1109.6L722.6 1111.5L722.8 1113.4L723.0 1115.2L723.2 1116.9L723.4 1118.6L723.6 1120.2L723.8 1121.8L724.1 1123.4L724.3 1124.9L724.5 1126.4L724.7 1127.9L724.9 1129.4L725.1 1130.9L725.3 1132.4L725.6 1133.9L725.8 1135.4L726.0 1137.0L726.2 1138.7L726.4 1140.4L726.6 1142.2L726.8 1144.2L727.0 1146.2L727.2 1148.4L727.4 1150.7L727.6 1153.1L727.8 1155.7L728.0 1158.4L728.1 1161.0L728.4 1163.6L728.6 1166.2L728.8 1168.8L729.0 1171.4L729.2 1174.0L729.4 1176.6L729.6 1179.2L729.9 1181.8L730.1 1184.4L730.3 1187.1L730.6 1189.7L730.8 1192.3L731.1 1194.9L731.3 1197.5L731.6 1200.1L731.8 1202.7L732.1 1205.3L732.4 1207.9L732.6 1210.5L732.9 1213.1L733.1 1215.7L733.4 1218.4L733.6 1221.0L733.9 1223.6L734.2 1226.2L734.4 1228.8L734.7 1231.4L735.0 1234.0L735.3 1236.6L735.7 1239.2L736.0 1241.8L736.4 1244.4L736.8 1247.1L737.2 1249.7L737.7 1252.3L738.2 1254.9L739.1 1257.5L740.3 1260.1L742.0 1262.7L742.8 1264.2L743.8 1265.9L744.8 1267.8L745.8 1269.6L746.8 1271.3L747.8 1272.8L748.8 1274.3L749.8 1275.6L750.8 1276.7L751.8 1277.5L752.8 1278.3L753.8 1279.1L754.8 1280.3L755.8 1281.5L756.8 1282.7L757.8 1283.7L758.8 1284.4L759.8 1285.1L760.8 1285.5L761.8 1286.6L762.8 1287.6L763.8 1288.5L764.8 1289.1L765.8 1289.2L766.8 1289.3L767.8 1289.3L768.8 1290.4L769.8 1291.4L770.8 1292.2L771.8 1292.5L772.8 1292.3L773.8 1292.1L774.8 1291.9L775.8 1291.8L776.8 1291.7L777.8 1291.6L778.8 1291.0L779.8 1290.0L780.8 1289.0L781.8 1287.9L782.8 1288.7L783.8 1289.4L784.8 1290.1L785.8 1290.3L786.8 1291.0L787.8 1291.9L788.8 1292.7L789.8 1293.2L790.8 1293.7L791.8 1294.0L792.8 1294.2L793.8 1293.2L794.8 1291.3L795.8 1288.7L796.8 1286.5L797.8 1284.4L798.8 1282.6L799.8 1280.4L800.8 1277.7L801.8 1275.0L802.8 1272.3L803.8 1269.9L804.8 1267.4L805.8 1264.9L806.8 1262.6L807.8 1260.5L808.8 1258.3L809.8 1256.2L810.8 1253.9L811.8 1251.8L812.8 1249.6L813.8 1248.0L814.8 1247.4L815.8 1247.7L816.8 1249.0L817.8 1247.1L818.8 1244.9L819.8 1242.7L820.8 1241.7L821.8 1241.8L822.8 1242.0L823.8 1242.2L824.8 1241.5L825.8 1240.9L826.8 1240.4L827.8 1240.4L828.8 1240.6L829.8 1240.8L830.8 1240.9L831.8 1241.7L832.8 1242.7L833.8 1243.8L834.8 1244.2L835.8 1243.9L836.8 1243.2L837.8 1242.3L838.8 1241.9L839.8 1241.2L840.8 1240.2L841.8 1238.3L842.8 1235.6L843.8 1232.6L844.8 1229.5L845.8 1226.8L846.8 1224.2L847.8 1221.7L848.8 1219.1L849.8 1216.5L850.8 1213.7L851.8 1210.8L852.8 1208.4L853.8 1206.1L854.8 1203.8L855.8 1201.1L856.8 1198.3L857.8 1196.2L858.8 1194.9L859.8 1195.0L860.8 1194.9L861.8 1195.1L862.8 1195.6L863.8 1196.3L864.8 1197.2L865.8 1198.3L866.8 1199.7L867.8 1202.1L868.8 1207.4L869.8 1213.1L870.8 1217.1L871.8 1220.9L872.8 1224.5L873.8 1228.7L874.8 1233.1L875.8 1237.6L876.8 1242.1L877.8 1246.8L878.8 1251.3L879.8 1255.7L880.8 1260.0L881.8 1263.9L882.8 1267.5L883.8 1270.5L884.8 1273.2L885.8 1275.7L886.8 1278.1L887.8 1280.5L888.8 1282.9L889.8 1285.3L890.8 1288.0L891.8 1291.0L892.8 1293.7L893.8 1296.2L894.8 1296.8L895.8 1297.4L896.8 1298.0L897.8 1299.6L898.8 1302.3L899.8 1305.1L900.8 1308.0L901.8 1309.7L902.8 1311.4L903.8 1312.9L904.8 1314.9L905.8 1317.2L906.8 1319.4L907.8 1321.6L908.8 1323.0L909.8 1324.3L910.8 1325.4L911.8 1326.7L912.8 1328.2L913.8 1329.6L914.8 1330.9L915.8 1332.6L916.8 1334.2L917.8 1335.7L918.8 1337.4L919.8 1339.2L920.8 1340.9L921.8 1342.5L922.8 1342.8L923.8 1343.0L924.8 1343.2L925.8 1343.7L926.8 1344.5L927.8 1345.1L928.8 1345.7L929.8 1345.6L930.8 1345.3L931.8 1344.9L932.8 1344.6L933.8 1344.6L934.8 1344.6L935.8 1344.6L936.8 1344.4L937.8 1344.3L938.8 1344.3L939.8 1344.6L940.8 1345.2L941.8 1345.7L942.8 1346.2L943.8 1346.7L944.8 1347.2L945.8 1347.7L946.8 1348.4L947.8 1349.1L948.8 1349.5L949.8 1349.8L950.8 1349.5L951.8 1349.3L952.8 1349.1L953.8 1348.9L954.8 1348.8L955.8 1348.6L956.8 1348.4L957.8 1348.8L958.8 1349.2L959.8 1349.7L960.8 1350.0L961.8 1350.1L962.8 1350.3L963.8 1350.7L964.8 1351.9L965.8 1353.1L966.8 1354.5L967.8 1355.6L968.8 1356.3L969.8 1357.1L970.8 1357.8L971.8 1358.7L972.8 1359.5L973.8 1360.5L974.8 1361.5L975.8 1362.8L976.8 1364.1L977.8 1365.7L978.8 1367.1L979.8 1368.6L980.8 1370.2L981.8 1371.9L982.8 1373.9L983.8 1376.0L984.8 1378.1L985.8 1379.0L986.8 1380.2L987.8 1381.4L988.8 1383.1L989.8 1385.1L990.8 1386.5L991.8 1387.5L992.8 1387.6L993.8 1387.6L994.8 1387.6L995.8 1387.9L996.8 1388.7L997.8 1389.5L998.8 1390.7L999.8 1391.3L1000.8 1392.2L1001.8 1392.9L1002.8 1393.3L1003.8 1393.2L1004.8 1393.0L1005.8 1392.8L1006.8 1393.3L1007.8 1393.8L1008.8 1394.2" stroke="#050565"/>
<path d="M95.8 1375.3L96.8 1375.1L97.8 1374.9L98.8 1374.6L99.8 1374.6L100.8 1374.9L101.8 1375.1L102.8 1375.3L103.8 1375.9L104.8 1376.5L105.8 1377.0L106.8 1377.0L107.8 1376.3L108.8 1375.6L109.8 1374.9L110.8 1375.2L111.8 1375.5L112.8 1375.8L113.8 1376.0L114.8 1376.2L115.8 1376.3L116.8 1376.5L117.8 1376.3L118.8 1376.1L119.8 1375.9L120.8 1375.7L121.8 1375.5L122.8 1375.3L123.8 1375.1L124.8 1375.3L125.8 1375.5L126.8 1375.7L127.8 1375.5L128.8 1375.0L129.8 1374.5L130.8 1374.0L131.8 1373.8L132.8 1373.6L133.8 1373.5L134.8 1373.4L135.8 1373.4L136.8 1373.3L137.8 1373.1L138.8 1373.5L139.8 1373.2L140.8 1372.7L141.8 1372.0L142.8 1371.7L143.8 1371.9L144.8 1372.1L145.8 1371.6L146.8 1371.1L147.8 1370.6L148.8 1370.5L149.8 1370.7L150.8 1370.8L151.8 1370.8L152.8 1369.8L153.8 1368.7L154.8 1367.5L155.8 1366.9L156.8 1367.0L157.8 1367.0L158.8 1367.4L159.8 1366.6L160.8 1365.9L161.8 1365.3L162.8 1364.5L163.8 1363.5L164.8 1362.5L165.8 1361.4L166.8 1362.1L167.8 1362.7L168.8 1363.4L169.8 1363.5L170.8 1363.1L171.8 1362.4L172.8 1361.7L173.8 1360.9L174.8 1360.2L175.8 1359.6L176.8 1358.9L177.8 1358.1L178.8 1357.4L179.8 1356.8L180.8 1356.8L181.8 1356.7L182.8 1356.6L183.8 1356.3L184.8 1355.5L185.8 1354.7L186.8 1353.7L187.8 1354.1L188.8 1354.3L189.8 1354.5L190.8 1353.9L191.8 1352.5L192.8 1351.0L193.8 1349.6L194.8 1349.4L195.8 1349.3L196.8 1349.1L197.8 1348.3L198.8 1347.1L199.8 1345.8L200.8 1344.0L201.8 1342.1L202.8 1340.2L203.8 1338.2L204.8 1336.6L205.8 1335.4L206.8 1334.2L207.8 1333.0L208.8 1330.4L209.8 1327.8L210.8 1325.1L211.8 1323.1L212.8 1321.7L213.8 1320.3L214.8 1318.8L215.8 1316.8L216.8 1314.8L217.8 1312.8L218.8 1310.8L219.8 1308.7L220.8 1306.7L221.8 1304.7L222.8 1302.9L223.8 1301.1L224.8 1299.3L225.8 1297.7L226.8 1296.0L227.8 1294.4L228.8 1292.8L229.8 1290.5L230.8 1288.2L231.8 1285.9L232.8 1283.8L233.8 1281.8L234.8 1279.9L235.8 1277.8L236.8 1275.6L237.8 1273.3L238.8 1270.9L239.8 1268.2L240.8 1265.4L241.8 1262.5L242.8 1259.5L243.8 1256.4L244.8 1253.3L245.8 1250.1L246.8 1247.3L247.8 1244.8L248.8 1242.3L249.8 1239.8L250.8 1236.0L251.8 1232.2L252.8 1228.3L253.8 1225.3L254.8 1223.0L255.8 1220.8L256.8 1218.5L257.8 1215.4L258.8 1212.3L259.8 1209.2L260.8 1206.3L261.8 1203.6L262.8 1200.9L263.8 1198.1L264.8 1195.3L265.8 1192.3L266.8 1189.4L267.8 1186.3L268.8 1183.1L269.8 1179.8L270.8 1176.5L271.8 1173.0L272.8 1169.5L273.8 1166.0L274.8 1162.8L275.8 1159.6L276.8 1156.3L277.8 1152.9L278.8 1148.1L279.8 1143.2L280.8 1138.4L281.8 1133.9L282.8 1129.6L283.8 1125.5L284.8 1121.5L285.8 1118.5L286.8 1115.9L287.8 1113.7L288.8 1112.1L289.8 1111.5L290.8 1111.5L291.8 1111.8L292.8 1112.6L293.8 1113.6L294.8 1114.8L295.8 1116.0L296.8 1117.1L297.8 1118.1L298.8 1119.3L299.8 1119.8L300.8 1120.2L301.8 1120.6L302.8 1121.7L303.8 1123.3L304.8 1124.8L305.8 1126.1L306.8 1127.2L307.8 1128.0L308.8 1128.7L309.8 1128.3L310.8 1126.8L311.8 1124.7L312.8 1121.5L313.8 1119.5L314.8 1117.0L315.8 1114.3L316.8 1110.7L317.8 1106.6L318.8 1102.5L319.8 1098.7L320.8 1094.9L321.8 1090.9L322.8 1086.9L323.8 1083.1L324.8 1079.4L325.8 1075.6L326.8 1071.9L327.8 1067.9L328.8 1063.9L329.8 1059.9L330.8 1055.2L331.8 1049.7L332.8 1044.0L333.8 1038.4L334.8 1035.1L335.8 1032.1L336.8 1029.8L337.8 1032.4L338.8 1036.4L339.8 1040.9L340.8 1045.7L341.8 1050.3L342.8 1054.9L343.8 1059.6L344.8 1064.4L345.8 1069.3L346.8 1074.0L347.8 1078.5L348.8 1082.4L349.8 1086.3L350.8 1090.1L351.8 1093.9L352.8 1097.7L353.8 1101.6L354.8 1105.5L355.8 1110.0L356.8 1114.5L357.8 1119.1L358.8 1123.0L359.8 1126.4L360.8 1129.5L361.8 1132.3L362.8 1136.6L363.8 1139.9L364.8 1142.1L365.8 1143.3L366.8 1143.7L367.8 1144.1L368.8 1144.4L369.8 1143.7L370.8 1142.6L371.8 1142.0L372.8 1142.5L373.8 1144.8L374.8 1147.8L375.8 1149.2L376.8 1149.6L377.8 1150.1L378.8 1150.4L379.8 1150.5L380.8 1149.8L381.8 1148.5L382.8 1146.9L383.8 1145.0L384.8 1143.6L385.8 1143.2L386.8 1144.3L387.8 1146.4L388.8 1149.0L389.8 1151.7L390.8 1154.8L391.8 1157.5L392.8 1159.6L393.8 1160.7L394.8 1160.7L395.8 1160.1L396.8 1159.5L397.8 1158.5L398.8 1158.6L399.8 1159.3L400.8 1160.6L401.8 1162.5L402.8 1164.5L403.8 1166.4L404.8 1167.5L405.8 1168.5L406.8 1168.7L407.8 1168.2L408.8 1167.3L409.8 1166.6L410.8 1165.8L411.8 1165.8L412.8 1165.8L413.8 1166.0L414.8 1166.4L415.8 1166.9L416.8 1167.6L417.8 1168.5L418.8 1170.0L419.8 1170.5L420.8 1171.0L421.8 1172.1L422.8 1173.8L423.8 1175.7L424.8 1177.7L425.8 1179.3L426.8 1181.1L427.8 1183.7L428.8 1186.6L429.8 1189.3L430.8 1192.2L431.8 1196.1L432.8 1201.9L433.8 1207.6L434.8 1212.5L435.8 1216.4L436.8 1219.6L437.8 1222.6L438.8 1225.5L439.8 1227.7L440.8 1229.9L441.8 1232.0L442.8 1234.5L443.8 1237.4L444.8 1240.2L445.8 1242.9L446.8 1244.5L447.8 1246.2L448.8 1248.0L449.8 1250.3L450.8 1252.8L451.8 1255.1L452.8 1257.0L453.8 1258.1L454.8 1258.7L455.8 1258.9L456.8 1258.3L457.8 1256.9L458.8 1255.3L459.8 1253.7L460.8 1254.3L461.8 1254.1L462.8 1253.2L463.8 1250.6L464.8 1247.0L465.8 1244.1L466.8 1242.4L467.8 1243.6L468.8 1245.4L469.8 1247.6L470.8 1249.6L471.8 1251.3L472.8 1253.0L473.8 1255.2L474.8 1259.0L475.8 1263.1L476.8 1267.3L477.8 1270.8L478.8 1273.4L479.8 1275.7L480.8 1278.1L481.8 1281.4L482.8 1284.4L483.8 1287.2L484.8 1290.3L485.8 1293.8L486.8 1297.3L487.8 1300.7L488.8 1301.7L489.8 1302.4L490.8 1302.6L491.8 1302.8L492.8 1303.1L493.8 1303.3L494.8 1303.4L495.8 1303.1L496.8 1302.7L497.8 1302.1L498.8 1302.0L499.8 1302.3L500.8 1302.6L501.8 1303.0L502.8 1302.0L503.8 1301.0L504.8 1300.1L505.8 1299.7L506.8 1300.0L507.8 1300.2L508.8 1300.4L509.8 1300.8L510.8 1301.2L511.8 1301.6L512.8 1301.8L513.8 1301.9L514.8 1302.1L515.8 1302.2L516.8 1301.8L517.8 1301.3L518.8 1300.9L519.8 1300.9L520.8 1301.3L521.8 1301.7L522.8 1302.1L523.8 1302.1L524.8 1302.2L525.8 1301.9L526.8 1300.9L527.8 1299.5L528.8 1298.0L529.8 1296.7L530.8 1296.8L531.8 1296.9L532.8 1297.1L533.8 1296.9L534.8 1296.4L535.8 1296.0L536.8 1295.5L537.8 1295.7L538.8 1295.9L539.8 1296.0L540.8 1295.3L541.8 1293.6L542.8 1291.9L543.8 1290.3L544.8 1290.3L545.8 1290.4L546.8 1290.5L547.8 1290.0L548.8 1289.0L549.8 1288.0L550.8 1287.0L551.8 1287.2L552.8 1287.4L553.8 1287.5L554.8 1286.2L555.8 1283.5L556.8 1280.6L557.8 1277.6L558.8 1278.0L559.8 1278.0L560.8 1277.4L561.8 1275.0L562.8 1271.2L563.8 1267.5L564.8 1264.1L565.8 1262.2L566.8 1261.1L567.8 1260.7L568.8 1259.7L569.8 1258.3L570.8 1257.0L571.8 1255.8L572.8 1255.6L573.8 1255.7L574.8 1255.9L575.8 1256.5L576.8 1256.9L577.8 1257.3L578.8 1257.9L579.8 1258.4L580.8 1259.0L581.8 1259.8L582.8 1260.2L583.8 1260.6L584.8 1262.9L585.8 1265.3L586.8 1268.2L587.8 1270.5L588.8 1272.7L589.8 1274.4L590.8 1275.6L591.8 1276.7L592.8 1277.8L593.8 1278.9L594.8 1279.9L595.8 1281.0L596.8 1282.2L597.8 1283.4L598.8 1284.5L599.8 1285.5L600.8 1285.8L601.8 1286.0L602.8 1286.1L603.8 1286.0L604.8 1285.9L605.8 1285.8L606.8 1285.7L607.8 1285.5L608.8 1285.5L609.8 1285.9L610.8 1286.8L611.8 1288.1L612.8 1289.6L613.8 1291.2L614.8 1293.5L615.8 1295.6L616.8 1297.2L617.8 1298.4L618.8 1299.5L619.8 1300.5L620.8 1301.3L621.8 1301.0L622.8 1300.7L623.8 1300.3L624.8 1300.5L625.8 1301.3L626.8 1302.1L627.8 1303.0L628.8 1302.9L629.8 1302.8L630.8 1302.6L631.8 1303.3L632.8 1304.6L633.8 1305.7L634.8 1306.4L635.8 1305.7L636.8 1305.0L637.8 1304.3L638.8 1303.9L639.8 1303.8L640.8 1303.7L641.8 1303.5L642.8 1303.5L643.8 1303.5L644.8 1303.5L645.8 1303.7L646.8 1304.1L647.8 1304.7L648.8 1305.4L649.8 1305.8L650.8 1306.1L651.8 1306.2L652.8 1306.2L653.8 1306.3L654.8 1306.4L655.8 1306.4L656.8 1306.4L657.8 1306.3L658.8 1306.1L659.8 1305.7L660.8 1305.0L661.8 1304.2L662.8 1303.0L663.8 1302.3L664.8 1301.3L665.8 1300.1L666.8 1298.8L667.8 1297.4L668.8 1296.0L669.8 1294.5L670.8 1293.7L671.8 1292.6L672.8 1291.3L673.8 1289.0L674.8 1285.7L675.8 1282.3L676.8 1279.4L677.8 1278.2L678.8 1276.9L679.8 1275.6L681.8 1272.6L683.0 1269.9L684.0 1267.2L684.8 1264.5L685.5 1261.8L686.1 1259.1L686.6 1256.4L687.2 1253.7L687.7 1251.0L688.2 1248.3L688.7 1245.6L689.1 1242.9L689.6 1240.2L690.1 1237.5L690.5 1234.8L691.0 1232.1L691.5 1229.4L692.0 1226.7L692.5 1224.0L692.9 1221.3L693.3 1218.6L693.7 1215.9L694.1 1213.2L694.5 1210.5L694.9 1207.8L695.3 1205.1L695.7 1202.4L696.0 1199.7L696.4 1197.0L696.7 1194.3L697.0 1191.6L697.3 1188.9L697.7 1186.2L698.0 1183.5L698.3 1180.8L698.5 1178.1L698.8 1175.4L699.1 1172.7L699.4 1170.0L699.6 1167.3L699.9 1164.6L700.1 1161.9L700.4 1159.4L700.6 1157.0L700.9 1154.8L701.2 1152.8L701.5 1150.8L701.8 1149.0L702.1 1147.3L702.4 1145.7L702.7 1144.2L703.0 1142.7L703.3 1141.2L703.7 1139.8L704.0 1138.4L704.3 1137.0L704.6 1135.7L704.9 1134.3L705.2 1132.8L705.5 1131.4L705.8 1129.9L706.1 1128.4L706.4 1126.8L706.7 1125.2L707.0 1123.5L707.3 1121.8L707.5 1120.0L707.8 1118.1L708.1 1116.2L708.3 1114.2L708.5 1112.2L708.8 1110.1L709.0 1107.9L709.2 1105.6L709.4 1103.3L709.6 1101.0L709.8 1098.5L710.0 1096.0L710.2 1093.5L710.3 1090.9L710.5 1088.2L710.7 1085.5L710.8 1082.7L711.0 1079.9L711.1 1077.0L711.2 1074.1L711.4 1071.2L711.5 1068.2L711.6 1065.2L711.7 1062.1L711.8 1059.0L711.9 1055.8L712.0 1052.7L712.1 1049.4L712.2 1046.2L712.3 1042.9L712.4 1039.6L712.5 1036.3L712.6 1033.0L712.7 1029.7L712.7 1026.3L712.8 1023.0L712.9 1019.7L713.0 1016.4L713.1 1013.1L713.1 1009.7L713.2 1006.4L713.3 1003.1L713.4 999.8L713.4 996.4L713.5 993.1L713.6 989.8L713.6 986.5L713.7 983.2L713.8 979.8L713.8 976.5L713.9 973.2L714.0 969.9L714.0 966.5L714.1 963.2L714.1 959.9L714.2 956.6L714.3 953.3L714.3 949.9L714.4 946.6L714.4 943.3L714.5 940.0L714.5 936.6L714.6 933.3L714.6 930.0L714.7 926.7L714.8 923.4L714.8 920.0L714.9 916.7L715.0 913.4L715.0 910.1L715.1 906.7L715.2 903.4L715.5 900.1L715.8 903.1L715.9 906.0L716.0 909.0L716.1 911.9L716.1 914.9L716.2 917.9L716.3 920.8L716.3 923.8L716.4 926.7L716.5 929.7L716.5 932.6L716.6 935.6L716.6 938.6L716.7 941.5L716.7 944.5L716.8 947.4L716.9 950.4L716.9 953.4L717.0 956.3L717.1 959.3L717.1 962.2L717.2 965.2L717.3 968.2L717.4 971.1L717.4 974.1L717.5 977.0L717.6 980.0L717.7 982.9L717.7 985.9L717.8 988.9L717.9 991.8L718.0 994.8L718.1 997.7L718.2 1000.7L718.2 1003.7L718.3 1006.6L718.4 1009.6L718.5 1012.5L718.6 1015.5L718.7 1018.5L718.8 1021.4L718.9 1024.4L719.0 1027.3L719.1 1030.2L719.2 1033.1L719.3 1036.0L719.4 1038.8L719.5 1041.6L719.6 1044.3L719.7 1047.1L719.9 1049.8L720.0 1052.4L720.1 1055.0L720.2 1057.6L720.4 1060.2L720.5 1062.7L720.7 1065.1L720.8 1067.5L721.0 1069.9L721.1 1072.2L721.3 1074.5L721.4 1076.7L721.6 1078.9L721.8 1081.0L722.0 1083.0L722.1 1085.0L722.3 1087.0L722.5 1088.9L722.7 1090.7L722.9 1092.5L723.1 1094.2L723.3 1095.9L723.5 1097.6L723.7 1099.1L723.9 1100.7L724.1 1102.2L724.3 1103.6L724.5 1105.0L724.8 1106.4L725.0 1107.8L725.2 1109.1L725.4 1110.4L725.6 1111.8L725.8 1113.1L726.0 1114.4L726.3 1115.7L726.5 1117.1L726.7 1118.5L726.9 1120.0L727.1 1121.5L727.3 1123.1L727.5 1124.8L727.7 1126.6L727.9 1128.5L728.0 1130.5L728.2 1132.7L728.4 1135.0L728.6 1137.4L728.8 1139.8L729.0 1142.2L729.1 1144.6L729.3 1147.1L729.5 1149.5L729.7 1151.9L729.9 1154.3L730.1 1156.7L730.3 1159.2L730.5 1161.6L730.8 1164.0L731.0 1166.4L731.2 1168.8L731.4 1171.3L731.7 1173.7L731.9 1176.1L732.1 1178.5L732.3 1181.0L732.6 1183.4L732.8 1185.8L733.0 1188.2L733.3 1190.6L733.5 1193.1L733.7 1195.5L734.0 1197.9L734.2 1200.3L734.4 1202.7L734.7 1205.2L734.9 1207.6L735.2 1210.0L735.4 1212.4L735.7 1214.8L736.0 1217.3L736.3 1219.7L736.7 1222.1L737.1 1224.5L737.5 1227.0L738.0 1229.4L738.8 1231.8L740.1 1234.2L742.0 1236.6L742.8 1237.4L743.8 1238.5L744.8 1239.9L745.8 1241.6L746.8 1243.3L747.8 1245.1L748.8 1246.9L749.8 1248.6L750.8 1249.4L751.8 1249.5L752.8 1249.5L753.8 1249.6L754.8 1250.9L755.8 1252.2L756.8 1253.6L757.8 1255.2L758.8 1257.0L759.8 1258.7L760.8 1260.3L761.8 1260.1L762.8 1259.8L763.8 1259.4L764.8 1259.6L765.8 1260.1L766.8 1260.6L767.8 1261.0L768.8 1263.1L769.8 1264.9L770.8 1266.7L771.8 1267.3L772.8 1266.8L773.8 1266.4L774.8 1265.9L775.8 1265.3L776.8 1264.6L777.8 1263.9L778.8 1263.7L779.8 1263.9L780.8 1264.1L781.8 1264.3L782.8 1264.2L783.8 1264.0L784.8 1263.9L785.8 1263.3L786.8 1263.3L787.8 1263.5L788.8 1263.7L789.8 1265.4L790.8 1267.0L791.8 1268.6L792.8 1268.6L793.8 1265.9L794.8 1262.0L795.8 1257.3L796.8 1255.3L797.8 1253.4L798.8 1252.0L799.8 1249.5L800.8 1246.0L801.8 1242.5L802.8 1238.9L803.8 1235.7L804.8 1232.6L805.8 1229.4L806.8 1226.2L807.8 1222.9L808.8 1219.6L809.8 1216.5L810.8 1213.2L811.8 1210.3L812.8 1207.1L813.8 1204.3L814.8 1202.4L815.8 1201.7L816.8 1202.4L817.8 1202.0L818.8 1201.4L819.8 1200.9L820.8 1200.1L821.8 1199.2L822.8 1198.3L823.8 1197.6L824.8 1198.5L825.8 1199.8L826.8 1201.4L827.8 1202.3L828.8 1202.4L829.8 1202.5L830.8 1202.5L831.8 1204.0L832.8 1205.8L833.8 1207.6L834.8 1209.7L835.8 1211.7L836.8 1213.2L837.8 1214.5L838.8 1213.3L839.8 1211.7L840.8 1209.7L841.8 1207.9L842.8 1206.6L843.8 1204.8L844.8 1202.8L845.8 1199.7L846.8 1196.7L847.8 1193.8L848.8 1190.5L849.8 1186.8L850.8 1182.9L851.8 1179.0L852.8 1176.2L853.8 1173.5L854.8 1170.7L855.8 1167.3L856.8 1163.6L857.8 1160.7L858.8 1158.8L859.8 1158.3L860.8 1157.7L861.8 1157.5L862.8 1157.9L863.8 1158.8L864.8 1159.9L865.8 1161.3L866.8 1162.7L867.8 1165.5L868.8 1172.6L869.8 1180.5L870.8 1186.4L871.8 1191.9L872.8 1197.1L873.8 1202.6L874.8 1208.1L875.8 1213.7L876.8 1218.5L877.8 1222.5L878.8 1226.3L879.8 1230.0L880.8 1234.7L881.8 1239.0L882.8 1242.9L883.8 1246.5L884.8 1249.9L885.8 1253.1L886.8 1256.2L887.8 1259.4L888.8 1262.5L889.8 1265.6L890.8 1268.3L891.8 1270.4L892.8 1272.2L893.8 1273.6L894.8 1275.9L895.8 1278.2L896.8 1280.5L897.8 1282.1L898.8 1283.2L899.8 1284.5L900.8 1286.0L901.8 1288.2L902.8 1290.5L903.8 1292.7L904.8 1295.4L905.8 1298.7L906.8 1301.9L907.8 1305.1L908.8 1307.0L909.8 1308.8L910.8 1310.6L911.8 1312.0L912.8 1313.2L913.8 1314.3L914.8 1315.4L915.8 1316.6L916.8 1317.7L917.8 1318.8L918.8 1320.1L919.8 1321.8L920.8 1323.3L921.8 1324.6L922.8 1325.8L923.8 1326.9L924.8 1328.0L925.8 1329.0L926.8 1330.1L927.8 1331.0L928.8 1331.8L929.8 1332.2L930.8 1332.4L931.8 1332.4L932.8 1331.9L933.8 1330.9L934.8 1329.8L935.8 1328.9L936.8 1329.1L937.8 1329.5L938.8 1330.1L939.8 1330.6L940.8 1331.1L941.8 1331.6L942.8 1332.1L943.8 1332.7L944.8 1333.4L945.8 1334.0L946.8 1334.4L947.8 1334.6L948.8 1334.4L949.8 1334.0L950.8 1333.9L951.8 1333.8L952.8 1333.7L953.8 1333.9L954.8 1334.1L955.8 1334.3L956.8 1334.6L957.8 1334.8L958.8 1335.2L959.8 1335.5L960.8 1335.5L961.8 1335.0L962.8 1334.7L963.8 1334.5L964.8 1335.9L965.8 1337.4L966.8 1338.9L967.8 1340.5L968.8 1342.0L969.8 1343.5L970.8 1344.9L971.8 1345.7L972.8 1346.6L973.8 1347.6L974.8 1348.7L975.8 1350.1L976.8 1351.7L977.8 1353.4L978.8 1355.2L979.8 1357.1L980.8 1359.0L981.8 1360.9L982.8 1362.9L983.8 1365.0L984.8 1367.0L985.8 1369.3L986.8 1371.8L987.8 1374.5L988.8 1376.6L989.8 1377.9L990.8 1378.6L991.8 1378.6L992.8 1378.5L993.8 1378.4L994.8 1378.2L995.8 1378.8L996.8 1380.2L997.8 1381.7L998.8 1383.7L999.8 1384.7L1000.8 1386.0L1001.8 1387.1L1002.8 1387.4L1003.8 1386.9L1004.8 1386.2L1005.8 1385.5L1006.8 1386.7L1007.8 1387.8L1008.8 1388.8" stroke="#050579"/>
<path d="M95.8 1361.2L96.8 1360.2L97.8 1359.2L98.8 1358.1L99.8 1358.0L100.8 1358.8L101.8 1359.6L102.8 1360.4L103.8 1360.1L104.8 1359.8L105.8 1359.5L106.8 1359.4L107.8 1359.5L108.8 1359.7L109.8 1359.8L110.8 1359.2L111.8 1358.6L112.8 1358.1L113.8 1358.3L114.8 1359.2L115.8 1360.2L116.8 1361.2L117.8 1359.9L118.8 1358.6L119.8 1357.3L120.8 1356.7L121.8 1356.7L122.8 1356.7L123.8 1356.7L124.8 1357.1L125.8 1357.4L126.8 1357.8L127.8 1358.1L128.8 1358.4L129.8 1358.7L130.8 1359.1L131.8 1359.1L132.8 1359.2L133.8 1359.2L134.8 1359.9L135.8 1361.1L136.8 1362.2L137.8 1363.1L138.8 1361.2L139.8 1358.4L140.8 1355.3L141.8 1354.0L142.8 1355.2L143.8 1356.8L144.8 1358.6L145.8 1357.1L146.8 1355.7L147.8 1354.2L148.8 1354.0L149.8 1355.1L150.8 1356.1L151.8 1357.0L152.8 1357.7L153.8 1358.2L154.8 1358.7L155.8 1358.3L156.8 1357.2L157.8 1356.1L158.8 1355.3L159.8 1353.7L160.8 1352.1L161.8 1350.7L162.8 1349.5L163.8 1348.6L164.8 1347.8L165.8 1346.9L166.8 1347.0L167.8 1347.1L168.8 1347.2L169.8 1347.1L170.8 1346.7L171.8 1346.1L172.8 1345.3L173.8 1344.9L174.8 1344.6L175.8 1344.4L176.8 1343.6L177.8 1342.5L178.8 1341.5L179.8 1340.5L180.8 1341.2L181.8 1342.0L182.8 1342.7L183.8 1342.5L184.8 1341.3L185.8 1340.1L186.8 1338.6L187.8 1338.8L188.8 1338.9L189.8 1339.0L190.8 1339.0L191.8 1339.1L192.8 1339.2L193.8 1339.3L194.8 1337.7L195.8 1336.0L196.8 1334.2L197.8 1332.9L198.8 1332.1L199.8 1331.3L200.8 1329.9L201.8 1327.8L202.8 1325.5L203.8 1323.2L204.8 1321.0L205.8 1318.8L206.8 1316.7L207.8 1314.4L208.8 1312.9L209.8 1311.3L210.8 1309.8L211.8 1308.1L212.8 1306.2L213.8 1304.2L214.8 1302.3L215.8 1298.6L216.8 1295.0L217.8 1291.3L218.8 1288.9L219.8 1287.9L220.8 1286.9L221.8 1285.9L222.8 1285.2L223.8 1284.7L224.8 1284.1L225.8 1282.5L226.8 1279.9L227.8 1277.2L228.8 1274.6L229.8 1272.5L230.8 1270.4L231.8 1268.3L232.8 1266.1L233.8 1263.8L234.8 1261.5L235.8 1259.2L236.8 1256.9L237.8 1254.6L238.8 1252.1L239.8 1249.7L240.8 1247.2L241.8 1244.7L242.8 1242.0L243.8 1237.8L244.8 1233.4L245.8 1229.0L246.8 1226.6L247.8 1226.0L248.8 1225.5L249.8 1225.0L250.8 1221.4L251.8 1217.8L252.8 1214.2L253.8 1210.7L254.8 1207.3L255.8 1203.8L256.8 1200.4L257.8 1198.5L258.8 1196.7L259.8 1194.8L260.8 1192.1L261.8 1188.5L262.8 1185.0L263.8 1181.4L264.8 1179.3L265.8 1177.1L266.8 1175.0L267.8 1171.9L268.8 1167.9L269.8 1163.9L270.8 1159.8L271.8 1157.4L272.8 1154.9L273.8 1152.4L274.8 1148.9L275.8 1144.1L276.8 1139.2L277.8 1134.1L278.8 1131.4L279.8 1128.6L280.8 1125.9L281.8 1122.0L282.8 1116.9L283.8 1112.0L284.8 1107.4L285.8 1104.8L286.8 1102.7L287.8 1101.1L288.8 1099.7L289.8 1098.9L290.8 1098.7L291.8 1098.9L292.8 1098.3L293.8 1097.9L294.8 1097.7L295.8 1098.5L296.8 1100.3L297.8 1102.2L298.8 1104.1L299.8 1104.9L300.8 1105.5L301.8 1106.3L302.8 1107.3L303.8 1108.7L304.8 1109.9L305.8 1111.1L306.8 1112.2L307.8 1113.1L308.8 1113.8L309.8 1113.5L310.8 1112.0L311.8 1110.0L312.8 1107.1L313.8 1104.8L314.8 1102.1L315.8 1099.2L316.8 1095.4L317.8 1090.7L318.8 1086.3L319.8 1082.0L320.8 1078.6L321.8 1075.0L322.8 1071.4L323.8 1068.2L324.8 1065.4L325.8 1062.6L326.8 1059.8L327.8 1055.1L328.8 1050.5L329.8 1045.9L330.8 1041.9L331.8 1038.5L332.8 1035.0L333.8 1031.6L334.8 1027.2L335.8 1023.3L336.8 1020.0L337.8 1021.2L338.8 1024.4L339.8 1028.1L340.8 1032.1L341.8 1036.2L342.8 1040.4L343.8 1044.6L344.8 1048.2L345.8 1051.1L346.8 1053.8L347.8 1056.4L348.8 1059.5L349.8 1062.6L350.8 1065.6L351.8 1068.4L352.8 1071.1L353.8 1073.7L354.8 1076.4L355.8 1080.7L356.8 1085.2L357.8 1089.6L358.8 1093.0L359.8 1095.3L360.8 1097.4L361.8 1099.2L362.8 1101.5L363.8 1102.6L364.8 1102.5L365.8 1101.9L366.8 1101.2L367.8 1100.5L368.8 1099.7L369.8 1097.1L370.8 1094.2L371.8 1091.7L372.8 1090.4L373.8 1091.0L374.8 1092.6L375.8 1093.4L376.8 1094.8L377.8 1096.1L378.8 1097.4L379.8 1097.8L380.8 1096.6L381.8 1094.6L382.8 1092.3L383.8 1089.9L384.8 1088.2L385.8 1087.6L386.8 1088.8L387.8 1091.2L388.8 1094.3L389.8 1097.6L390.8 1101.6L391.8 1105.1L392.8 1107.8L393.8 1108.4L394.8 1106.6L395.8 1104.0L396.8 1101.5L397.8 1100.0L398.8 1100.0L399.8 1100.6L400.8 1101.7L401.8 1103.1L402.8 1104.5L403.8 1105.9L404.8 1107.4L405.8 1108.6L406.8 1108.9L407.8 1108.7L408.8 1108.5L409.8 1108.4L410.8 1108.3L411.8 1105.8L412.8 1103.3L413.8 1101.1L414.8 1100.4L415.8 1101.4L416.8 1102.4L417.8 1103.8L418.8 1104.5L419.8 1104.5L420.8 1104.5L421.8 1105.3L422.8 1106.7L423.8 1108.4L424.8 1110.2L425.8 1111.3L426.8 1112.8L427.8 1115.3L428.8 1118.8L429.8 1122.9L430.8 1127.4L431.8 1133.1L432.8 1139.6L433.8 1145.8L434.8 1150.9L435.8 1155.4L436.8 1159.7L437.8 1163.6L438.8 1167.4L439.8 1171.3L440.8 1175.1L441.8 1178.8L442.8 1182.5L443.8 1186.3L444.8 1190.0L445.8 1193.5L446.8 1194.7L447.8 1196.0L448.8 1197.4L449.8 1199.6L450.8 1202.3L451.8 1204.6L452.8 1206.4L453.8 1207.6L454.8 1208.0L455.8 1208.0L456.8 1208.0L457.8 1208.1L458.8 1208.1L459.8 1208.0L460.8 1206.7L461.8 1204.4L462.8 1201.1L463.8 1197.4L464.8 1194.1L465.8 1191.7L466.8 1191.0L467.8 1191.2L468.8 1192.2L469.8 1193.7L470.8 1195.6L471.8 1197.9L472.8 1200.2L473.8 1203.2L474.8 1206.8L475.8 1211.0L476.8 1215.3L477.8 1220.1L478.8 1225.1L479.8 1229.8L480.8 1234.6L481.8 1238.7L482.8 1242.7L483.8 1246.3L484.8 1249.2L485.8 1251.6L486.8 1253.9L487.8 1255.9L488.8 1258.0L489.8 1259.6L490.8 1260.6L491.8 1261.3L492.8 1261.9L493.8 1262.4L494.8 1262.7L495.8 1264.0L496.8 1265.2L497.8 1266.1L498.8 1266.4L499.8 1266.0L500.8 1265.6L501.8 1265.3L502.8 1265.7L503.8 1266.1L504.8 1266.5L505.8 1266.2L506.8 1265.4L507.8 1264.5L508.8 1263.6L509.8 1263.5L510.8 1263.4L511.8 1263.4L512.8 1263.8L513.8 1264.6L514.8 1265.5L515.8 1266.5L516.8 1266.0L517.8 1265.6L518.8 1265.2L519.8 1264.6L520.8 1263.8L521.8 1263.0L522.8 1262.2L523.8 1262.6L524.8 1262.9L525.8 1262.8L526.8 1262.1L527.8 1261.0L528.8 1259.9L529.8 1259.0L530.8 1258.8L531.8 1258.6L532.8 1258.5L533.8 1257.7L534.8 1256.4L535.8 1255.0L536.8 1253.6L537.8 1254.3L538.8 1254.9L539.8 1255.4L540.8 1255.3L541.8 1254.6L542.8 1253.8L543.8 1252.9L544.8 1251.7L545.8 1250.4L546.8 1249.1L547.8 1248.0L548.8 1246.9L549.8 1245.9L550.8 1244.9L551.8 1243.8L552.8 1242.8L553.8 1241.7L554.8 1240.4L555.8 1238.8L556.8 1237.2L557.8 1235.4L558.8 1234.4L559.8 1232.9L560.8 1230.5L561.8 1226.7L562.8 1221.7L563.8 1216.7L564.8 1212.1L565.8 1210.8L566.8 1210.5L567.8 1211.1L568.8 1210.1L569.8 1207.6L570.8 1205.1L571.8 1202.9L572.8 1203.2L573.8 1203.7L574.8 1204.5L575.8 1204.9L576.8 1204.2L577.8 1203.7L578.8 1203.4L579.8 1204.0L580.8 1204.8L581.8 1205.8L582.8 1207.1L583.8 1209.5L584.8 1214.3L585.8 1219.2L586.8 1221.4L587.8 1223.0L588.8 1224.3L589.8 1226.3L590.8 1228.8L591.8 1231.3L592.8 1233.6L593.8 1234.8L594.8 1236.0L595.8 1237.1L596.8 1238.4L597.8 1239.8L598.8 1241.1L599.8 1242.2L600.8 1243.1L601.8 1243.7L602.8 1244.1L603.8 1244.1L604.8 1243.6L605.8 1243.0L606.8 1242.6L607.8 1243.3L608.8 1244.2L609.8 1245.6L610.8 1247.3L611.8 1249.4L612.8 1251.6L613.8 1253.9L614.8 1256.8L615.8 1259.2L616.8 1261.2L617.8 1262.1L618.8 1262.1L619.8 1262.1L620.8 1262.0L621.8 1262.1L622.8 1262.1L623.8 1262.2L624.8 1262.8L625.8 1263.9L626.8 1265.0L627.8 1266.4L628.8 1267.0L629.8 1267.7L630.8 1268.4L631.8 1269.4L632.8 1270.7L633.8 1271.6L634.8 1272.1L635.8 1272.2L636.8 1272.2L637.8 1272.2L638.8 1271.9L639.8 1271.5L640.8 1271.1L641.8 1270.6L642.8 1269.5L643.8 1268.4L644.8 1267.3L645.8 1267.5L646.8 1268.9L647.8 1270.5L648.8 1272.2L649.8 1272.2L650.8 1272.2L651.8 1271.9L652.8 1271.9L653.8 1272.3L654.8 1272.8L655.8 1273.2L656.8 1273.9L657.8 1274.6L658.8 1275.2L659.8 1275.3L660.8 1274.8L661.8 1274.1L662.8 1273.0L663.8 1272.7L664.8 1272.2L665.8 1271.5L666.8 1270.0L667.8 1267.7L668.8 1265.4L669.8 1263.1L670.8 1261.0L671.8 1258.7L672.8 1256.1L673.8 1253.8L674.8 1251.7L675.8 1249.7L676.8 1247.4L677.8 1244.4L678.8 1242.0L679.8 1240.2L681.7 1237.5L682.9 1235.0L683.8 1232.6L684.5 1230.1L685.1 1227.7L685.6 1225.2L686.1 1222.8L686.6 1220.4L687.0 1217.9L687.5 1215.5L687.9 1213.0L688.3 1210.6L688.7 1208.1L689.1 1205.7L689.5 1203.2L689.9 1200.8L690.3 1198.4L690.7 1195.9L691.1 1193.5L691.5 1191.0L691.8 1188.6L692.2 1186.1L692.6 1183.7L692.9 1181.2L693.3 1178.8L693.6 1176.4L694.0 1173.9L694.3 1171.5L694.6 1169.0L694.9 1166.6L695.3 1164.1L695.6 1161.7L695.9 1159.2L696.2 1156.8L696.5 1154.3L696.7 1151.9L697.0 1149.5L697.3 1147.0L697.6 1144.6L697.8 1142.1L698.1 1139.7L698.3 1137.2L698.6 1134.9L698.8 1132.8L699.1 1130.7L699.4 1128.8L699.7 1127.0L700.0 1125.3L700.3 1123.7L700.6 1122.2L700.9 1120.7L701.2 1119.3L701.5 1118.0L701.8 1116.6L702.1 1115.3L702.4 1114.1L702.8 1112.8L703.1 1111.5L703.4 1110.3L703.7 1109.0L704.0 1107.7L704.3 1106.3L704.6 1105.0L704.9 1103.6L705.2 1102.1L705.5 1100.6L705.7 1099.1L706.0 1097.5L706.3 1095.9L706.6 1094.2L706.8 1092.5L707.1 1090.7L707.3 1088.8L707.6 1086.9L707.8 1084.9L708.0 1082.9L708.2 1080.8L708.4 1078.7L708.6 1076.5L708.8 1074.2L709.0 1071.9L709.2 1069.6L709.4 1067.1L709.6 1064.7L709.7 1062.2L709.9 1059.6L710.0 1057.0L710.2 1054.3L710.3 1051.6L710.4 1048.8L710.6 1046.0L710.7 1043.2L710.8 1040.3L710.9 1037.4L711.0 1034.4L711.1 1031.4L711.2 1028.4L711.3 1025.4L711.4 1022.3L711.5 1019.3L711.6 1016.2L711.7 1013.1L711.8 1010.1L711.9 1007.0L712.0 1004.0L712.1 1000.9L712.2 997.9L712.3 994.8L712.4 991.8L712.5 988.7L712.6 985.6L712.7 982.6L712.8 979.5L712.8 976.5L712.9 973.4L713.0 970.4L713.1 967.3L713.2 964.3L713.3 961.2L713.3 958.2L713.4 955.1L713.5 952.0L713.6 949.0L713.7 945.9L713.8 942.9L713.8 939.8L713.9 936.8L714.0 933.7L714.1 930.7L714.2 927.6L714.3 924.5L714.3 921.5L714.4 918.4L714.5 915.4L714.7 912.3L714.8 909.3L714.9 906.2L715.1 903.2L715.5 900.1L715.9 902.8L716.1 905.5L716.2 908.3L716.3 911.0L716.4 913.7L716.5 916.4L716.6 919.2L716.7 921.9L716.8 924.6L716.9 927.3L716.9 930.1L717.0 932.8L717.1 935.5L717.2 938.2L717.2 941.0L717.3 943.7L717.4 946.4L717.5 949.1L717.6 951.9L717.6 954.6L717.7 957.3L717.8 960.0L717.9 962.8L718.0 965.5L718.1 968.2L718.2 970.9L718.3 973.7L718.3 976.4L718.4 979.1L718.5 981.8L718.6 984.6L718.7 987.3L718.8 990.0L718.9 992.7L719.0 995.5L719.1 998.2L719.2 1000.9L719.4 1003.6L719.5 1006.4L719.6 1009.1L719.7 1011.8L719.8 1014.5L719.9 1017.2L720.0 1019.9L720.1 1022.5L720.2 1025.2L720.3 1027.7L720.5 1030.3L720.6 1032.8L720.7 1035.2L720.9 1037.7L721.0 1040.0L721.1 1042.4L721.3 1044.7L721.4 1047.0L721.6 1049.2L721.7 1051.4L721.9 1053.5L722.0 1055.6L722.2 1057.6L722.4 1059.6L722.6 1061.6L722.7 1063.5L722.9 1065.3L723.1 1067.1L723.3 1068.9L723.5 1070.6L723.6 1072.3L723.8 1073.9L724.0 1075.5L724.2 1077.0L724.4 1078.5L724.6 1080.0L724.8 1081.4L725.0 1082.8L725.2 1084.1L725.4 1085.5L725.7 1086.8L725.9 1088.0L726.1 1089.3L726.3 1090.6L726.5 1091.8L726.7 1093.1L726.9 1094.4L727.1 1095.6L727.3 1097.0L727.5 1098.3L727.7 1099.7L727.9 1101.1L728.1 1102.6L728.2 1104.1L728.4 1105.7L728.6 1107.4L728.8 1109.2L729.0 1111.1L729.1 1113.1L729.3 1115.2L729.5 1117.4L729.7 1119.6L729.8 1121.8L730.0 1124.1L730.2 1126.3L730.4 1128.5L730.5 1130.7L730.7 1132.9L730.9 1135.2L731.1 1137.4L731.3 1139.6L731.5 1141.8L731.7 1144.0L731.9 1146.2L732.1 1148.5L732.3 1150.7L732.5 1152.9L732.7 1155.1L732.9 1157.3L733.1 1159.5L733.3 1161.8L733.5 1164.0L733.7 1166.2L733.9 1168.4L734.1 1170.6L734.3 1172.9L734.5 1175.1L734.7 1177.3L734.9 1179.5L735.1 1181.7L735.3 1183.9L735.5 1186.2L735.8 1188.4L736.0 1190.6L736.3 1192.8L736.6 1195.0L736.9 1197.2L737.2 1199.5L737.7 1201.7L738.5 1203.9L739.8 1206.1L742.0 1208.3L743.8 1208.8L744.8 1209.2L745.8 1209.6L746.8 1210.7L747.8 1212.7L748.8 1214.6L749.8 1216.6L750.8 1218.0L751.8 1218.8L752.8 1219.7L753.8 1220.7L754.8 1221.4L755.8 1222.2L756.8 1223.1L757.8 1224.5L758.8 1226.1L759.8 1227.7L760.8 1229.2L761.8 1229.7L762.8 1230.3L763.8 1230.8L764.8 1231.3L765.8 1232.0L766.8 1232.5L767.8 1233.0L768.8 1233.8L769.8 1234.4L770.8 1234.9L771.8 1235.0L772.8 1234.7L773.8 1234.4L774.8 1234.1L775.8 1233.6L776.8 1233.1L777.8 1232.5L778.8 1232.7L779.8 1233.6L780.8 1234.4L781.8 1235.3L782.8 1235.4L783.8 1235.5L784.8 1235.5L785.8 1235.5L786.8 1236.0L787.8 1236.6L788.8 1237.1L789.8 1236.9L790.8 1236.6L791.8 1236.2L792.8 1235.6L793.8 1233.5L794.8 1229.8L795.8 1225.0L796.8 1219.9L797.8 1214.8L798.8 1210.3L799.8 1206.0L800.8 1201.9L801.8 1197.6L802.8 1193.2L803.8 1188.6L804.8 1184.0L805.8 1179.4L806.8 1174.4L807.8 1169.0L808.8 1163.5L809.8 1158.2L810.8 1153.2L811.8 1148.6L812.8 1143.7L813.8 1139.2L814.8 1135.8L815.8 1134.2L816.8 1134.6L817.8 1133.4L818.8 1132.3L819.8 1131.1L820.8 1131.3L821.8 1132.9L822.8 1134.5L823.8 1136.4L824.8 1138.1L825.8 1140.2L826.8 1142.8L827.8 1144.6L828.8 1145.5L829.8 1146.4L830.8 1147.2L831.8 1151.1L832.8 1155.4L833.8 1159.8L834.8 1163.0L835.8 1164.8L836.8 1165.7L837.8 1166.5L838.8 1167.2L839.8 1167.5L840.8 1167.0L841.8 1166.1L842.8 1164.8L843.8 1162.9L844.8 1160.6L845.8 1157.3L846.8 1154.1L847.8 1151.0L848.8 1147.4L849.8 1143.3L850.8 1138.8L851.8 1134.3L852.8 1131.4L853.8 1128.5L854.8 1125.3L855.8 1121.5L856.8 1117.4L857.8 1114.2L858.8 1112.3L859.8 1110.6L860.8 1108.9L861.8 1107.5L862.8 1108.1L863.8 1110.5L864.8 1113.2L865.8 1116.1L866.8 1117.0L867.8 1119.7L868.8 1128.4L869.8 1138.6L870.8 1146.6L871.8 1154.0L872.8 1161.0L873.8 1165.9L874.8 1170.7L875.8 1175.5L876.8 1181.1L877.8 1187.4L878.8 1193.6L879.8 1199.4L880.8 1204.9L881.8 1209.8L882.8 1214.3L883.8 1218.6L884.8 1222.7L885.8 1226.6L886.8 1230.4L887.8 1234.0L888.8 1237.6L889.8 1241.1L890.8 1243.9L891.8 1245.8L892.8 1247.1L893.8 1248.0L894.8 1251.6L895.8 1255.1L896.8 1258.6L897.8 1260.1L898.8 1259.8L899.8 1259.8L900.8 1260.2L901.8 1263.1L902.8 1266.2L903.8 1269.2L904.8 1272.6L905.8 1276.2L906.8 1279.8L907.8 1283.4L908.8 1285.6L909.8 1287.8L910.8 1289.8L911.8 1291.8L912.8 1293.6L913.8 1295.5L914.8 1297.2L915.8 1298.5L916.8 1299.8L917.8 1300.9L918.8 1302.1L919.8 1303.4L920.8 1304.5L921.8 1305.5L922.8 1307.6L923.8 1309.6L924.8 1311.6L925.8 1312.2L926.8 1311.3L927.8 1310.2L928.8 1309.1L929.8 1309.7L930.8 1310.2L931.8 1310.5L932.8 1310.5L933.8 1310.5L934.8 1310.6L935.8 1310.7L936.8 1310.8L937.8 1311.2L938.8 1311.8L939.8 1312.7L940.8 1313.8L941.8 1315.0L942.8 1316.1L943.8 1316.3L944.8 1316.5L945.8 1316.7L946.8 1317.1L947.8 1317.6L948.8 1317.8L949.8 1317.6L950.8 1317.3L951.8 1317.1L952.8 1316.9L953.8 1316.6L954.8 1316.2L955.8 1315.9L956.8 1315.5L957.8 1315.8L958.8 1316.1L959.8 1316.5L960.8 1316.5L961.8 1316.1L962.8 1315.8L963.8 1315.8L964.8 1316.7L965.8 1317.8L966.8 1319.0L967.8 1320.4L968.8 1322.0L969.8 1323.5L970.8 1325.0L971.8 1325.9L972.8 1326.9L973.8 1327.9L974.8 1329.4L975.8 1331.3L976.8 1333.5L977.8 1335.9L978.8 1337.7L979.8 1339.7L980.8 1341.7L981.8 1343.9L982.8 1346.6L983.8 1349.3L984.8 1352.0L985.8 1354.8L986.8 1358.0L987.8 1361.3L988.8 1363.6L989.8 1364.4L990.8 1364.4L991.8 1363.6L992.8 1364.3L993.8 1365.0L994.8 1365.6L995.8 1366.3L996.8 1367.1L997.8 1368.0L998.8 1369.4L999.8 1372.2L1000.8 1375.2L1001.8 1378.0L1002.8 1379.2L1003.8 1378.4L1004.8 1377.5L1005.8 1376.5L1006.8 1377.6L1007.8 1378.6L1008.8 1379.4" stroke="#06068d"/>
<path d="M95.8 1336.6L96.8 1336.1L97.8 1335.6L98.8 1335.0L99.8 1334.8L100.8 1335.0L101.8 1335.1L102.8 1335.2L103.8 1335.3L104.8 1335.3L105.8 1335.4L106.8 1335.1L107.8 1334.4L108.8 1333.8L109.8 1333.2L110.8 1334.1L111.8 1335.1L112.8 1336.0L113.8 1336.1L114.8 1335.4L115.8 1334.8L116.8 1334.1L117.8 1333.9L118.8 1333.6L119.8 1333.4L120.8 1333.2L121.8 1333.0L122.8 1332.8L123.8 1332.6L124.8 1333.4L125.8 1334.2L126.8 1335.0L127.8 1335.5L128.8 1335.7L129.8 1335.9L130.8 1336.3L131.8 1336.9L132.8 1337.6L133.8 1338.3L134.8 1339.2L135.8 1340.3L136.8 1341.4L137.8 1342.2L138.8 1340.5L139.8 1337.6L140.8 1334.2L141.8 1331.5L142.8 1330.3L143.8 1329.8L144.8 1329.5L145.8 1330.0L146.8 1330.6L147.8 1331.1L148.8 1331.4L149.8 1331.5L150.8 1331.4L151.8 1331.2L152.8 1331.5L153.8 1331.7L154.8 1331.8L155.8 1330.8L156.8 1328.9L157.8 1327.0L158.8 1325.5L159.8 1326.4L160.8 1327.3L161.8 1328.4L162.8 1327.9L163.8 1326.0L164.8 1324.1L165.8 1322.2L166.8 1324.0L167.8 1325.8L168.8 1327.6L169.8 1327.7L170.8 1326.1L171.8 1324.2L172.8 1322.0L173.8 1320.5L174.8 1319.0L175.8 1317.6L176.8 1316.9L177.8 1316.9L178.8 1316.9L179.8 1317.0L180.8 1317.3L181.8 1317.6L182.8 1317.9L183.8 1317.9L184.8 1317.8L185.8 1317.4L186.8 1316.9L187.8 1315.9L188.8 1314.7L189.8 1313.6L190.8 1313.0L191.8 1313.0L192.8 1313.1L193.8 1313.2L194.8 1311.1L195.8 1308.9L196.8 1306.7L197.8 1305.2L198.8 1304.3L199.8 1303.4L200.8 1302.0L201.8 1301.3L202.8 1300.5L203.8 1299.7L204.8 1297.8L205.8 1294.9L206.8 1291.9L207.8 1288.9L208.8 1287.3L209.8 1285.8L210.8 1284.2L211.8 1282.9L212.8 1281.8L213.8 1280.7L214.8 1279.6L215.8 1277.8L216.8 1276.0L217.8 1274.2L218.8 1272.4L219.8 1270.5L220.8 1268.6L221.8 1266.8L222.8 1265.0L223.8 1263.2L224.8 1261.5L225.8 1259.6L226.8 1257.5L227.8 1255.4L228.8 1253.3L229.8 1251.7L230.8 1250.1L231.8 1248.5L232.8 1246.8L233.8 1244.9L234.8 1243.1L235.8 1241.2L236.8 1239.0L237.8 1236.7L238.8 1234.4L239.8 1232.2L240.8 1230.4L241.8 1228.4L242.8 1226.4L243.8 1223.3L244.8 1220.1L245.8 1216.9L246.8 1214.2L247.8 1211.8L248.8 1209.5L249.8 1207.2L250.8 1203.9L251.8 1200.6L252.8 1197.4L253.8 1194.6L254.8 1192.4L255.8 1190.1L256.8 1187.9L257.8 1183.4L258.8 1178.9L259.8 1174.4L260.8 1172.0L261.8 1171.6L262.8 1171.4L263.8 1171.1L264.8 1166.9L265.8 1162.7L266.8 1158.4L267.8 1155.1L268.8 1152.7L269.8 1150.2L270.8 1147.7L271.8 1144.7L272.8 1141.7L273.8 1138.7L274.8 1136.3L275.8 1134.4L276.8 1132.2L277.8 1129.9L278.8 1124.3L279.8 1118.7L280.8 1113.1L281.8 1108.8L282.8 1105.7L283.8 1102.8L284.8 1100.1L285.8 1097.2L286.8 1094.6L287.8 1092.6L288.8 1091.7L289.8 1092.2L290.8 1093.3L291.8 1094.8L292.8 1094.6L293.8 1094.6L294.8 1094.9L295.8 1094.9L296.8 1094.6L297.8 1094.4L298.8 1094.1L299.8 1095.4L300.8 1096.6L301.8 1097.8L302.8 1099.1L303.8 1100.2L304.8 1101.3L305.8 1102.2L306.8 1102.3L307.8 1102.1L308.8 1101.7L309.8 1101.6L310.8 1101.7L311.8 1101.1L312.8 1099.8L313.8 1096.3L314.8 1092.4L315.8 1088.3L316.8 1083.9L317.8 1079.2L318.8 1074.8L319.8 1070.5L320.8 1068.3L321.8 1066.0L322.8 1063.5L323.8 1060.5L324.8 1057.0L325.8 1053.4L326.8 1049.8L327.8 1046.1L328.8 1042.4L329.8 1038.8L330.8 1035.4L331.8 1032.0L332.8 1028.5L333.8 1025.1L334.8 1021.8L335.8 1019.0L336.8 1016.9L337.8 1017.8L338.8 1019.8L339.8 1022.3L340.8 1025.2L341.8 1028.6L342.8 1032.0L343.8 1035.5L344.8 1039.2L345.8 1043.0L346.8 1046.5L347.8 1050.0L348.8 1051.6L349.8 1053.2L350.8 1054.8L351.8 1057.7L352.8 1062.0L353.8 1066.2L354.8 1070.5L355.8 1072.3L356.8 1074.1L357.8 1075.9L358.8 1078.7L359.8 1082.4L360.8 1086.0L361.8 1089.2L362.8 1091.0L363.8 1091.7L364.8 1091.1L365.8 1090.0L366.8 1088.8L367.8 1087.7L368.8 1086.4L369.8 1082.9L370.8 1078.9L371.8 1075.5L372.8 1073.9L373.8 1074.9L374.8 1076.9L375.8 1078.2L376.8 1077.7L377.8 1077.2L378.8 1076.5L379.8 1076.7L380.8 1076.9L381.8 1076.3L382.8 1075.3L383.8 1072.3L384.8 1070.1L385.8 1069.2L386.8 1070.2L387.8 1072.6L388.8 1075.8L389.8 1079.2L390.8 1081.4L391.8 1083.2L392.8 1084.1L393.8 1084.0L394.8 1082.8L395.8 1080.8L396.8 1078.7L397.8 1076.7L398.8 1076.3L399.8 1076.6L400.8 1077.4L401.8 1078.5L402.8 1079.7L403.8 1080.8L404.8 1081.1L405.8 1081.1L406.8 1080.0L407.8 1078.8L408.8 1077.9L409.8 1077.2L410.8 1076.4L411.8 1073.4L412.8 1070.4L413.8 1067.7L414.8 1067.2L415.8 1068.8L416.8 1070.6L417.8 1072.8L418.8 1072.2L419.8 1070.4L420.8 1068.4L421.8 1068.0L422.8 1069.1L423.8 1070.4L424.8 1071.9L425.8 1072.7L426.8 1073.8L427.8 1076.3L428.8 1079.4L429.8 1082.7L430.8 1086.4L431.8 1091.7L432.8 1097.1L433.8 1102.3L434.8 1106.3L435.8 1110.4L436.8 1115.0L437.8 1119.3L438.8 1123.4L439.8 1126.8L440.8 1131.3L441.8 1135.9L442.8 1140.3L443.8 1144.4L444.8 1148.3L445.8 1152.0L446.8 1155.3L447.8 1158.8L448.8 1162.4L449.8 1166.0L450.8 1169.3L451.8 1172.2L452.8 1174.5L453.8 1175.9L454.8 1176.4L455.8 1176.4L456.8 1176.1L457.8 1175.6L458.8 1175.0L459.8 1174.2L460.8 1173.5L461.8 1171.6L462.8 1168.6L463.8 1165.0L464.8 1161.6L465.8 1159.4L466.8 1158.7L467.8 1159.4L468.8 1160.9L469.8 1163.0L470.8 1165.6L471.8 1168.5L472.8 1171.5L473.8 1175.3L474.8 1180.3L475.8 1186.0L476.8 1191.9L477.8 1197.3L478.8 1201.9L479.8 1206.3L480.8 1210.7L481.8 1216.2L482.8 1221.4L483.8 1226.3L484.8 1229.9L485.8 1232.6L486.8 1235.2L487.8 1237.5L488.8 1240.6L489.8 1243.2L490.8 1245.2L491.8 1246.1L492.8 1246.0L493.8 1245.9L494.8 1245.7L495.8 1246.2L496.8 1246.6L497.8 1246.8L498.8 1247.0L499.8 1247.1L500.8 1247.3L501.8 1247.5L502.8 1247.7L503.8 1247.9L504.8 1248.1L505.8 1248.2L506.8 1248.2L507.8 1248.3L508.8 1248.3L509.8 1248.8L510.8 1249.3L511.8 1249.9L512.8 1249.3L513.8 1247.8L514.8 1246.2L515.8 1244.7L516.8 1246.2L517.8 1247.7L518.8 1249.2L519.8 1249.5L520.8 1248.6L521.8 1247.6L522.8 1246.6L523.8 1247.0L524.8 1247.2L525.8 1246.8L526.8 1246.1L527.8 1245.3L528.8 1244.5L529.8 1243.8L530.8 1243.1L531.8 1242.4L532.8 1241.8L533.8 1241.4L534.8 1241.3L535.8 1241.3L536.8 1241.1L537.8 1239.4L538.8 1237.7L539.8 1235.9L540.8 1234.9L541.8 1234.6L542.8 1234.3L543.8 1234.0L544.8 1232.5L545.8 1230.9L546.8 1229.3L547.8 1227.6L548.8 1225.8L549.8 1224.0L550.8 1222.2L551.8 1221.4L552.8 1220.6L553.8 1219.7L554.8 1218.0L555.8 1215.6L556.8 1213.0L557.8 1210.2L558.8 1208.5L559.8 1206.2L560.8 1202.9L561.8 1199.1L562.8 1195.0L563.8 1190.9L564.8 1187.3L565.8 1183.0L566.8 1179.9L567.8 1177.7L568.8 1175.8L569.8 1174.0L570.8 1172.5L571.8 1171.1L572.8 1170.0L573.8 1169.2L574.8 1168.7L575.8 1168.8L576.8 1169.2L577.8 1169.8L578.8 1170.6L579.8 1171.4L580.8 1172.4L581.8 1173.6L582.8 1175.8L583.8 1179.9L584.8 1186.6L585.8 1193.5L586.8 1196.6L587.8 1199.0L588.8 1201.0L589.8 1202.8L590.8 1204.6L591.8 1206.1L592.8 1207.6L593.8 1209.6L594.8 1211.5L595.8 1213.5L596.8 1215.7L597.8 1218.2L598.8 1220.5L599.8 1222.7L600.8 1222.6L601.8 1222.2L602.8 1221.7L603.8 1221.7L604.8 1222.1L605.8 1222.6L606.8 1223.2L607.8 1224.9L608.8 1226.9L609.8 1229.3L610.8 1231.7L611.8 1233.7L612.8 1236.1L613.8 1238.4L614.8 1240.1L615.8 1241.4L616.8 1242.1L617.8 1243.2L618.8 1245.1L619.8 1246.8L620.8 1248.5L621.8 1248.8L622.8 1249.1L623.8 1249.4L624.8 1249.9L625.8 1250.5L626.8 1251.3L627.8 1252.2L628.8 1253.4L629.8 1254.7L630.8 1255.9L631.8 1257.0L632.8 1257.9L633.8 1258.4L634.8 1258.4L635.8 1258.7L636.8 1259.0L637.8 1259.3L638.8 1259.6L639.8 1259.9L640.8 1260.2L641.8 1260.5L642.8 1259.4L643.8 1258.3L644.8 1257.3L645.8 1257.6L646.8 1259.2L647.8 1261.0L648.8 1262.9L649.8 1263.0L650.8 1262.9L651.8 1262.4L652.8 1262.6L653.8 1263.5L654.8 1264.4L655.8 1265.2L656.8 1266.1L657.8 1266.8L658.8 1267.5L659.8 1267.5L660.8 1266.8L661.8 1266.0L662.8 1264.7L663.8 1263.5L664.8 1261.9L665.8 1260.2L666.8 1258.9L667.8 1258.1L668.8 1257.2L669.8 1256.3L670.8 1254.0L671.8 1251.4L672.8 1248.6L673.8 1245.7L674.8 1243.0L675.8 1240.3L676.8 1237.5L677.8 1235.2L678.8 1233.0L679.8 1231.2L681.7 1228.5L682.9 1226.1L683.8 1223.7L684.4 1221.4L685.0 1219.0L685.5 1216.6L686.0 1214.2L686.4 1211.8L686.9 1209.5L687.3 1207.1L687.7 1204.7L688.0 1202.3L688.4 1200.0L688.8 1197.6L689.2 1195.2L689.6 1192.8L690.0 1190.4L690.4 1188.1L690.7 1185.7L691.1 1183.3L691.5 1180.9L691.8 1178.5L692.2 1176.2L692.5 1173.8L692.9 1171.4L693.2 1169.0L693.5 1166.6L693.9 1164.3L694.2 1161.9L694.5 1159.5L694.8 1157.1L695.1 1154.7L695.4 1152.4L695.7 1150.0L696.0 1147.6L696.3 1145.2L696.6 1142.8L696.8 1140.5L697.1 1138.1L697.4 1135.7L697.6 1133.3L697.9 1130.9L698.1 1128.7L698.4 1126.6L698.7 1124.6L698.9 1122.7L699.2 1120.9L699.5 1119.2L699.8 1117.6L700.1 1116.1L700.4 1114.6L700.7 1113.2L701.0 1111.9L701.3 1110.6L701.6 1109.3L701.9 1108.0L702.3 1106.7L702.6 1105.5L702.9 1104.2L703.2 1102.9L703.5 1101.6L703.8 1100.3L704.1 1098.9L704.4 1097.6L704.7 1096.2L705.0 1094.7L705.2 1093.2L705.5 1091.7L705.8 1090.1L706.1 1088.5L706.3 1086.8L706.6 1085.0L706.8 1083.2L707.1 1081.4L707.3 1079.5L707.5 1077.5L707.8 1075.5L708.0 1073.5L708.2 1071.4L708.4 1069.2L708.6 1067.0L708.8 1064.7L708.9 1062.3L709.1 1060.0L709.3 1057.5L709.4 1055.0L709.6 1052.5L709.7 1049.9L709.9 1047.3L710.0 1044.7L710.2 1041.9L710.3 1039.2L710.4 1036.4L710.5 1033.6L710.6 1030.7L710.7 1027.8L710.9 1024.8L711.0 1021.9L711.1 1018.9L711.2 1015.9L711.3 1013.0L711.4 1010.0L711.5 1007.0L711.6 1004.1L711.7 1001.1L711.8 998.1L711.9 995.1L712.0 992.2L712.1 989.2L712.2 986.2L712.3 983.3L712.4 980.3L712.5 977.3L712.6 974.4L712.7 971.4L712.8 968.4L712.8 965.4L712.9 962.5L713.0 959.5L713.1 956.5L713.2 953.6L713.3 950.6L713.4 947.6L713.5 944.7L713.6 941.7L713.7 938.7L713.7 935.7L713.8 932.8L713.9 929.8L714.0 926.8L714.1 923.9L714.2 920.9L714.3 917.9L714.4 915.0L714.6 912.0L714.7 909.0L714.8 906.0L715.0 903.1L715.5 900.1L715.9 902.8L716.1 905.4L716.3 908.1L716.4 910.7L716.5 913.4L716.6 916.0L716.7 918.7L716.8 921.3L716.9 924.0L717.0 926.6L717.1 929.3L717.1 931.9L717.2 934.6L717.3 937.2L717.4 939.9L717.5 942.5L717.6 945.2L717.6 947.8L717.7 950.5L717.8 953.1L717.9 955.8L718.0 958.4L718.1 961.1L718.2 963.7L718.3 966.4L718.4 969.0L718.5 971.7L718.6 974.4L718.7 977.0L718.8 979.7L718.9 982.3L719.0 985.0L719.1 987.6L719.2 990.3L719.3 992.9L719.4 995.6L719.5 998.2L719.6 1000.9L719.7 1003.5L719.8 1006.2L719.9 1008.8L720.0 1011.5L720.2 1014.1L720.3 1016.7L720.4 1019.3L720.5 1021.8L720.6 1024.3L720.8 1026.8L720.9 1029.2L721.0 1031.6L721.2 1034.0L721.3 1036.3L721.4 1038.5L721.6 1040.8L721.7 1043.0L721.9 1045.1L722.0 1047.3L722.2 1049.3L722.4 1051.3L722.5 1053.3L722.7 1055.3L722.9 1057.2L723.0 1059.0L723.2 1060.8L723.4 1062.6L723.6 1064.3L723.8 1065.9L724.0 1067.6L724.2 1069.2L724.3 1070.7L724.5 1072.2L724.7 1073.7L724.9 1075.1L725.1 1076.5L725.3 1077.9L725.5 1079.2L725.7 1080.5L725.9 1081.8L726.1 1083.1L726.4 1084.4L726.6 1085.7L726.8 1086.9L727.0 1088.2L727.2 1089.5L727.4 1090.8L727.6 1092.1L727.7 1093.4L727.9 1094.8L728.1 1096.2L728.3 1097.7L728.5 1099.2L728.7 1100.8L728.9 1102.5L729.0 1104.3L729.2 1106.1L729.4 1108.1L729.5 1110.2L729.7 1112.3L729.9 1114.5L730.0 1116.7L730.2 1118.8L730.4 1121.0L730.6 1123.2L730.7 1125.3L730.9 1127.5L731.1 1129.7L731.3 1131.8L731.5 1134.0L731.7 1136.2L731.9 1138.3L732.0 1140.5L732.2 1142.7L732.4 1144.8L732.6 1147.0L732.8 1149.2L733.0 1151.3L733.2 1153.5L733.4 1155.6L733.6 1157.8L733.8 1160.0L734.0 1162.1L734.2 1164.3L734.4 1166.5L734.6 1168.6L734.8 1170.8L735.0 1173.0L735.2 1175.1L735.4 1177.3L735.6 1179.5L735.8 1181.6L736.0 1183.8L736.3 1186.0L736.6 1188.1L736.8 1190.3L737.2 1192.5L737.6 1194.6L738.5 1196.8L739.8 1199.0L742.0 1201.1L742.8 1201.9L743.8 1202.7L744.8 1203.8L745.8 1205.0L746.8 1206.3L747.8 1206.0L748.8 1205.6L749.8 1205.1L750.8 1206.1L751.8 1208.6L752.8 1211.0L753.8 1213.6L754.8 1214.3L755.8 1215.2L756.8 1216.1L757.8 1216.8L758.8 1217.2L759.8 1217.4L760.8 1217.5L761.8 1218.5L762.8 1219.5L763.8 1220.4L764.8 1221.7L765.8 1223.4L766.8 1225.1L767.8 1226.7L768.8 1228.5L769.8 1230.2L770.8 1231.7L771.8 1231.9L772.8 1231.0L773.8 1230.0L774.8 1229.0L775.8 1228.4L776.8 1227.7L777.8 1227.0L778.8 1226.8L779.8 1227.2L780.8 1227.5L781.8 1227.8L782.8 1226.6L783.8 1225.4L784.8 1224.2L785.8 1223.7L786.8 1224.6L787.8 1225.5L788.8 1226.3L789.8 1226.2L790.8 1226.0L791.8 1225.7L792.8 1225.6L793.8 1224.3L794.8 1221.3L795.8 1217.1L796.8 1212.6L797.8 1208.1L798.8 1204.1L799.8 1199.4L800.8 1193.7L801.8 1187.9L802.8 1182.0L803.8 1178.1L804.8 1174.2L805.8 1170.3L806.8 1164.9L807.8 1158.2L808.8 1151.4L809.8 1144.7L810.8 1139.7L811.8 1135.2L812.8 1130.4L813.8 1125.3L814.8 1120.9L815.8 1118.4L816.8 1118.1L817.8 1117.6L818.8 1117.0L819.8 1116.5L820.8 1116.3L821.8 1116.5L822.8 1116.7L823.8 1117.3L824.8 1118.5L825.8 1120.2L826.8 1122.4L827.8 1125.3L828.8 1128.9L829.8 1132.4L830.8 1135.9L831.8 1138.1L832.8 1140.9L833.8 1143.7L834.8 1146.2L835.8 1147.9L836.8 1148.7L837.8 1149.4L838.8 1151.4L839.8 1152.9L840.8 1153.6L841.8 1152.8L842.8 1150.7L843.8 1147.8L844.8 1144.5L845.8 1140.2L846.8 1135.9L847.8 1131.7L848.8 1127.9L849.8 1124.5L850.8 1120.8L851.8 1117.0L852.8 1112.5L853.8 1108.0L854.8 1103.2L855.8 1098.1L856.8 1093.2L857.8 1089.2L858.8 1086.6L859.8 1086.9L860.8 1087.0L861.8 1087.4L862.8 1087.3L863.8 1086.3L864.8 1085.6L865.8 1085.2L866.8 1086.6L867.8 1090.2L868.8 1100.7L869.8 1112.4L870.8 1121.1L871.8 1129.0L872.8 1136.5L873.8 1141.8L874.8 1147.0L875.8 1152.2L876.8 1157.9L877.8 1163.9L878.8 1169.8L879.8 1175.3L880.8 1181.9L881.8 1187.8L882.8 1193.2L883.8 1197.9L884.8 1202.1L885.8 1206.1L886.8 1209.9L887.8 1213.2L888.8 1216.5L889.8 1219.7L890.8 1222.5L891.8 1224.7L892.8 1226.2L893.8 1227.2L894.8 1227.8L895.8 1228.4L896.8 1228.9L897.8 1230.5L898.8 1233.3L899.8 1236.6L900.8 1240.3L901.8 1242.8L902.8 1245.4L903.8 1248.1L904.8 1250.5L905.8 1252.7L906.8 1254.7L907.8 1256.8L908.8 1259.4L909.8 1261.9L910.8 1264.2L911.8 1265.8L912.8 1266.7L913.8 1267.6L914.8 1268.4L915.8 1271.7L916.8 1275.0L917.8 1278.1L918.8 1280.6L919.8 1282.4L920.8 1284.1L921.8 1285.5L922.8 1286.3L923.8 1287.0L924.8 1287.7L925.8 1288.4L926.8 1289.2L927.8 1289.9L928.8 1290.4L929.8 1290.2L930.8 1289.8L931.8 1289.1L932.8 1288.4L933.8 1287.7L934.8 1287.1L935.8 1286.6L936.8 1285.1L937.8 1284.0L938.8 1283.1L939.8 1283.5L940.8 1285.1L941.8 1286.8L942.8 1288.4L943.8 1289.4L944.8 1290.4L945.8 1291.5L946.8 1291.9L947.8 1291.5L948.8 1290.8L949.8 1289.6L950.8 1288.7L951.8 1287.8L952.8 1287.0L953.8 1286.9L954.8 1287.4L955.8 1287.8L956.8 1288.3L957.8 1288.0L958.8 1287.7L959.8 1287.5L960.8 1288.0L961.8 1289.4L962.8 1291.0L963.8 1292.9L964.8 1292.9L965.8 1293.2L966.8 1293.6L967.8 1294.5L968.8 1296.0L969.8 1297.5L970.8 1298.8L971.8 1300.9L972.8 1303.1L973.8 1305.4L974.8 1306.7L975.8 1307.2L976.8 1308.0L977.8 1309.1L978.8 1312.5L979.8 1316.0L980.8 1319.6L981.8 1323.3L982.8 1327.1L983.8 1331.1L984.8 1335.1L985.8 1336.9L986.8 1339.2L987.8 1341.7L988.8 1344.6L989.8 1347.6L990.8 1349.4L991.8 1350.2L992.8 1351.5L993.8 1352.6L994.8 1353.7L995.8 1354.4L996.8 1354.8L997.8 1355.3L998.8 1356.5L999.8 1357.9L1000.8 1359.6L1001.8 1361.1L1002.8 1362.2L1003.8 1362.6L1004.8 1362.7L1005.8 1362.8L1006.8 1362.7L1007.8 1362.5L1008.8 1362.1" stroke="#0707a1"/>
<path d="M95.8 1318.4L96.8 1319.3L97.8 1320.2L98.8 1321.0L99.8 1321.1L100.8 1320.4L101.8 1319.7L102.8 1319.0L103.8 1318.6L104.8 1318.2L105.8 1317.9L106.8 1317.6L107.8 1317.5L108.8 1317.4L109.8 1317.3L110.8 1318.1L111.8 1318.9L112.8 1319.7L113.8 1318.9L114.8 1316.5L115.8 1314.1L116.8 1311.8L117.8 1313.2L118.8 1314.6L119.8 1316.0L120.8 1317.0L121.8 1317.5L122.8 1318.0L123.8 1318.5L124.8 1318.1L125.8 1317.7L126.8 1317.3L127.8 1317.2L128.8 1317.2L129.8 1317.3L130.8 1317.5L131.8 1318.9L132.8 1320.4L133.8 1321.9L134.8 1322.8L135.8 1323.1L136.8 1323.2L137.8 1323.1L138.8 1323.2L139.8 1321.8L140.8 1320.0L141.8 1317.6L142.8 1315.4L143.8 1314.0L144.8 1312.9L145.8 1314.1L146.8 1315.4L147.8 1316.8L148.8 1317.3L149.8 1316.8L150.8 1316.2L151.8 1315.5L152.8 1317.1L153.8 1318.6L154.8 1319.8L155.8 1319.3L156.8 1317.2L157.8 1315.0L158.8 1313.3L159.8 1312.7L160.8 1312.2L161.8 1311.7L162.8 1311.6L163.8 1311.6L164.8 1311.7L165.8 1311.8L166.8 1311.4L167.8 1311.0L168.8 1310.6L169.8 1310.1L170.8 1309.4L171.8 1308.3L172.8 1306.9L173.8 1305.4L174.8 1303.8L175.8 1302.4L176.8 1301.8L177.8 1302.0L178.8 1302.3L179.8 1302.6L180.8 1302.2L181.8 1301.8L182.8 1301.4L183.8 1300.9L184.8 1300.0L185.8 1299.1L186.8 1297.8L187.8 1297.1L188.8 1296.3L189.8 1295.5L190.8 1294.7L191.8 1294.0L192.8 1293.3L193.8 1292.5L194.8 1292.4L195.8 1292.3L196.8 1292.1L197.8 1290.9L198.8 1288.9L199.8 1286.7L200.8 1284.3L201.8 1282.5L202.8 1280.7L203.8 1278.9L204.8 1276.6L205.8 1274.1L206.8 1271.5L207.8 1268.9L208.8 1268.3L209.8 1267.7L210.8 1267.1L211.8 1265.8L212.8 1263.6L213.8 1261.5L214.8 1259.4L215.8 1257.5L216.8 1255.7L217.8 1253.8L218.8 1252.0L219.8 1250.2L220.8 1248.4L221.8 1246.6L222.8 1245.0L223.8 1243.5L224.8 1242.0L225.8 1239.7L226.8 1236.7L227.8 1233.7L228.8 1230.8L229.8 1229.5L230.8 1228.3L231.8 1227.1L232.8 1225.8L233.8 1224.4L234.8 1223.1L235.8 1221.7L236.8 1220.4L237.8 1219.1L238.8 1217.7L239.8 1215.9L240.8 1213.5L241.8 1211.1L242.8 1208.6L243.8 1206.4L244.8 1204.3L245.8 1202.1L246.8 1199.5L247.8 1196.6L248.8 1193.7L249.8 1190.8L250.8 1188.4L251.8 1185.9L252.8 1183.5L253.8 1180.6L254.8 1177.3L255.8 1174.0L256.8 1170.7L257.8 1168.3L258.8 1165.9L259.8 1163.5L260.8 1161.1L261.8 1158.8L262.8 1156.5L263.8 1154.3L264.8 1151.8L265.8 1149.3L266.8 1146.8L267.8 1144.5L268.8 1142.6L269.8 1140.5L270.8 1138.5L271.8 1135.4L272.8 1132.4L273.8 1129.2L274.8 1126.3L275.8 1123.2L276.8 1119.9L277.8 1116.5L278.8 1112.8L279.8 1109.1L280.8 1105.5L281.8 1102.3L282.8 1099.7L283.8 1097.2L284.8 1095.0L285.8 1091.1L286.8 1087.6L287.8 1084.5L288.8 1082.8L289.8 1082.6L290.8 1082.9L291.8 1083.6L292.8 1083.3L293.8 1083.2L294.8 1083.3L295.8 1084.1L296.8 1085.6L297.8 1087.1L298.8 1088.6L299.8 1089.5L300.8 1090.2L301.8 1091.0L302.8 1091.6L303.8 1092.1L304.8 1092.5L305.8 1092.7L306.8 1092.6L307.8 1092.3L308.8 1091.8L309.8 1091.4L310.8 1090.8L311.8 1089.5L312.8 1087.8L313.8 1084.8L314.8 1081.5L315.8 1078.0L316.8 1074.3L317.8 1070.6L318.8 1067.1L319.8 1063.8L320.8 1060.9L321.8 1057.8L322.8 1054.6L323.8 1051.4L324.8 1048.0L325.8 1044.6L326.8 1041.3L327.8 1039.6L328.8 1038.0L329.8 1036.5L330.8 1033.2L331.8 1028.0L332.8 1022.8L333.8 1017.6L334.8 1013.7L335.8 1010.3L336.8 1007.7L337.8 1007.8L338.8 1009.5L339.8 1011.7L340.8 1014.2L341.8 1018.5L342.8 1022.8L343.8 1027.1L344.8 1029.8L345.8 1030.9L346.8 1031.6L347.8 1032.3L348.8 1035.8L349.8 1039.2L350.8 1042.6L351.8 1045.0L352.8 1046.4L353.8 1047.7L354.8 1049.2L355.8 1051.9L356.8 1054.8L357.8 1057.7L358.8 1060.2L359.8 1062.3L360.8 1064.2L361.8 1065.8L362.8 1067.7L363.8 1068.2L364.8 1067.5L365.8 1065.2L366.8 1061.7L367.8 1058.3L368.8 1054.7L369.8 1050.8L370.8 1046.5L371.8 1042.6L372.8 1039.7L373.8 1038.8L374.8 1039.1L375.8 1039.0L376.8 1038.5L377.8 1038.1L378.8 1037.4L379.8 1037.6L380.8 1037.7L381.8 1036.7L382.8 1035.3L383.8 1030.5L384.8 1026.6L385.8 1024.0L386.8 1024.7L387.8 1028.0L388.8 1032.1L389.8 1036.5L390.8 1039.9L391.8 1042.8L392.8 1044.6L393.8 1044.3L394.8 1041.7L395.8 1038.1L396.8 1034.4L397.8 1031.3L398.8 1030.0L399.8 1029.5L400.8 1030.4L401.8 1032.5L402.8 1034.6L403.8 1036.7L404.8 1035.4L405.8 1033.8L406.8 1031.0L407.8 1028.8L408.8 1027.7L409.8 1026.9L410.8 1025.9L411.8 1023.5L412.8 1021.1L413.8 1019.0L414.8 1016.6L415.8 1013.9L416.8 1011.3L417.8 1009.1L418.8 1010.4L419.8 1010.6L420.8 1010.8L421.8 1010.2L422.8 1009.0L423.8 1008.0L424.8 1007.2L425.8 1008.4L426.8 1010.0L427.8 1013.2L428.8 1016.5L429.8 1019.2L430.8 1022.4L431.8 1027.5L432.8 1037.3L433.8 1046.8L434.8 1054.9L435.8 1060.6L436.8 1064.3L437.8 1067.6L438.8 1070.8L439.8 1074.0L440.8 1078.8L441.8 1083.9L442.8 1088.8L443.8 1093.6L444.8 1098.2L445.8 1102.5L446.8 1108.0L447.8 1113.7L448.8 1119.5L449.8 1124.4L450.8 1128.2L451.8 1131.4L452.8 1133.9L453.8 1136.1L454.8 1137.1L455.8 1137.4L456.8 1137.1L457.8 1136.3L458.8 1135.3L459.8 1134.0L460.8 1133.2L461.8 1131.0L462.8 1127.5L463.8 1123.7L464.8 1120.3L465.8 1118.3L466.8 1117.9L467.8 1118.4L468.8 1119.9L469.8 1122.2L470.8 1125.5L471.8 1129.6L472.8 1133.8L473.8 1139.0L474.8 1145.6L475.8 1152.9L476.8 1160.5L477.8 1167.0L478.8 1172.1L479.8 1176.9L480.8 1181.7L481.8 1187.3L482.8 1192.7L483.8 1197.5L484.8 1201.6L485.8 1205.1L486.8 1208.5L487.8 1211.6L488.8 1215.7L489.8 1219.2L490.8 1222.0L491.8 1223.0L492.8 1222.5L493.8 1221.9L494.8 1221.2L495.8 1221.2L496.8 1221.0L497.8 1220.7L498.8 1220.1L499.8 1219.5L500.8 1218.8L501.8 1218.2L502.8 1219.8L503.8 1221.3L504.8 1222.9L505.8 1223.9L506.8 1224.5L507.8 1225.0L508.8 1225.5L509.8 1226.1L510.8 1226.6L511.8 1227.2L512.8 1226.8L513.8 1225.5L514.8 1224.2L515.8 1222.9L516.8 1223.8L517.8 1224.7L518.8 1225.5L519.8 1226.7L520.8 1228.3L521.8 1229.7L522.8 1231.1L523.8 1229.3L524.8 1226.9L525.8 1223.9L526.8 1221.7L527.8 1220.5L528.8 1219.3L529.8 1218.3L530.8 1217.5L531.8 1216.7L532.8 1216.0L533.8 1214.8L534.8 1213.3L535.8 1211.7L536.8 1210.1L537.8 1209.5L538.8 1208.9L539.8 1208.2L540.8 1206.5L541.8 1203.9L542.8 1201.3L543.8 1198.6L544.8 1197.7L545.8 1196.8L546.8 1195.8L547.8 1194.5L548.8 1192.7L549.8 1190.9L550.8 1189.1L551.8 1188.2L552.8 1187.3L553.8 1186.2L554.8 1184.5L555.8 1181.9L556.8 1179.2L557.8 1176.2L558.8 1173.3L559.8 1169.8L560.8 1165.1L561.8 1159.0L562.8 1152.0L563.8 1145.0L564.8 1138.6L565.8 1135.4L566.8 1133.6L567.8 1132.9L568.8 1131.2L569.8 1128.4L570.8 1125.9L571.8 1123.5L572.8 1123.2L573.8 1123.2L574.8 1123.6L575.8 1123.0L576.8 1121.3L577.8 1120.0L578.8 1119.0L579.8 1120.4L580.8 1122.1L581.8 1124.0L582.8 1126.2L583.8 1129.8L584.8 1136.5L585.8 1143.5L586.8 1149.1L587.8 1153.8L588.8 1158.1L589.8 1160.8L590.8 1161.7L591.8 1162.5L592.8 1163.2L593.8 1166.0L594.8 1168.8L595.8 1171.6L596.8 1173.8L597.8 1175.6L598.8 1177.1L599.8 1178.5L600.8 1180.6L601.8 1182.5L602.8 1184.2L603.8 1185.0L604.8 1185.0L605.8 1185.0L606.8 1185.1L607.8 1187.1L608.8 1189.4L609.8 1192.2L610.8 1194.4L611.8 1195.8L612.8 1197.5L613.8 1199.3L614.8 1204.4L615.8 1209.0L616.8 1212.9L617.8 1214.5L618.8 1214.4L619.8 1214.1L620.8 1213.7L621.8 1213.8L622.8 1213.8L623.8 1213.9L624.8 1214.9L625.8 1217.1L626.8 1219.3L627.8 1221.8L628.8 1222.8L629.8 1223.9L630.8 1225.0L631.8 1225.9L632.8 1226.5L633.8 1226.7L634.8 1226.3L635.8 1227.6L636.8 1228.9L637.8 1230.2L638.8 1230.3L639.8 1229.1L640.8 1227.9L641.8 1226.7L642.8 1226.2L643.8 1225.7L644.8 1225.2L645.8 1226.0L646.8 1227.9L647.8 1230.1L648.8 1232.5L649.8 1234.1L650.8 1235.7L651.8 1236.9L652.8 1237.5L653.8 1237.9L654.8 1238.3L655.8 1238.6L656.8 1237.5L657.8 1236.4L658.8 1235.3L659.8 1235.6L660.8 1237.5L661.8 1239.1L662.8 1240.3L663.8 1238.4L664.8 1236.1L665.8 1233.6L666.8 1231.4L667.8 1229.6L668.8 1227.8L669.8 1226.0L670.8 1223.0L671.8 1219.7L672.8 1216.0L673.8 1212.8L674.8 1210.1L675.8 1207.5L676.8 1205.3L677.8 1203.4L678.8 1201.9L679.8 1200.7L681.6 1198.3L682.8 1196.2L683.6 1194.0L684.2 1191.8L684.7 1189.7L685.1 1187.5L685.5 1185.4L685.9 1183.2L686.3 1181.0L686.6 1178.9L687.0 1176.7L687.3 1174.6L687.6 1172.4L687.9 1170.2L688.3 1168.1L688.6 1165.9L688.9 1163.8L689.2 1161.6L689.6 1159.4L689.9 1157.3L690.2 1155.1L690.5 1152.9L690.8 1150.8L691.1 1148.6L691.5 1146.5L691.8 1144.3L692.1 1142.1L692.4 1140.0L692.7 1137.8L693.0 1135.7L693.3 1133.5L693.6 1131.3L693.9 1129.2L694.2 1127.0L694.5 1124.9L694.7 1122.7L695.0 1120.5L695.3 1118.4L695.5 1116.2L695.8 1114.0L696.1 1111.9L696.3 1109.7L696.6 1107.7L696.8 1105.7L697.1 1103.8L697.4 1102.0L697.7 1100.2L697.9 1098.6L698.2 1097.0L698.5 1095.4L698.8 1093.9L699.1 1092.4L699.4 1091.0L699.7 1089.6L700.0 1088.3L700.3 1086.9L700.5 1085.6L700.8 1084.2L701.1 1082.9L701.4 1081.6L701.7 1080.2L702.0 1078.9L702.3 1077.5L702.6 1076.1L702.9 1074.7L703.1 1073.3L703.4 1071.8L703.7 1070.3L704.0 1068.8L704.2 1067.3L704.5 1065.7L704.8 1064.1L705.0 1062.4L705.3 1060.7L705.5 1059.0L705.7 1057.2L706.0 1055.4L706.2 1053.5L706.4 1051.6L706.6 1049.7L706.8 1047.7L707.0 1045.7L707.2 1043.6L707.4 1041.5L707.6 1039.3L707.8 1037.1L707.9 1034.9L708.1 1032.6L708.2 1030.3L708.4 1028.0L708.5 1025.6L708.7 1023.1L708.8 1020.7L709.0 1018.2L709.1 1015.6L709.2 1013.1L709.3 1010.5L709.5 1007.8L709.6 1005.2L709.7 1002.6L709.8 1000.0L709.9 997.3L710.1 994.7L710.2 992.1L710.3 989.4L710.5 986.8L710.6 984.2L710.7 981.6L710.9 978.9L711.0 976.3L711.1 973.7L711.2 971.0L711.3 968.4L711.5 965.8L711.6 963.2L711.7 960.5L711.8 957.9L711.9 955.3L712.1 952.7L712.2 950.0L712.3 947.4L712.4 944.8L712.5 942.1L712.7 939.5L712.8 936.9L712.9 934.3L713.0 931.6L713.1 929.0L713.3 926.4L713.4 923.7L713.5 921.1L713.7 918.5L713.8 915.9L714.0 913.2L714.2 910.6L714.3 908.0L714.6 905.4L714.9 902.7L715.5 900.1L716.1 902.5L716.3 904.9L716.5 907.3L716.6 909.7L716.8 912.1L716.9 914.5L717.1 916.9L717.2 919.3L717.3 921.7L717.4 924.1L717.5 926.5L717.6 928.9L717.7 931.3L717.8 933.7L717.9 936.1L718.0 938.5L718.1 940.9L718.2 943.3L718.3 945.7L718.5 948.1L718.6 950.5L718.7 952.9L718.8 955.3L718.9 957.7L719.0 960.1L719.1 962.5L719.2 964.9L719.3 967.3L719.4 969.7L719.5 972.1L719.7 974.5L719.8 976.9L719.9 979.3L720.0 981.7L720.1 984.1L720.3 986.5L720.4 988.9L720.5 991.3L720.6 993.7L720.8 996.1L720.9 998.5L721.0 1000.9L721.1 1003.2L721.3 1005.6L721.4 1007.9L721.5 1010.2L721.7 1012.5L721.8 1014.7L721.9 1016.9L722.1 1019.1L722.2 1021.2L722.4 1023.3L722.5 1025.4L722.7 1027.4L722.8 1029.4L723.0 1031.4L723.1 1033.3L723.3 1035.2L723.4 1037.1L723.6 1038.9L723.8 1040.7L723.9 1042.4L724.1 1044.2L724.3 1045.9L724.5 1047.5L724.6 1049.1L724.8 1050.7L725.0 1052.3L725.2 1053.8L725.4 1055.3L725.6 1056.8L725.7 1058.2L725.9 1059.6L726.1 1061.0L726.3 1062.4L726.5 1063.8L726.7 1065.1L726.9 1066.5L727.1 1067.8L727.3 1069.1L727.4 1070.4L727.6 1071.8L727.8 1073.1L728.0 1074.4L728.2 1075.8L728.4 1077.2L728.5 1078.6L728.7 1080.0L728.9 1081.5L729.1 1083.0L729.2 1084.5L729.4 1086.1L729.6 1087.8L729.8 1089.5L729.9 1091.3L730.1 1093.1L730.2 1095.1L730.4 1097.1L730.6 1099.1L730.7 1101.1L730.9 1103.1L731.0 1105.1L731.2 1107.1L731.4 1109.1L731.5 1111.2L731.7 1113.2L731.9 1115.2L732.0 1117.2L732.2 1119.2L732.4 1121.2L732.6 1123.2L732.7 1125.2L732.9 1127.2L733.1 1129.2L733.3 1131.3L733.4 1133.3L733.6 1135.3L733.8 1137.3L734.0 1139.3L734.2 1141.3L734.3 1143.3L734.5 1145.3L734.7 1147.3L734.8 1149.3L735.0 1151.4L735.1 1153.4L735.3 1155.4L735.5 1157.4L735.7 1159.4L735.8 1161.4L736.0 1163.4L736.2 1165.4L736.5 1167.4L736.7 1169.4L737.0 1171.5L737.4 1173.5L738.2 1175.5L739.6 1177.5L742.0 1179.5L743.8 1179.7L744.8 1180.8L745.8 1182.4L746.8 1184.6L747.8 1186.1L748.8 1187.5L749.8 1189.0L750.8 1190.7L751.8 1192.8L752.8 1194.9L753.8 1197.0L754.8 1195.5L755.8 1194.1L756.8 1192.8L757.8 1193.7L758.8 1196.5L759.8 1199.2L760.8 1201.8L761.8 1203.4L762.8 1204.9L763.8 1206.5L764.8 1206.9L765.8 1206.2L766.8 1205.4L767.8 1204.5L768.8 1205.7L769.8 1206.9L770.8 1207.8L771.8 1208.9L772.8 1210.1L773.8 1211.3L774.8 1212.5L775.8 1211.4L776.8 1210.3L777.8 1209.1L778.8 1208.7L779.8 1208.9L780.8 1209.1L781.8 1209.2L782.8 1209.5L783.8 1209.7L784.8 1209.9L785.8 1210.2L786.8 1210.8L787.8 1211.5L788.8 1212.1L789.8 1211.5L790.8 1210.8L791.8 1210.1L792.8 1209.2L793.8 1206.6L794.8 1202.0L795.8 1196.2L796.8 1191.2L797.8 1186.2L798.8 1181.8L799.8 1176.4L800.8 1169.9L801.8 1163.3L802.8 1156.5L803.8 1150.5L804.8 1144.4L805.8 1138.3L806.8 1132.4L807.8 1126.6L808.8 1120.8L809.8 1115.2L810.8 1109.4L811.8 1104.2L812.8 1098.6L813.8 1093.0L814.8 1088.6L815.8 1086.3L816.8 1086.4L817.8 1086.0L818.8 1085.4L819.8 1084.9L820.8 1084.2L821.8 1083.3L822.8 1082.4L823.8 1081.9L824.8 1081.9L825.8 1082.6L826.8 1083.8L827.8 1085.8L828.8 1088.4L829.8 1091.1L830.8 1093.8L831.8 1098.2L832.8 1103.3L833.8 1108.4L834.8 1113.0L835.8 1116.5L836.8 1119.0L837.8 1121.4L838.8 1121.6L839.8 1121.1L840.8 1119.8L841.8 1117.9L842.8 1115.5L843.8 1112.3L844.8 1108.5L845.8 1105.0L846.8 1101.4L847.8 1097.9L848.8 1092.8L849.8 1086.2L850.8 1079.2L851.8 1072.2L852.8 1067.8L853.8 1063.4L854.8 1058.6L855.8 1052.7L856.8 1046.4L857.8 1041.1L858.8 1037.5L859.8 1035.5L860.8 1034.0L861.8 1033.0L862.8 1033.2L863.8 1034.2L864.8 1035.5L865.8 1037.1L866.8 1037.5L867.8 1040.7L868.8 1052.6L869.8 1066.6L870.8 1077.2L871.8 1086.9L872.8 1096.1L873.8 1102.6L874.8 1109.0L875.8 1115.3L876.8 1122.5L877.8 1130.4L878.8 1138.1L879.8 1145.4L880.8 1151.9L881.8 1157.7L882.8 1162.8L883.8 1167.9L884.8 1172.9L885.8 1177.6L886.8 1182.1L887.8 1184.8L888.8 1187.5L889.8 1190.1L890.8 1193.2L891.8 1196.6L892.8 1199.2L893.8 1201.1L894.8 1202.2L895.8 1203.1L896.8 1204.1L897.8 1205.4L898.8 1207.2L899.8 1209.7L900.8 1212.7L901.8 1214.5L902.8 1216.5L903.8 1218.5L904.8 1221.3L905.8 1224.7L906.8 1228.0L907.8 1231.4L908.8 1234.4L909.8 1237.3L910.8 1240.0L911.8 1242.9L912.8 1246.0L913.8 1249.0L914.8 1252.0L915.8 1253.0L916.8 1253.9L917.8 1254.7L918.8 1256.1L919.8 1258.0L920.8 1259.7L921.8 1261.2L922.8 1262.2L923.8 1263.1L924.8 1264.0L925.8 1263.8L926.8 1262.5L927.8 1260.9L928.8 1259.2L929.8 1261.5L930.8 1263.5L931.8 1265.1L932.8 1265.4L933.8 1264.4L934.8 1263.5L935.8 1262.7L936.8 1261.8L937.8 1261.3L938.8 1261.0L939.8 1261.5L940.8 1262.5L941.8 1263.5L942.8 1264.5L943.8 1265.6L944.8 1266.7L945.8 1267.8L946.8 1268.7L947.8 1269.2L948.8 1269.2L949.8 1268.6L950.8 1267.8L951.8 1267.0L952.8 1266.3L953.8 1265.8L954.8 1265.3L955.8 1264.9L956.8 1264.5L957.8 1264.7L958.8 1265.1L959.8 1265.4L960.8 1266.0L961.8 1266.8L962.8 1267.9L963.8 1269.3L964.8 1269.8L965.8 1270.5L966.8 1271.4L967.8 1273.1L968.8 1275.6L969.8 1278.1L970.8 1280.4L971.8 1282.2L972.8 1284.0L973.8 1285.9L974.8 1287.8L975.8 1289.6L976.8 1291.8L977.8 1294.4L978.8 1296.6L979.8 1299.0L980.8 1301.5L981.8 1304.5L982.8 1308.4L983.8 1312.5L984.8 1316.5L985.8 1318.8L986.8 1321.5L987.8 1324.4L988.8 1328.4L989.8 1333.1L990.8 1336.5L991.8 1338.7L992.8 1339.1L993.8 1339.5L994.8 1339.8L995.8 1340.0L996.8 1340.1L997.8 1340.5L998.8 1341.7L999.8 1343.3L1000.8 1345.3L1001.8 1347.1L1002.8 1349.3L1003.8 1351.7L1004.8 1353.8L1005.8 1355.9L1006.8 1356.0L1007.8 1355.9L1008.8 1355.6" stroke="#0808b6"/>
<path d="M95.8 1294.6L96.8 1295.3L97.8 1296.0L98.8 1296.6L99.8 1296.5L100.8 1295.5L101.8 1294.6L102.8 1293.7L103.8 1292.4L104.8 1291.1L105.8 1289.9L106.8 1289.8L107.8 1291.1L108.8 1292.3L109.8 1293.5L110.8 1293.1L111.8 1292.6L112.8 1292.1L113.8 1291.9L114.8 1291.8L115.8 1291.8L116.8 1291.8L117.8 1291.8L118.8 1291.9L119.8 1292.1L120.8 1291.9L121.8 1291.3L122.8 1290.8L123.8 1290.3L124.8 1290.1L125.8 1290.0L126.8 1289.9L127.8 1290.9L128.8 1293.0L129.8 1295.3L130.8 1297.7L131.8 1297.8L132.8 1297.9L133.8 1298.0L134.8 1298.5L135.8 1299.3L136.8 1299.9L137.8 1300.3L138.8 1298.1L139.8 1294.2L140.8 1289.7L141.8 1286.0L142.8 1284.2L143.8 1283.5L144.8 1283.0L145.8 1284.6L146.8 1286.3L147.8 1288.1L148.8 1290.2L149.8 1292.7L150.8 1295.0L151.8 1297.3L152.8 1297.1L153.8 1296.8L154.8 1296.3L155.8 1293.9L156.8 1289.7L157.8 1285.4L158.8 1281.9L159.8 1282.4L160.8 1283.1L161.8 1283.8L162.8 1283.9L163.8 1283.5L164.8 1283.0L165.8 1282.6L166.8 1283.3L167.8 1284.1L168.8 1284.8L169.8 1285.6L170.8 1286.2L171.8 1286.4L172.8 1286.3L173.8 1283.1L174.8 1280.0L175.8 1277.1L176.8 1275.7L177.8 1276.0L178.8 1276.5L179.8 1277.0L180.8 1276.5L181.8 1276.0L182.8 1275.4L183.8 1274.9L184.8 1274.4L185.8 1273.7L186.8 1272.7L187.8 1271.4L188.8 1269.9L189.8 1268.4L190.8 1267.3L191.8 1266.6L192.8 1266.0L193.8 1265.3L194.8 1265.2L195.8 1265.1L196.8 1264.9L197.8 1264.1L198.8 1262.7L199.8 1261.3L200.8 1259.7L201.8 1258.3L202.8 1256.9L203.8 1255.4L204.8 1253.3L205.8 1250.5L206.8 1247.6L207.8 1244.7L208.8 1243.0L209.8 1241.4L210.8 1239.7L211.8 1238.4L212.8 1237.3L213.8 1236.2L214.8 1235.1L215.8 1233.2L216.8 1231.3L217.8 1229.4L218.8 1227.4L219.8 1225.3L220.8 1223.2L221.8 1221.0L222.8 1219.7L223.8 1218.4L224.8 1217.1L225.8 1216.5L226.8 1216.5L227.8 1216.5L228.8 1216.5L229.8 1213.8L230.8 1211.1L231.8 1208.4L232.8 1206.5L233.8 1205.5L234.8 1204.4L235.8 1203.3L236.8 1201.9L237.8 1200.4L238.8 1198.8L239.8 1196.6L240.8 1193.9L241.8 1191.1L242.8 1188.2L243.8 1187.3L244.8 1186.4L245.8 1185.4L246.8 1183.1L247.8 1179.7L248.8 1176.2L249.8 1172.7L250.8 1170.6L251.8 1168.5L252.8 1166.4L253.8 1163.7L254.8 1160.5L255.8 1157.2L256.8 1154.0L257.8 1152.4L258.8 1150.8L259.8 1149.2L260.8 1146.9L261.8 1144.0L262.8 1141.1L263.8 1138.2L264.8 1136.2L265.8 1134.2L266.8 1132.3L267.8 1129.6L268.8 1126.2L269.8 1122.9L270.8 1119.5L271.8 1116.9L272.8 1114.3L273.8 1111.7L274.8 1109.1L275.8 1106.5L276.8 1103.5L277.8 1100.4L278.8 1097.4L279.8 1094.3L280.8 1091.2L281.8 1087.1L282.8 1082.2L283.8 1077.4L284.8 1072.9L285.8 1071.1L286.8 1069.6L287.8 1068.7L288.8 1067.7L289.8 1067.0L290.8 1066.8L291.8 1067.1L292.8 1068.6L293.8 1070.4L294.8 1072.3L295.8 1072.8L296.8 1071.8L297.8 1070.7L298.8 1069.7L299.8 1071.3L300.8 1072.8L301.8 1074.3L302.8 1076.3L303.8 1078.9L304.8 1081.4L305.8 1083.8L306.8 1084.1L307.8 1084.3L308.8 1084.2L309.8 1083.7L310.8 1082.6L311.8 1080.9L312.8 1078.6L313.8 1075.3L314.8 1071.7L315.8 1068.0L316.8 1064.5L317.8 1061.4L318.8 1058.5L319.8 1055.9L320.8 1053.1L321.8 1050.2L322.8 1047.3L323.8 1044.4L324.8 1041.7L325.8 1038.9L326.8 1036.2L327.8 1031.7L328.8 1027.3L329.8 1023.0L330.8 1019.4L331.8 1016.5L332.8 1013.5L333.8 1010.6L334.8 1009.0L335.8 1008.0L336.8 1007.6L337.8 1008.3L338.8 1009.3L339.8 1010.8L340.8 1012.6L341.8 1013.4L342.8 1014.2L343.8 1015.0L344.8 1017.3L345.8 1021.0L346.8 1024.4L347.8 1027.7L348.8 1028.3L349.8 1028.8L350.8 1029.4L351.8 1030.4L352.8 1032.0L353.8 1033.6L354.8 1035.4L355.8 1036.2L356.8 1037.3L357.8 1038.3L358.8 1039.5L359.8 1040.7L360.8 1041.7L361.8 1042.4L362.8 1043.6L363.8 1043.5L364.8 1042.0L365.8 1039.2L366.8 1035.5L367.8 1031.9L368.8 1028.1L369.8 1022.1L370.8 1015.6L371.8 1009.6L372.8 1005.9L373.8 1005.4L374.8 1006.2L375.8 1007.0L376.8 1006.8L377.8 1006.7L378.8 1006.3L379.8 1004.8L380.8 1001.0L381.8 996.0L382.8 990.6L383.8 987.1L384.8 984.6L385.8 983.6L386.8 984.7L387.8 987.1L388.8 990.4L389.8 994.1L390.8 996.7L391.8 998.7L392.8 999.6L393.8 999.2L394.8 997.2L395.8 994.0L396.8 990.7L397.8 987.9L398.8 987.2L399.8 987.3L400.8 986.7L401.8 985.2L402.8 983.7L403.8 982.2L404.8 982.9L405.8 983.3L406.8 982.3L407.8 979.8L408.8 976.5L409.8 973.5L410.8 970.3L411.8 966.9L412.8 963.5L413.8 960.5L414.8 957.1L415.8 953.3L416.8 949.7L417.8 946.4L418.8 946.0L419.8 945.2L420.8 944.7L421.8 944.9L422.8 945.7L423.8 946.8L424.8 948.2L425.8 949.4L426.8 951.2L427.8 954.8L428.8 959.2L429.8 963.8L430.8 969.1L431.8 976.4L432.8 984.6L433.8 992.4L434.8 998.5L435.8 1004.4L436.8 1010.6L437.8 1016.4L438.8 1021.9L439.8 1025.4L440.8 1030.2L441.8 1035.2L442.8 1040.1L443.8 1044.9L444.8 1049.5L445.8 1053.8L446.8 1059.5L447.8 1065.5L448.8 1071.6L449.8 1077.3L450.8 1082.5L451.8 1087.1L452.8 1090.8L453.8 1093.0L454.8 1093.8L455.8 1093.9L456.8 1093.3L457.8 1091.9L458.8 1090.3L459.8 1088.4L460.8 1086.3L461.8 1082.6L462.8 1077.4L463.8 1071.8L464.8 1066.9L465.8 1063.6L466.8 1062.7L467.8 1065.1L468.8 1068.8L469.8 1073.3L470.8 1077.2L471.8 1080.2L472.8 1083.3L473.8 1087.6L474.8 1095.1L475.8 1103.5L476.8 1112.2L477.8 1120.3L478.8 1127.3L479.8 1133.9L480.8 1140.6L481.8 1146.3L482.8 1151.7L483.8 1156.5L484.8 1161.2L485.8 1165.9L486.8 1170.6L487.8 1174.9L488.8 1178.4L489.8 1181.3L490.8 1183.4L491.8 1185.3L492.8 1187.4L493.8 1189.3L494.8 1191.1L495.8 1191.2L496.8 1191.1L497.8 1190.7L498.8 1190.7L499.8 1191.2L500.8 1191.7L501.8 1192.3L502.8 1192.6L503.8 1193.0L504.8 1193.4L505.8 1193.2L506.8 1192.4L507.8 1191.5L508.8 1190.7L509.8 1191.4L510.8 1192.0L511.8 1192.7L512.8 1193.2L513.8 1193.5L514.8 1193.9L515.8 1194.3L516.8 1195.2L517.8 1196.1L518.8 1197.0L519.8 1197.2L520.8 1196.7L521.8 1196.2L522.8 1195.5L523.8 1196.4L524.8 1196.5L525.8 1196.0L526.8 1194.8L527.8 1193.1L528.8 1191.5L529.8 1190.1L530.8 1189.4L531.8 1188.8L532.8 1188.2L533.8 1186.8L534.8 1184.6L535.8 1182.3L536.8 1180.0L537.8 1179.6L538.8 1179.2L539.8 1178.6L540.8 1177.1L541.8 1174.7L542.8 1172.1L543.8 1169.6L544.8 1167.9L545.8 1166.1L546.8 1164.2L547.8 1161.8L548.8 1158.7L549.8 1155.5L550.8 1152.4L551.8 1150.3L552.8 1148.1L553.8 1145.8L554.8 1143.7L555.8 1141.8L556.8 1139.6L557.8 1137.2L558.8 1133.1L559.8 1128.1L560.8 1121.8L561.8 1115.7L562.8 1110.2L563.8 1104.8L564.8 1100.0L565.8 1093.7L566.8 1088.9L567.8 1085.4L568.8 1083.4L569.8 1082.9L570.8 1082.5L571.8 1082.4L572.8 1078.8L573.8 1075.5L574.8 1072.6L575.8 1071.7L576.8 1072.6L577.8 1073.9L578.8 1075.5L579.8 1076.7L580.8 1078.2L581.8 1080.0L582.8 1082.0L583.8 1085.6L584.8 1092.8L585.8 1100.3L586.8 1105.4L587.8 1109.4L588.8 1113.1L589.8 1115.5L590.8 1116.7L591.8 1117.6L592.8 1118.5L593.8 1122.4L594.8 1126.4L595.8 1130.3L596.8 1133.8L597.8 1136.7L598.8 1139.5L599.8 1142.0L600.8 1142.7L601.8 1143.1L602.8 1143.3L603.8 1143.3L604.8 1143.2L605.8 1143.1L606.8 1143.0L607.8 1144.7L608.8 1146.6L609.8 1149.1L610.8 1152.4L611.8 1156.2L612.8 1160.4L613.8 1164.6L614.8 1168.8L615.8 1172.5L616.8 1175.3L617.8 1176.7L618.8 1177.0L619.8 1177.1L620.8 1177.1L621.8 1179.2L622.8 1181.3L623.8 1183.4L624.8 1184.4L625.8 1184.1L626.8 1184.1L627.8 1184.3L628.8 1187.2L629.8 1190.2L630.8 1193.1L631.8 1195.1L632.8 1195.8L633.8 1196.1L634.8 1195.8L635.8 1197.0L636.8 1198.3L637.8 1199.6L638.8 1199.6L639.8 1198.4L640.8 1197.2L641.8 1196.0L642.8 1196.2L643.8 1196.5L644.8 1196.9L645.8 1197.2L646.8 1197.3L647.8 1197.7L648.8 1198.3L649.8 1198.9L650.8 1199.3L651.8 1199.3L652.8 1200.1L653.8 1202.0L654.8 1203.9L655.8 1205.7L656.8 1206.2L657.8 1206.6L658.8 1206.9L659.8 1206.8L660.8 1206.3L661.8 1205.5L662.8 1204.2L663.8 1203.5L664.8 1202.3L665.8 1200.9L666.8 1198.4L667.8 1194.9L668.8 1191.4L669.8 1187.9L670.8 1186.7L671.8 1185.3L672.8 1183.4L673.8 1180.7L674.8 1177.3L675.8 1173.9L676.8 1170.9L677.8 1169.4L678.8 1167.7L679.8 1165.8L681.5 1163.5L682.7 1161.6L683.4 1159.7L683.9 1157.8L684.3 1155.9L684.7 1154.0L685.0 1152.1L685.3 1150.2L685.6 1148.3L685.9 1146.4L686.2 1144.5L686.4 1142.5L686.7 1140.6L686.9 1138.7L687.2 1136.8L687.4 1134.9L687.7 1133.0L688.0 1131.1L688.2 1129.2L688.5 1127.3L688.7 1125.4L689.0 1123.5L689.3 1121.5L689.6 1119.6L689.8 1117.7L690.1 1115.8L690.4 1113.9L690.7 1112.0L691.0 1110.1L691.3 1108.2L691.6 1106.3L691.8 1104.4L692.1 1102.5L692.4 1100.5L692.7 1098.6L693.0 1096.7L693.2 1094.8L693.5 1092.9L693.8 1091.0L694.0 1089.1L694.3 1087.2L694.5 1085.3L694.8 1083.4L695.1 1081.6L695.3 1079.8L695.6 1078.0L695.8 1076.2L696.1 1074.5L696.4 1072.9L696.6 1071.2L696.9 1069.5L697.2 1067.9L697.4 1066.3L697.7 1064.7L697.9 1063.1L698.2 1061.5L698.5 1060.0L698.7 1058.4L699.0 1056.9L699.3 1055.3L699.5 1053.7L699.8 1052.2L700.0 1050.6L700.3 1049.0L700.5 1047.5L700.8 1045.9L701.1 1044.3L701.3 1042.7L701.6 1041.1L701.8 1039.4L702.1 1037.8L702.3 1036.2L702.6 1034.5L702.8 1032.8L703.0 1031.1L703.3 1029.4L703.5 1027.7L703.7 1025.9L703.9 1024.1L704.2 1022.3L704.4 1020.5L704.6 1018.7L704.8 1016.9L705.0 1015.0L705.1 1013.1L705.3 1011.2L705.5 1009.3L705.7 1007.3L705.8 1005.4L706.0 1003.4L706.2 1001.4L706.3 999.4L706.5 997.4L706.6 995.3L706.8 993.2L706.9 991.1L707.1 989.0L707.2 986.9L707.4 984.8L707.5 982.7L707.7 980.6L707.8 978.5L708.0 976.3L708.2 974.2L708.3 972.1L708.5 970.0L708.7 967.9L708.9 965.7L709.0 963.6L709.2 961.5L709.3 959.4L709.5 957.3L709.7 955.2L709.8 953.0L710.0 950.9L710.1 948.8L710.3 946.7L710.5 944.6L710.6 942.5L710.8 940.3L710.9 938.2L711.1 936.1L711.3 934.0L711.4 931.9L711.6 929.7L711.8 927.6L711.9 925.5L712.1 923.4L712.3 921.3L712.5 919.2L712.7 917.0L712.9 914.9L713.1 912.8L713.3 910.7L713.6 908.6L713.8 906.5L714.2 904.3L714.6 902.2L715.5 900.1L716.3 902.1L716.6 904.0L716.9 906.0L717.1 908.0L717.3 909.9L717.5 911.9L717.7 913.9L717.8 915.8L718.0 917.8L718.1 919.8L718.3 921.8L718.4 923.7L718.6 925.7L718.7 927.7L718.9 929.6L719.0 931.6L719.1 933.6L719.3 935.5L719.4 937.5L719.5 939.5L719.7 941.4L719.8 943.4L719.9 945.4L720.1 947.3L720.2 949.3L720.3 951.3L720.5 953.3L720.6 955.2L720.7 957.2L720.9 959.2L721.0 961.1L721.1 963.1L721.3 965.1L721.4 967.0L721.6 969.0L721.7 971.0L721.9 972.9L722.0 974.9L722.2 976.9L722.3 978.8L722.5 980.8L722.6 982.8L722.8 984.7L722.9 986.7L723.1 988.6L723.2 990.5L723.4 992.4L723.5 994.3L723.7 996.2L723.8 998.1L724.0 999.9L724.1 1001.7L724.3 1003.5L724.4 1005.3L724.6 1007.1L724.7 1008.9L724.9 1010.6L725.0 1012.3L725.2 1014.1L725.3 1015.8L725.5 1017.4L725.7 1019.1L725.8 1020.8L726.0 1022.4L726.1 1024.1L726.3 1025.7L726.4 1027.3L726.6 1028.9L726.8 1030.4L726.9 1032.0L727.1 1033.6L727.2 1035.1L727.4 1036.7L727.6 1038.2L727.7 1039.7L727.9 1041.3L728.0 1042.8L728.2 1044.3L728.4 1045.8L728.5 1047.3L728.7 1048.9L728.9 1050.4L729.0 1051.9L729.2 1053.4L729.3 1055.0L729.5 1056.5L729.7 1058.1L729.8 1059.7L730.0 1061.2L730.1 1062.8L730.3 1064.5L730.4 1066.1L730.6 1067.8L730.7 1069.5L730.9 1071.2L731.0 1072.9L731.2 1074.7L731.3 1076.5L731.5 1078.3L731.6 1080.1L731.8 1081.9L731.9 1083.7L732.1 1085.5L732.2 1087.3L732.4 1089.1L732.5 1090.9L732.6 1092.7L732.8 1094.5L732.9 1096.3L733.1 1098.1L733.2 1099.9L733.4 1101.7L733.6 1103.5L733.7 1105.3L733.9 1107.1L734.0 1108.9L734.2 1110.7L734.3 1112.5L734.5 1114.3L734.6 1116.1L734.7 1117.9L734.9 1119.7L735.0 1121.5L735.1 1123.3L735.3 1125.1L735.4 1126.9L735.5 1128.7L735.6 1130.5L735.8 1132.3L735.9 1134.1L736.0 1135.9L736.2 1137.7L736.4 1139.5L736.5 1141.3L736.7 1143.1L737.0 1144.9L737.9 1146.7L739.4 1148.5L742.0 1150.3L742.8 1151.1L743.8 1152.3L744.8 1153.3L745.8 1154.1L746.8 1154.6L747.8 1155.5L748.8 1156.4L749.8 1157.3L750.8 1158.2L751.8 1159.2L752.8 1160.2L753.8 1161.3L754.8 1161.0L755.8 1160.9L756.8 1160.9L757.8 1162.0L758.8 1164.0L759.8 1166.0L760.8 1167.8L761.8 1169.8L762.8 1171.8L763.8 1173.8L764.8 1175.5L765.8 1176.7L766.8 1177.8L767.8 1178.9L768.8 1177.3L769.8 1175.6L770.8 1173.7L771.8 1173.3L772.8 1174.4L773.8 1175.4L774.8 1176.5L775.8 1177.6L776.8 1178.8L777.8 1179.9L778.8 1181.4L779.8 1183.3L780.8 1185.1L781.8 1186.9L782.8 1184.2L783.8 1181.6L784.8 1178.9L785.8 1177.5L786.8 1177.8L787.8 1178.0L788.8 1178.1L789.8 1178.1L790.8 1178.0L791.8 1177.8L792.8 1177.6L793.8 1175.6L794.8 1171.2L795.8 1165.4L796.8 1156.9L797.8 1148.5L798.8 1140.8L799.8 1134.0L800.8 1127.9L801.8 1121.7L802.8 1115.2L803.8 1108.3L804.8 1101.3L805.8 1094.2L806.8 1086.8L807.8 1078.9L808.8 1071.0L809.8 1063.2L810.8 1056.2L811.8 1049.8L812.8 1042.9L813.8 1036.3L814.8 1031.3L815.8 1028.8L816.8 1029.4L817.8 1029.9L818.8 1030.5L819.8 1031.2L820.8 1031.4L821.8 1031.3L822.8 1031.1L823.8 1031.6L824.8 1033.2L825.8 1035.7L826.8 1038.7L827.8 1042.2L828.8 1045.9L829.8 1049.7L830.8 1053.5L831.8 1058.0L832.8 1063.3L833.8 1068.7L834.8 1073.5L835.8 1077.1L836.8 1079.6L837.8 1081.9L838.8 1084.2L839.8 1085.8L840.8 1086.2L841.8 1086.0L842.8 1085.4L843.8 1083.7L844.8 1081.3L845.8 1077.0L846.8 1072.7L847.8 1068.5L848.8 1063.3L849.8 1057.2L850.8 1050.7L851.8 1044.2L852.8 1038.1L853.8 1032.1L854.8 1025.5L855.8 1018.9L856.8 1012.8L857.8 1008.0L858.8 1004.9L859.8 1003.3L860.8 1001.9L861.8 1001.1L862.8 1000.6L863.8 1000.3L864.8 1000.2L865.8 1000.5L866.8 1001.4L867.8 1005.4L868.8 1019.3L869.8 1034.6L870.8 1045.0L871.8 1054.4L872.8 1063.1L873.8 1072.8L874.8 1082.3L875.8 1091.7L876.8 1100.3L877.8 1108.1L878.8 1115.6L879.8 1122.6L880.8 1128.8L881.8 1134.1L882.8 1138.9L883.8 1143.9L884.8 1149.4L885.8 1154.6L886.8 1159.6L887.8 1163.3L888.8 1167.0L889.8 1170.6L890.8 1174.4L891.8 1178.3L892.8 1181.1L893.8 1183.3L894.8 1184.6L895.8 1185.8L896.8 1187.0L897.8 1187.9L898.8 1188.7L899.8 1190.2L900.8 1192.2L901.8 1195.4L902.8 1198.9L903.8 1202.4L904.8 1206.1L905.8 1209.9L906.8 1213.5L907.8 1217.2L908.8 1217.9L909.8 1218.5L910.8 1218.9L911.8 1220.4L912.8 1223.1L913.8 1225.7L914.8 1228.3L915.8 1231.6L916.8 1234.8L917.8 1237.8L918.8 1240.1L919.8 1241.7L920.8 1242.9L921.8 1244.0L922.8 1245.7L923.8 1247.3L924.8 1248.9L925.8 1250.5L926.8 1252.1L927.8 1253.4L928.8 1254.5L929.8 1253.9L930.8 1252.9L931.8 1251.6L932.8 1249.8L933.8 1247.7L934.8 1245.7L935.8 1243.9L936.8 1246.7L937.8 1249.9L938.8 1253.5L939.8 1254.5L940.8 1252.8L941.8 1251.1L942.8 1249.4L943.8 1250.0L944.8 1250.6L945.8 1251.3L946.8 1252.7L947.8 1254.7L948.8 1256.0L949.8 1256.9L950.8 1254.1L951.8 1251.2L952.8 1248.5L953.8 1247.2L954.8 1247.2L955.8 1247.2L956.8 1247.3L957.8 1247.8L958.8 1248.4L959.8 1249.1L960.8 1249.3L961.8 1248.8L962.8 1248.6L963.8 1248.9L964.8 1250.7L965.8 1252.7L966.8 1254.9L967.8 1257.1L968.8 1259.4L969.8 1261.7L970.8 1263.8L971.8 1264.7L972.8 1265.7L973.8 1266.8L974.8 1268.3L975.8 1270.2L976.8 1272.5L977.8 1275.3L978.8 1279.4L979.8 1283.6L980.8 1288.0L981.8 1292.0L982.8 1295.9L983.8 1300.0L984.8 1304.1L985.8 1310.0L986.8 1316.5L987.8 1323.2L988.8 1327.3L989.8 1328.2L990.8 1327.5L991.8 1325.6L992.8 1327.7L993.8 1329.6L994.8 1331.5L995.8 1332.1L996.8 1331.5L997.8 1331.1L998.8 1331.6L999.8 1334.9L1000.8 1338.7L1001.8 1342.1L1002.8 1343.4L1003.8 1342.1L1004.8 1340.5L1005.8 1338.8L1006.8 1339.3L1007.8 1339.5L1008.8 1339.5" stroke="#0909ca"/>
<path d="M95.8 1273.5L96.8 1273.1L97.8 1272.6L98.8 1272.2L99.8 1272.3L100.8 1273.0L101.8 1273.7L102.8 1274.4L103.8 1275.9L104.8 1277.4L105.8 1278.9L106.8 1278.3L107.8 1275.8L108.8 1273.3L109.8 1270.8L110.8 1272.8L111.8 1274.9L112.8 1277.0L113.8 1277.3L114.8 1275.9L115.8 1274.6L116.8 1273.3L117.8 1273.4L118.8 1273.5L119.8 1273.6L120.8 1273.3L121.8 1272.4L122.8 1271.5L123.8 1270.6L124.8 1272.1L125.8 1273.6L126.8 1275.1L127.8 1276.5L128.8 1277.7L129.8 1279.1L130.8 1280.7L131.8 1280.0L132.8 1279.4L133.8 1278.8L134.8 1279.1L135.8 1280.3L136.8 1281.3L137.8 1282.0L138.8 1280.7L139.8 1277.4L140.8 1273.5L141.8 1270.3L142.8 1269.3L143.8 1269.4L144.8 1269.8L145.8 1270.3L146.8 1271.0L147.8 1271.6L148.8 1273.1L149.8 1275.5L150.8 1277.6L151.8 1279.7L152.8 1279.8L153.8 1279.8L154.8 1279.6L155.8 1277.4L156.8 1273.7L157.8 1269.8L158.8 1266.8L159.8 1267.7L160.8 1268.9L161.8 1270.2L162.8 1270.0L163.8 1268.4L164.8 1266.7L165.8 1265.1L166.8 1265.7L167.8 1266.3L168.8 1266.9L169.8 1266.4L170.8 1264.5L171.8 1262.1L172.8 1259.3L173.8 1257.4L174.8 1255.6L175.8 1253.9L176.8 1253.4L177.8 1254.0L178.8 1254.9L179.8 1255.7L180.8 1257.3L181.8 1258.9L182.8 1260.4L183.8 1260.5L184.8 1259.0L185.8 1257.3L186.8 1255.2L187.8 1254.9L188.8 1254.5L189.8 1254.0L190.8 1253.5L191.8 1253.0L192.8 1252.5L193.8 1252.1L194.8 1250.0L195.8 1247.9L196.8 1245.8L197.8 1243.6L198.8 1241.3L199.8 1239.0L200.8 1236.6L201.8 1235.7L202.8 1234.8L203.8 1233.9L204.8 1232.3L205.8 1230.0L206.8 1227.8L207.8 1225.5L208.8 1224.5L209.8 1223.6L210.8 1222.7L211.8 1221.1L212.8 1218.6L213.8 1216.2L214.8 1213.7L215.8 1213.6L216.8 1213.5L217.8 1213.4L218.8 1212.4L219.8 1210.7L220.8 1208.9L221.8 1207.2L222.8 1205.0L223.8 1202.9L224.8 1200.8L225.8 1199.0L226.8 1197.5L227.8 1196.0L228.8 1194.5L229.8 1193.4L230.8 1192.3L231.8 1191.2L232.8 1189.8L233.8 1188.0L234.8 1186.1L235.8 1184.2L236.8 1182.8L237.8 1181.4L238.8 1180.0L239.8 1178.6L240.8 1177.4L241.8 1176.1L242.8 1174.8L243.8 1171.5L244.8 1168.2L245.8 1164.8L246.8 1162.1L247.8 1160.0L248.8 1158.0L249.8 1155.9L250.8 1153.7L251.8 1151.5L252.8 1149.4L253.8 1146.4L254.8 1142.6L255.8 1138.9L256.8 1135.1L257.8 1135.6L258.8 1136.0L259.8 1136.5L260.8 1135.0L261.8 1131.6L262.8 1128.1L263.8 1124.6L264.8 1123.8L265.8 1122.9L266.8 1121.9L267.8 1119.0L268.8 1114.1L269.8 1109.1L270.8 1104.1L271.8 1101.7L272.8 1099.2L273.8 1096.7L274.8 1094.8L275.8 1093.3L276.8 1091.6L277.8 1089.6L278.8 1086.4L279.8 1083.2L280.8 1080.0L281.8 1077.0L282.8 1074.3L283.8 1071.8L284.8 1069.6L285.8 1066.9L286.8 1064.6L287.8 1062.8L288.8 1061.7L289.8 1061.5L290.8 1062.0L291.8 1062.8L292.8 1062.6L293.8 1062.6L294.8 1062.8L295.8 1064.5L296.8 1067.7L297.8 1070.9L298.8 1074.0L299.8 1073.8L300.8 1073.4L301.8 1073.0L302.8 1072.3L303.8 1071.2L304.8 1070.1L305.8 1068.8L306.8 1070.1L307.8 1071.2L308.8 1072.0L309.8 1071.8L310.8 1070.5L311.8 1068.5L312.8 1066.0L313.8 1063.6L314.8 1060.9L315.8 1058.1L316.8 1054.8L317.8 1051.2L318.8 1047.8L319.8 1044.7L320.8 1042.7L321.8 1040.6L322.8 1038.5L323.8 1036.4L324.8 1034.3L325.8 1032.2L326.8 1030.2L327.8 1025.4L328.8 1020.7L329.8 1016.0L330.8 1012.6L331.8 1010.3L332.8 1008.0L333.8 1005.7L334.8 1005.0L335.8 1004.7L336.8 1005.2L337.8 1005.7L338.8 1006.1L339.8 1007.0L340.8 1008.2L341.8 1009.8L342.8 1011.6L343.8 1013.3L344.8 1014.3L345.8 1014.4L346.8 1014.1L347.8 1013.8L348.8 1015.4L349.8 1016.9L350.8 1018.5L351.8 1019.3L352.8 1019.5L353.8 1019.7L354.8 1020.0L355.8 1019.5L356.8 1019.2L357.8 1019.0L358.8 1019.8L359.8 1021.7L360.8 1023.4L361.8 1024.7L362.8 1025.9L363.8 1025.6L364.8 1023.8L365.8 1020.2L366.8 1015.4L367.8 1010.6L368.8 1005.5L369.8 998.6L370.8 991.0L371.8 984.0L372.8 978.9L373.8 976.9L374.8 976.2L375.8 975.7L376.8 976.4L377.8 977.1L378.8 977.7L379.8 976.9L380.8 973.7L381.8 969.2L382.8 964.2L383.8 959.0L384.8 954.7L385.8 952.2L386.8 953.0L387.8 956.5L388.8 961.0L389.8 965.8L390.8 967.4L391.8 968.3L392.8 967.9L393.8 966.2L394.8 962.7L395.8 957.8L396.8 952.9L397.8 949.6L398.8 948.5L399.8 948.3L400.8 948.1L401.8 947.8L402.8 947.5L403.8 947.1L404.8 946.5L405.8 945.6L406.8 943.1L407.8 938.7L408.8 933.2L409.8 927.9L410.8 922.4L411.8 921.3L412.8 920.2L413.8 919.4L414.8 916.9L415.8 912.8L416.8 908.8L417.8 905.2L418.8 903.7L419.8 903.4L420.8 903.7L421.8 904.2L422.8 904.8L423.8 905.8L424.8 907.1L425.8 909.6L426.8 912.8L427.8 917.9L428.8 924.5L429.8 932.0L430.8 940.1L431.8 950.3L432.8 960.4L433.8 970.1L434.8 977.9L435.8 985.4L436.8 993.3L437.8 1000.7L438.8 1007.8L439.8 1013.5L440.8 1019.0L441.8 1024.3L442.8 1029.1L443.8 1033.4L444.8 1037.4L445.8 1041.2L446.8 1045.1L447.8 1049.3L448.8 1053.7L449.8 1058.8L450.8 1064.3L451.8 1069.1L452.8 1073.1L453.8 1076.0L454.8 1077.5L455.8 1078.3L456.8 1077.1L457.8 1074.1L458.8 1070.9L459.8 1067.4L460.8 1065.9L461.8 1062.6L462.8 1057.7L463.8 1051.6L464.8 1045.2L465.8 1040.6L466.8 1038.7L467.8 1039.2L468.8 1041.0L469.8 1043.7L470.8 1048.1L471.8 1053.8L472.8 1059.6L473.8 1066.7L474.8 1072.6L475.8 1079.4L476.8 1086.6L477.8 1095.0L478.8 1104.1L479.8 1112.9L480.8 1121.8L481.8 1126.4L482.8 1130.7L483.8 1134.4L484.8 1138.1L485.8 1142.0L486.8 1145.9L487.8 1149.3L488.8 1154.3L489.8 1158.6L490.8 1162.0L491.8 1164.5L492.8 1166.3L493.8 1168.1L494.8 1169.7L495.8 1170.7L496.8 1171.4L497.8 1171.9L498.8 1171.8L499.8 1171.2L500.8 1170.7L501.8 1170.1L502.8 1169.1L503.8 1168.1L504.8 1167.1L505.8 1167.5L506.8 1169.3L507.8 1171.0L508.8 1172.8L509.8 1171.2L510.8 1169.6L511.8 1168.0L512.8 1168.6L513.8 1171.2L514.8 1174.0L515.8 1176.8L516.8 1175.0L517.8 1173.2L518.8 1171.4L519.8 1170.8L520.8 1171.3L521.8 1171.8L522.8 1172.2L523.8 1172.1L524.8 1171.3L525.8 1169.8L526.8 1168.5L527.8 1167.6L528.8 1166.7L529.8 1166.1L530.8 1164.9L531.8 1163.7L532.8 1162.6L533.8 1160.8L534.8 1158.1L535.8 1155.5L536.8 1152.8L537.8 1151.1L538.8 1149.4L539.8 1147.7L540.8 1145.2L541.8 1142.2L542.8 1139.1L543.8 1135.9L544.8 1135.2L545.8 1134.4L546.8 1133.6L547.8 1130.7L548.8 1125.7L549.8 1120.7L550.8 1115.7L551.8 1115.8L552.8 1115.8L553.8 1115.7L554.8 1114.0L555.8 1110.4L556.8 1106.6L557.8 1102.5L558.8 1097.7L559.8 1091.9L560.8 1084.7L561.8 1077.4L562.8 1070.8L563.8 1064.3L564.8 1058.3L565.8 1052.2L566.8 1047.8L567.8 1044.9L568.8 1042.6L569.8 1040.9L570.8 1039.4L571.8 1038.2L572.8 1036.4L573.8 1034.9L574.8 1033.9L575.8 1032.9L576.8 1032.0L577.8 1031.5L578.8 1031.6L579.8 1033.3L580.8 1035.5L581.8 1038.0L582.8 1040.1L583.8 1043.2L584.8 1050.4L585.8 1057.9L586.8 1065.2L587.8 1071.3L588.8 1076.9L589.8 1080.6L590.8 1082.5L591.8 1084.1L592.8 1085.5L593.8 1088.9L594.8 1092.4L595.8 1095.8L596.8 1098.5L597.8 1100.5L598.8 1102.4L599.8 1103.9L600.8 1106.4L601.8 1108.5L602.8 1110.4L603.8 1112.2L604.8 1113.9L605.8 1115.7L606.8 1117.6L607.8 1117.8L608.8 1118.3L609.8 1119.6L610.8 1122.7L611.8 1127.4L612.8 1132.5L613.8 1137.6L614.8 1140.8L615.8 1143.4L616.8 1145.1L617.8 1147.1L618.8 1150.1L619.8 1152.8L620.8 1155.3L621.8 1156.8L622.8 1158.3L623.8 1159.7L624.8 1160.7L625.8 1161.4L626.8 1162.2L627.8 1163.3L628.8 1165.2L629.8 1167.3L630.8 1169.3L631.8 1170.8L632.8 1171.6L633.8 1171.9L634.8 1171.5L635.8 1172.7L636.8 1173.9L637.8 1175.1L638.8 1175.9L639.8 1176.3L640.8 1176.7L641.8 1177.0L642.8 1176.0L643.8 1174.9L644.8 1174.0L645.8 1174.3L646.8 1175.8L647.8 1177.7L648.8 1179.8L649.8 1181.4L650.8 1182.8L651.8 1183.7L652.8 1184.0L653.8 1184.0L654.8 1184.1L655.8 1184.0L656.8 1185.4L657.8 1186.7L658.8 1187.9L659.8 1188.1L660.8 1187.0L661.8 1185.7L662.8 1183.9L663.8 1184.6L664.8 1185.0L665.8 1185.1L666.8 1184.1L667.8 1182.2L668.8 1180.2L669.8 1178.3L670.8 1175.3L671.8 1172.0L672.8 1168.3L673.8 1164.4L674.8 1160.6L675.8 1156.8L676.8 1153.0L677.8 1149.8L678.8 1147.3L679.8 1145.6L681.5 1143.6L682.6 1141.8L683.3 1140.0L683.8 1138.3L684.1 1136.5L684.4 1134.7L684.7 1133.0L685.0 1131.2L685.2 1129.4L685.5 1127.7L685.7 1125.9L685.9 1124.2L686.1 1122.4L686.4 1120.6L686.6 1118.9L686.8 1117.1L687.0 1115.3L687.2 1113.6L687.4 1111.8L687.7 1110.0L687.9 1108.3L688.1 1106.5L688.4 1104.8L688.7 1103.0L688.9 1101.2L689.2 1099.5L689.5 1097.7L689.7 1095.9L690.0 1094.2L690.3 1092.4L690.6 1090.6L690.8 1088.9L691.1 1087.1L691.4 1085.3L691.7 1083.6L691.9 1081.8L692.2 1080.1L692.5 1078.3L692.7 1076.5L693.0 1074.8L693.3 1073.0L693.5 1071.2L693.8 1069.5L694.0 1067.7L694.3 1065.9L694.5 1064.2L694.8 1062.4L695.1 1060.6L695.3 1058.9L695.5 1057.1L695.8 1055.4L696.0 1053.6L696.3 1051.8L696.5 1050.1L696.8 1048.3L697.0 1046.5L697.2 1044.8L697.5 1043.0L697.7 1041.2L698.0 1039.5L698.2 1037.7L698.4 1035.9L698.7 1034.2L698.9 1032.4L699.1 1030.7L699.4 1028.9L699.6 1027.1L699.8 1025.4L700.0 1023.6L700.3 1021.8L700.5 1020.1L700.7 1018.3L701.0 1016.5L701.2 1014.8L701.4 1013.0L701.7 1011.2L701.9 1009.5L702.1 1007.7L702.3 1006.0L702.5 1004.2L702.7 1002.4L702.9 1000.7L703.1 998.9L703.3 997.1L703.5 995.4L703.7 993.6L703.8 991.8L704.0 990.1L704.2 988.3L704.4 986.5L704.5 984.8L704.7 983.0L704.8 981.3L705.0 979.5L705.2 977.7L705.3 976.0L705.5 974.2L705.7 972.4L705.8 970.7L706.0 968.9L706.2 967.1L706.4 965.4L706.5 963.6L706.7 961.8L706.9 960.1L707.2 958.3L707.4 956.6L707.6 954.8L707.7 953.0L707.9 951.3L708.1 949.5L708.3 947.7L708.5 946.0L708.7 944.2L708.9 942.4L709.1 940.7L709.2 938.9L709.4 937.1L709.6 935.4L709.8 933.6L710.0 931.9L710.2 930.1L710.4 928.3L710.6 926.6L710.8 924.8L711.0 923.0L711.2 921.3L711.4 919.5L711.6 917.7L711.8 916.0L712.1 914.2L712.3 912.4L712.6 910.7L712.9 908.9L713.2 907.2L713.5 905.4L713.9 903.6L714.4 901.9L715.5 900.1L716.4 901.8L716.8 903.5L717.1 905.2L717.4 906.8L717.6 908.5L717.8 910.2L718.1 911.9L718.3 913.6L718.4 915.3L718.6 916.9L718.8 918.6L719.0 920.3L719.1 922.0L719.3 923.7L719.5 925.4L719.6 927.0L719.8 928.7L719.9 930.4L720.1 932.1L720.2 933.8L720.4 935.5L720.5 937.1L720.7 938.8L720.8 940.5L721.0 942.2L721.1 943.9L721.3 945.6L721.4 947.2L721.6 948.9L721.7 950.6L721.9 952.3L722.1 954.0L722.2 955.7L722.4 957.3L722.5 959.0L722.7 960.7L722.9 962.4L723.1 964.1L723.2 965.8L723.4 967.4L723.6 969.1L723.7 970.8L723.9 972.5L724.0 974.2L724.2 975.9L724.4 977.5L724.5 979.2L724.7 980.9L724.8 982.6L725.0 984.3L725.1 986.0L725.3 987.6L725.4 989.3L725.6 991.0L725.7 992.7L725.9 994.4L726.0 996.1L726.1 997.7L726.3 999.4L726.4 1001.1L726.6 1002.8L726.7 1004.5L726.9 1006.2L727.0 1007.8L727.2 1009.5L727.3 1011.2L727.4 1012.9L727.6 1014.6L727.7 1016.3L727.9 1017.9L728.0 1019.6L728.1 1021.3L728.3 1023.0L728.4 1024.7L728.6 1026.4L728.7 1028.0L728.8 1029.7L729.0 1031.4L729.1 1033.1L729.3 1034.8L729.4 1036.5L729.6 1038.1L729.7 1039.8L729.8 1041.5L730.0 1043.2L730.1 1044.9L730.3 1046.6L730.4 1048.2L730.6 1049.9L730.7 1051.6L730.8 1053.3L731.0 1055.0L731.1 1056.7L731.3 1058.3L731.4 1060.0L731.5 1061.7L731.7 1063.4L731.8 1065.1L732.0 1066.8L732.1 1068.4L732.2 1070.1L732.4 1071.8L732.5 1073.5L732.7 1075.2L732.8 1076.9L732.9 1078.5L733.1 1080.2L733.2 1081.9L733.4 1083.6L733.5 1085.3L733.6 1087.0L733.8 1088.6L733.9 1090.3L734.0 1092.0L734.2 1093.7L734.3 1095.4L734.5 1097.1L734.6 1098.8L734.7 1100.4L734.9 1102.1L735.0 1103.8L735.1 1105.5L735.2 1107.2L735.3 1108.9L735.4 1110.5L735.5 1112.2L735.6 1113.9L735.7 1115.6L735.8 1117.3L735.9 1119.0L736.0 1120.6L736.2 1122.3L736.3 1124.0L736.4 1125.7L736.6 1127.4L736.9 1129.1L737.8 1130.7L739.2 1132.4L742.0 1134.1L743.8 1134.9L744.8 1135.3L745.8 1135.6L746.8 1136.0L747.8 1137.2L748.8 1138.5L749.8 1139.7L750.8 1140.2L751.8 1139.8L752.8 1139.5L753.8 1139.3L754.8 1141.9L755.8 1144.6L756.8 1147.6L757.8 1149.9L758.8 1151.5L759.8 1153.1L760.8 1154.5L761.8 1155.0L762.8 1155.5L763.8 1156.0L764.8 1157.4L765.8 1159.7L766.8 1161.9L767.8 1163.9L768.8 1164.4L769.8 1164.7L770.8 1164.7L771.8 1164.7L772.8 1164.5L773.8 1164.3L774.8 1164.2L775.8 1164.7L776.8 1165.2L777.8 1165.7L778.8 1166.1L779.8 1166.4L780.8 1166.7L781.8 1166.9L782.8 1165.9L783.8 1164.7L784.8 1163.6L785.8 1163.2L786.8 1163.6L787.8 1164.0L788.8 1164.3L789.8 1164.0L790.8 1163.6L791.8 1163.2L792.8 1162.5L793.8 1159.5L794.8 1154.1L795.8 1147.0L796.8 1138.7L797.8 1130.4L798.8 1122.9L799.8 1116.2L800.8 1110.1L801.8 1103.8L802.8 1097.3L803.8 1086.9L804.8 1076.5L805.8 1066.0L806.8 1057.2L807.8 1049.8L808.8 1042.4L809.8 1035.2L810.8 1027.5L811.8 1020.5L812.8 1012.9L813.8 1005.8L814.8 1000.5L815.8 998.1L816.8 998.9L817.8 996.7L818.8 994.6L819.8 992.5L820.8 991.9L821.8 992.6L822.8 993.3L823.8 994.7L824.8 997.0L825.8 1000.1L826.8 1003.9L827.8 1008.5L828.8 1013.7L829.8 1018.9L830.8 1024.1L831.8 1029.4L832.8 1035.5L833.8 1041.7L834.8 1047.4L835.8 1051.8L836.8 1055.0L837.8 1058.0L838.8 1062.2L839.8 1065.6L840.8 1067.8L841.8 1067.5L842.8 1065.0L843.8 1061.3L844.8 1056.9L845.8 1051.8L846.8 1046.7L847.8 1041.7L848.8 1035.9L849.8 1029.3L850.8 1022.4L851.8 1015.3L852.8 1009.2L853.8 1003.1L854.8 996.4L855.8 989.5L856.8 983.2L857.8 978.1L858.8 975.0L859.8 974.5L860.8 974.3L861.8 974.9L862.8 974.3L863.8 972.1L864.8 970.3L865.8 968.9L866.8 970.7L867.8 975.8L868.8 992.0L869.8 1009.4L870.8 1021.2L871.8 1031.8L872.8 1041.8L873.8 1051.5L874.8 1060.9L875.8 1070.2L876.8 1079.9L877.8 1089.8L878.8 1099.4L879.8 1108.3L880.8 1114.2L881.8 1118.9L882.8 1123.0L883.8 1127.6L884.8 1132.6L885.8 1137.3L886.8 1141.8L887.8 1147.7L888.8 1153.6L889.8 1159.3L890.8 1163.4L891.8 1165.6L892.8 1166.7L893.8 1167.1L894.8 1168.9L895.8 1170.4L896.8 1172.1L897.8 1172.6L898.8 1172.3L899.8 1172.8L900.8 1173.9L901.8 1176.5L902.8 1179.3L903.8 1182.3L904.8 1185.8L905.8 1189.7L906.8 1193.4L907.8 1197.2L908.8 1200.2L909.8 1203.1L910.8 1205.8L911.8 1209.1L912.8 1212.9L913.8 1216.6L914.8 1220.4L915.8 1221.9L916.8 1223.3L917.8 1224.6L918.8 1226.6L919.8 1229.2L920.8 1231.5L921.8 1233.6L922.8 1235.5L923.8 1237.3L924.8 1239.1L925.8 1240.3L926.8 1240.8L927.8 1241.1L928.8 1241.2L929.8 1241.1L930.8 1240.6L931.8 1239.7L932.8 1238.7L933.8 1237.7L934.8 1236.9L935.8 1236.2L936.8 1236.3L937.8 1236.9L938.8 1237.9L939.8 1239.1L940.8 1240.4L941.8 1241.8L942.8 1243.1L943.8 1242.7L944.8 1242.3L945.8 1241.9L946.8 1241.9L947.8 1242.0L948.8 1241.5L949.8 1240.5L950.8 1241.5L951.8 1242.5L952.8 1243.6L953.8 1242.8L954.8 1240.0L955.8 1237.1L956.8 1234.3L957.8 1234.7L958.8 1235.2L959.8 1235.7L960.8 1235.7L961.8 1235.2L962.8 1235.0L963.8 1235.3L964.8 1237.9L965.8 1240.8L966.8 1243.8L967.8 1245.8L968.8 1246.6L969.8 1247.4L970.8 1248.0L971.8 1250.4L972.8 1252.8L973.8 1255.4L974.8 1257.8L975.8 1260.0L976.8 1262.7L977.8 1265.9L978.8 1268.0L979.8 1270.4L980.8 1272.8L981.8 1276.4L982.8 1281.4L983.8 1286.6L984.8 1291.8L985.8 1294.9L986.8 1298.6L987.8 1302.6L988.8 1307.2L989.8 1311.8L990.8 1314.6L991.8 1316.1L992.8 1317.5L993.8 1318.8L994.8 1320.0L995.8 1320.6L996.8 1320.8L997.8 1321.1L998.8 1322.6L999.8 1325.6L1000.8 1329.1L1001.8 1332.3L1002.8 1334.2L1003.8 1334.2L1004.8 1333.9L1005.8 1333.5L1006.8 1332.8L1007.8 1331.9L1008.8 1330.7" stroke="#0a0ade"/>
</g>
<line x1="312.3" y1="986.4" x2="329.3" y2="1004.5" stroke="#111" stroke-width="2.3"/>
<line x1="424.5" y1="896.7" x2="447.3" y2="875.5" stroke="#111" stroke-width="2.3"/>
<line x1="586.4" y1="996.9" x2="577.8" y2="1017.8" stroke="#111" stroke-width="2.3"/>
<line x1="807.1" y1="955.3" x2="816.2" y2="981.1" stroke="#111" stroke-width="2.3"/>
<line x1="289.0" y1="1286.8" x2="279.2" y2="1388.0" stroke="#111" stroke-width="2.3"/>
<line x1="403.2" y1="1384.5" x2="402.7" y2="1411.8" stroke="#111" stroke-width="2.3"/>
<line x1="715.8" y1="1179.6" x2="725.6" y2="1406.0" stroke="#111" stroke-width="2.3"/>
<line x1="858.8" y1="1289.0" x2="858.8" y2="1380.5" stroke="#111" stroke-width="2.3"/>
<rect x="95.80" y="828.30" width="913.50" height="637.30" fill="none" stroke="#1e1e1e" stroke-width="3.00"/>
<line x1="95.80" y1="828.30" x2="95.80" y2="838.30" stroke="#1e1e1e" stroke-width="3.00"/>
<line x1="95.80" y1="1465.60" x2="95.80" y2="1475.60" stroke="#1e1e1e" stroke-width="3.00"/>
<line x1="171.93" y1="828.30" x2="171.93" y2="833.30" stroke="#1e1e1e" stroke-width="3.00"/>
<line x1="171.93" y1="1465.60" x2="171.93" y2="1470.60" stroke="#1e1e1e" stroke-width="3.00"/>
<line x1="248.05" y1="828.30" x2="248.05" y2="838.30" stroke="#1e1e1e" stroke-width="3.00"/>
<line x1="248.05" y1="1465.60" x2="248.05" y2="1475.60" stroke="#1e1e1e" stroke-width="3.00"/>
<line x1="324.18" y1="828.30" x2="324.18" y2="833.30" stroke="#1e1e1e" stroke-width="3.00"/>
<line x1="324.18" y1="1465.60" x2="324.18" y2="1470.60" stroke="#1e1e1e" stroke-width="3.00"/>
<line x1="400.30" y1="828.30" x2="400.30" y2="838.30" stroke="#1e1e1e" stroke-width="3.00"/>
<line x1="400.30" y1="1465.60" x2="400.30" y2="1475.60" stroke="#1e1e1e" stroke-width="3.00"/>
<line x1="476.43" y1="828.30" x2="476.43" y2="833.30" stroke="#1e1e1e" stroke-width="3.00"/>
<line x1="476.43" y1="1465.60" x2="476.43" y2="1470.60" stroke="#1e1e1e" stroke-width="3.00"/>
<line x1="552.55" y1="828.30" x2="552.55" y2="838.30" stroke="#1e1e1e" stroke-width="3.00"/>
<line x1="552.55" y1="1465.60" x2="552.55" y2="1475.60" stroke="#1e1e1e" stroke-width="3.00"/>
<line x1="628.67" y1="828.30" x2="628.67" y2="833.30" stroke="#1e1e1e" stroke-width="3.00"/>
<line x1="628.67" y1="1465.60" x2="628.67" y2="1470.60" stroke="#1e1e1e" stroke-width="3.00"/>
<line x1="704.80" y1="828.30" x2="704.80" y2="838.30" stroke="#1e1e1e" stroke-width="3.00"/>
<line x1="704.80" y1="1465.60" x2="704.80" y2="1475.60" stroke="#1e1e1e" stroke-width="3.00"/>
<line x1="780.92" y1="828.30" x2="780.92" y2="833.30" stroke="#1e1e1e" stroke-width="3.00"/>
<line x1="780.92" y1="1465.60" x2="780.92" y2="1470.60" stroke="#1e1e1e" stroke-width="3.00"/>
<line x1="857.05" y1="828.30" x2="857.05" y2="838.30" stroke="#1e1e1e" stroke-width="3.00"/>
<line x1="857.05" y1="1465.60" x2="857.05" y2="1475.60" stroke="#1e1e1e" stroke-width="3.00"/>
<line x1="933.17" y1="828.30" x2="933.17" y2="833.30" stroke="#1e1e1e" stroke-width="3.00"/>
<line x1="933.17" y1="1465.60" x2="933.17" y2="1470.60" stroke="#1e1e1e" stroke-width="3.00"/>
<line x1="1009.30" y1="828.30" x2="1009.30" y2="838.30" stroke="#1e1e1e" stroke-width="3.00"/>
<line x1="1009.30" y1="1465.60" x2="1009.30" y2="1475.60" stroke="#1e1e1e" stroke-width="3.00"/>
<text x="63.62" y="1505.91" font-size="28.60" font-weight="bold" fill="#000">1800</text>
<text x="215.88" y="1505.91" font-size="28.60" font-weight="bold" fill="#000">1700</text>
<text x="368.12" y="1505.91" font-size="28.60" font-weight="bold" fill="#000">1600</text>
<text x="520.38" y="1505.91" font-size="28.60" font-weight="bold" fill="#000">1500</text>
<text x="672.62" y="1505.91" font-size="28.60" font-weight="bold" fill="#000">1400</text>
<text x="824.88" y="1505.91" font-size="28.60" font-weight="bold" fill="#000">1300</text>
<text x="977.12" y="1505.91" font-size="28.60" font-weight="bold" fill="#000">1200</text>
<text x="406.16" y="1568.50" font-size="35.50" fill="#111">Raman shift (cm<tspan font-size="23.07" dy="-16.33" dx="1">-</tspan><tspan font-size="23.07" dx="2.13">1</tspan><tspan dy="16.33" dx="0.90">)</tspan></text>
<text transform="translate(48.40 1307.14) rotate(-90)" font-size="35.50" fill="#111">Normalized intensity</text>
<text x="233.30" y="982.95" font-size="35.00" fill="#111">1640</text>
<text x="443.00" y="873.85" font-size="35.00" fill="#111">1585</text>
<text x="582.20" y="994.05" font-size="35.00" fill="#111">1485</text>
<text x="734.60" y="946.95" font-size="35.00" fill="#111">1325</text>
<text x="223.10" y="1423.15" font-size="35.00" fill="#111">1670</text>
<text x="356.10" y="1446.95" font-size="35.00" fill="#111">1600</text>
<text x="684.90" y="1443.65" font-size="35.00" fill="#111">1390</text>
<text x="820.10" y="1413.05" font-size="35.00" fill="#111">1300</text>
<text x="460.96" y="1047.08" font-size="42.00" fill="#111">*</text>
<text x="931.27" y="1223.26" font-size="34.50" font-weight="bold" fill="#1a1ad8">(12)</text>
<text x="941.98" y="1452.56" font-size="34.50" font-weight="bold" fill="#000">(1)</text>
<text x="120.58" y="889.83" font-size="43.20" font-weight="bold" fill="#000">b)</text>
</g>
</svg>
</body></html>
